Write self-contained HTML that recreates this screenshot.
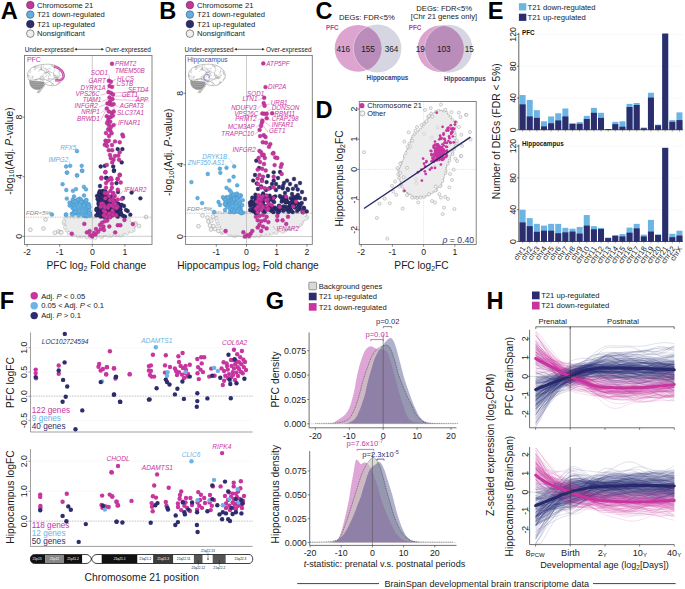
<!DOCTYPE html>
<html><head><meta charset="utf-8"><style>
html,body{margin:0;padding:0;background:#fff;}
g.h polyline{vector-effect:non-scaling-stroke;}
svg{display:block;font-family:"Liberation Sans", sans-serif;}
</style></head><body>
<svg width="685" height="589" viewBox="0 0 685 589" fill="#1a1a1a">
<rect width="685" height="589" fill="#fff"/>
<!--A-->
<text x="0.7" y="18.5" font-size="23.6" font-weight="bold" fill="#000">A</text>
<circle cx="30.3" cy="5.1" r="3.8" fill="#c8359f" stroke="#4a2a44" stroke-width="0.55"/>
<text x="36.9" y="7.85" font-size="7.65">Chromosome 21</text>
<circle cx="30.3" cy="14.6" r="3.8" fill="#62b0e2" stroke="#3a4a5a" stroke-width="0.55"/>
<text x="36.9" y="17.35" font-size="7.65">T21 down-regulated</text>
<circle cx="30.3" cy="24.1" r="3.8" fill="#2c2d6c" stroke="#1a1a3a" stroke-width="0.55"/>
<text x="36.9" y="26.85" font-size="7.65">T21 up-regulated</text>
<circle cx="30.3" cy="33.6" r="3.8" fill="#efefef" stroke="#333" stroke-width="0.55"/>
<text x="36.9" y="36.35" font-size="7.65">Nonsignificant</text>
<text x="24.7" y="51.6" font-size="6.4">Under-expressed</text>
<line x1="75.5" y1="49.3" x2="102.8" y2="49.3" stroke="#222" stroke-width="0.6"/>
<polygon points="74.3,49.3 76.9,48 76.9,50.6" fill="#222"/>
<polygon points="104,49.3 101.4,48 101.4,50.6" fill="#222"/>
<text x="150.8" y="51.6" font-size="6.4" text-anchor="end">Over-expressed</text>
<g transform="translate(27 64.2)">
<path d="M15.6 19.2 L18.4 20.4 L12.2 28.8 L9.9 28.4 Z" fill="#c4c4c4" stroke="#8a8a8a" stroke-width="0.3"/>
<path d="M2.7 16.4 C2 21 5 25.5 10 25.2 C14 25 17 22 17.3 18 C12 17.2 6.5 17 2.7 16.4 Z" fill="#a4a4a4" stroke="#747474" stroke-width="0.4"/>
<path d="M3.6 18.6 C8 19.6 12 19.6 16.6 19 M4 20.6 C8 21.6 12 21.6 16 21 M5 22.6 C8.5 23.5 11.5 23.4 14.8 22.8 M6.8 24.3 C9 24.8 11 24.7 13 24.2" fill="none" stroke="#707070" stroke-width="0.35"/>
<clipPath id="bc27"><path d="M2.7 16.4 C0.4 14 -0.3 10 1.5 7 C4 2.5 11 0 21 0 C29 0 36 4 37.2 10 C37.8 13.5 36.5 15.5 35 16.2 C33 19 30 21.5 27.6 21.4 C24 21.6 21.5 21 20 20.6 C18.5 19.5 17.5 18.5 17 18 C12 17 6 17 2.7 16.4 Z"/></clipPath>
<path d="M2.7 16.4 C0.4 14 -0.3 10 1.5 7 C4 2.5 11 0 21 0 C29 0 36 4 37.2 10 C37.8 13.5 36.5 15.5 35 16.2 C33 19 30 21.5 27.6 21.4 C24 21.6 21.5 21 20 20.6 C18.5 19.5 17.5 18.5 17 18 C12 17 6 17 2.7 16.4 Z" fill="#fff"/>
<g clip-path="url(#bc27)" fill="none" stroke="#8c8c8c" stroke-width="0.33">
<path d="M24.0 1.0 Q25.3 1.4 25.8 1.3 Q25.5 2.0 26.5 3.0 Q27.0 3.0 28.3 3.0"/>
<path d="M2.0 4.4 Q1.0 5.3 1.0 5.9 Q-0.7 6.6 -0.8 6.3 Q-1.9 5.6 -2.5 5.9"/>
<path d="M35.5 7.1 Q36.7 6.7 36.9 5.9 Q38.1 6.0 38.7 6.0 Q38.8 7.0 39.3 7.7"/>
<path d="M30.9 12.6 Q30.3 12.1 29.1 13.0 Q28.2 13.0 28.0 14.4 Q27.3 15.0 28.0 16.2"/>
<path d="M23.9 7.6 Q24.3 8.7 25.5 8.4 Q26.3 8.6 26.7 9.7 Q26.4 10.4 27.1 11.5"/>
<path d="M36.6 13.0 Q36.6 14.2 35.6 14.4 Q34.9 15.0 35.6 16.2 Q35.7 17.7 36.6 17.7"/>
<path d="M32.5 6.6 Q33.0 7.4 32.1 8.4 Q32.0 9.3 32.7 10.1 Q33.5 11.3 34.1 11.2"/>
<path d="M15.4 4.8 Q13.8 4.0 13.6 4.8 Q13.2 5.9 12.5 6.2 Q11.4 6.8 11.7 7.8"/>
<path d="M36.9 10.8 Q35.4 10.5 35.6 9.6 Q35.3 8.3 34.9 7.9 Q34.3 6.9 34.9 6.1"/>
<path d="M17.3 19.1 Q16.8 19.3 16.3 20.6 Q16.0 20.2 14.5 20.5 Q13.8 19.6 12.8 19.9"/>
<path d="M28.5 11.0 Q26.9 11.3 27.0 12.1 Q27.9 13.6 27.4 13.8 Q26.5 13.9 26.4 15.3"/>
<path d="M32.6 19.0 Q32.8 19.6 34.4 19.4 Q34.3 20.0 35.5 20.8 Q35.6 22.1 36.5 22.3"/>
<path d="M16.2 4.6 Q15.2 5.0 15.1 6.0 Q14.5 5.7 13.4 5.5 Q11.9 4.8 11.7 4.9"/>
<path d="M13.2 12.0 Q13.4 12.2 15.0 12.1 Q16.4 12.1 16.5 11.0 Q16.0 10.4 16.3 9.3"/>
<path d="M8.7 3.1 Q7.8 3.6 6.9 3.1 Q5.7 1.9 5.5 2.0 Q4.6 1.5 4.0 1.1"/>
<path d="M27.2 13.6 Q26.6 14.1 26.3 15.2 Q25.0 14.8 24.5 15.4 Q23.5 15.3 22.8 15.9"/>
<path d="M10.0 18.5 Q9.5 18.5 8.9 19.9 Q8.5 20.4 7.1 19.3 Q7.5 17.9 6.7 17.6"/>
<path d="M18.5 4.7 Q19.2 5.6 20.2 5.0 Q21.5 4.6 21.9 4.4 Q23.4 4.7 23.5 3.4"/>
<path d="M21.0 14.5 Q22.7 14.6 22.8 14.5 Q24.1 13.9 24.6 14.7 Q25.5 15.5 26.3 15.2"/>
<path d="M6.7 19.2 Q7.6 19.1 8.2 18.4 Q8.0 18.2 9.0 16.7 Q9.0 16.0 8.7 15.0"/>
<path d="M16.1 11.9 Q14.8 12.6 14.5 12.7 Q13.9 13.7 13.6 14.3 Q13.3 15.6 13.6 16.1"/>
<path d="M3.6 9.4 Q2.6 8.1 2.9 7.8 Q2.9 7.9 1.5 6.7 Q1.2 5.3 1.4 4.9"/>
<path d="M31.0 14.2 Q30.4 13.5 29.2 14.3 Q28.2 14.0 27.9 13.1 Q27.4 11.6 28.2 11.4"/>
<path d="M4.9 11.3 Q5.6 11.6 5.7 12.9 Q5.4 13.8 5.9 14.7 Q5.8 14.6 4.6 15.9"/>
<path d="M16.2 5.9 Q17.2 6.1 17.7 7.0 Q18.0 7.7 18.3 8.7 Q18.5 9.4 20.0 8.8"/>
<path d="M33.5 11.1 Q32.1 10.8 31.8 11.7 Q31.8 12.8 30.6 13.0 Q30.3 12.4 28.8 12.8"/>
<path d="M10.0 2.5 Q9.0 2.5 8.2 2.1 Q8.2 3.2 6.7 3.1 Q6.5 3.3 5.2 2.2"/>
<path d="M1.9 14.9 Q1.9 16.2 1.0 16.4 Q-0.2 17.2 -0.7 17.0 Q-0.4 18.4 -1.2 18.7"/>
<path d="M9.0 16.4 Q10.0 16.7 10.0 17.9 Q10.4 17.5 11.8 17.6 Q13.2 17.9 13.2 18.8"/>
<path d="M24.1 8.3 Q23.9 7.7 22.3 8.2 Q21.4 8.2 21.6 6.6 Q20.2 6.0 20.1 5.6"/>
<path d="M27.2 6.6 Q26.7 7.6 26.6 8.3 Q27.1 8.4 27.0 10.1 Q26.4 11.0 25.7 11.3"/>
<path d="M27.7 13.6 Q28.9 13.4 29.5 13.8 Q30.9 13.8 31.2 13.2 Q31.5 12.4 32.4 11.9"/>
<path d="M15.5 6.3 Q17.1 6.7 17.2 6.6 Q17.8 7.2 17.9 8.3 Q17.4 8.8 18.4 10.0"/>
<path d="M16.5 11.8 Q16.0 12.2 15.8 13.5 Q16.1 14.8 15.2 15.2 Q14.9 16.0 16.0 16.8"/>
<path d="M23.8 7.0 Q23.2 6.6 22.0 7.0 Q20.5 7.1 20.6 8.1 Q20.5 8.1 19.3 9.4"/>
<path d="M15.9 12.8 Q16.3 13.2 16.8 14.4 Q16.1 15.7 17.0 16.2 Q15.9 16.8 16.1 17.7"/>
<path d="M7.3 19.2 Q7.7 20.2 8.9 20.1 Q10.2 20.8 10.5 20.9 Q10.6 22.5 10.4 22.7"/>
<path d="M33.1 12.4 Q33.0 13.2 31.9 13.8 Q31.4 13.7 30.1 13.7 Q28.9 14.3 28.6 14.5"/>
<path d="M28.6 10.7 Q28.0 11.2 28.8 12.4 Q29.1 13.2 30.0 13.8 Q30.4 14.2 31.8 13.9"/>
<path d="M26.4 1.8 Q26.5 2.2 26.8 3.5 Q27.8 4.5 27.4 5.2 Q27.9 6.5 27.3 7.0"/>
<path d="M14.7 0.6 Q15.1 2.2 14.4 2.4 Q14.9 3.4 14.5 4.2 Q13.9 4.6 14.2 6.0"/>
<path d="M16.7 1.1 Q16.6 1.4 16.8 2.9 Q16.4 3.9 17.1 4.6 Q17.8 5.0 18.9 5.1"/>
<path d="M2.0 13.0 Q2.1 13.1 3.7 13.6 Q4.2 13.7 5.4 13.0 Q6.5 13.0 6.8 11.9"/>
<path d="M10.1 2.1 Q11.8 2.0 11.9 2.4 Q13.1 3.1 13.4 3.3 Q14.5 3.6 14.2 4.9"/>
<path d="M1.7 3.5 Q2.5 3.7 3.0 4.8 Q3.7 5.1 3.5 6.5 Q3.9 6.8 3.6 8.3"/>
<path d="M30.5 19.3 Q30.8 19.0 31.8 18.0 Q32.4 18.6 33.5 18.6 Q34.5 18.2 34.8 17.4"/>
<path d="M4.7 15.6 Q3.2 16.5 2.9 16.0 Q1.9 15.5 1.3 15.2 Q0.4 14.8 -0.5 14.9"/>
<path d="M31.6 16.5 Q31.9 18.0 31.8 18.3 Q31.4 19.5 31.2 20.0 Q29.9 20.6 29.4 20.2"/>
<path d="M20.4 9.9 Q19.7 11.3 19.8 11.6 Q18.3 12.6 18.1 12.4 Q17.6 13.3 17.2 13.9"/>
<path d="M14.6 1.1 Q13.9 2.4 14.0 2.8 Q14.7 4.0 14.1 4.6 Q13.8 6.0 15.1 6.1"/>
<path d="M4.1 14.5 Q3.9 15.5 3.1 16.0 Q3.1 16.2 2.1 17.6 Q2.5 18.2 2.3 19.4"/>
<path d="M21.9 9.7 Q22.4 10.4 22.1 11.5 Q21.4 12.0 21.4 13.2 Q21.3 13.4 22.2 14.8"/>
<path d="M20.3 15.4 Q21.2 15.6 22.1 15.2 Q22.6 15.6 23.0 16.7 Q23.4 16.4 24.8 16.9"/>
<path d="M7.5 0.8 Q8.6 1.7 8.2 2.4 Q7.6 3.9 8.1 4.2 Q8.7 5.2 8.1 6.0"/>
<path d="M17.9 9.1 Q19.4 8.6 19.5 8.2 Q20.2 7.8 21.2 8.7 Q21.2 8.7 22.7 9.7"/>
<path d="M21.3 6.4 Q21.2 7.3 20.2 7.9 Q18.9 8.1 18.4 8.3 Q17.5 9.2 16.8 8.9"/>
<path d="M36.6 6.5 Q36.5 7.9 35.6 7.9 Q35.2 9.1 35.7 9.7 Q35.8 9.6 37.1 10.8"/>
<path d="M1.1 9.3 Q0.9 10.5 1.5 11.0 Q1.1 12.2 1.0 12.8 Q0.6 13.2 -0.8 13.3"/>
<path d="M24.8 18.7 Q25.2 20.3 25.0 20.5 Q23.8 20.7 23.9 21.9 Q24.2 22.9 23.6 23.7"/>
<path d="M11.4 2.9 Q11.3 3.4 9.8 3.8 Q8.4 3.5 8.2 4.7 Q7.3 4.8 6.8 5.8"/>
<path d="M4.3 19.3 Q4.2 20.4 2.6 19.9 Q1.3 19.0 0.8 19.7 Q0.1 19.4 -0.6 18.6"/>
<path d="M34.0 4.0 Q33.5 4.1 33.0 5.5 Q32.5 6.7 32.6 7.3 Q31.5 8.0 31.0 8.1"/>
<path d="M11.4 18.9 Q10.5 19.0 9.8 19.7 Q10.0 20.3 8.6 21.1 Q8.8 22.1 7.5 22.5"/>
<path d="M20.5 8.6 Q21.8 9.0 22.3 9.0 Q22.4 9.8 23.4 10.4 Q23.0 11.6 22.8 12.1"/>
<path d="M5.4 19.5 Q5.1 20.4 5.9 21.2 Q5.4 22.9 6.2 23.0 Q5.4 23.0 4.8 24.2"/>
<path d="M31.0 10.2 Q30.0 11.4 29.8 11.6 Q28.5 11.4 28.1 11.1 Q27.8 11.1 26.3 11.1"/>
<path d="M32.7 17.3 Q32.5 18.9 32.7 19.1 Q33.2 19.7 32.6 20.9 Q33.2 22.5 33.5 22.6"/>
<path d="M18.6 3.4 Q18.9 4.3 19.1 5.1 Q19.1 5.5 19.7 6.8 Q19.7 7.3 19.5 8.6"/>
<path d="M28.9 1.4 Q28.6 1.4 27.2 1.9 Q26.8 2.6 25.4 1.8 Q23.8 1.7 23.6 1.6"/>
<path d="M22.2 17.5 Q21.5 17.9 20.7 18.4 Q19.7 18.6 18.9 18.4 Q18.3 19.8 17.7 19.7"/>
<path d="M13.2 14.0 Q12.9 14.8 11.4 14.5 Q10.4 15.3 9.9 15.4 Q9.6 14.6 8.1 15.3"/>
<path d="M3.5 12.8 Q3.3 12.0 2.4 11.3 Q1.7 12.0 0.6 11.4 Q0.0 12.2 -1.2 11.7"/>
<path d="M2.7 16.0 Q2.8 16.6 4.1 17.1 Q5.2 17.2 5.4 18.3 Q6.9 18.3 7.2 17.9"/>
<path d="M9.7 18.3 Q10.1 18.2 11.4 18.9 Q12.5 18.9 12.6 17.6 Q12.9 17.2 14.2 16.9"/>
<path d="M13.4 12.0 Q12.8 13.4 13.0 13.7 Q13.2 14.5 13.8 15.3 Q14.7 15.8 15.4 16.1"/>
<path d="M6 16 C12 14 19 13.5 27 20.5" stroke="#777" stroke-width="0.45"/>
</g>
<path d="M2.7 16.4 C0.4 14 -0.3 10 1.5 7 C4 2.5 11 0 21 0 C29 0 36 4 37.2 10 C37.8 13.5 36.5 15.5 35 16.2 C33 19 30 21.5 27.6 21.4 C24 21.6 21.5 21 20 20.6 C18.5 19.5 17.5 18.5 17 18 C12 17 6 17 2.7 16.4 Z" fill="none" stroke="#7a7a7a" stroke-width="0.45"/>
<path d="M27 2.2 C33 3.6 37.2 8.2 36.4 12.6 C35.7 15.6 32 16.4 28.2 16" fill="none" stroke="#c8359f" stroke-width="2.4"/>
<path d="M27.2 2.3 C33 3.7 37.1 8.3 36.3 12.6 C35.6 15.5 32 16.3 28.2 16" fill="none" stroke="#eaa6d8" stroke-width="0.8"/>
</g>
<text x="26.9" y="61.92" font-size="7" fill="#c8359f">PFC</text>
<g>
<polygon points="65.3,218.4 119.1,217.6 128.3,219.9 136.2,225.2 133.6,230.4 121.8,234.4 99.4,236.4 92.2,237.9 83.7,236.4 71.8,234.4 65.9,229.1 64.6,222.6" fill="#ebebeb" stroke="#9a9a9a" stroke-width="0.5"/>
<circle cx="30.4" cy="229.7" r="1.9" fill="#f2f2f2" stroke="#8a8a8a" stroke-width="0.45"/>
<circle cx="43.5" cy="228.5" r="1.9" fill="#f2f2f2" stroke="#8a8a8a" stroke-width="0.45"/>
<circle cx="45.6" cy="219.6" r="1.9" fill="#f2f2f2" stroke="#8a8a8a" stroke-width="0.45"/>
<circle cx="54.9" cy="232.7" r="1.9" fill="#f2f2f2" stroke="#8a8a8a" stroke-width="0.45"/>
<circle cx="58.4" cy="231.5" r="1.9" fill="#f2f2f2" stroke="#8a8a8a" stroke-width="0.45"/>
<circle cx="60.7" cy="232.2" r="1.9" fill="#f2f2f2" stroke="#8a8a8a" stroke-width="0.45"/>
<circle cx="146.1" cy="217" r="1.9" fill="#f2f2f2" stroke="#8a8a8a" stroke-width="0.45"/>
<circle cx="61.3" cy="232.4" r="1.9" fill="#f2f2f2" stroke="#8a8a8a" stroke-width="0.45"/>
<circle cx="133.2" cy="225.7" r="1.9" fill="#f2f2f2" stroke="#8a8a8a" stroke-width="0.45"/>
<circle cx="135.5" cy="223.4" r="1.9" fill="#f2f2f2" stroke="#8a8a8a" stroke-width="0.45"/>
<circle cx="139" cy="226" r="1.9" fill="#f2f2f2" stroke="#8a8a8a" stroke-width="0.45"/>
<circle cx="68" cy="226" r="1.9" fill="#f2f2f2" stroke="#8a8a8a" stroke-width="0.45"/>
<circle cx="70" cy="230" r="1.9" fill="#f2f2f2" stroke="#8a8a8a" stroke-width="0.45"/>
<circle cx="65.63" cy="218.56" r="1.9" fill="#ececec" stroke="#a0a0a0" stroke-width="0.35"/>
<circle cx="68.76" cy="218.19" r="1.9" fill="#ececec" stroke="#a0a0a0" stroke-width="0.35"/>
<circle cx="72.03" cy="217.74" r="1.9" fill="#ececec" stroke="#a0a0a0" stroke-width="0.35"/>
<circle cx="75.96" cy="217.74" r="1.9" fill="#ececec" stroke="#a0a0a0" stroke-width="0.35"/>
<circle cx="80.5" cy="217.73" r="1.9" fill="#ececec" stroke="#a0a0a0" stroke-width="0.35"/>
<circle cx="82.87" cy="218.68" r="1.9" fill="#ececec" stroke="#a0a0a0" stroke-width="0.35"/>
<circle cx="87.05" cy="218.64" r="1.9" fill="#ececec" stroke="#a0a0a0" stroke-width="0.35"/>
<circle cx="89.37" cy="217.8" r="1.9" fill="#ececec" stroke="#a0a0a0" stroke-width="0.35"/>
<circle cx="91.87" cy="217.76" r="1.9" fill="#ececec" stroke="#a0a0a0" stroke-width="0.35"/>
<circle cx="97.6" cy="218.01" r="1.9" fill="#ececec" stroke="#a0a0a0" stroke-width="0.35"/>
<circle cx="100.67" cy="217.93" r="1.9" fill="#ececec" stroke="#a0a0a0" stroke-width="0.35"/>
<circle cx="101.59" cy="217.49" r="1.9" fill="#ececec" stroke="#a0a0a0" stroke-width="0.35"/>
<circle cx="107.62" cy="217.54" r="1.9" fill="#ececec" stroke="#a0a0a0" stroke-width="0.35"/>
<circle cx="110.71" cy="217.48" r="1.9" fill="#ececec" stroke="#a0a0a0" stroke-width="0.35"/>
<circle cx="115.16" cy="217.35" r="1.9" fill="#ececec" stroke="#a0a0a0" stroke-width="0.35"/>
<circle cx="117.51" cy="218.07" r="1.9" fill="#ececec" stroke="#a0a0a0" stroke-width="0.35"/>
<circle cx="121.92" cy="219.02" r="1.9" fill="#ececec" stroke="#a0a0a0" stroke-width="0.35"/>
<circle cx="123.91" cy="219.19" r="1.9" fill="#ececec" stroke="#a0a0a0" stroke-width="0.35"/>
<circle cx="128.68" cy="219.75" r="1.9" fill="#ececec" stroke="#a0a0a0" stroke-width="0.35"/>
<circle cx="135.11" cy="224.41" r="1.9" fill="#ececec" stroke="#a0a0a0" stroke-width="0.35"/>
<circle cx="133.43" cy="229.99" r="1.9" fill="#ececec" stroke="#a0a0a0" stroke-width="0.35"/>
<circle cx="131.19" cy="231.14" r="1.9" fill="#ececec" stroke="#a0a0a0" stroke-width="0.35"/>
<circle cx="126.87" cy="232.82" r="1.9" fill="#ececec" stroke="#a0a0a0" stroke-width="0.35"/>
<circle cx="122.22" cy="234.19" r="1.9" fill="#ececec" stroke="#a0a0a0" stroke-width="0.35"/>
<circle cx="120.32" cy="234.97" r="1.9" fill="#ececec" stroke="#a0a0a0" stroke-width="0.35"/>
<circle cx="117.31" cy="234.97" r="1.9" fill="#ececec" stroke="#a0a0a0" stroke-width="0.35"/>
<circle cx="115.07" cy="234.58" r="1.9" fill="#ececec" stroke="#a0a0a0" stroke-width="0.35"/>
<circle cx="110.92" cy="235.61" r="1.9" fill="#ececec" stroke="#a0a0a0" stroke-width="0.35"/>
<circle cx="107.98" cy="235.45" r="1.9" fill="#ececec" stroke="#a0a0a0" stroke-width="0.35"/>
<circle cx="102.14" cy="236.02" r="1.9" fill="#ececec" stroke="#a0a0a0" stroke-width="0.35"/>
<circle cx="101.26" cy="236.65" r="1.9" fill="#ececec" stroke="#a0a0a0" stroke-width="0.35"/>
<circle cx="95.74" cy="236.95" r="1.9" fill="#ececec" stroke="#a0a0a0" stroke-width="0.35"/>
<circle cx="94.92" cy="237.97" r="1.9" fill="#ececec" stroke="#a0a0a0" stroke-width="0.35"/>
<circle cx="90.84" cy="237.47" r="1.9" fill="#ececec" stroke="#a0a0a0" stroke-width="0.35"/>
<circle cx="86.73" cy="237.08" r="1.9" fill="#ececec" stroke="#a0a0a0" stroke-width="0.35"/>
<circle cx="81.66" cy="236.13" r="1.9" fill="#ececec" stroke="#a0a0a0" stroke-width="0.35"/>
<circle cx="78.17" cy="236.03" r="1.9" fill="#ececec" stroke="#a0a0a0" stroke-width="0.35"/>
<circle cx="72.85" cy="234.75" r="1.9" fill="#ececec" stroke="#a0a0a0" stroke-width="0.35"/>
<circle cx="68.89" cy="233.09" r="1.9" fill="#ececec" stroke="#a0a0a0" stroke-width="0.35"/>
<circle cx="66.95" cy="230.04" r="1.9" fill="#ececec" stroke="#a0a0a0" stroke-width="0.35"/>
<circle cx="65.28" cy="227.35" r="1.9" fill="#ececec" stroke="#a0a0a0" stroke-width="0.35"/>
<circle cx="63.94" cy="223.27" r="1.9" fill="#ececec" stroke="#a0a0a0" stroke-width="0.35"/>
<circle cx="64.01" cy="221.53" r="1.9" fill="#ececec" stroke="#a0a0a0" stroke-width="0.35"/>
<polygon points="66.45,218.75 118.04,218.16 127.15,220.23 135,225.31 132.4,230.34 120.64,234.11 99.26,235.21 92.87,236.9 84.76,235.84 72.97,234.14 67.1,229.08 65.78,222.81" fill="#ebebeb"/>
</g>
<line x1="92.3" y1="55.5" x2="92.3" y2="244.5" stroke="#a8a8a8" stroke-width="0.6"/>
<line x1="24.5" y1="236.3" x2="152" y2="236.3" stroke="#a8a8a8" stroke-width="0.6"/>
<line x1="24.5" y1="217.2" x2="152" y2="217.2" stroke="#777" stroke-width="0.5" stroke-dasharray="0.8 0.9"/>
<text x="26" y="215.13" font-size="6.2" font-style="italic" fill="#8a8a8a">FDR&lt;5%</text>
<polygon points="70.69,202.08 75.39,199.63 80.67,198.47 85.06,200.61 86.83,202.13 88.7,208.85 89.36,215.47 73.32,215.23 71.95,208.73 70.79,204.39" fill="#62b0e2"/>
<circle cx="87.82" cy="209" r="1.9" fill="#62b0e2" stroke="#3f8cc0" stroke-width="0.35"/>
<circle cx="72.36" cy="201.87" r="1.9" fill="#62b0e2" stroke="#3f8cc0" stroke-width="0.35"/>
<circle cx="76.6" cy="204.07" r="1.9" fill="#62b0e2" stroke="#3f8cc0" stroke-width="0.35"/>
<circle cx="71.82" cy="213.62" r="1.9" fill="#62b0e2" stroke="#3f8cc0" stroke-width="0.35"/>
<circle cx="79.51" cy="198.59" r="1.9" fill="#62b0e2" stroke="#3f8cc0" stroke-width="0.35"/>
<circle cx="71.38" cy="203.65" r="1.9" fill="#62b0e2" stroke="#3f8cc0" stroke-width="0.35"/>
<circle cx="74.84" cy="213.23" r="1.9" fill="#62b0e2" stroke="#3f8cc0" stroke-width="0.35"/>
<circle cx="89.46" cy="207.31" r="1.9" fill="#62b0e2" stroke="#3f8cc0" stroke-width="0.35"/>
<circle cx="72.32" cy="207.6" r="1.9" fill="#62b0e2" stroke="#3f8cc0" stroke-width="0.35"/>
<circle cx="90.04" cy="213.91" r="1.9" fill="#62b0e2" stroke="#3f8cc0" stroke-width="0.35"/>
<circle cx="84.03" cy="202.04" r="1.9" fill="#62b0e2" stroke="#3f8cc0" stroke-width="0.35"/>
<circle cx="77.01" cy="200.19" r="1.9" fill="#62b0e2" stroke="#3f8cc0" stroke-width="0.35"/>
<circle cx="85.64" cy="207.39" r="1.9" fill="#62b0e2" stroke="#3f8cc0" stroke-width="0.35"/>
<circle cx="85.79" cy="203.39" r="1.9" fill="#62b0e2" stroke="#3f8cc0" stroke-width="0.35"/>
<circle cx="73.95" cy="212.89" r="1.9" fill="#62b0e2" stroke="#3f8cc0" stroke-width="0.35"/>
<circle cx="90.18" cy="213.7" r="1.9" fill="#62b0e2" stroke="#3f8cc0" stroke-width="0.35"/>
<circle cx="86.37" cy="213.02" r="1.9" fill="#62b0e2" stroke="#3f8cc0" stroke-width="0.35"/>
<circle cx="84.96" cy="201.37" r="1.9" fill="#62b0e2" stroke="#3f8cc0" stroke-width="0.35"/>
<circle cx="75.15" cy="202.01" r="1.9" fill="#62b0e2" stroke="#3f8cc0" stroke-width="0.35"/>
<circle cx="83.95" cy="215.74" r="1.9" fill="#62b0e2" stroke="#3f8cc0" stroke-width="0.35"/>
<circle cx="78.73" cy="215.36" r="1.9" fill="#62b0e2" stroke="#3f8cc0" stroke-width="0.35"/>
<circle cx="90.25" cy="215.71" r="1.9" fill="#62b0e2" stroke="#3f8cc0" stroke-width="0.35"/>
<circle cx="76.97" cy="201.24" r="1.9" fill="#62b0e2" stroke="#3f8cc0" stroke-width="0.35"/>
<circle cx="74.03" cy="200.78" r="1.9" fill="#62b0e2" stroke="#3f8cc0" stroke-width="0.35"/>
<circle cx="73.55" cy="209.19" r="1.9" fill="#62b0e2" stroke="#3f8cc0" stroke-width="0.35"/>
<circle cx="88.38" cy="213.46" r="1.9" fill="#62b0e2" stroke="#3f8cc0" stroke-width="0.35"/>
<circle cx="79.41" cy="209.76" r="1.9" fill="#62b0e2" stroke="#3f8cc0" stroke-width="0.35"/>
<circle cx="83.27" cy="214.82" r="1.9" fill="#62b0e2" stroke="#3f8cc0" stroke-width="0.35"/>
<circle cx="85.86" cy="211.68" r="1.9" fill="#62b0e2" stroke="#3f8cc0" stroke-width="0.35"/>
<circle cx="79.38" cy="200.42" r="1.9" fill="#62b0e2" stroke="#3f8cc0" stroke-width="0.35"/>
<circle cx="86.01" cy="203.45" r="1.9" fill="#62b0e2" stroke="#3f8cc0" stroke-width="0.35"/>
<circle cx="86.26" cy="216.04" r="1.9" fill="#62b0e2" stroke="#3f8cc0" stroke-width="0.35"/>
<circle cx="89.37" cy="211.18" r="1.9" fill="#62b0e2" stroke="#3f8cc0" stroke-width="0.35"/>
<circle cx="72.82" cy="199.4" r="1.9" fill="#62b0e2" stroke="#3f8cc0" stroke-width="0.35"/>
<circle cx="72.42" cy="214.73" r="1.9" fill="#62b0e2" stroke="#3f8cc0" stroke-width="0.35"/>
<circle cx="86.38" cy="199.78" r="1.9" fill="#62b0e2" stroke="#3f8cc0" stroke-width="0.35"/>
<circle cx="86.8" cy="216.21" r="1.9" fill="#62b0e2" stroke="#3f8cc0" stroke-width="0.35"/>
<circle cx="83.2" cy="203.8" r="1.9" fill="#62b0e2" stroke="#3f8cc0" stroke-width="0.35"/>
<circle cx="80.89" cy="199.48" r="1.9" fill="#62b0e2" stroke="#3f8cc0" stroke-width="0.35"/>
<circle cx="83.04" cy="207.27" r="1.9" fill="#62b0e2" stroke="#3f8cc0" stroke-width="0.35"/>
<circle cx="89.09" cy="205.45" r="1.9" fill="#62b0e2" stroke="#3f8cc0" stroke-width="0.35"/>
<circle cx="87.77" cy="213.18" r="1.9" fill="#62b0e2" stroke="#3f8cc0" stroke-width="0.35"/>
<circle cx="73.7" cy="201.86" r="1.9" fill="#62b0e2" stroke="#3f8cc0" stroke-width="0.35"/>
<circle cx="75.44" cy="201.64" r="1.9" fill="#62b0e2" stroke="#3f8cc0" stroke-width="0.35"/>
<circle cx="81.69" cy="202.01" r="1.9" fill="#62b0e2" stroke="#3f8cc0" stroke-width="0.35"/>
<circle cx="78.12" cy="199.48" r="1.9" fill="#62b0e2" stroke="#3f8cc0" stroke-width="0.35"/>
<circle cx="88.58" cy="203.87" r="1.9" fill="#62b0e2" stroke="#3f8cc0" stroke-width="0.35"/>
<circle cx="88.46" cy="205.19" r="1.9" fill="#62b0e2" stroke="#3f8cc0" stroke-width="0.35"/>
<circle cx="88.75" cy="206.78" r="1.9" fill="#62b0e2" stroke="#3f8cc0" stroke-width="0.35"/>
<circle cx="69.6" cy="205.57" r="1.9" fill="#62b0e2" stroke="#3f8cc0" stroke-width="0.35"/>
<circle cx="86.22" cy="200.3" r="1.9" fill="#62b0e2" stroke="#3f8cc0" stroke-width="0.35"/>
<circle cx="79.29" cy="211.19" r="1.9" fill="#62b0e2" stroke="#3f8cc0" stroke-width="0.35"/>
<circle cx="81.13" cy="201.8" r="1.9" fill="#62b0e2" stroke="#3f8cc0" stroke-width="0.35"/>
<circle cx="75.1" cy="212.11" r="1.9" fill="#62b0e2" stroke="#3f8cc0" stroke-width="0.35"/>
<circle cx="85.39" cy="214.88" r="1.9" fill="#62b0e2" stroke="#3f8cc0" stroke-width="0.35"/>
<circle cx="83.96" cy="205.81" r="1.9" fill="#62b0e2" stroke="#3f8cc0" stroke-width="0.35"/>
<circle cx="89.25" cy="210.67" r="1.9" fill="#62b0e2" stroke="#3f8cc0" stroke-width="0.35"/>
<circle cx="87.87" cy="215.46" r="1.9" fill="#62b0e2" stroke="#3f8cc0" stroke-width="0.35"/>
<circle cx="74.73" cy="207.92" r="1.9" fill="#62b0e2" stroke="#3f8cc0" stroke-width="0.35"/>
<circle cx="89.29" cy="213.45" r="1.9" fill="#62b0e2" stroke="#3f8cc0" stroke-width="0.35"/>
<circle cx="77" cy="151.2" r="1.9" fill="#62b0e2" stroke="#3f8cc0" stroke-width="0.4"/>
<circle cx="66.1" cy="166.5" r="1.9" fill="#62b0e2" stroke="#3f8cc0" stroke-width="0.4"/>
<circle cx="70.2" cy="165.8" r="1.9" fill="#62b0e2" stroke="#3f8cc0" stroke-width="0.4"/>
<circle cx="81.7" cy="165.8" r="1.9" fill="#62b0e2" stroke="#3f8cc0" stroke-width="0.4"/>
<circle cx="82" cy="170.6" r="1.9" fill="#62b0e2" stroke="#3f8cc0" stroke-width="0.4"/>
<circle cx="66.8" cy="172.6" r="1.9" fill="#62b0e2" stroke="#3f8cc0" stroke-width="0.4"/>
<circle cx="77" cy="175.3" r="1.9" fill="#62b0e2" stroke="#3f8cc0" stroke-width="0.4"/>
<circle cx="67.2" cy="172.6" r="1.9" fill="#62b0e2" stroke="#3f8cc0" stroke-width="0.4"/>
<circle cx="82.3" cy="171" r="1.9" fill="#62b0e2" stroke="#3f8cc0" stroke-width="0.4"/>
<circle cx="77.1" cy="175.5" r="1.9" fill="#62b0e2" stroke="#3f8cc0" stroke-width="0.4"/>
<circle cx="62.6" cy="184.2" r="1.9" fill="#62b0e2" stroke="#3f8cc0" stroke-width="0.4"/>
<circle cx="66.3" cy="190" r="1.9" fill="#62b0e2" stroke="#3f8cc0" stroke-width="0.4"/>
<circle cx="72.9" cy="190.8" r="1.9" fill="#62b0e2" stroke="#3f8cc0" stroke-width="0.4"/>
<circle cx="76" cy="189.1" r="1.9" fill="#62b0e2" stroke="#3f8cc0" stroke-width="0.4"/>
<circle cx="83.9" cy="186.8" r="1.9" fill="#62b0e2" stroke="#3f8cc0" stroke-width="0.4"/>
<circle cx="86" cy="189.4" r="1.9" fill="#62b0e2" stroke="#3f8cc0" stroke-width="0.4"/>
<circle cx="66.8" cy="198.6" r="1.9" fill="#62b0e2" stroke="#3f8cc0" stroke-width="0.4"/>
<circle cx="69.5" cy="202.6" r="1.9" fill="#62b0e2" stroke="#3f8cc0" stroke-width="0.4"/>
<circle cx="65.9" cy="214.7" r="1.9" fill="#62b0e2" stroke="#3f8cc0" stroke-width="0.4"/>
<circle cx="51.9" cy="214.5" r="1.9" fill="#62b0e2" stroke="#3f8cc0" stroke-width="0.4"/>
<circle cx="66.1" cy="214.5" r="1.9" fill="#62b0e2" stroke="#3f8cc0" stroke-width="0.4"/>
<circle cx="74" cy="196.5" r="1.9" fill="#62b0e2" stroke="#3f8cc0" stroke-width="0.4"/>
<circle cx="84" cy="195.5" r="1.9" fill="#62b0e2" stroke="#3f8cc0" stroke-width="0.4"/>
<polygon points="97.7,202.87 100.48,192.18 105.31,191.18 107.85,196.5 112,197.78 115,200.76 120.2,202.86 120.62,212.32 124.53,216.2 95.95,216.19" fill="#2c2d6c"/>
<circle cx="99.04" cy="193.06" r="1.9" fill="#2c2d6c" stroke="#1c1d4c" stroke-width="0.35"/>
<circle cx="102.24" cy="191.72" r="1.9" fill="#2c2d6c" stroke="#1c1d4c" stroke-width="0.35"/>
<circle cx="115.49" cy="211.34" r="1.9" fill="#2c2d6c" stroke="#1c1d4c" stroke-width="0.35"/>
<circle cx="116.93" cy="207.92" r="1.9" fill="#2c2d6c" stroke="#1c1d4c" stroke-width="0.35"/>
<circle cx="99.22" cy="214.07" r="1.9" fill="#2c2d6c" stroke="#1c1d4c" stroke-width="0.35"/>
<circle cx="109.86" cy="217.02" r="1.9" fill="#2c2d6c" stroke="#1c1d4c" stroke-width="0.35"/>
<circle cx="108.13" cy="203.93" r="1.9" fill="#2c2d6c" stroke="#1c1d4c" stroke-width="0.35"/>
<circle cx="105.28" cy="195.1" r="1.9" fill="#2c2d6c" stroke="#1c1d4c" stroke-width="0.35"/>
<circle cx="104.64" cy="209.63" r="1.9" fill="#2c2d6c" stroke="#1c1d4c" stroke-width="0.35"/>
<circle cx="105.04" cy="206.92" r="1.9" fill="#2c2d6c" stroke="#1c1d4c" stroke-width="0.35"/>
<circle cx="103.01" cy="190.79" r="1.9" fill="#2c2d6c" stroke="#1c1d4c" stroke-width="0.35"/>
<circle cx="98.8" cy="201.35" r="1.9" fill="#2c2d6c" stroke="#1c1d4c" stroke-width="0.35"/>
<circle cx="102.79" cy="193.82" r="1.9" fill="#2c2d6c" stroke="#1c1d4c" stroke-width="0.35"/>
<circle cx="96.58" cy="208.69" r="1.9" fill="#2c2d6c" stroke="#1c1d4c" stroke-width="0.35"/>
<circle cx="105.28" cy="204.96" r="1.9" fill="#2c2d6c" stroke="#1c1d4c" stroke-width="0.35"/>
<circle cx="98.79" cy="204.24" r="1.9" fill="#2c2d6c" stroke="#1c1d4c" stroke-width="0.35"/>
<circle cx="102.17" cy="192.72" r="1.9" fill="#2c2d6c" stroke="#1c1d4c" stroke-width="0.35"/>
<circle cx="99.79" cy="191.09" r="1.9" fill="#2c2d6c" stroke="#1c1d4c" stroke-width="0.35"/>
<circle cx="101.03" cy="198.31" r="1.9" fill="#2c2d6c" stroke="#1c1d4c" stroke-width="0.35"/>
<circle cx="104.22" cy="210.66" r="1.9" fill="#2c2d6c" stroke="#1c1d4c" stroke-width="0.35"/>
<circle cx="103.76" cy="203.5" r="1.9" fill="#2c2d6c" stroke="#1c1d4c" stroke-width="0.35"/>
<circle cx="100.3" cy="199.28" r="1.9" fill="#2c2d6c" stroke="#1c1d4c" stroke-width="0.35"/>
<circle cx="109.47" cy="215.5" r="1.9" fill="#2c2d6c" stroke="#1c1d4c" stroke-width="0.35"/>
<circle cx="98.08" cy="212.3" r="1.9" fill="#2c2d6c" stroke="#1c1d4c" stroke-width="0.35"/>
<circle cx="108.15" cy="203.36" r="1.9" fill="#2c2d6c" stroke="#1c1d4c" stroke-width="0.35"/>
<circle cx="110.46" cy="208.68" r="1.9" fill="#2c2d6c" stroke="#1c1d4c" stroke-width="0.35"/>
<circle cx="120.52" cy="209.21" r="1.9" fill="#2c2d6c" stroke="#1c1d4c" stroke-width="0.35"/>
<circle cx="114.45" cy="200.87" r="1.9" fill="#2c2d6c" stroke="#1c1d4c" stroke-width="0.35"/>
<circle cx="99.84" cy="192.03" r="1.9" fill="#2c2d6c" stroke="#1c1d4c" stroke-width="0.35"/>
<circle cx="120.8" cy="213.73" r="1.9" fill="#2c2d6c" stroke="#1c1d4c" stroke-width="0.35"/>
<circle cx="102.28" cy="197.79" r="1.9" fill="#2c2d6c" stroke="#1c1d4c" stroke-width="0.35"/>
<circle cx="108.58" cy="196.97" r="1.9" fill="#2c2d6c" stroke="#1c1d4c" stroke-width="0.35"/>
<circle cx="124.52" cy="216.54" r="1.9" fill="#2c2d6c" stroke="#1c1d4c" stroke-width="0.35"/>
<circle cx="111.7" cy="196.45" r="1.9" fill="#2c2d6c" stroke="#1c1d4c" stroke-width="0.35"/>
<circle cx="106.59" cy="202.8" r="1.9" fill="#2c2d6c" stroke="#1c1d4c" stroke-width="0.35"/>
<circle cx="102.96" cy="192.18" r="1.9" fill="#2c2d6c" stroke="#1c1d4c" stroke-width="0.35"/>
<circle cx="101.99" cy="205.86" r="1.9" fill="#2c2d6c" stroke="#1c1d4c" stroke-width="0.35"/>
<circle cx="111.15" cy="210.41" r="1.9" fill="#2c2d6c" stroke="#1c1d4c" stroke-width="0.35"/>
<circle cx="115.12" cy="209.46" r="1.9" fill="#2c2d6c" stroke="#1c1d4c" stroke-width="0.35"/>
<circle cx="104.88" cy="216.88" r="1.9" fill="#2c2d6c" stroke="#1c1d4c" stroke-width="0.35"/>
<circle cx="99.42" cy="209.69" r="1.9" fill="#2c2d6c" stroke="#1c1d4c" stroke-width="0.35"/>
<circle cx="120.61" cy="214.32" r="1.9" fill="#2c2d6c" stroke="#1c1d4c" stroke-width="0.35"/>
<circle cx="114.18" cy="209.95" r="1.9" fill="#2c2d6c" stroke="#1c1d4c" stroke-width="0.35"/>
<circle cx="110.98" cy="203.62" r="1.9" fill="#2c2d6c" stroke="#1c1d4c" stroke-width="0.35"/>
<circle cx="120.6" cy="211.91" r="1.9" fill="#2c2d6c" stroke="#1c1d4c" stroke-width="0.35"/>
<circle cx="120.34" cy="205.82" r="1.9" fill="#2c2d6c" stroke="#1c1d4c" stroke-width="0.35"/>
<circle cx="105.95" cy="192.6" r="1.9" fill="#2c2d6c" stroke="#1c1d4c" stroke-width="0.35"/>
<circle cx="120.63" cy="205.12" r="1.9" fill="#2c2d6c" stroke="#1c1d4c" stroke-width="0.35"/>
<circle cx="114.2" cy="206.98" r="1.9" fill="#2c2d6c" stroke="#1c1d4c" stroke-width="0.35"/>
<circle cx="115.83" cy="203.2" r="1.9" fill="#2c2d6c" stroke="#1c1d4c" stroke-width="0.35"/>
<circle cx="117.92" cy="203.58" r="1.9" fill="#2c2d6c" stroke="#1c1d4c" stroke-width="0.35"/>
<circle cx="111.34" cy="207.9" r="1.9" fill="#2c2d6c" stroke="#1c1d4c" stroke-width="0.35"/>
<circle cx="96.84" cy="210.04" r="1.9" fill="#2c2d6c" stroke="#1c1d4c" stroke-width="0.35"/>
<circle cx="102.59" cy="191.75" r="1.9" fill="#2c2d6c" stroke="#1c1d4c" stroke-width="0.35"/>
<circle cx="103.01" cy="209.83" r="1.9" fill="#2c2d6c" stroke="#1c1d4c" stroke-width="0.35"/>
<circle cx="101.14" cy="210.12" r="1.9" fill="#2c2d6c" stroke="#1c1d4c" stroke-width="0.35"/>
<circle cx="106.62" cy="202.92" r="1.9" fill="#2c2d6c" stroke="#1c1d4c" stroke-width="0.35"/>
<circle cx="115.93" cy="210.87" r="1.9" fill="#2c2d6c" stroke="#1c1d4c" stroke-width="0.35"/>
<circle cx="113.86" cy="207.44" r="1.9" fill="#2c2d6c" stroke="#1c1d4c" stroke-width="0.35"/>
<circle cx="102.65" cy="210.21" r="1.9" fill="#2c2d6c" stroke="#1c1d4c" stroke-width="0.35"/>
<circle cx="104.21" cy="205.37" r="1.9" fill="#2c2d6c" stroke="#1c1d4c" stroke-width="0.35"/>
<circle cx="103.11" cy="208.25" r="1.9" fill="#2c2d6c" stroke="#1c1d4c" stroke-width="0.35"/>
<circle cx="116.19" cy="208.35" r="1.9" fill="#2c2d6c" stroke="#1c1d4c" stroke-width="0.35"/>
<circle cx="103.79" cy="203.96" r="1.9" fill="#2c2d6c" stroke="#1c1d4c" stroke-width="0.35"/>
<circle cx="109.16" cy="202.57" r="1.9" fill="#2c2d6c" stroke="#1c1d4c" stroke-width="0.35"/>
<circle cx="98.46" cy="214.37" r="1.9" fill="#2c2d6c" stroke="#1c1d4c" stroke-width="0.35"/>
<circle cx="100.96" cy="216.7" r="1.9" fill="#2c2d6c" stroke="#1c1d4c" stroke-width="0.35"/>
<circle cx="108.98" cy="212.33" r="1.9" fill="#2c2d6c" stroke="#1c1d4c" stroke-width="0.35"/>
<circle cx="103.1" cy="195.49" r="1.9" fill="#2c2d6c" stroke="#1c1d4c" stroke-width="0.35"/>
<circle cx="110.99" cy="216" r="1.9" fill="#2c2d6c" stroke="#1c1d4c" stroke-width="0.35"/>
<circle cx="98.9" cy="212.34" r="1.9" fill="#2c2d6c" stroke="#1c1d4c" stroke-width="0.35"/>
<circle cx="110.52" cy="214.18" r="1.9" fill="#2c2d6c" stroke="#1c1d4c" stroke-width="0.35"/>
<circle cx="109.99" cy="202.14" r="1.9" fill="#2c2d6c" stroke="#1c1d4c" stroke-width="0.35"/>
<circle cx="104.13" cy="193.58" r="1.9" fill="#2c2d6c" stroke="#1c1d4c" stroke-width="0.35"/>
<circle cx="105.43" cy="198.42" r="1.9" fill="#2c2d6c" stroke="#1c1d4c" stroke-width="0.35"/>
<circle cx="118" cy="212.86" r="1.9" fill="#2c2d6c" stroke="#1c1d4c" stroke-width="0.35"/>
<circle cx="98.51" cy="215.27" r="1.9" fill="#2c2d6c" stroke="#1c1d4c" stroke-width="0.35"/>
<circle cx="116.83" cy="214.58" r="1.9" fill="#2c2d6c" stroke="#1c1d4c" stroke-width="0.35"/>
<circle cx="103.76" cy="199.97" r="1.9" fill="#2c2d6c" stroke="#1c1d4c" stroke-width="0.35"/>
<circle cx="106.94" cy="217.27" r="1.9" fill="#2c2d6c" stroke="#1c1d4c" stroke-width="0.35"/>
<circle cx="113.01" cy="199.66" r="1.9" fill="#2c2d6c" stroke="#1c1d4c" stroke-width="0.35"/>
<circle cx="108.03" cy="197.29" r="1.9" fill="#2c2d6c" stroke="#1c1d4c" stroke-width="0.35"/>
<circle cx="103.01" cy="203.8" r="1.9" fill="#2c2d6c" stroke="#1c1d4c" stroke-width="0.35"/>
<circle cx="100.67" cy="200" r="1.9" fill="#2c2d6c" stroke="#1c1d4c" stroke-width="0.35"/>
<circle cx="119.89" cy="207.11" r="1.9" fill="#2c2d6c" stroke="#1c1d4c" stroke-width="0.35"/>
<circle cx="123.02" cy="215.66" r="1.9" fill="#2c2d6c" stroke="#1c1d4c" stroke-width="0.35"/>
<circle cx="111.77" cy="209.56" r="1.9" fill="#2c2d6c" stroke="#1c1d4c" stroke-width="0.35"/>
<circle cx="96.33" cy="209.91" r="1.9" fill="#2c2d6c" stroke="#1c1d4c" stroke-width="0.35"/>
<circle cx="108.73" cy="210.47" r="1.9" fill="#2c2d6c" stroke="#1c1d4c" stroke-width="0.35"/>
<circle cx="96.31" cy="215.28" r="1.9" fill="#2c2d6c" stroke="#1c1d4c" stroke-width="0.35"/>
<circle cx="98.73" cy="202.73" r="1.9" fill="#2c2d6c" stroke="#1c1d4c" stroke-width="0.35"/>
<circle cx="105.42" cy="197.92" r="1.9" fill="#2c2d6c" stroke="#1c1d4c" stroke-width="0.35"/>
<circle cx="117.64" cy="216.65" r="1.9" fill="#2c2d6c" stroke="#1c1d4c" stroke-width="0.35"/>
<circle cx="102.84" cy="207.81" r="1.9" fill="#2c2d6c" stroke="#1c1d4c" stroke-width="0.35"/>
<circle cx="104.1" cy="205.08" r="1.9" fill="#2c2d6c" stroke="#1c1d4c" stroke-width="0.35"/>
<circle cx="99.8" cy="195.44" r="1.9" fill="#2c2d6c" stroke="#1c1d4c" stroke-width="0.35"/>
<circle cx="101.6" cy="214.71" r="1.9" fill="#2c2d6c" stroke="#1c1d4c" stroke-width="0.35"/>
<circle cx="99.11" cy="195.01" r="1.9" fill="#2c2d6c" stroke="#1c1d4c" stroke-width="0.35"/>
<circle cx="97.6" cy="199.14" r="1.9" fill="#2c2d6c" stroke="#1c1d4c" stroke-width="0.35"/>
<circle cx="102.78" cy="205.42" r="1.9" fill="#2c2d6c" stroke="#1c1d4c" stroke-width="0.35"/>
<circle cx="107.55" cy="201.12" r="1.9" fill="#2c2d6c" stroke="#1c1d4c" stroke-width="0.35"/>
<circle cx="111" cy="200.1" r="1.9" fill="#2c2d6c" stroke="#1c1d4c" stroke-width="0.35"/>
<circle cx="105.25" cy="191.41" r="1.9" fill="#2c2d6c" stroke="#1c1d4c" stroke-width="0.35"/>
<circle cx="103.38" cy="216.41" r="1.9" fill="#2c2d6c" stroke="#1c1d4c" stroke-width="0.35"/>
<circle cx="98.69" cy="203.59" r="1.9" fill="#2c2d6c" stroke="#1c1d4c" stroke-width="0.35"/>
<circle cx="114.26" cy="213.51" r="1.9" fill="#2c2d6c" stroke="#1c1d4c" stroke-width="0.35"/>
<circle cx="101.47" cy="197.18" r="1.9" fill="#2c2d6c" stroke="#1c1d4c" stroke-width="0.35"/>
<circle cx="102.48" cy="200.73" r="1.9" fill="#2c2d6c" stroke="#1c1d4c" stroke-width="0.35"/>
<circle cx="108.58" cy="216.03" r="1.9" fill="#2c2d6c" stroke="#1c1d4c" stroke-width="0.35"/>
<circle cx="121.02" cy="213.79" r="1.9" fill="#2c2d6c" stroke="#1c1d4c" stroke-width="0.35"/>
<circle cx="113.48" cy="213.29" r="1.95" fill="#c8359f" stroke="#a02a80" stroke-width="0.4"/>
<circle cx="108.99" cy="205.27" r="1.95" fill="#c8359f" stroke="#a02a80" stroke-width="0.4"/>
<circle cx="116.25" cy="215.28" r="1.95" fill="#c8359f" stroke="#a02a80" stroke-width="0.4"/>
<circle cx="104.72" cy="192.84" r="1.95" fill="#c8359f" stroke="#a02a80" stroke-width="0.4"/>
<circle cx="102.93" cy="203.58" r="1.95" fill="#c8359f" stroke="#a02a80" stroke-width="0.4"/>
<circle cx="112.96" cy="214.48" r="1.95" fill="#c8359f" stroke="#a02a80" stroke-width="0.4"/>
<circle cx="113.71" cy="206.83" r="1.95" fill="#c8359f" stroke="#a02a80" stroke-width="0.4"/>
<circle cx="114.53" cy="201.89" r="1.95" fill="#c8359f" stroke="#a02a80" stroke-width="0.4"/>
<circle cx="110.48" cy="191.03" r="1.95" fill="#c8359f" stroke="#a02a80" stroke-width="0.4"/>
<circle cx="114.86" cy="196.05" r="1.95" fill="#c8359f" stroke="#a02a80" stroke-width="0.4"/>
<circle cx="117.48" cy="206.78" r="1.95" fill="#c8359f" stroke="#a02a80" stroke-width="0.4"/>
<circle cx="105.77" cy="193.33" r="1.95" fill="#c8359f" stroke="#a02a80" stroke-width="0.4"/>
<circle cx="104.78" cy="206.54" r="1.95" fill="#c8359f" stroke="#a02a80" stroke-width="0.4"/>
<circle cx="113.27" cy="192.92" r="1.95" fill="#c8359f" stroke="#a02a80" stroke-width="0.4"/>
<circle cx="101.34" cy="203.64" r="1.95" fill="#c8359f" stroke="#a02a80" stroke-width="0.4"/>
<circle cx="111.07" cy="200.09" r="1.95" fill="#c8359f" stroke="#a02a80" stroke-width="0.4"/>
<circle cx="104.25" cy="205.63" r="1.95" fill="#c8359f" stroke="#a02a80" stroke-width="0.4"/>
<circle cx="108.75" cy="214.93" r="1.95" fill="#c8359f" stroke="#a02a80" stroke-width="0.4"/>
<circle cx="112.25" cy="212.98" r="1.95" fill="#c8359f" stroke="#a02a80" stroke-width="0.4"/>
<circle cx="109.03" cy="196.1" r="1.95" fill="#c8359f" stroke="#a02a80" stroke-width="0.4"/>
<circle cx="104.69" cy="214.98" r="1.95" fill="#c8359f" stroke="#a02a80" stroke-width="0.4"/>
<circle cx="113.39" cy="197.99" r="1.95" fill="#c8359f" stroke="#a02a80" stroke-width="0.4"/>
<circle cx="112.81" cy="200.92" r="1.95" fill="#c8359f" stroke="#a02a80" stroke-width="0.4"/>
<circle cx="104.89" cy="207.35" r="1.95" fill="#c8359f" stroke="#a02a80" stroke-width="0.4"/>
<circle cx="107.99" cy="207.75" r="1.95" fill="#c8359f" stroke="#a02a80" stroke-width="0.4"/>
<circle cx="103.76" cy="210.72" r="1.95" fill="#c8359f" stroke="#a02a80" stroke-width="0.4"/>
<circle cx="114.04" cy="203.13" r="1.95" fill="#c8359f" stroke="#a02a80" stroke-width="0.4"/>
<circle cx="103.9" cy="215.22" r="1.95" fill="#c8359f" stroke="#a02a80" stroke-width="0.4"/>
<circle cx="117.7" cy="149.1" r="1.9" fill="#2c2d6c" stroke="#1c1d4c" stroke-width="0.4"/>
<circle cx="122.4" cy="149.1" r="1.9" fill="#2c2d6c" stroke="#1c1d4c" stroke-width="0.4"/>
<circle cx="121.7" cy="162.4" r="1.9" fill="#2c2d6c" stroke="#1c1d4c" stroke-width="0.4"/>
<circle cx="100.7" cy="166.5" r="1.9" fill="#2c2d6c" stroke="#1c1d4c" stroke-width="0.4"/>
<circle cx="104.8" cy="165.8" r="1.9" fill="#2c2d6c" stroke="#1c1d4c" stroke-width="0.4"/>
<circle cx="113.2" cy="166.5" r="1.9" fill="#2c2d6c" stroke="#1c1d4c" stroke-width="0.4"/>
<circle cx="114" cy="170.3" r="1.9" fill="#2c2d6c" stroke="#1c1d4c" stroke-width="0.4"/>
<circle cx="106.8" cy="178" r="1.9" fill="#2c2d6c" stroke="#1c1d4c" stroke-width="0.4"/>
<circle cx="131.6" cy="192.6" r="1.9" fill="#2c2d6c" stroke="#1c1d4c" stroke-width="0.4"/>
<circle cx="140.4" cy="198.3" r="1.9" fill="#2c2d6c" stroke="#1c1d4c" stroke-width="0.4"/>
<circle cx="127.7" cy="211" r="1.9" fill="#2c2d6c" stroke="#1c1d4c" stroke-width="0.4"/>
<circle cx="130.3" cy="214.7" r="1.9" fill="#2c2d6c" stroke="#1c1d4c" stroke-width="0.4"/>
<circle cx="125" cy="216.6" r="1.9" fill="#2c2d6c" stroke="#1c1d4c" stroke-width="0.4"/>
<circle cx="113.9" cy="171" r="1.9" fill="#2c2d6c" stroke="#1c1d4c" stroke-width="0.4"/>
<circle cx="106" cy="177.9" r="1.9" fill="#2c2d6c" stroke="#1c1d4c" stroke-width="0.4"/>
<circle cx="116.5" cy="183.1" r="1.9" fill="#2c2d6c" stroke="#1c1d4c" stroke-width="0.4"/>
<circle cx="121.8" cy="204.8" r="1.9" fill="#2c2d6c" stroke="#1c1d4c" stroke-width="0.4"/>
<circle cx="119.8" cy="212" r="1.9" fill="#2c2d6c" stroke="#1c1d4c" stroke-width="0.4"/>
<circle cx="124" cy="206" r="1.9" fill="#2c2d6c" stroke="#1c1d4c" stroke-width="0.4"/>
<circle cx="126" cy="210" r="1.9" fill="#2c2d6c" stroke="#1c1d4c" stroke-width="0.4"/>
<circle cx="100" cy="186" r="1.9" fill="#2c2d6c" stroke="#1c1d4c" stroke-width="0.4"/>
<circle cx="97" cy="196" r="1.9" fill="#2c2d6c" stroke="#1c1d4c" stroke-width="0.4"/>
<circle cx="118" cy="192" r="1.9" fill="#2c2d6c" stroke="#1c1d4c" stroke-width="0.4"/>
<circle cx="123" cy="198" r="1.9" fill="#2c2d6c" stroke="#1c1d4c" stroke-width="0.4"/>
<circle cx="112" cy="63.8" r="1.95" fill="#c8359f" stroke="#a02a80" stroke-width="0.4"/>
<circle cx="108.9" cy="80.8" r="1.95" fill="#c8359f" stroke="#a02a80" stroke-width="0.4"/>
<circle cx="110.9" cy="81.8" r="1.95" fill="#c8359f" stroke="#a02a80" stroke-width="0.4"/>
<circle cx="112" cy="86.9" r="1.95" fill="#c8359f" stroke="#a02a80" stroke-width="0.4"/>
<circle cx="109.5" cy="86" r="1.95" fill="#c8359f" stroke="#a02a80" stroke-width="0.4"/>
<circle cx="108.5" cy="92" r="1.95" fill="#c8359f" stroke="#a02a80" stroke-width="0.4"/>
<circle cx="111" cy="93" r="1.95" fill="#c8359f" stroke="#a02a80" stroke-width="0.4"/>
<circle cx="113" cy="94.5" r="1.95" fill="#c8359f" stroke="#a02a80" stroke-width="0.4"/>
<circle cx="109.5" cy="97.5" r="1.95" fill="#c8359f" stroke="#a02a80" stroke-width="0.4"/>
<circle cx="112.5" cy="99" r="1.95" fill="#c8359f" stroke="#a02a80" stroke-width="0.4"/>
<circle cx="110" cy="101.5" r="1.95" fill="#c8359f" stroke="#a02a80" stroke-width="0.4"/>
<circle cx="107.5" cy="103.4" r="1.95" fill="#c8359f" stroke="#a02a80" stroke-width="0.4"/>
<circle cx="109.5" cy="104.1" r="1.95" fill="#c8359f" stroke="#a02a80" stroke-width="0.4"/>
<circle cx="111.6" cy="104.7" r="1.95" fill="#c8359f" stroke="#a02a80" stroke-width="0.4"/>
<circle cx="113.6" cy="104.1" r="1.95" fill="#c8359f" stroke="#a02a80" stroke-width="0.4"/>
<circle cx="106.8" cy="108.4" r="1.95" fill="#c8359f" stroke="#a02a80" stroke-width="0.4"/>
<circle cx="108.8" cy="111.5" r="1.95" fill="#c8359f" stroke="#a02a80" stroke-width="0.4"/>
<circle cx="111.6" cy="112.9" r="1.95" fill="#c8359f" stroke="#a02a80" stroke-width="0.4"/>
<circle cx="113.6" cy="111.5" r="1.95" fill="#c8359f" stroke="#a02a80" stroke-width="0.4"/>
<circle cx="106.8" cy="116.3" r="1.95" fill="#c8359f" stroke="#a02a80" stroke-width="0.4"/>
<circle cx="108.8" cy="117.6" r="1.95" fill="#c8359f" stroke="#a02a80" stroke-width="0.4"/>
<circle cx="110.9" cy="117" r="1.95" fill="#c8359f" stroke="#a02a80" stroke-width="0.4"/>
<circle cx="112.9" cy="115.6" r="1.95" fill="#c8359f" stroke="#a02a80" stroke-width="0.4"/>
<circle cx="108.2" cy="120.4" r="1.95" fill="#c8359f" stroke="#a02a80" stroke-width="0.4"/>
<circle cx="110.2" cy="121.7" r="1.95" fill="#c8359f" stroke="#a02a80" stroke-width="0.4"/>
<circle cx="108.8" cy="125.1" r="1.95" fill="#c8359f" stroke="#a02a80" stroke-width="0.4"/>
<circle cx="113.6" cy="125.1" r="1.95" fill="#c8359f" stroke="#a02a80" stroke-width="0.4"/>
<circle cx="108.2" cy="129.2" r="1.95" fill="#c8359f" stroke="#a02a80" stroke-width="0.4"/>
<circle cx="110.2" cy="130.5" r="1.95" fill="#c8359f" stroke="#a02a80" stroke-width="0.4"/>
<circle cx="111.6" cy="133.2" r="1.95" fill="#c8359f" stroke="#a02a80" stroke-width="0.4"/>
<circle cx="122.4" cy="134.6" r="1.95" fill="#c8359f" stroke="#a02a80" stroke-width="0.4"/>
<circle cx="123.1" cy="136.4" r="1.95" fill="#c8359f" stroke="#a02a80" stroke-width="0.4"/>
<circle cx="105.5" cy="140.7" r="1.95" fill="#c8359f" stroke="#a02a80" stroke-width="0.4"/>
<circle cx="106.8" cy="142.1" r="1.95" fill="#c8359f" stroke="#a02a80" stroke-width="0.4"/>
<circle cx="108.8" cy="140.7" r="1.95" fill="#c8359f" stroke="#a02a80" stroke-width="0.4"/>
<circle cx="104.8" cy="144.8" r="1.95" fill="#c8359f" stroke="#a02a80" stroke-width="0.4"/>
<circle cx="115" cy="141.4" r="1.95" fill="#c8359f" stroke="#a02a80" stroke-width="0.4"/>
<circle cx="119.7" cy="142.3" r="1.95" fill="#c8359f" stroke="#a02a80" stroke-width="0.4"/>
<circle cx="108.8" cy="150.2" r="1.95" fill="#c8359f" stroke="#a02a80" stroke-width="0.4"/>
<circle cx="112.2" cy="150.2" r="1.95" fill="#c8359f" stroke="#a02a80" stroke-width="0.4"/>
<circle cx="119.7" cy="152.2" r="1.95" fill="#c8359f" stroke="#a02a80" stroke-width="0.4"/>
<circle cx="118.3" cy="155.6" r="1.95" fill="#c8359f" stroke="#a02a80" stroke-width="0.4"/>
<circle cx="110.9" cy="158.3" r="1.95" fill="#c8359f" stroke="#a02a80" stroke-width="0.4"/>
<circle cx="113.6" cy="159.7" r="1.95" fill="#c8359f" stroke="#a02a80" stroke-width="0.4"/>
<circle cx="112.2" cy="162.4" r="1.95" fill="#c8359f" stroke="#a02a80" stroke-width="0.4"/>
<circle cx="119" cy="159.7" r="1.95" fill="#c8359f" stroke="#a02a80" stroke-width="0.4"/>
<circle cx="106.8" cy="164.9" r="1.95" fill="#c8359f" stroke="#a02a80" stroke-width="0.4"/>
<circle cx="105.5" cy="171.9" r="1.95" fill="#c8359f" stroke="#a02a80" stroke-width="0.4"/>
<circle cx="119.7" cy="174.6" r="1.95" fill="#c8359f" stroke="#a02a80" stroke-width="0.4"/>
<circle cx="101.4" cy="177.6" r="1.95" fill="#c8359f" stroke="#a02a80" stroke-width="0.4"/>
<circle cx="110.9" cy="178" r="1.95" fill="#c8359f" stroke="#a02a80" stroke-width="0.4"/>
<circle cx="117.7" cy="178.7" r="1.95" fill="#c8359f" stroke="#a02a80" stroke-width="0.4"/>
<circle cx="107" cy="123" r="1.95" fill="#c8359f" stroke="#a02a80" stroke-width="0.4"/>
<circle cx="111" cy="127" r="1.95" fill="#c8359f" stroke="#a02a80" stroke-width="0.4"/>
<circle cx="109" cy="136" r="1.95" fill="#c8359f" stroke="#a02a80" stroke-width="0.4"/>
<circle cx="107" cy="146" r="1.95" fill="#c8359f" stroke="#a02a80" stroke-width="0.4"/>
<circle cx="110" cy="155" r="1.95" fill="#c8359f" stroke="#a02a80" stroke-width="0.4"/>
<circle cx="115" cy="156" r="1.95" fill="#c8359f" stroke="#a02a80" stroke-width="0.4"/>
<circle cx="112" cy="145" r="1.95" fill="#c8359f" stroke="#a02a80" stroke-width="0.4"/>
<circle cx="106" cy="133" r="1.95" fill="#c8359f" stroke="#a02a80" stroke-width="0.4"/>
<circle cx="105.3" cy="172.4" r="1.95" fill="#c8359f" stroke="#a02a80" stroke-width="0.4"/>
<circle cx="101.4" cy="178.5" r="1.95" fill="#c8359f" stroke="#a02a80" stroke-width="0.4"/>
<circle cx="108" cy="180.5" r="1.95" fill="#c8359f" stroke="#a02a80" stroke-width="0.4"/>
<circle cx="111.5" cy="179.5" r="1.95" fill="#c8359f" stroke="#a02a80" stroke-width="0.4"/>
<circle cx="117.6" cy="179.2" r="1.95" fill="#c8359f" stroke="#a02a80" stroke-width="0.4"/>
<circle cx="119.8" cy="175.3" r="1.95" fill="#c8359f" stroke="#a02a80" stroke-width="0.4"/>
<circle cx="120.7" cy="182.5" r="1.95" fill="#c8359f" stroke="#a02a80" stroke-width="0.4"/>
<circle cx="106" cy="183.1" r="1.95" fill="#c8359f" stroke="#a02a80" stroke-width="0.4"/>
<circle cx="111.9" cy="183.8" r="1.95" fill="#c8359f" stroke="#a02a80" stroke-width="0.4"/>
<circle cx="106" cy="187.7" r="1.95" fill="#c8359f" stroke="#a02a80" stroke-width="0.4"/>
<circle cx="111.9" cy="187.7" r="1.95" fill="#c8359f" stroke="#a02a80" stroke-width="0.4"/>
<circle cx="117.8" cy="189.7" r="1.95" fill="#c8359f" stroke="#a02a80" stroke-width="0.4"/>
<circle cx="113.2" cy="194.3" r="1.95" fill="#c8359f" stroke="#a02a80" stroke-width="0.4"/>
<circle cx="107.3" cy="193" r="1.95" fill="#c8359f" stroke="#a02a80" stroke-width="0.4"/>
<circle cx="121.8" cy="198.9" r="1.95" fill="#c8359f" stroke="#a02a80" stroke-width="0.4"/>
<circle cx="117.8" cy="199.6" r="1.95" fill="#c8359f" stroke="#a02a80" stroke-width="0.4"/>
<circle cx="110" cy="200.2" r="1.95" fill="#c8359f" stroke="#a02a80" stroke-width="0.4"/>
<circle cx="105.3" cy="198.3" r="1.95" fill="#c8359f" stroke="#a02a80" stroke-width="0.4"/>
<circle cx="115.2" cy="204.2" r="1.95" fill="#c8359f" stroke="#a02a80" stroke-width="0.4"/>
<circle cx="100.7" cy="206.8" r="1.95" fill="#c8359f" stroke="#a02a80" stroke-width="0.4"/>
<circle cx="111.2" cy="205.5" r="1.95" fill="#c8359f" stroke="#a02a80" stroke-width="0.4"/>
<circle cx="105.3" cy="212" r="1.95" fill="#c8359f" stroke="#a02a80" stroke-width="0.4"/>
<circle cx="109.3" cy="213.4" r="1.95" fill="#c8359f" stroke="#a02a80" stroke-width="0.4"/>
<circle cx="112.6" cy="210.7" r="1.95" fill="#c8359f" stroke="#a02a80" stroke-width="0.4"/>
<circle cx="116.5" cy="208.1" r="1.95" fill="#c8359f" stroke="#a02a80" stroke-width="0.4"/>
<circle cx="124.4" cy="220" r="1.95" fill="#c8359f" stroke="#a02a80" stroke-width="0.4"/>
<circle cx="132.9" cy="224.1" r="1.95" fill="#c8359f" stroke="#a02a80" stroke-width="0.4"/>
<circle cx="109.9" cy="217.3" r="1.95" fill="#c8359f" stroke="#a02a80" stroke-width="0.4"/>
<circle cx="107.3" cy="220.6" r="1.95" fill="#c8359f" stroke="#a02a80" stroke-width="0.4"/>
<circle cx="104.7" cy="221.2" r="1.95" fill="#c8359f" stroke="#a02a80" stroke-width="0.4"/>
<circle cx="102" cy="222.6" r="1.95" fill="#c8359f" stroke="#a02a80" stroke-width="0.4"/>
<circle cx="109.3" cy="226.5" r="1.95" fill="#c8359f" stroke="#a02a80" stroke-width="0.4"/>
<circle cx="103.4" cy="226.5" r="1.95" fill="#c8359f" stroke="#a02a80" stroke-width="0.4"/>
<circle cx="100.7" cy="229.1" r="1.95" fill="#c8359f" stroke="#a02a80" stroke-width="0.4"/>
<circle cx="98.1" cy="231.8" r="1.95" fill="#c8359f" stroke="#a02a80" stroke-width="0.4"/>
<circle cx="95.5" cy="234.4" r="1.95" fill="#c8359f" stroke="#a02a80" stroke-width="0.4"/>
<circle cx="92.2" cy="236.4" r="1.95" fill="#c8359f" stroke="#a02a80" stroke-width="0.4"/>
<circle cx="90.2" cy="235" r="1.95" fill="#c8359f" stroke="#a02a80" stroke-width="0.4"/>
<circle cx="86.9" cy="232.4" r="1.95" fill="#c8359f" stroke="#a02a80" stroke-width="0.4"/>
<circle cx="89.6" cy="231.1" r="1.95" fill="#c8359f" stroke="#a02a80" stroke-width="0.4"/>
<circle cx="84.3" cy="223.9" r="1.95" fill="#c8359f" stroke="#a02a80" stroke-width="0.4"/>
<circle cx="71.8" cy="233.7" r="1.95" fill="#c8359f" stroke="#a02a80" stroke-width="0.4"/>
<circle cx="115.2" cy="232.4" r="1.95" fill="#c8359f" stroke="#a02a80" stroke-width="0.4"/>
<circle cx="117.8" cy="225.2" r="1.95" fill="#c8359f" stroke="#a02a80" stroke-width="0.4"/>
<circle cx="120.4" cy="225.2" r="1.95" fill="#c8359f" stroke="#a02a80" stroke-width="0.4"/>
<circle cx="113" cy="215" r="1.95" fill="#c8359f" stroke="#a02a80" stroke-width="0.4"/>
<circle cx="106" cy="217" r="1.95" fill="#c8359f" stroke="#a02a80" stroke-width="0.4"/>
<circle cx="100" cy="225" r="1.95" fill="#c8359f" stroke="#a02a80" stroke-width="0.4"/>
<circle cx="96" cy="229" r="1.95" fill="#c8359f" stroke="#a02a80" stroke-width="0.4"/>
<circle cx="104" cy="230" r="1.95" fill="#c8359f" stroke="#a02a80" stroke-width="0.4"/>
<circle cx="94" cy="233" r="1.95" fill="#c8359f" stroke="#a02a80" stroke-width="0.4"/>
<text x="115" y="66.07" font-size="6.3" font-style="italic" fill="#c8359f">PRMT2</text>
<text x="115" y="72.77" font-size="6.3" font-style="italic" fill="#c8359f">TMEM50B</text>
<text x="107.9" y="75.47" font-size="6.3" text-anchor="end" font-style="italic" fill="#c8359f">SOD1</text>
<line x1="108.9" y1="74.4" x2="109.5" y2="80" stroke="#c8359f" stroke-width="0.35"/>
<text x="117.1" y="80.57" font-size="6.3" font-style="italic" fill="#c8359f">HLCS</text>
<line x1="116.1" y1="79.5" x2="111.5" y2="81" stroke="#c8359f" stroke-width="0.35"/>
<text x="105.8" y="83.07" font-size="6.3" text-anchor="end" font-style="italic" fill="#c8359f">GART</text>
<line x1="106.8" y1="82" x2="108.5" y2="81.5" stroke="#c8359f" stroke-width="0.35"/>
<text x="116.5" y="86.07" font-size="6.3" font-style="italic" fill="#c8359f">CSTB</text>
<line x1="115.5" y1="85" x2="112" y2="86" stroke="#c8359f" stroke-width="0.35"/>
<text x="105.8" y="90.17" font-size="6.3" text-anchor="end" font-style="italic" fill="#c8359f">DYRK1A</text>
<line x1="106.8" y1="89.1" x2="110" y2="87" stroke="#c8359f" stroke-width="0.35"/>
<text x="148.3" y="91.87" font-size="6.3" text-anchor="end" font-style="italic" fill="#c8359f">SETD4</text>
<line x1="149.3" y1="90.8" x2="113" y2="93" stroke="#c8359f" stroke-width="0.35"/>
<text x="99.7" y="96.27" font-size="6.3" text-anchor="end" font-style="italic" fill="#c8359f">VPS26C</text>
<line x1="100.7" y1="95.2" x2="108.5" y2="93" stroke="#c8359f" stroke-width="0.35"/>
<text x="138.1" y="97.37" font-size="6.3" text-anchor="end" font-style="italic" fill="#c8359f">GET1</text>
<line x1="139.1" y1="96.3" x2="113" y2="96" stroke="#c8359f" stroke-width="0.35"/>
<text x="101.3" y="102.47" font-size="6.3" text-anchor="end" font-style="italic" fill="#c8359f">TIAM1</text>
<line x1="102.3" y1="101.4" x2="109.5" y2="98.5" stroke="#c8359f" stroke-width="0.35"/>
<text x="148.3" y="102.07" font-size="6.3" text-anchor="end" font-style="italic" fill="#c8359f">APP</text>
<line x1="149.3" y1="101" x2="112.5" y2="99.5" stroke="#c8359f" stroke-width="0.35"/>
<text x="97.7" y="108.17" font-size="6.3" text-anchor="end" font-style="italic" fill="#c8359f">INFGR2</text>
<line x1="98.7" y1="107.1" x2="109" y2="103" stroke="#c8359f" stroke-width="0.35"/>
<text x="119.7" y="108.17" font-size="6.3" font-style="italic" fill="#c8359f">AGPAT3</text>
<line x1="118.7" y1="107.1" x2="113.6" y2="104" stroke="#c8359f" stroke-width="0.35"/>
<text x="99.7" y="114.27" font-size="6.3" text-anchor="end" font-style="italic" fill="#c8359f">NRIP1</text>
<line x1="100.7" y1="113.2" x2="107" y2="108" stroke="#c8359f" stroke-width="0.35"/>
<text x="117.1" y="115.37" font-size="6.3" font-style="italic" fill="#c8359f">SLC37A1</text>
<line x1="116.1" y1="114.3" x2="113" y2="105" stroke="#c8359f" stroke-width="0.35"/>
<text x="99.7" y="121.47" font-size="6.3" text-anchor="end" font-style="italic" fill="#c8359f">BRWD1</text>
<line x1="100.7" y1="120.4" x2="106.5" y2="109" stroke="#c8359f" stroke-width="0.35"/>
<text x="118.1" y="124.97" font-size="6.3" font-style="italic" fill="#c8359f">IFNAR1</text>
<line x1="117.1" y1="123.9" x2="113.6" y2="124.5" stroke="#c8359f" stroke-width="0.35"/>
<text x="76.3" y="149.57" font-size="6.3" text-anchor="end" font-style="italic" fill="#62b0e2">RFX5</text>
<line x1="77.3" y1="148.5" x2="77" y2="151" stroke="#62b0e2" stroke-width="0.35"/>
<text x="68.2" y="161.57" font-size="6.3" text-anchor="end" font-style="italic" fill="#62b0e2">IMPG2</text>
<line x1="69.2" y1="160.5" x2="70" y2="165.5" stroke="#62b0e2" stroke-width="0.35"/>
<text x="124.2" y="192.07" font-size="6.3" font-style="italic" fill="#c8359f">IFNAR2</text>
<line x1="123.2" y1="191" x2="116" y2="199" stroke="#c8359f" stroke-width="0.35"/>
<rect x="24.5" y="55.5" width="127.5" height="189" fill="none" stroke="#7a7a7a" stroke-width="0.9"/>
<line x1="27.1" y1="244.5" x2="27.1" y2="246.7" stroke="#333" stroke-width="0.6"/>
<text x="27.1" y="254.93" font-size="8.7" text-anchor="middle">-2</text>
<line x1="59.7" y1="244.5" x2="59.7" y2="246.7" stroke="#333" stroke-width="0.6"/>
<text x="59.7" y="254.93" font-size="8.7" text-anchor="middle">-1</text>
<line x1="92.3" y1="244.5" x2="92.3" y2="246.7" stroke="#333" stroke-width="0.6"/>
<text x="92.3" y="254.93" font-size="8.7" text-anchor="middle">0</text>
<line x1="124.9" y1="244.5" x2="124.9" y2="246.7" stroke="#333" stroke-width="0.6"/>
<text x="124.9" y="254.93" font-size="8.7" text-anchor="middle">1</text>
<line x1="22.5" y1="236.3" x2="24.5" y2="236.3" stroke="#333" stroke-width="0.6"/>
<text transform="translate(18.9 236.3) rotate(-90)" x="0" y="3.13" font-size="8.7" text-anchor="middle">0</text>
<line x1="22.5" y1="176.7" x2="24.5" y2="176.7" stroke="#333" stroke-width="0.6"/>
<text transform="translate(18.9 176.7) rotate(-90)" x="0" y="3.13" font-size="8.7" text-anchor="middle">4</text>
<line x1="22.5" y1="117.1" x2="24.5" y2="117.1" stroke="#333" stroke-width="0.6"/>
<text transform="translate(18.9 117.1) rotate(-90)" x="0" y="3.13" font-size="8.7" text-anchor="middle">8</text>
<text x="96.4" y="269.17" font-size="10.2" text-anchor="middle">PFC log<tspan font-size="7" dy="2">2</tspan><tspan dy="-2"> Fold change</tspan></text>
<text transform="translate(9 151) rotate(-90)" x="0" y="3.71" font-size="10.3" text-anchor="middle">-log<tspan font-size="7" dy="1.3">10</tspan><tspan dy="-1.3">(Adj.  </tspan><tspan font-style="italic">P</tspan>-value)</text>
<!--B-->
<text x="159.2" y="18.5" font-size="23.6" font-weight="bold" fill="#000">B</text>
<circle cx="189.9" cy="5.1" r="3.8" fill="#c8359f" stroke="#4a2a44" stroke-width="0.55"/>
<text x="197" y="7.85" font-size="7.65">Chromosome 21</text>
<circle cx="189.9" cy="14.6" r="3.8" fill="#62b0e2" stroke="#3a4a5a" stroke-width="0.55"/>
<text x="197" y="17.35" font-size="7.65">T21 down-regulated</text>
<circle cx="189.9" cy="24.1" r="3.8" fill="#2c2d6c" stroke="#1a1a3a" stroke-width="0.55"/>
<text x="197" y="26.85" font-size="7.65">T21 up-regulated</text>
<circle cx="189.9" cy="33.6" r="3.8" fill="#efefef" stroke="#333" stroke-width="0.55"/>
<text x="197" y="36.35" font-size="7.65">Nonsignificant</text>
<text x="184.6" y="51.6" font-size="6.4">Under-expressed</text>
<line x1="235.4" y1="49.3" x2="263.5" y2="49.3" stroke="#222" stroke-width="0.6"/>
<polygon points="234.2,49.3 236.8,48 236.8,50.6" fill="#222"/>
<polygon points="264.7,49.3 262.1,48 262.1,50.6" fill="#222"/>
<text x="311.5" y="51.6" font-size="6.4" text-anchor="end">Over-expressed</text>
<g transform="translate(188 64.2)">
<path d="M15.6 19.2 L18.4 20.4 L12.2 28.8 L9.9 28.4 Z" fill="#c4c4c4" stroke="#8a8a8a" stroke-width="0.3"/>
<path d="M2.7 16.4 C2 21 5 25.5 10 25.2 C14 25 17 22 17.3 18 C12 17.2 6.5 17 2.7 16.4 Z" fill="#a4a4a4" stroke="#747474" stroke-width="0.4"/>
<path d="M3.6 18.6 C8 19.6 12 19.6 16.6 19 M4 20.6 C8 21.6 12 21.6 16 21 M5 22.6 C8.5 23.5 11.5 23.4 14.8 22.8 M6.8 24.3 C9 24.8 11 24.7 13 24.2" fill="none" stroke="#707070" stroke-width="0.35"/>
<clipPath id="bc188"><path d="M2.7 16.4 C0.4 14 -0.3 10 1.5 7 C4 2.5 11 0 21 0 C29 0 36 4 37.2 10 C37.8 13.5 36.5 15.5 35 16.2 C33 19 30 21.5 27.6 21.4 C24 21.6 21.5 21 20 20.6 C18.5 19.5 17.5 18.5 17 18 C12 17 6 17 2.7 16.4 Z"/></clipPath>
<path d="M2.7 16.4 C0.4 14 -0.3 10 1.5 7 C4 2.5 11 0 21 0 C29 0 36 4 37.2 10 C37.8 13.5 36.5 15.5 35 16.2 C33 19 30 21.5 27.6 21.4 C24 21.6 21.5 21 20 20.6 C18.5 19.5 17.5 18.5 17 18 C12 17 6 17 2.7 16.4 Z" fill="#fff"/>
<g clip-path="url(#bc188)" fill="none" stroke="#8c8c8c" stroke-width="0.33">
<path d="M24.0 1.0 Q25.3 1.4 25.8 1.3 Q25.5 2.0 26.5 3.0 Q27.0 3.0 28.3 3.0"/>
<path d="M2.0 4.4 Q1.0 5.3 1.0 5.9 Q-0.7 6.6 -0.8 6.3 Q-1.9 5.6 -2.5 5.9"/>
<path d="M35.5 7.1 Q36.7 6.7 36.9 5.9 Q38.1 6.0 38.7 6.0 Q38.8 7.0 39.3 7.7"/>
<path d="M30.9 12.6 Q30.3 12.1 29.1 13.0 Q28.2 13.0 28.0 14.4 Q27.3 15.0 28.0 16.2"/>
<path d="M23.9 7.6 Q24.3 8.7 25.5 8.4 Q26.3 8.6 26.7 9.7 Q26.4 10.4 27.1 11.5"/>
<path d="M36.6 13.0 Q36.6 14.2 35.6 14.4 Q34.9 15.0 35.6 16.2 Q35.7 17.7 36.6 17.7"/>
<path d="M32.5 6.6 Q33.0 7.4 32.1 8.4 Q32.0 9.3 32.7 10.1 Q33.5 11.3 34.1 11.2"/>
<path d="M15.4 4.8 Q13.8 4.0 13.6 4.8 Q13.2 5.9 12.5 6.2 Q11.4 6.8 11.7 7.8"/>
<path d="M36.9 10.8 Q35.4 10.5 35.6 9.6 Q35.3 8.3 34.9 7.9 Q34.3 6.9 34.9 6.1"/>
<path d="M17.3 19.1 Q16.8 19.3 16.3 20.6 Q16.0 20.2 14.5 20.5 Q13.8 19.6 12.8 19.9"/>
<path d="M28.5 11.0 Q26.9 11.3 27.0 12.1 Q27.9 13.6 27.4 13.8 Q26.5 13.9 26.4 15.3"/>
<path d="M32.6 19.0 Q32.8 19.6 34.4 19.4 Q34.3 20.0 35.5 20.8 Q35.6 22.1 36.5 22.3"/>
<path d="M16.2 4.6 Q15.2 5.0 15.1 6.0 Q14.5 5.7 13.4 5.5 Q11.9 4.8 11.7 4.9"/>
<path d="M13.2 12.0 Q13.4 12.2 15.0 12.1 Q16.4 12.1 16.5 11.0 Q16.0 10.4 16.3 9.3"/>
<path d="M8.7 3.1 Q7.8 3.6 6.9 3.1 Q5.7 1.9 5.5 2.0 Q4.6 1.5 4.0 1.1"/>
<path d="M27.2 13.6 Q26.6 14.1 26.3 15.2 Q25.0 14.8 24.5 15.4 Q23.5 15.3 22.8 15.9"/>
<path d="M10.0 18.5 Q9.5 18.5 8.9 19.9 Q8.5 20.4 7.1 19.3 Q7.5 17.9 6.7 17.6"/>
<path d="M18.5 4.7 Q19.2 5.6 20.2 5.0 Q21.5 4.6 21.9 4.4 Q23.4 4.7 23.5 3.4"/>
<path d="M21.0 14.5 Q22.7 14.6 22.8 14.5 Q24.1 13.9 24.6 14.7 Q25.5 15.5 26.3 15.2"/>
<path d="M6.7 19.2 Q7.6 19.1 8.2 18.4 Q8.0 18.2 9.0 16.7 Q9.0 16.0 8.7 15.0"/>
<path d="M16.1 11.9 Q14.8 12.6 14.5 12.7 Q13.9 13.7 13.6 14.3 Q13.3 15.6 13.6 16.1"/>
<path d="M3.6 9.4 Q2.6 8.1 2.9 7.8 Q2.9 7.9 1.5 6.7 Q1.2 5.3 1.4 4.9"/>
<path d="M31.0 14.2 Q30.4 13.5 29.2 14.3 Q28.2 14.0 27.9 13.1 Q27.4 11.6 28.2 11.4"/>
<path d="M4.9 11.3 Q5.6 11.6 5.7 12.9 Q5.4 13.8 5.9 14.7 Q5.8 14.6 4.6 15.9"/>
<path d="M16.2 5.9 Q17.2 6.1 17.7 7.0 Q18.0 7.7 18.3 8.7 Q18.5 9.4 20.0 8.8"/>
<path d="M33.5 11.1 Q32.1 10.8 31.8 11.7 Q31.8 12.8 30.6 13.0 Q30.3 12.4 28.8 12.8"/>
<path d="M10.0 2.5 Q9.0 2.5 8.2 2.1 Q8.2 3.2 6.7 3.1 Q6.5 3.3 5.2 2.2"/>
<path d="M1.9 14.9 Q1.9 16.2 1.0 16.4 Q-0.2 17.2 -0.7 17.0 Q-0.4 18.4 -1.2 18.7"/>
<path d="M9.0 16.4 Q10.0 16.7 10.0 17.9 Q10.4 17.5 11.8 17.6 Q13.2 17.9 13.2 18.8"/>
<path d="M24.1 8.3 Q23.9 7.7 22.3 8.2 Q21.4 8.2 21.6 6.6 Q20.2 6.0 20.1 5.6"/>
<path d="M27.2 6.6 Q26.7 7.6 26.6 8.3 Q27.1 8.4 27.0 10.1 Q26.4 11.0 25.7 11.3"/>
<path d="M27.7 13.6 Q28.9 13.4 29.5 13.8 Q30.9 13.8 31.2 13.2 Q31.5 12.4 32.4 11.9"/>
<path d="M15.5 6.3 Q17.1 6.7 17.2 6.6 Q17.8 7.2 17.9 8.3 Q17.4 8.8 18.4 10.0"/>
<path d="M16.5 11.8 Q16.0 12.2 15.8 13.5 Q16.1 14.8 15.2 15.2 Q14.9 16.0 16.0 16.8"/>
<path d="M23.8 7.0 Q23.2 6.6 22.0 7.0 Q20.5 7.1 20.6 8.1 Q20.5 8.1 19.3 9.4"/>
<path d="M15.9 12.8 Q16.3 13.2 16.8 14.4 Q16.1 15.7 17.0 16.2 Q15.9 16.8 16.1 17.7"/>
<path d="M7.3 19.2 Q7.7 20.2 8.9 20.1 Q10.2 20.8 10.5 20.9 Q10.6 22.5 10.4 22.7"/>
<path d="M33.1 12.4 Q33.0 13.2 31.9 13.8 Q31.4 13.7 30.1 13.7 Q28.9 14.3 28.6 14.5"/>
<path d="M28.6 10.7 Q28.0 11.2 28.8 12.4 Q29.1 13.2 30.0 13.8 Q30.4 14.2 31.8 13.9"/>
<path d="M26.4 1.8 Q26.5 2.2 26.8 3.5 Q27.8 4.5 27.4 5.2 Q27.9 6.5 27.3 7.0"/>
<path d="M14.7 0.6 Q15.1 2.2 14.4 2.4 Q14.9 3.4 14.5 4.2 Q13.9 4.6 14.2 6.0"/>
<path d="M16.7 1.1 Q16.6 1.4 16.8 2.9 Q16.4 3.9 17.1 4.6 Q17.8 5.0 18.9 5.1"/>
<path d="M2.0 13.0 Q2.1 13.1 3.7 13.6 Q4.2 13.7 5.4 13.0 Q6.5 13.0 6.8 11.9"/>
<path d="M10.1 2.1 Q11.8 2.0 11.9 2.4 Q13.1 3.1 13.4 3.3 Q14.5 3.6 14.2 4.9"/>
<path d="M1.7 3.5 Q2.5 3.7 3.0 4.8 Q3.7 5.1 3.5 6.5 Q3.9 6.8 3.6 8.3"/>
<path d="M30.5 19.3 Q30.8 19.0 31.8 18.0 Q32.4 18.6 33.5 18.6 Q34.5 18.2 34.8 17.4"/>
<path d="M4.7 15.6 Q3.2 16.5 2.9 16.0 Q1.9 15.5 1.3 15.2 Q0.4 14.8 -0.5 14.9"/>
<path d="M31.6 16.5 Q31.9 18.0 31.8 18.3 Q31.4 19.5 31.2 20.0 Q29.9 20.6 29.4 20.2"/>
<path d="M20.4 9.9 Q19.7 11.3 19.8 11.6 Q18.3 12.6 18.1 12.4 Q17.6 13.3 17.2 13.9"/>
<path d="M14.6 1.1 Q13.9 2.4 14.0 2.8 Q14.7 4.0 14.1 4.6 Q13.8 6.0 15.1 6.1"/>
<path d="M4.1 14.5 Q3.9 15.5 3.1 16.0 Q3.1 16.2 2.1 17.6 Q2.5 18.2 2.3 19.4"/>
<path d="M21.9 9.7 Q22.4 10.4 22.1 11.5 Q21.4 12.0 21.4 13.2 Q21.3 13.4 22.2 14.8"/>
<path d="M20.3 15.4 Q21.2 15.6 22.1 15.2 Q22.6 15.6 23.0 16.7 Q23.4 16.4 24.8 16.9"/>
<path d="M7.5 0.8 Q8.6 1.7 8.2 2.4 Q7.6 3.9 8.1 4.2 Q8.7 5.2 8.1 6.0"/>
<path d="M17.9 9.1 Q19.4 8.6 19.5 8.2 Q20.2 7.8 21.2 8.7 Q21.2 8.7 22.7 9.7"/>
<path d="M21.3 6.4 Q21.2 7.3 20.2 7.9 Q18.9 8.1 18.4 8.3 Q17.5 9.2 16.8 8.9"/>
<path d="M36.6 6.5 Q36.5 7.9 35.6 7.9 Q35.2 9.1 35.7 9.7 Q35.8 9.6 37.1 10.8"/>
<path d="M1.1 9.3 Q0.9 10.5 1.5 11.0 Q1.1 12.2 1.0 12.8 Q0.6 13.2 -0.8 13.3"/>
<path d="M24.8 18.7 Q25.2 20.3 25.0 20.5 Q23.8 20.7 23.9 21.9 Q24.2 22.9 23.6 23.7"/>
<path d="M11.4 2.9 Q11.3 3.4 9.8 3.8 Q8.4 3.5 8.2 4.7 Q7.3 4.8 6.8 5.8"/>
<path d="M4.3 19.3 Q4.2 20.4 2.6 19.9 Q1.3 19.0 0.8 19.7 Q0.1 19.4 -0.6 18.6"/>
<path d="M34.0 4.0 Q33.5 4.1 33.0 5.5 Q32.5 6.7 32.6 7.3 Q31.5 8.0 31.0 8.1"/>
<path d="M11.4 18.9 Q10.5 19.0 9.8 19.7 Q10.0 20.3 8.6 21.1 Q8.8 22.1 7.5 22.5"/>
<path d="M20.5 8.6 Q21.8 9.0 22.3 9.0 Q22.4 9.8 23.4 10.4 Q23.0 11.6 22.8 12.1"/>
<path d="M5.4 19.5 Q5.1 20.4 5.9 21.2 Q5.4 22.9 6.2 23.0 Q5.4 23.0 4.8 24.2"/>
<path d="M31.0 10.2 Q30.0 11.4 29.8 11.6 Q28.5 11.4 28.1 11.1 Q27.8 11.1 26.3 11.1"/>
<path d="M32.7 17.3 Q32.5 18.9 32.7 19.1 Q33.2 19.7 32.6 20.9 Q33.2 22.5 33.5 22.6"/>
<path d="M18.6 3.4 Q18.9 4.3 19.1 5.1 Q19.1 5.5 19.7 6.8 Q19.7 7.3 19.5 8.6"/>
<path d="M28.9 1.4 Q28.6 1.4 27.2 1.9 Q26.8 2.6 25.4 1.8 Q23.8 1.7 23.6 1.6"/>
<path d="M22.2 17.5 Q21.5 17.9 20.7 18.4 Q19.7 18.6 18.9 18.4 Q18.3 19.8 17.7 19.7"/>
<path d="M13.2 14.0 Q12.9 14.8 11.4 14.5 Q10.4 15.3 9.9 15.4 Q9.6 14.6 8.1 15.3"/>
<path d="M3.5 12.8 Q3.3 12.0 2.4 11.3 Q1.7 12.0 0.6 11.4 Q0.0 12.2 -1.2 11.7"/>
<path d="M2.7 16.0 Q2.8 16.6 4.1 17.1 Q5.2 17.2 5.4 18.3 Q6.9 18.3 7.2 17.9"/>
<path d="M9.7 18.3 Q10.1 18.2 11.4 18.9 Q12.5 18.9 12.6 17.6 Q12.9 17.2 14.2 16.9"/>
<path d="M13.4 12.0 Q12.8 13.4 13.0 13.7 Q13.2 14.5 13.8 15.3 Q14.7 15.8 15.4 16.1"/>
<path d="M6 16 C12 14 19 13.5 27 20.5" stroke="#777" stroke-width="0.45"/>
</g>
<path d="M2.7 16.4 C0.4 14 -0.3 10 1.5 7 C4 2.5 11 0 21 0 C29 0 36 4 37.2 10 C37.8 13.5 36.5 15.5 35 16.2 C33 19 30 21.5 27.6 21.4 C24 21.6 21.5 21 20 20.6 C18.5 19.5 17.5 18.5 17 18 C12 17 6 17 2.7 16.4 Z" fill="none" stroke="#7a7a7a" stroke-width="0.45"/>
<path d="M20.8 17.2 C18 17.4 15.6 15.4 15.8 13 C16 10.6 18.6 9.6 20.4 10.6 C21.8 11.4 21.6 13.4 20.4 13.8" fill="none" stroke="#9496c8" stroke-width="1.15"/>
</g>
<text x="187.3" y="61.98" font-size="6.6" fill="#4d4f93">Hippocampus</text>
<g>
<polygon points="215.5,213.4 304,213.4 306.7,217.7 300.4,224.8 286.2,230.1 270.1,233.7 248.8,237.3 236.3,235.5 226,233.5 221,229 218,222" fill="#ebebeb" stroke="#9a9a9a" stroke-width="0.5"/>
<circle cx="198.5" cy="226.2" r="1.9" fill="#f2f2f2" stroke="#8a8a8a" stroke-width="0.45"/>
<circle cx="202.5" cy="215.5" r="1.9" fill="#f2f2f2" stroke="#8a8a8a" stroke-width="0.45"/>
<circle cx="207.5" cy="217.5" r="1.9" fill="#f2f2f2" stroke="#8a8a8a" stroke-width="0.45"/>
<circle cx="208.5" cy="221.5" r="1.9" fill="#f2f2f2" stroke="#8a8a8a" stroke-width="0.45"/>
<circle cx="211.5" cy="220.5" r="1.9" fill="#f2f2f2" stroke="#8a8a8a" stroke-width="0.45"/>
<circle cx="210" cy="225.5" r="1.9" fill="#f2f2f2" stroke="#8a8a8a" stroke-width="0.45"/>
<circle cx="213.5" cy="226" r="1.9" fill="#f2f2f2" stroke="#8a8a8a" stroke-width="0.45"/>
<circle cx="211" cy="229.5" r="1.9" fill="#f2f2f2" stroke="#8a8a8a" stroke-width="0.45"/>
<circle cx="215" cy="229" r="1.9" fill="#f2f2f2" stroke="#8a8a8a" stroke-width="0.45"/>
<circle cx="218.5" cy="231" r="1.9" fill="#f2f2f2" stroke="#8a8a8a" stroke-width="0.45"/>
<circle cx="222" cy="232.5" r="1.9" fill="#f2f2f2" stroke="#8a8a8a" stroke-width="0.45"/>
<circle cx="216.5" cy="218.5" r="1.9" fill="#f2f2f2" stroke="#8a8a8a" stroke-width="0.45"/>
<circle cx="219" cy="216" r="1.9" fill="#f2f2f2" stroke="#8a8a8a" stroke-width="0.45"/>
<circle cx="213" cy="216.5" r="1.9" fill="#f2f2f2" stroke="#8a8a8a" stroke-width="0.45"/>
<circle cx="299" cy="217.7" r="1.9" fill="#f2f2f2" stroke="#8a8a8a" stroke-width="0.45"/>
<circle cx="301.3" cy="223" r="1.9" fill="#f2f2f2" stroke="#8a8a8a" stroke-width="0.45"/>
<circle cx="305" cy="215" r="1.9" fill="#f2f2f2" stroke="#8a8a8a" stroke-width="0.45"/>
<circle cx="216.83" cy="213.08" r="1.9" fill="#ececec" stroke="#a0a0a0" stroke-width="0.35"/>
<circle cx="219.72" cy="213.15" r="1.9" fill="#ececec" stroke="#a0a0a0" stroke-width="0.35"/>
<circle cx="224.97" cy="213.02" r="1.9" fill="#ececec" stroke="#a0a0a0" stroke-width="0.35"/>
<circle cx="225.73" cy="213.6" r="1.9" fill="#ececec" stroke="#a0a0a0" stroke-width="0.35"/>
<circle cx="230.96" cy="213.27" r="1.9" fill="#ececec" stroke="#a0a0a0" stroke-width="0.35"/>
<circle cx="233.15" cy="212.97" r="1.9" fill="#ececec" stroke="#a0a0a0" stroke-width="0.35"/>
<circle cx="234.43" cy="213.27" r="1.9" fill="#ececec" stroke="#a0a0a0" stroke-width="0.35"/>
<circle cx="241.8" cy="213.68" r="1.9" fill="#ececec" stroke="#a0a0a0" stroke-width="0.35"/>
<circle cx="245.48" cy="213.2" r="1.9" fill="#ececec" stroke="#a0a0a0" stroke-width="0.35"/>
<circle cx="246.11" cy="213.7" r="1.9" fill="#ececec" stroke="#a0a0a0" stroke-width="0.35"/>
<circle cx="248.45" cy="213.25" r="1.9" fill="#ececec" stroke="#a0a0a0" stroke-width="0.35"/>
<circle cx="252.31" cy="213" r="1.9" fill="#ececec" stroke="#a0a0a0" stroke-width="0.35"/>
<circle cx="254.29" cy="213.22" r="1.9" fill="#ececec" stroke="#a0a0a0" stroke-width="0.35"/>
<circle cx="260.44" cy="213.96" r="1.9" fill="#ececec" stroke="#a0a0a0" stroke-width="0.35"/>
<circle cx="261.64" cy="213.79" r="1.9" fill="#ececec" stroke="#a0a0a0" stroke-width="0.35"/>
<circle cx="267.05" cy="212.86" r="1.9" fill="#ececec" stroke="#a0a0a0" stroke-width="0.35"/>
<circle cx="269.09" cy="213.9" r="1.9" fill="#ececec" stroke="#a0a0a0" stroke-width="0.35"/>
<circle cx="271.44" cy="213.88" r="1.9" fill="#ececec" stroke="#a0a0a0" stroke-width="0.35"/>
<circle cx="274.26" cy="213.77" r="1.9" fill="#ececec" stroke="#a0a0a0" stroke-width="0.35"/>
<circle cx="279.36" cy="212.84" r="1.9" fill="#ececec" stroke="#a0a0a0" stroke-width="0.35"/>
<circle cx="281.73" cy="213.11" r="1.9" fill="#ececec" stroke="#a0a0a0" stroke-width="0.35"/>
<circle cx="287.22" cy="213.21" r="1.9" fill="#ececec" stroke="#a0a0a0" stroke-width="0.35"/>
<circle cx="289.04" cy="213.54" r="1.9" fill="#ececec" stroke="#a0a0a0" stroke-width="0.35"/>
<circle cx="291.89" cy="213.18" r="1.9" fill="#ececec" stroke="#a0a0a0" stroke-width="0.35"/>
<circle cx="294.08" cy="213.71" r="1.9" fill="#ececec" stroke="#a0a0a0" stroke-width="0.35"/>
<circle cx="300.46" cy="213.93" r="1.9" fill="#ececec" stroke="#a0a0a0" stroke-width="0.35"/>
<circle cx="300.18" cy="213.37" r="1.9" fill="#ececec" stroke="#a0a0a0" stroke-width="0.35"/>
<circle cx="307.11" cy="217.38" r="1.9" fill="#ececec" stroke="#a0a0a0" stroke-width="0.35"/>
<circle cx="305.6" cy="218.58" r="1.9" fill="#ececec" stroke="#a0a0a0" stroke-width="0.35"/>
<circle cx="299.92" cy="224.91" r="1.9" fill="#ececec" stroke="#a0a0a0" stroke-width="0.35"/>
<circle cx="298.09" cy="226.11" r="1.9" fill="#ececec" stroke="#a0a0a0" stroke-width="0.35"/>
<circle cx="294.22" cy="226.71" r="1.9" fill="#ececec" stroke="#a0a0a0" stroke-width="0.35"/>
<circle cx="292.27" cy="227.42" r="1.9" fill="#ececec" stroke="#a0a0a0" stroke-width="0.35"/>
<circle cx="289.25" cy="228.73" r="1.9" fill="#ececec" stroke="#a0a0a0" stroke-width="0.35"/>
<circle cx="285.05" cy="230.21" r="1.9" fill="#ececec" stroke="#a0a0a0" stroke-width="0.35"/>
<circle cx="282.5" cy="231.51" r="1.9" fill="#ececec" stroke="#a0a0a0" stroke-width="0.35"/>
<circle cx="276" cy="231.75" r="1.9" fill="#ececec" stroke="#a0a0a0" stroke-width="0.35"/>
<circle cx="276.03" cy="232.58" r="1.9" fill="#ececec" stroke="#a0a0a0" stroke-width="0.35"/>
<circle cx="271.26" cy="233.2" r="1.9" fill="#ececec" stroke="#a0a0a0" stroke-width="0.35"/>
<circle cx="267.98" cy="234.37" r="1.9" fill="#ececec" stroke="#a0a0a0" stroke-width="0.35"/>
<circle cx="263.61" cy="234.35" r="1.9" fill="#ececec" stroke="#a0a0a0" stroke-width="0.35"/>
<circle cx="259.48" cy="235.48" r="1.9" fill="#ececec" stroke="#a0a0a0" stroke-width="0.35"/>
<circle cx="258.31" cy="235.36" r="1.9" fill="#ececec" stroke="#a0a0a0" stroke-width="0.35"/>
<circle cx="254.41" cy="235.83" r="1.9" fill="#ececec" stroke="#a0a0a0" stroke-width="0.35"/>
<circle cx="249.14" cy="237.02" r="1.9" fill="#ececec" stroke="#a0a0a0" stroke-width="0.35"/>
<circle cx="247.74" cy="237.07" r="1.9" fill="#ececec" stroke="#a0a0a0" stroke-width="0.35"/>
<circle cx="243.96" cy="236.75" r="1.9" fill="#ececec" stroke="#a0a0a0" stroke-width="0.35"/>
<circle cx="235.5" cy="235.48" r="1.9" fill="#ececec" stroke="#a0a0a0" stroke-width="0.35"/>
<circle cx="233.83" cy="235.45" r="1.9" fill="#ececec" stroke="#a0a0a0" stroke-width="0.35"/>
<circle cx="232.2" cy="234.35" r="1.9" fill="#ececec" stroke="#a0a0a0" stroke-width="0.35"/>
<circle cx="229.34" cy="234.14" r="1.9" fill="#ececec" stroke="#a0a0a0" stroke-width="0.35"/>
<circle cx="223.27" cy="231.85" r="1.9" fill="#ececec" stroke="#a0a0a0" stroke-width="0.35"/>
<circle cx="221.79" cy="230.57" r="1.9" fill="#ececec" stroke="#a0a0a0" stroke-width="0.35"/>
<circle cx="218.75" cy="225.81" r="1.9" fill="#ececec" stroke="#a0a0a0" stroke-width="0.35"/>
<circle cx="217.92" cy="223.17" r="1.9" fill="#ececec" stroke="#a0a0a0" stroke-width="0.35"/>
<circle cx="217.15" cy="221.1" r="1.9" fill="#ececec" stroke="#a0a0a0" stroke-width="0.35"/>
<circle cx="216.04" cy="214.77" r="1.9" fill="#ececec" stroke="#a0a0a0" stroke-width="0.35"/>
<polygon points="216.65,213.75 302.84,213.72 305.52,217.91 299.2,224.84 285.01,229.95 269.06,233.1 249.55,236.36 237.4,235.03 227.17,233.24 222.2,228.91 219.19,222.13" fill="#ebebeb"/>
</g>
<line x1="246.5" y1="55.5" x2="246.5" y2="244.5" stroke="#a8a8a8" stroke-width="0.6"/>
<line x1="185.6" y1="236.5" x2="312.3" y2="236.5" stroke="#a8a8a8" stroke-width="0.6"/>
<line x1="185.6" y1="213.2" x2="312.3" y2="213.2" stroke="#777" stroke-width="0.5" stroke-dasharray="0.8 0.9"/>
<text x="187.1" y="211.13" font-size="6.2" font-style="italic" fill="#8a8a8a">FDR&lt;5%</text>
<polygon points="225.31,198.64 233.06,196.06 236.77,193.44 239.67,196.54 241.8,201.65 243.25,211.99 229.06,211.79 226.11,206.25" fill="#62b0e2"/>
<circle cx="224.03" cy="198.87" r="1.9" fill="#62b0e2" stroke="#3f8cc0" stroke-width="0.35"/>
<circle cx="237.71" cy="195.84" r="1.9" fill="#62b0e2" stroke="#3f8cc0" stroke-width="0.35"/>
<circle cx="230.2" cy="196.23" r="1.9" fill="#62b0e2" stroke="#3f8cc0" stroke-width="0.35"/>
<circle cx="240.1" cy="203.57" r="1.9" fill="#62b0e2" stroke="#3f8cc0" stroke-width="0.35"/>
<circle cx="231.9" cy="203.62" r="1.9" fill="#62b0e2" stroke="#3f8cc0" stroke-width="0.35"/>
<circle cx="236.9" cy="193.84" r="1.9" fill="#62b0e2" stroke="#3f8cc0" stroke-width="0.35"/>
<circle cx="227.16" cy="206.71" r="1.9" fill="#62b0e2" stroke="#3f8cc0" stroke-width="0.35"/>
<circle cx="232.2" cy="197.93" r="1.9" fill="#62b0e2" stroke="#3f8cc0" stroke-width="0.35"/>
<circle cx="230.11" cy="212.2" r="1.9" fill="#62b0e2" stroke="#3f8cc0" stroke-width="0.35"/>
<circle cx="230.2" cy="203.97" r="1.9" fill="#62b0e2" stroke="#3f8cc0" stroke-width="0.35"/>
<circle cx="231.12" cy="200.77" r="1.9" fill="#62b0e2" stroke="#3f8cc0" stroke-width="0.35"/>
<circle cx="241.52" cy="213.13" r="1.9" fill="#62b0e2" stroke="#3f8cc0" stroke-width="0.35"/>
<circle cx="231.26" cy="196.1" r="1.9" fill="#62b0e2" stroke="#3f8cc0" stroke-width="0.35"/>
<circle cx="238.72" cy="196.24" r="1.9" fill="#62b0e2" stroke="#3f8cc0" stroke-width="0.35"/>
<circle cx="232.49" cy="209.37" r="1.9" fill="#62b0e2" stroke="#3f8cc0" stroke-width="0.35"/>
<circle cx="232.13" cy="210.7" r="1.9" fill="#62b0e2" stroke="#3f8cc0" stroke-width="0.35"/>
<circle cx="233.25" cy="195.36" r="1.9" fill="#62b0e2" stroke="#3f8cc0" stroke-width="0.35"/>
<circle cx="236.93" cy="211.28" r="1.9" fill="#62b0e2" stroke="#3f8cc0" stroke-width="0.35"/>
<circle cx="225.63" cy="205.15" r="1.9" fill="#62b0e2" stroke="#3f8cc0" stroke-width="0.35"/>
<circle cx="231.4" cy="202.65" r="1.9" fill="#62b0e2" stroke="#3f8cc0" stroke-width="0.35"/>
<circle cx="226.79" cy="197.93" r="1.9" fill="#62b0e2" stroke="#3f8cc0" stroke-width="0.35"/>
<circle cx="234.48" cy="211.61" r="1.9" fill="#62b0e2" stroke="#3f8cc0" stroke-width="0.35"/>
<circle cx="226.03" cy="202.35" r="1.9" fill="#62b0e2" stroke="#3f8cc0" stroke-width="0.35"/>
<circle cx="240.3" cy="212.49" r="1.9" fill="#62b0e2" stroke="#3f8cc0" stroke-width="0.35"/>
<circle cx="243.13" cy="212.68" r="1.9" fill="#62b0e2" stroke="#3f8cc0" stroke-width="0.35"/>
<circle cx="242.79" cy="200.16" r="1.9" fill="#62b0e2" stroke="#3f8cc0" stroke-width="0.35"/>
<circle cx="242.34" cy="205.11" r="1.9" fill="#62b0e2" stroke="#3f8cc0" stroke-width="0.35"/>
<circle cx="240.7" cy="195.31" r="1.9" fill="#62b0e2" stroke="#3f8cc0" stroke-width="0.35"/>
<circle cx="239.91" cy="196.63" r="1.9" fill="#62b0e2" stroke="#3f8cc0" stroke-width="0.35"/>
<circle cx="232.09" cy="209.93" r="1.9" fill="#62b0e2" stroke="#3f8cc0" stroke-width="0.35"/>
<circle cx="240.8" cy="195.8" r="1.9" fill="#62b0e2" stroke="#3f8cc0" stroke-width="0.35"/>
<circle cx="228.27" cy="200.41" r="1.9" fill="#62b0e2" stroke="#3f8cc0" stroke-width="0.35"/>
<circle cx="234.42" cy="200.07" r="1.9" fill="#62b0e2" stroke="#3f8cc0" stroke-width="0.35"/>
<circle cx="226.32" cy="197.16" r="1.9" fill="#62b0e2" stroke="#3f8cc0" stroke-width="0.35"/>
<circle cx="238.66" cy="211.01" r="1.9" fill="#62b0e2" stroke="#3f8cc0" stroke-width="0.35"/>
<circle cx="224.64" cy="203.88" r="1.9" fill="#62b0e2" stroke="#3f8cc0" stroke-width="0.35"/>
<circle cx="236.09" cy="203.62" r="1.9" fill="#62b0e2" stroke="#3f8cc0" stroke-width="0.35"/>
<circle cx="236.65" cy="198.42" r="1.9" fill="#62b0e2" stroke="#3f8cc0" stroke-width="0.35"/>
<circle cx="232.41" cy="204.31" r="1.9" fill="#62b0e2" stroke="#3f8cc0" stroke-width="0.35"/>
<circle cx="232.53" cy="205.93" r="1.9" fill="#62b0e2" stroke="#3f8cc0" stroke-width="0.35"/>
<circle cx="232.96" cy="201.24" r="1.9" fill="#62b0e2" stroke="#3f8cc0" stroke-width="0.35"/>
<circle cx="233.83" cy="196.91" r="1.9" fill="#62b0e2" stroke="#3f8cc0" stroke-width="0.35"/>
<circle cx="239.45" cy="208.51" r="1.9" fill="#62b0e2" stroke="#3f8cc0" stroke-width="0.35"/>
<circle cx="233.19" cy="195.72" r="1.9" fill="#62b0e2" stroke="#3f8cc0" stroke-width="0.35"/>
<circle cx="233.5" cy="194.18" r="1.9" fill="#62b0e2" stroke="#3f8cc0" stroke-width="0.35"/>
<circle cx="226.43" cy="201.07" r="1.9" fill="#62b0e2" stroke="#3f8cc0" stroke-width="0.35"/>
<circle cx="225.68" cy="201.31" r="1.9" fill="#62b0e2" stroke="#3f8cc0" stroke-width="0.35"/>
<circle cx="236.85" cy="193.65" r="1.9" fill="#62b0e2" stroke="#3f8cc0" stroke-width="0.35"/>
<circle cx="238.84" cy="208.46" r="1.9" fill="#62b0e2" stroke="#3f8cc0" stroke-width="0.35"/>
<circle cx="234.13" cy="199.95" r="1.9" fill="#62b0e2" stroke="#3f8cc0" stroke-width="0.35"/>
<circle cx="241.37" cy="213.12" r="1.9" fill="#62b0e2" stroke="#3f8cc0" stroke-width="0.35"/>
<circle cx="238.81" cy="209.26" r="1.9" fill="#62b0e2" stroke="#3f8cc0" stroke-width="0.35"/>
<circle cx="233.88" cy="212.28" r="1.9" fill="#62b0e2" stroke="#3f8cc0" stroke-width="0.35"/>
<circle cx="239.96" cy="211.72" r="1.9" fill="#62b0e2" stroke="#3f8cc0" stroke-width="0.35"/>
<circle cx="225.14" cy="199.37" r="1.9" fill="#62b0e2" stroke="#3f8cc0" stroke-width="0.35"/>
<circle cx="239.3" cy="195.28" r="1.9" fill="#62b0e2" stroke="#3f8cc0" stroke-width="0.35"/>
<circle cx="234.1" cy="211.49" r="1.9" fill="#62b0e2" stroke="#3f8cc0" stroke-width="0.35"/>
<circle cx="228.07" cy="197.5" r="1.9" fill="#62b0e2" stroke="#3f8cc0" stroke-width="0.35"/>
<circle cx="234.17" cy="198.7" r="1.9" fill="#62b0e2" stroke="#3f8cc0" stroke-width="0.35"/>
<circle cx="237.73" cy="210.97" r="1.9" fill="#62b0e2" stroke="#3f8cc0" stroke-width="0.35"/>
<circle cx="234.2" cy="166.4" r="1.9" fill="#62b0e2" stroke="#3f8cc0" stroke-width="0.4"/>
<circle cx="226.5" cy="167.8" r="1.9" fill="#62b0e2" stroke="#3f8cc0" stroke-width="0.4"/>
<circle cx="219.9" cy="168.7" r="1.9" fill="#62b0e2" stroke="#3f8cc0" stroke-width="0.4"/>
<circle cx="220.3" cy="172.8" r="1.9" fill="#62b0e2" stroke="#3f8cc0" stroke-width="0.4"/>
<circle cx="207.8" cy="174" r="1.9" fill="#62b0e2" stroke="#3f8cc0" stroke-width="0.4"/>
<circle cx="233.6" cy="176.7" r="1.9" fill="#62b0e2" stroke="#3f8cc0" stroke-width="0.4"/>
<circle cx="229.2" cy="180.6" r="1.9" fill="#62b0e2" stroke="#3f8cc0" stroke-width="0.4"/>
<circle cx="191.4" cy="182.1" r="1.9" fill="#62b0e2" stroke="#3f8cc0" stroke-width="0.4"/>
<circle cx="237.2" cy="185.3" r="1.9" fill="#62b0e2" stroke="#3f8cc0" stroke-width="0.4"/>
<circle cx="226.5" cy="187.8" r="1.9" fill="#62b0e2" stroke="#3f8cc0" stroke-width="0.4"/>
<circle cx="229.5" cy="190.1" r="1.9" fill="#62b0e2" stroke="#3f8cc0" stroke-width="0.4"/>
<circle cx="197.5" cy="198.1" r="1.9" fill="#62b0e2" stroke="#3f8cc0" stroke-width="0.4"/>
<circle cx="202.1" cy="203.1" r="1.9" fill="#62b0e2" stroke="#3f8cc0" stroke-width="0.4"/>
<circle cx="218.5" cy="202" r="1.9" fill="#62b0e2" stroke="#3f8cc0" stroke-width="0.4"/>
<circle cx="214" cy="212" r="1.9" fill="#62b0e2" stroke="#3f8cc0" stroke-width="0.4"/>
<circle cx="222.9" cy="197.2" r="1.9" fill="#62b0e2" stroke="#3f8cc0" stroke-width="0.4"/>
<circle cx="220" cy="205" r="1.9" fill="#62b0e2" stroke="#3f8cc0" stroke-width="0.4"/>
<circle cx="225" cy="210" r="1.9" fill="#62b0e2" stroke="#3f8cc0" stroke-width="0.4"/>
<circle cx="231" cy="192" r="1.9" fill="#62b0e2" stroke="#3f8cc0" stroke-width="0.4"/>
<circle cx="259.45" cy="208.79" r="1.9" fill="#2c2d6c" stroke="#1c1d4c" stroke-width="0.35"/>
<circle cx="256.35" cy="203.58" r="1.9" fill="#2c2d6c" stroke="#1c1d4c" stroke-width="0.35"/>
<circle cx="286.48" cy="200.08" r="1.9" fill="#2c2d6c" stroke="#1c1d4c" stroke-width="0.35"/>
<circle cx="300.16" cy="204.08" r="1.9" fill="#2c2d6c" stroke="#1c1d4c" stroke-width="0.35"/>
<circle cx="283.23" cy="210.79" r="1.9" fill="#2c2d6c" stroke="#1c1d4c" stroke-width="0.35"/>
<circle cx="255.75" cy="213.06" r="1.9" fill="#2c2d6c" stroke="#1c1d4c" stroke-width="0.35"/>
<circle cx="286.1" cy="200.78" r="1.9" fill="#2c2d6c" stroke="#1c1d4c" stroke-width="0.35"/>
<circle cx="295.81" cy="198.13" r="1.9" fill="#2c2d6c" stroke="#1c1d4c" stroke-width="0.35"/>
<circle cx="270.52" cy="208.38" r="1.9" fill="#2c2d6c" stroke="#1c1d4c" stroke-width="0.35"/>
<circle cx="275.26" cy="196.32" r="1.9" fill="#2c2d6c" stroke="#1c1d4c" stroke-width="0.35"/>
<circle cx="297.09" cy="197.9" r="1.9" fill="#2c2d6c" stroke="#1c1d4c" stroke-width="0.35"/>
<circle cx="283.56" cy="206.31" r="1.9" fill="#2c2d6c" stroke="#1c1d4c" stroke-width="0.35"/>
<circle cx="285.31" cy="201.56" r="1.9" fill="#2c2d6c" stroke="#1c1d4c" stroke-width="0.35"/>
<circle cx="279.33" cy="211.06" r="1.9" fill="#2c2d6c" stroke="#1c1d4c" stroke-width="0.35"/>
<circle cx="257.33" cy="197.36" r="1.9" fill="#2c2d6c" stroke="#1c1d4c" stroke-width="0.35"/>
<circle cx="255.85" cy="200.02" r="1.9" fill="#2c2d6c" stroke="#1c1d4c" stroke-width="0.35"/>
<circle cx="262.66" cy="204.66" r="1.9" fill="#2c2d6c" stroke="#1c1d4c" stroke-width="0.35"/>
<circle cx="283.75" cy="196.89" r="1.9" fill="#2c2d6c" stroke="#1c1d4c" stroke-width="0.35"/>
<circle cx="285.76" cy="202.44" r="1.9" fill="#2c2d6c" stroke="#1c1d4c" stroke-width="0.35"/>
<circle cx="257.49" cy="211.9" r="1.9" fill="#2c2d6c" stroke="#1c1d4c" stroke-width="0.35"/>
<circle cx="263.78" cy="195.76" r="1.9" fill="#2c2d6c" stroke="#1c1d4c" stroke-width="0.35"/>
<circle cx="255.24" cy="205.78" r="1.9" fill="#2c2d6c" stroke="#1c1d4c" stroke-width="0.35"/>
<circle cx="300.06" cy="208.73" r="1.9" fill="#2c2d6c" stroke="#1c1d4c" stroke-width="0.35"/>
<circle cx="272.93" cy="198.12" r="1.9" fill="#2c2d6c" stroke="#1c1d4c" stroke-width="0.35"/>
<circle cx="250.36" cy="205.92" r="1.9" fill="#2c2d6c" stroke="#1c1d4c" stroke-width="0.35"/>
<circle cx="282.2" cy="199.88" r="1.9" fill="#2c2d6c" stroke="#1c1d4c" stroke-width="0.35"/>
<circle cx="287.02" cy="201.8" r="1.9" fill="#2c2d6c" stroke="#1c1d4c" stroke-width="0.35"/>
<circle cx="303.87" cy="207.74" r="1.9" fill="#2c2d6c" stroke="#1c1d4c" stroke-width="0.35"/>
<circle cx="264.06" cy="211.22" r="1.9" fill="#2c2d6c" stroke="#1c1d4c" stroke-width="0.35"/>
<circle cx="252.24" cy="203.6" r="1.9" fill="#2c2d6c" stroke="#1c1d4c" stroke-width="0.35"/>
<circle cx="273.17" cy="197.57" r="1.9" fill="#2c2d6c" stroke="#1c1d4c" stroke-width="0.35"/>
<circle cx="253.07" cy="208.67" r="1.9" fill="#2c2d6c" stroke="#1c1d4c" stroke-width="0.35"/>
<circle cx="250.41" cy="203.99" r="1.9" fill="#2c2d6c" stroke="#1c1d4c" stroke-width="0.35"/>
<circle cx="261.23" cy="205.17" r="1.9" fill="#2c2d6c" stroke="#1c1d4c" stroke-width="0.35"/>
<circle cx="279" cy="205.85" r="1.9" fill="#2c2d6c" stroke="#1c1d4c" stroke-width="0.35"/>
<circle cx="296.71" cy="196.28" r="1.9" fill="#2c2d6c" stroke="#1c1d4c" stroke-width="0.35"/>
<circle cx="267.58" cy="198.86" r="1.9" fill="#2c2d6c" stroke="#1c1d4c" stroke-width="0.35"/>
<circle cx="252.5" cy="210.93" r="1.9" fill="#2c2d6c" stroke="#1c1d4c" stroke-width="0.35"/>
<circle cx="294.96" cy="207.37" r="1.9" fill="#2c2d6c" stroke="#1c1d4c" stroke-width="0.35"/>
<circle cx="250.07" cy="210.01" r="1.9" fill="#2c2d6c" stroke="#1c1d4c" stroke-width="0.35"/>
<circle cx="292.77" cy="202.24" r="1.9" fill="#2c2d6c" stroke="#1c1d4c" stroke-width="0.35"/>
<circle cx="292.57" cy="201.98" r="1.9" fill="#2c2d6c" stroke="#1c1d4c" stroke-width="0.35"/>
<circle cx="262.76" cy="194.86" r="1.9" fill="#2c2d6c" stroke="#1c1d4c" stroke-width="0.35"/>
<circle cx="263.13" cy="193.5" r="1.9" fill="#2c2d6c" stroke="#1c1d4c" stroke-width="0.35"/>
<circle cx="269.09" cy="208.07" r="1.9" fill="#2c2d6c" stroke="#1c1d4c" stroke-width="0.35"/>
<circle cx="289.88" cy="210.03" r="1.9" fill="#2c2d6c" stroke="#1c1d4c" stroke-width="0.35"/>
<circle cx="290.84" cy="198.15" r="1.9" fill="#2c2d6c" stroke="#1c1d4c" stroke-width="0.35"/>
<circle cx="281.71" cy="201.64" r="1.9" fill="#2c2d6c" stroke="#1c1d4c" stroke-width="0.35"/>
<circle cx="295.27" cy="203.43" r="1.9" fill="#2c2d6c" stroke="#1c1d4c" stroke-width="0.35"/>
<circle cx="265.03" cy="205.86" r="1.9" fill="#2c2d6c" stroke="#1c1d4c" stroke-width="0.35"/>
<circle cx="264.75" cy="197.54" r="1.9" fill="#2c2d6c" stroke="#1c1d4c" stroke-width="0.35"/>
<circle cx="292.7" cy="212.07" r="1.9" fill="#2c2d6c" stroke="#1c1d4c" stroke-width="0.35"/>
<circle cx="292.83" cy="199.4" r="1.9" fill="#2c2d6c" stroke="#1c1d4c" stroke-width="0.35"/>
<circle cx="263.52" cy="211.31" r="1.9" fill="#2c2d6c" stroke="#1c1d4c" stroke-width="0.35"/>
<circle cx="286.15" cy="206.9" r="1.9" fill="#2c2d6c" stroke="#1c1d4c" stroke-width="0.35"/>
<circle cx="276.84" cy="209.91" r="1.9" fill="#2c2d6c" stroke="#1c1d4c" stroke-width="0.35"/>
<circle cx="290.02" cy="210.28" r="1.9" fill="#2c2d6c" stroke="#1c1d4c" stroke-width="0.35"/>
<circle cx="274.97" cy="207.55" r="1.9" fill="#2c2d6c" stroke="#1c1d4c" stroke-width="0.35"/>
<circle cx="282.67" cy="199.01" r="1.9" fill="#2c2d6c" stroke="#1c1d4c" stroke-width="0.35"/>
<circle cx="261.95" cy="205.46" r="1.9" fill="#2c2d6c" stroke="#1c1d4c" stroke-width="0.35"/>
<circle cx="254.2" cy="211.37" r="1.9" fill="#2c2d6c" stroke="#1c1d4c" stroke-width="0.35"/>
<circle cx="255.87" cy="211.74" r="1.9" fill="#2c2d6c" stroke="#1c1d4c" stroke-width="0.35"/>
<circle cx="269.63" cy="195.61" r="1.9" fill="#2c2d6c" stroke="#1c1d4c" stroke-width="0.35"/>
<circle cx="289.73" cy="205.69" r="1.9" fill="#2c2d6c" stroke="#1c1d4c" stroke-width="0.35"/>
<circle cx="289.99" cy="207.8" r="1.9" fill="#2c2d6c" stroke="#1c1d4c" stroke-width="0.35"/>
<circle cx="253.5" cy="204.8" r="1.9" fill="#2c2d6c" stroke="#1c1d4c" stroke-width="0.35"/>
<circle cx="270.7" cy="209.46" r="1.9" fill="#2c2d6c" stroke="#1c1d4c" stroke-width="0.35"/>
<circle cx="297.07" cy="210.97" r="1.9" fill="#2c2d6c" stroke="#1c1d4c" stroke-width="0.35"/>
<circle cx="253.51" cy="210.49" r="1.9" fill="#2c2d6c" stroke="#1c1d4c" stroke-width="0.35"/>
<circle cx="302.55" cy="212.06" r="1.9" fill="#2c2d6c" stroke="#1c1d4c" stroke-width="0.35"/>
<circle cx="255.89" cy="196.92" r="1.9" fill="#2c2d6c" stroke="#1c1d4c" stroke-width="0.35"/>
<circle cx="298.7" cy="209.35" r="1.9" fill="#2c2d6c" stroke="#1c1d4c" stroke-width="0.35"/>
<circle cx="286.36" cy="209.61" r="1.9" fill="#2c2d6c" stroke="#1c1d4c" stroke-width="0.35"/>
<circle cx="286.2" cy="198.59" r="1.9" fill="#2c2d6c" stroke="#1c1d4c" stroke-width="0.35"/>
<circle cx="255.47" cy="194.71" r="1.9" fill="#2c2d6c" stroke="#1c1d4c" stroke-width="0.35"/>
<circle cx="293.48" cy="196.9" r="1.9" fill="#2c2d6c" stroke="#1c1d4c" stroke-width="0.35"/>
<circle cx="268.15" cy="201.39" r="1.9" fill="#2c2d6c" stroke="#1c1d4c" stroke-width="0.35"/>
<circle cx="266.03" cy="207.37" r="1.9" fill="#2c2d6c" stroke="#1c1d4c" stroke-width="0.35"/>
<circle cx="270.97" cy="199.28" r="1.9" fill="#2c2d6c" stroke="#1c1d4c" stroke-width="0.35"/>
<circle cx="298.91" cy="205.37" r="1.9" fill="#2c2d6c" stroke="#1c1d4c" stroke-width="0.35"/>
<circle cx="251.49" cy="201.16" r="1.9" fill="#2c2d6c" stroke="#1c1d4c" stroke-width="0.35"/>
<circle cx="274.93" cy="208.55" r="1.9" fill="#2c2d6c" stroke="#1c1d4c" stroke-width="0.35"/>
<circle cx="269.74" cy="207.15" r="1.9" fill="#2c2d6c" stroke="#1c1d4c" stroke-width="0.35"/>
<circle cx="280.79" cy="197.14" r="1.9" fill="#2c2d6c" stroke="#1c1d4c" stroke-width="0.35"/>
<circle cx="249.95" cy="202.76" r="1.9" fill="#2c2d6c" stroke="#1c1d4c" stroke-width="0.35"/>
<circle cx="278.11" cy="209.03" r="1.9" fill="#2c2d6c" stroke="#1c1d4c" stroke-width="0.35"/>
<circle cx="260.37" cy="202.84" r="1.9" fill="#2c2d6c" stroke="#1c1d4c" stroke-width="0.35"/>
<circle cx="269.77" cy="209.75" r="1.9" fill="#2c2d6c" stroke="#1c1d4c" stroke-width="0.35"/>
<circle cx="264.76" cy="212.05" r="1.9" fill="#2c2d6c" stroke="#1c1d4c" stroke-width="0.35"/>
<circle cx="266.1" cy="197.1" r="1.9" fill="#2c2d6c" stroke="#1c1d4c" stroke-width="0.35"/>
<circle cx="290.13" cy="202.92" r="1.9" fill="#2c2d6c" stroke="#1c1d4c" stroke-width="0.35"/>
<circle cx="256.05" cy="205.75" r="1.9" fill="#2c2d6c" stroke="#1c1d4c" stroke-width="0.35"/>
<circle cx="254.38" cy="208.85" r="1.9" fill="#2c2d6c" stroke="#1c1d4c" stroke-width="0.35"/>
<circle cx="290" cy="208.83" r="1.9" fill="#2c2d6c" stroke="#1c1d4c" stroke-width="0.35"/>
<circle cx="285.99" cy="199.99" r="1.9" fill="#2c2d6c" stroke="#1c1d4c" stroke-width="0.35"/>
<circle cx="272.89" cy="200.79" r="1.9" fill="#2c2d6c" stroke="#1c1d4c" stroke-width="0.35"/>
<circle cx="261.61" cy="198.1" r="1.9" fill="#2c2d6c" stroke="#1c1d4c" stroke-width="0.35"/>
<circle cx="301.79" cy="202.97" r="1.9" fill="#2c2d6c" stroke="#1c1d4c" stroke-width="0.35"/>
<circle cx="271.62" cy="210.82" r="1.9" fill="#2c2d6c" stroke="#1c1d4c" stroke-width="0.35"/>
<circle cx="263.2" cy="202.15" r="1.9" fill="#2c2d6c" stroke="#1c1d4c" stroke-width="0.35"/>
<circle cx="280.42" cy="208.17" r="1.9" fill="#2c2d6c" stroke="#1c1d4c" stroke-width="0.35"/>
<circle cx="293.22" cy="205.95" r="1.9" fill="#2c2d6c" stroke="#1c1d4c" stroke-width="0.35"/>
<circle cx="269.84" cy="199.4" r="1.9" fill="#2c2d6c" stroke="#1c1d4c" stroke-width="0.35"/>
<circle cx="258.68" cy="209.98" r="1.9" fill="#2c2d6c" stroke="#1c1d4c" stroke-width="0.35"/>
<circle cx="287.97" cy="207.91" r="1.9" fill="#2c2d6c" stroke="#1c1d4c" stroke-width="0.35"/>
<circle cx="259.5" cy="201.7" r="1.9" fill="#2c2d6c" stroke="#1c1d4c" stroke-width="0.35"/>
<circle cx="294.4" cy="204.57" r="1.9" fill="#2c2d6c" stroke="#1c1d4c" stroke-width="0.35"/>
<circle cx="256.99" cy="202.17" r="1.9" fill="#2c2d6c" stroke="#1c1d4c" stroke-width="0.35"/>
<circle cx="260.77" cy="198.88" r="1.9" fill="#2c2d6c" stroke="#1c1d4c" stroke-width="0.35"/>
<circle cx="290.34" cy="210" r="1.9" fill="#2c2d6c" stroke="#1c1d4c" stroke-width="0.35"/>
<circle cx="258.64" cy="195.9" r="1.9" fill="#2c2d6c" stroke="#1c1d4c" stroke-width="0.35"/>
<circle cx="264.01" cy="199.39" r="1.9" fill="#2c2d6c" stroke="#1c1d4c" stroke-width="0.35"/>
<circle cx="279.88" cy="196" r="1.9" fill="#2c2d6c" stroke="#1c1d4c" stroke-width="0.35"/>
<circle cx="268.66" cy="196.58" r="1.9" fill="#2c2d6c" stroke="#1c1d4c" stroke-width="0.35"/>
<circle cx="255.58" cy="212.43" r="1.9" fill="#2c2d6c" stroke="#1c1d4c" stroke-width="0.35"/>
<circle cx="255.57" cy="200.58" r="1.9" fill="#2c2d6c" stroke="#1c1d4c" stroke-width="0.35"/>
<circle cx="292.08" cy="201.62" r="1.9" fill="#2c2d6c" stroke="#1c1d4c" stroke-width="0.35"/>
<circle cx="261.04" cy="205.78" r="1.9" fill="#2c2d6c" stroke="#1c1d4c" stroke-width="0.35"/>
<circle cx="255.88" cy="196.93" r="1.9" fill="#2c2d6c" stroke="#1c1d4c" stroke-width="0.35"/>
<circle cx="272.76" cy="208.92" r="1.9" fill="#2c2d6c" stroke="#1c1d4c" stroke-width="0.35"/>
<circle cx="289.78" cy="202.96" r="1.9" fill="#2c2d6c" stroke="#1c1d4c" stroke-width="0.35"/>
<circle cx="286.25" cy="202.2" r="1.9" fill="#2c2d6c" stroke="#1c1d4c" stroke-width="0.35"/>
<circle cx="257.9" cy="205.08" r="1.9" fill="#2c2d6c" stroke="#1c1d4c" stroke-width="0.35"/>
<circle cx="273.09" cy="207.89" r="1.9" fill="#2c2d6c" stroke="#1c1d4c" stroke-width="0.35"/>
<circle cx="282.88" cy="208.06" r="1.9" fill="#2c2d6c" stroke="#1c1d4c" stroke-width="0.35"/>
<circle cx="274.04" cy="197.39" r="1.9" fill="#2c2d6c" stroke="#1c1d4c" stroke-width="0.35"/>
<circle cx="291.44" cy="210.74" r="1.9" fill="#2c2d6c" stroke="#1c1d4c" stroke-width="0.35"/>
<circle cx="294.44" cy="207.05" r="1.9" fill="#2c2d6c" stroke="#1c1d4c" stroke-width="0.35"/>
<circle cx="298.97" cy="206.63" r="1.9" fill="#2c2d6c" stroke="#1c1d4c" stroke-width="0.35"/>
<circle cx="286.78" cy="202.01" r="1.9" fill="#2c2d6c" stroke="#1c1d4c" stroke-width="0.35"/>
<circle cx="267.79" cy="205.58" r="1.9" fill="#2c2d6c" stroke="#1c1d4c" stroke-width="0.35"/>
<circle cx="255.36" cy="201.3" r="1.9" fill="#2c2d6c" stroke="#1c1d4c" stroke-width="0.35"/>
<circle cx="294.92" cy="207.32" r="1.9" fill="#2c2d6c" stroke="#1c1d4c" stroke-width="0.35"/>
<circle cx="286.09" cy="197.83" r="1.9" fill="#2c2d6c" stroke="#1c1d4c" stroke-width="0.35"/>
<circle cx="274.18" cy="202.03" r="1.9" fill="#2c2d6c" stroke="#1c1d4c" stroke-width="0.35"/>
<circle cx="285.63" cy="201.09" r="1.9" fill="#2c2d6c" stroke="#1c1d4c" stroke-width="0.35"/>
<circle cx="288.73" cy="211.77" r="1.9" fill="#2c2d6c" stroke="#1c1d4c" stroke-width="0.35"/>
<circle cx="260.28" cy="206.12" r="1.9" fill="#2c2d6c" stroke="#1c1d4c" stroke-width="0.35"/>
<circle cx="294.68" cy="200.67" r="1.9" fill="#2c2d6c" stroke="#1c1d4c" stroke-width="0.35"/>
<circle cx="278.01" cy="212.68" r="1.9" fill="#2c2d6c" stroke="#1c1d4c" stroke-width="0.35"/>
<circle cx="251.9" cy="203.84" r="1.9" fill="#2c2d6c" stroke="#1c1d4c" stroke-width="0.35"/>
<circle cx="259" cy="208.73" r="1.9" fill="#2c2d6c" stroke="#1c1d4c" stroke-width="0.35"/>
<circle cx="255.54" cy="204.48" r="1.9" fill="#2c2d6c" stroke="#1c1d4c" stroke-width="0.35"/>
<circle cx="280.97" cy="207.4" r="1.9" fill="#2c2d6c" stroke="#1c1d4c" stroke-width="0.35"/>
<circle cx="279.3" cy="205.8" r="1.9" fill="#2c2d6c" stroke="#1c1d4c" stroke-width="0.35"/>
<circle cx="297.62" cy="203.39" r="1.9" fill="#2c2d6c" stroke="#1c1d4c" stroke-width="0.35"/>
<circle cx="273.42" cy="212.13" r="1.9" fill="#2c2d6c" stroke="#1c1d4c" stroke-width="0.35"/>
<circle cx="261.84" cy="206.73" r="1.9" fill="#2c2d6c" stroke="#1c1d4c" stroke-width="0.35"/>
<circle cx="272.39" cy="208.34" r="1.9" fill="#2c2d6c" stroke="#1c1d4c" stroke-width="0.35"/>
<circle cx="256.77" cy="212.88" r="1.9" fill="#2c2d6c" stroke="#1c1d4c" stroke-width="0.35"/>
<circle cx="258.39" cy="201.59" r="1.95" fill="#c8359f" stroke="#a02a80" stroke-width="0.4"/>
<circle cx="260.73" cy="207.27" r="1.95" fill="#c8359f" stroke="#a02a80" stroke-width="0.4"/>
<circle cx="259.63" cy="199.04" r="1.95" fill="#c8359f" stroke="#a02a80" stroke-width="0.4"/>
<circle cx="257.59" cy="208.09" r="1.95" fill="#c8359f" stroke="#a02a80" stroke-width="0.4"/>
<circle cx="269.04" cy="204.01" r="1.95" fill="#c8359f" stroke="#a02a80" stroke-width="0.4"/>
<circle cx="257.5" cy="209.23" r="1.95" fill="#c8359f" stroke="#a02a80" stroke-width="0.4"/>
<circle cx="260.27" cy="198.03" r="1.95" fill="#c8359f" stroke="#a02a80" stroke-width="0.4"/>
<circle cx="256.07" cy="208.76" r="1.95" fill="#c8359f" stroke="#a02a80" stroke-width="0.4"/>
<circle cx="266.95" cy="206.05" r="1.95" fill="#c8359f" stroke="#a02a80" stroke-width="0.4"/>
<circle cx="261.51" cy="204.68" r="1.95" fill="#c8359f" stroke="#a02a80" stroke-width="0.4"/>
<circle cx="257.62" cy="212.31" r="1.95" fill="#c8359f" stroke="#a02a80" stroke-width="0.4"/>
<circle cx="259.65" cy="206.14" r="1.95" fill="#c8359f" stroke="#a02a80" stroke-width="0.4"/>
<circle cx="267.1" cy="209.51" r="1.95" fill="#c8359f" stroke="#a02a80" stroke-width="0.4"/>
<circle cx="261.49" cy="199.59" r="1.95" fill="#c8359f" stroke="#a02a80" stroke-width="0.4"/>
<circle cx="262.77" cy="196.38" r="1.95" fill="#c8359f" stroke="#a02a80" stroke-width="0.4"/>
<circle cx="267.34" cy="200.74" r="1.95" fill="#c8359f" stroke="#a02a80" stroke-width="0.4"/>
<circle cx="267.61" cy="199.08" r="1.95" fill="#c8359f" stroke="#a02a80" stroke-width="0.4"/>
<circle cx="260.02" cy="198.82" r="1.95" fill="#c8359f" stroke="#a02a80" stroke-width="0.4"/>
<circle cx="260.82" cy="197.53" r="1.95" fill="#c8359f" stroke="#a02a80" stroke-width="0.4"/>
<circle cx="258.5" cy="198.65" r="1.95" fill="#c8359f" stroke="#a02a80" stroke-width="0.4"/>
<circle cx="258.83" cy="203.11" r="1.95" fill="#c8359f" stroke="#a02a80" stroke-width="0.4"/>
<circle cx="260.86" cy="206.11" r="1.95" fill="#c8359f" stroke="#a02a80" stroke-width="0.4"/>
<circle cx="256.3" cy="160.7" r="1.9" fill="#2c2d6c" stroke="#1c1d4c" stroke-width="0.4"/>
<circle cx="253.2" cy="180.6" r="1.9" fill="#2c2d6c" stroke="#1c1d4c" stroke-width="0.4"/>
<circle cx="256.8" cy="183.5" r="1.9" fill="#2c2d6c" stroke="#1c1d4c" stroke-width="0.4"/>
<circle cx="273.7" cy="172.3" r="1.9" fill="#2c2d6c" stroke="#1c1d4c" stroke-width="0.4"/>
<circle cx="273.7" cy="180.6" r="1.9" fill="#2c2d6c" stroke="#1c1d4c" stroke-width="0.4"/>
<circle cx="266.6" cy="182.1" r="1.9" fill="#2c2d6c" stroke="#1c1d4c" stroke-width="0.4"/>
<circle cx="287.1" cy="180.6" r="1.9" fill="#2c2d6c" stroke="#1c1d4c" stroke-width="0.4"/>
<circle cx="279" cy="187" r="1.9" fill="#2c2d6c" stroke="#1c1d4c" stroke-width="0.4"/>
<circle cx="282.6" cy="188.3" r="1.9" fill="#2c2d6c" stroke="#1c1d4c" stroke-width="0.4"/>
<circle cx="287.6" cy="188.8" r="1.9" fill="#2c2d6c" stroke="#1c1d4c" stroke-width="0.4"/>
<circle cx="292.9" cy="188.8" r="1.9" fill="#2c2d6c" stroke="#1c1d4c" stroke-width="0.4"/>
<circle cx="297.7" cy="189.5" r="1.9" fill="#2c2d6c" stroke="#1c1d4c" stroke-width="0.4"/>
<circle cx="261.2" cy="186.5" r="1.9" fill="#2c2d6c" stroke="#1c1d4c" stroke-width="0.4"/>
<circle cx="252.3" cy="197.7" r="1.9" fill="#2c2d6c" stroke="#1c1d4c" stroke-width="0.4"/>
<circle cx="300.4" cy="205.2" r="1.9" fill="#2c2d6c" stroke="#1c1d4c" stroke-width="0.4"/>
<circle cx="304" cy="208.8" r="1.9" fill="#2c2d6c" stroke="#1c1d4c" stroke-width="0.4"/>
<circle cx="306.7" cy="211.4" r="1.9" fill="#2c2d6c" stroke="#1c1d4c" stroke-width="0.4"/>
<circle cx="270" cy="188" r="1.9" fill="#2c2d6c" stroke="#1c1d4c" stroke-width="0.4"/>
<circle cx="276" cy="190" r="1.9" fill="#2c2d6c" stroke="#1c1d4c" stroke-width="0.4"/>
<circle cx="258" cy="189" r="1.9" fill="#2c2d6c" stroke="#1c1d4c" stroke-width="0.4"/>
<circle cx="292" cy="194" r="1.9" fill="#2c2d6c" stroke="#1c1d4c" stroke-width="0.4"/>
<circle cx="300" cy="198" r="1.9" fill="#2c2d6c" stroke="#1c1d4c" stroke-width="0.4"/>
<circle cx="285" cy="193" r="1.9" fill="#2c2d6c" stroke="#1c1d4c" stroke-width="0.4"/>
<circle cx="268" cy="176" r="1.9" fill="#2c2d6c" stroke="#1c1d4c" stroke-width="0.4"/>
<circle cx="278" cy="178" r="1.9" fill="#2c2d6c" stroke="#1c1d4c" stroke-width="0.4"/>
<circle cx="284" cy="183" r="1.9" fill="#2c2d6c" stroke="#1c1d4c" stroke-width="0.4"/>
<circle cx="290" cy="184" r="1.9" fill="#2c2d6c" stroke="#1c1d4c" stroke-width="0.4"/>
<circle cx="296" cy="186" r="1.9" fill="#2c2d6c" stroke="#1c1d4c" stroke-width="0.4"/>
<circle cx="302" cy="192" r="1.9" fill="#2c2d6c" stroke="#1c1d4c" stroke-width="0.4"/>
<circle cx="305" cy="199" r="1.9" fill="#2c2d6c" stroke="#1c1d4c" stroke-width="0.4"/>
<circle cx="272" cy="184" r="1.9" fill="#2c2d6c" stroke="#1c1d4c" stroke-width="0.4"/>
<circle cx="262" cy="180" r="1.9" fill="#2c2d6c" stroke="#1c1d4c" stroke-width="0.4"/>
<circle cx="294" cy="179" r="1.9" fill="#2c2d6c" stroke="#1c1d4c" stroke-width="0.4"/>
<circle cx="280" cy="172" r="1.9" fill="#2c2d6c" stroke="#1c1d4c" stroke-width="0.4"/>
<circle cx="300" cy="183" r="1.9" fill="#2c2d6c" stroke="#1c1d4c" stroke-width="0.4"/>
<circle cx="288" cy="190" r="1.9" fill="#2c2d6c" stroke="#1c1d4c" stroke-width="0.4"/>
<circle cx="276" cy="184" r="1.9" fill="#2c2d6c" stroke="#1c1d4c" stroke-width="0.4"/>
<circle cx="266" cy="190" r="1.9" fill="#2c2d6c" stroke="#1c1d4c" stroke-width="0.4"/>
<circle cx="255" cy="175" r="1.9" fill="#2c2d6c" stroke="#1c1d4c" stroke-width="0.4"/>
<circle cx="259" cy="168" r="1.9" fill="#2c2d6c" stroke="#1c1d4c" stroke-width="0.4"/>
<circle cx="283" cy="186" r="1.9" fill="#2c2d6c" stroke="#1c1d4c" stroke-width="0.4"/>
<circle cx="298" cy="195" r="1.9" fill="#2c2d6c" stroke="#1c1d4c" stroke-width="0.4"/>
<circle cx="263.3" cy="63.4" r="1.95" fill="#c8359f" stroke="#a02a80" stroke-width="0.4"/>
<circle cx="265.5" cy="87.1" r="1.95" fill="#c8359f" stroke="#a02a80" stroke-width="0.4"/>
<circle cx="264.2" cy="97.8" r="1.95" fill="#c8359f" stroke="#a02a80" stroke-width="0.4"/>
<circle cx="263.7" cy="103.1" r="1.95" fill="#c8359f" stroke="#a02a80" stroke-width="0.4"/>
<circle cx="264.6" cy="105.8" r="1.95" fill="#c8359f" stroke="#a02a80" stroke-width="0.4"/>
<circle cx="262.4" cy="113.5" r="1.95" fill="#c8359f" stroke="#a02a80" stroke-width="0.4"/>
<circle cx="264.6" cy="113.8" r="1.95" fill="#c8359f" stroke="#a02a80" stroke-width="0.4"/>
<circle cx="266.7" cy="113.8" r="1.95" fill="#c8359f" stroke="#a02a80" stroke-width="0.4"/>
<circle cx="272.2" cy="113.3" r="1.95" fill="#c8359f" stroke="#a02a80" stroke-width="0.4"/>
<circle cx="266.7" cy="118.3" r="1.95" fill="#c8359f" stroke="#a02a80" stroke-width="0.4"/>
<circle cx="262.4" cy="120.6" r="1.95" fill="#c8359f" stroke="#a02a80" stroke-width="0.4"/>
<circle cx="261.9" cy="122.7" r="1.95" fill="#c8359f" stroke="#a02a80" stroke-width="0.4"/>
<circle cx="261" cy="126" r="1.95" fill="#c8359f" stroke="#a02a80" stroke-width="0.4"/>
<circle cx="259.6" cy="129.9" r="1.95" fill="#c8359f" stroke="#a02a80" stroke-width="0.4"/>
<circle cx="260.1" cy="136.1" r="1.95" fill="#c8359f" stroke="#a02a80" stroke-width="0.4"/>
<circle cx="263.7" cy="135.2" r="1.95" fill="#c8359f" stroke="#a02a80" stroke-width="0.4"/>
<circle cx="265.5" cy="137" r="1.95" fill="#c8359f" stroke="#a02a80" stroke-width="0.4"/>
<circle cx="262.8" cy="142.3" r="1.95" fill="#c8359f" stroke="#a02a80" stroke-width="0.4"/>
<circle cx="266" cy="142.7" r="1.95" fill="#c8359f" stroke="#a02a80" stroke-width="0.4"/>
<circle cx="270.3" cy="144.1" r="1.95" fill="#c8359f" stroke="#a02a80" stroke-width="0.4"/>
<circle cx="269" cy="146.8" r="1.95" fill="#c8359f" stroke="#a02a80" stroke-width="0.4"/>
<circle cx="261" cy="152.1" r="1.95" fill="#c8359f" stroke="#a02a80" stroke-width="0.4"/>
<circle cx="263.7" cy="154.8" r="1.95" fill="#c8359f" stroke="#a02a80" stroke-width="0.4"/>
<circle cx="273.5" cy="153" r="1.95" fill="#c8359f" stroke="#a02a80" stroke-width="0.4"/>
<circle cx="275.3" cy="157.5" r="1.95" fill="#c8359f" stroke="#a02a80" stroke-width="0.4"/>
<circle cx="259.5" cy="150.9" r="1.95" fill="#c8359f" stroke="#a02a80" stroke-width="0.4"/>
<circle cx="262.1" cy="155.3" r="1.95" fill="#c8359f" stroke="#a02a80" stroke-width="0.4"/>
<circle cx="264.8" cy="158" r="1.95" fill="#c8359f" stroke="#a02a80" stroke-width="0.4"/>
<circle cx="258.6" cy="158" r="1.95" fill="#c8359f" stroke="#a02a80" stroke-width="0.4"/>
<circle cx="272.8" cy="153.6" r="1.95" fill="#c8359f" stroke="#a02a80" stroke-width="0.4"/>
<circle cx="277.3" cy="158" r="1.95" fill="#c8359f" stroke="#a02a80" stroke-width="0.4"/>
<circle cx="274.6" cy="165.1" r="1.95" fill="#c8359f" stroke="#a02a80" stroke-width="0.4"/>
<circle cx="281.7" cy="164.2" r="1.95" fill="#c8359f" stroke="#a02a80" stroke-width="0.4"/>
<circle cx="280.8" cy="166.9" r="1.95" fill="#c8359f" stroke="#a02a80" stroke-width="0.4"/>
<circle cx="257.7" cy="169.6" r="1.95" fill="#c8359f" stroke="#a02a80" stroke-width="0.4"/>
<circle cx="262.1" cy="168.7" r="1.95" fill="#c8359f" stroke="#a02a80" stroke-width="0.4"/>
<circle cx="265.7" cy="170.5" r="1.95" fill="#c8359f" stroke="#a02a80" stroke-width="0.4"/>
<circle cx="259.5" cy="174.9" r="1.95" fill="#c8359f" stroke="#a02a80" stroke-width="0.4"/>
<circle cx="263" cy="176.7" r="1.95" fill="#c8359f" stroke="#a02a80" stroke-width="0.4"/>
<circle cx="257.7" cy="178.5" r="1.95" fill="#c8359f" stroke="#a02a80" stroke-width="0.4"/>
<circle cx="273.7" cy="176.7" r="1.95" fill="#c8359f" stroke="#a02a80" stroke-width="0.4"/>
<circle cx="281.7" cy="174" r="1.95" fill="#c8359f" stroke="#a02a80" stroke-width="0.4"/>
<circle cx="261.2" cy="187.4" r="1.95" fill="#c8359f" stroke="#a02a80" stroke-width="0.4"/>
<circle cx="264.8" cy="188.3" r="1.95" fill="#c8359f" stroke="#a02a80" stroke-width="0.4"/>
<circle cx="268.4" cy="188.8" r="1.95" fill="#c8359f" stroke="#a02a80" stroke-width="0.4"/>
<circle cx="273.7" cy="187.4" r="1.95" fill="#c8359f" stroke="#a02a80" stroke-width="0.4"/>
<circle cx="258.6" cy="195.4" r="1.95" fill="#c8359f" stroke="#a02a80" stroke-width="0.4"/>
<circle cx="266.6" cy="195.4" r="1.95" fill="#c8359f" stroke="#a02a80" stroke-width="0.4"/>
<circle cx="273.7" cy="198.1" r="1.95" fill="#c8359f" stroke="#a02a80" stroke-width="0.4"/>
<circle cx="286.2" cy="196.7" r="1.95" fill="#c8359f" stroke="#a02a80" stroke-width="0.4"/>
<circle cx="256.8" cy="201.6" r="1.95" fill="#c8359f" stroke="#a02a80" stroke-width="0.4"/>
<circle cx="260.3" cy="203.4" r="1.95" fill="#c8359f" stroke="#a02a80" stroke-width="0.4"/>
<circle cx="263" cy="207" r="1.95" fill="#c8359f" stroke="#a02a80" stroke-width="0.4"/>
<circle cx="257.7" cy="207" r="1.95" fill="#c8359f" stroke="#a02a80" stroke-width="0.4"/>
<circle cx="261.2" cy="209.7" r="1.95" fill="#c8359f" stroke="#a02a80" stroke-width="0.4"/>
<circle cx="268.4" cy="208.8" r="1.95" fill="#c8359f" stroke="#a02a80" stroke-width="0.4"/>
<circle cx="279.9" cy="207" r="1.95" fill="#c8359f" stroke="#a02a80" stroke-width="0.4"/>
<circle cx="296" cy="201.6" r="1.95" fill="#c8359f" stroke="#a02a80" stroke-width="0.4"/>
<circle cx="293.3" cy="206.6" r="1.95" fill="#c8359f" stroke="#a02a80" stroke-width="0.4"/>
<circle cx="303.1" cy="212.3" r="1.95" fill="#c8359f" stroke="#a02a80" stroke-width="0.4"/>
<circle cx="271.9" cy="205.2" r="1.95" fill="#c8359f" stroke="#a02a80" stroke-width="0.4"/>
<circle cx="260" cy="162" r="1.95" fill="#c8359f" stroke="#a02a80" stroke-width="0.4"/>
<circle cx="264" cy="164" r="1.95" fill="#c8359f" stroke="#a02a80" stroke-width="0.4"/>
<circle cx="258" cy="184" r="1.95" fill="#c8359f" stroke="#a02a80" stroke-width="0.4"/>
<circle cx="262" cy="181" r="1.95" fill="#c8359f" stroke="#a02a80" stroke-width="0.4"/>
<circle cx="266" cy="200" r="1.95" fill="#c8359f" stroke="#a02a80" stroke-width="0.4"/>
<circle cx="255.9" cy="216.8" r="1.95" fill="#c8359f" stroke="#a02a80" stroke-width="0.4"/>
<circle cx="259.5" cy="215.9" r="1.95" fill="#c8359f" stroke="#a02a80" stroke-width="0.4"/>
<circle cx="263" cy="215" r="1.95" fill="#c8359f" stroke="#a02a80" stroke-width="0.4"/>
<circle cx="266.6" cy="216.8" r="1.95" fill="#c8359f" stroke="#a02a80" stroke-width="0.4"/>
<circle cx="257.7" cy="220.3" r="1.95" fill="#c8359f" stroke="#a02a80" stroke-width="0.4"/>
<circle cx="261.2" cy="221.2" r="1.95" fill="#c8359f" stroke="#a02a80" stroke-width="0.4"/>
<circle cx="264.8" cy="220.3" r="1.95" fill="#c8359f" stroke="#a02a80" stroke-width="0.4"/>
<circle cx="268.4" cy="222.1" r="1.95" fill="#c8359f" stroke="#a02a80" stroke-width="0.4"/>
<circle cx="259.5" cy="224.8" r="1.95" fill="#c8359f" stroke="#a02a80" stroke-width="0.4"/>
<circle cx="263" cy="226.6" r="1.95" fill="#c8359f" stroke="#a02a80" stroke-width="0.4"/>
<circle cx="257.7" cy="227.5" r="1.95" fill="#c8359f" stroke="#a02a80" stroke-width="0.4"/>
<circle cx="266.6" cy="228.4" r="1.95" fill="#c8359f" stroke="#a02a80" stroke-width="0.4"/>
<circle cx="261.2" cy="231" r="1.95" fill="#c8359f" stroke="#a02a80" stroke-width="0.4"/>
<circle cx="252.3" cy="231" r="1.95" fill="#c8359f" stroke="#a02a80" stroke-width="0.4"/>
<circle cx="250.6" cy="233.7" r="1.95" fill="#c8359f" stroke="#a02a80" stroke-width="0.4"/>
<circle cx="247" cy="235.1" r="1.95" fill="#c8359f" stroke="#a02a80" stroke-width="0.4"/>
<circle cx="243.4" cy="232.3" r="1.95" fill="#c8359f" stroke="#a02a80" stroke-width="0.4"/>
<circle cx="225.6" cy="231" r="1.95" fill="#c8359f" stroke="#a02a80" stroke-width="0.4"/>
<circle cx="277.3" cy="215.9" r="1.95" fill="#c8359f" stroke="#a02a80" stroke-width="0.4"/>
<circle cx="282.6" cy="220.3" r="1.95" fill="#c8359f" stroke="#a02a80" stroke-width="0.4"/>
<circle cx="277.3" cy="220.3" r="1.95" fill="#c8359f" stroke="#a02a80" stroke-width="0.4"/>
<circle cx="288" cy="216.8" r="1.95" fill="#c8359f" stroke="#a02a80" stroke-width="0.4"/>
<circle cx="286.2" cy="223.9" r="1.95" fill="#c8359f" stroke="#a02a80" stroke-width="0.4"/>
<circle cx="249" cy="236" r="1.95" fill="#c8359f" stroke="#a02a80" stroke-width="0.4"/>
<circle cx="245" cy="236.5" r="1.95" fill="#c8359f" stroke="#a02a80" stroke-width="0.4"/>
<text x="266.3" y="65.67" font-size="6.3" font-style="italic" fill="#c8359f">ATP5PF</text>
<text x="268.1" y="89.37" font-size="6.3" font-style="italic" fill="#c8359f">DIP2A</text>
<text x="264.2" y="95.57" font-size="6.3" text-anchor="end" font-style="italic" fill="#c8359f">SOD1</text>
<text x="257.4" y="101.47" font-size="6.3" text-anchor="end" font-style="italic" fill="#c8359f">LTN1</text>
<line x1="258.4" y1="100.4" x2="263" y2="98" stroke="#c8359f" stroke-width="0.35"/>
<text x="270.8" y="105.07" font-size="6.3" font-style="italic" fill="#c8359f">URB1</text>
<line x1="269.8" y1="104" x2="266" y2="104.5" stroke="#c8359f" stroke-width="0.35"/>
<text x="256.5" y="109.87" font-size="6.3" text-anchor="end" font-style="italic" fill="#c8359f">NDUFV3</text>
<line x1="257.5" y1="108.8" x2="263" y2="104" stroke="#c8359f" stroke-width="0.35"/>
<text x="271.7" y="110.37" font-size="6.3" font-style="italic" fill="#c8359f">DONSON</text>
<line x1="270.7" y1="109.3" x2="266" y2="112.5" stroke="#c8359f" stroke-width="0.35"/>
<text x="258.3" y="115.77" font-size="6.3" text-anchor="end" font-style="italic" fill="#c8359f">VPS26C</text>
<line x1="259.3" y1="114.7" x2="262" y2="113.5" stroke="#c8359f" stroke-width="0.35"/>
<text x="274.4" y="115.77" font-size="6.3" font-style="italic" fill="#c8359f">RBM11</text>
<text x="256.5" y="121.47" font-size="6.3" text-anchor="end" font-style="italic" fill="#c8359f">PRMT2</text>
<line x1="257.5" y1="120.4" x2="262" y2="118" stroke="#c8359f" stroke-width="0.35"/>
<text x="271.7" y="121.47" font-size="6.3" font-style="italic" fill="#c8359f">CFAP298</text>
<line x1="270.7" y1="120.4" x2="267.5" y2="118.5" stroke="#c8359f" stroke-width="0.35"/>
<text x="254.8" y="128.57" font-size="6.3" text-anchor="end" font-style="italic" fill="#c8359f">MCM3AP</text>
<line x1="255.8" y1="127.5" x2="261" y2="123" stroke="#c8359f" stroke-width="0.35"/>
<text x="271.7" y="127.37" font-size="6.3" font-style="italic" fill="#c8359f">INFAR1</text>
<line x1="270.7" y1="126.3" x2="263" y2="121" stroke="#c8359f" stroke-width="0.35"/>
<text x="253.9" y="135.67" font-size="6.3" text-anchor="end" font-style="italic" fill="#c8359f">TRAPPC10</text>
<line x1="254.9" y1="134.6" x2="259.6" y2="130" stroke="#c8359f" stroke-width="0.35"/>
<text x="269" y="133.07" font-size="6.3" font-style="italic" fill="#c8359f">GET1</text>
<line x1="268" y1="132" x2="262" y2="124" stroke="#c8359f" stroke-width="0.35"/>
<text x="255.7" y="151.77" font-size="6.3" text-anchor="end" font-style="italic" fill="#c8359f">INFGR2</text>
<line x1="256.7" y1="150.7" x2="260" y2="153" stroke="#c8359f" stroke-width="0.35"/>
<text x="276.5" y="230.77" font-size="6.3" font-style="italic" fill="#c8359f">IFNAR2</text>
<line x1="275.5" y1="229.7" x2="273" y2="226" stroke="#c8359f" stroke-width="0.35"/>
<text x="227.3" y="158.77" font-size="6.3" text-anchor="end" font-style="italic" fill="#62b0e2">DRYK1B</text>
<line x1="228.3" y1="157.7" x2="234" y2="165.5" stroke="#62b0e2" stroke-width="0.35"/>
<text x="224.5" y="164.77" font-size="6.3" text-anchor="end" font-style="italic" fill="#62b0e2">ZNF350-AS1</text>
<line x1="225.5" y1="163.7" x2="226.5" y2="167" stroke="#62b0e2" stroke-width="0.35"/>
<rect x="185.6" y="55.5" width="126.7" height="189" fill="none" stroke="#7a7a7a" stroke-width="0.9"/>
<line x1="216.3" y1="244.5" x2="216.3" y2="246.7" stroke="#333" stroke-width="0.6"/>
<text x="216.3" y="254.93" font-size="8.7" text-anchor="middle">-1</text>
<line x1="246.5" y1="244.5" x2="246.5" y2="246.7" stroke="#333" stroke-width="0.6"/>
<text x="246.5" y="254.93" font-size="8.7" text-anchor="middle">0</text>
<line x1="276.7" y1="244.5" x2="276.7" y2="246.7" stroke="#333" stroke-width="0.6"/>
<text x="276.7" y="254.93" font-size="8.7" text-anchor="middle">1</text>
<line x1="306.9" y1="244.5" x2="306.9" y2="246.7" stroke="#333" stroke-width="0.6"/>
<text x="306.9" y="254.93" font-size="8.7" text-anchor="middle">2</text>
<line x1="183.6" y1="236.5" x2="185.6" y2="236.5" stroke="#333" stroke-width="0.6"/>
<text transform="translate(180 236.5) rotate(-90)" x="0" y="3.13" font-size="8.7" text-anchor="middle">0</text>
<line x1="183.6" y1="164.9" x2="185.6" y2="164.9" stroke="#333" stroke-width="0.6"/>
<text transform="translate(180 164.9) rotate(-90)" x="0" y="3.13" font-size="8.7" text-anchor="middle">4</text>
<line x1="183.6" y1="93.3" x2="185.6" y2="93.3" stroke="#333" stroke-width="0.6"/>
<text transform="translate(180 93.3) rotate(-90)" x="0" y="3.13" font-size="8.7" text-anchor="middle">8</text>
<text x="248" y="269.17" font-size="10.2" text-anchor="middle">Hippocampus log<tspan font-size="7" dy="2">2</tspan><tspan dy="-2"> Fold change</tspan></text>
<text transform="translate(168.6 152.2) rotate(-90)" x="0" y="3.71" font-size="10.3" text-anchor="middle">-log<tspan font-size="7" dy="1.3">10</tspan><tspan dy="-1.3">(Adj.  </tspan><tspan font-style="italic">P</tspan>-value)</text>
<!--C-->
<text x="315.4" y="19.05" font-size="23.6" font-weight="bold" fill="#000">C</text>
<text x="366.8" y="19.95" font-size="7.65" text-anchor="middle">DEGs: FDR&lt;5%</text>
<circle cx="377.4" cy="48.5" r="24" fill="#d6d6e2"/>
<circle cx="358.1" cy="48.4" r="23.4" fill="#dca4cf"/>
<clipPath id="cp358"><circle cx="358.1" cy="48.4" r="23.4"/></clipPath>
<circle cx="377.4" cy="48.5" r="24" fill="#b98cba" clip-path="url(#cp358)"/>
<circle cx="377.4" cy="48.5" r="24" fill="none" stroke="#f4eef4" stroke-width="0.5" clip-path="url(#cp358)"/>
<text x="343.3" y="52.25" font-size="8.2" text-anchor="middle">416</text>
<text x="368" y="52.25" font-size="8.2" text-anchor="middle">155</text>
<text x="391.5" y="52.25" font-size="8.2" text-anchor="middle">364</text>
<text x="326" y="29.97" font-size="6.3" font-weight="bold" fill="#c3399f">PFC</text>
<text x="366.6" y="80.37" font-size="6.3" font-weight="bold" fill="#3a3b85">Hippocampus</text>
<text x="444.2" y="11.25" font-size="7.65" text-anchor="middle">DEGs: FDR&lt;5%</text>
<text x="444" y="19.05" font-size="7.65" text-anchor="middle">[Chr 21 genes only]</text>
<circle cx="448.5" cy="48.7" r="24" fill="#d6d6e2"/>
<circle cx="440.6" cy="48.8" r="23.2" fill="#dca4cf"/>
<clipPath id="cp440"><circle cx="440.6" cy="48.8" r="23.2"/></clipPath>
<circle cx="448.5" cy="48.7" r="24" fill="#b98cba" clip-path="url(#cp440)"/>
<circle cx="448.5" cy="48.7" r="24" fill="none" stroke="#f4eef4" stroke-width="0.5" clip-path="url(#cp440)"/>
<text x="420.3" y="51.85" font-size="8.2" text-anchor="middle">19</text>
<text x="443.8" y="51.85" font-size="8.2" text-anchor="middle">103</text>
<text x="469.3" y="51.85" font-size="8.2" text-anchor="middle">15</text>
<text x="408.8" y="30.47" font-size="6.3" font-weight="bold" fill="#c3399f">PFC</text>
<text x="444" y="80.67" font-size="6.3" font-weight="bold" fill="#3a3b85">Hippocampus</text>
<!--D-->
<text x="315.5" y="118.3" font-size="23.6" font-weight="bold" fill="#000">D</text>
<line x1="423.6" y1="101.5" x2="423.6" y2="244.5" stroke="#c8c8c8" stroke-width="0.5" stroke-dasharray="1.2 1"/>
<line x1="359.3" y1="169.4" x2="476.2" y2="169.4" stroke="#c8c8c8" stroke-width="0.5" stroke-dasharray="1.2 1"/>
<polygon points="439.2,110.2 446,111.9 451.1,118.7 456.2,123.8 454.5,134 455.4,142.4 452.8,150.9 449.4,159.4 446,167.9 444.3,176.4 440.9,184.9 434.1,191.7 424,196.8 413.8,196.8 405.3,191.7 400.2,181.5 398.5,171.3 401.9,162.8 405.3,154.3 408.7,145.8 412.1,137.4 418.9,130.6 424,125.5 427.4,120.4 432.4,113.6" fill="#ececec" stroke="#9a9a9a" stroke-width="0.5"/>
<circle cx="440.89" cy="111.69" r="1.5" fill="#eeeeee" stroke="#8f8f8f" stroke-width="0.4"/>
<circle cx="444.2" cy="111.67" r="1.5" fill="#eeeeee" stroke="#8f8f8f" stroke-width="0.4"/>
<circle cx="446.34" cy="112.66" r="1.5" fill="#eeeeee" stroke="#8f8f8f" stroke-width="0.4"/>
<circle cx="447.99" cy="115.45" r="1.5" fill="#eeeeee" stroke="#8f8f8f" stroke-width="0.4"/>
<circle cx="450.36" cy="117.14" r="1.5" fill="#eeeeee" stroke="#8f8f8f" stroke-width="0.4"/>
<circle cx="452.46" cy="120.02" r="1.5" fill="#eeeeee" stroke="#8f8f8f" stroke-width="0.4"/>
<circle cx="455.62" cy="122.03" r="1.5" fill="#eeeeee" stroke="#8f8f8f" stroke-width="0.4"/>
<circle cx="456.27" cy="122.71" r="1.5" fill="#eeeeee" stroke="#8f8f8f" stroke-width="0.4"/>
<circle cx="454.85" cy="126.62" r="1.5" fill="#eeeeee" stroke="#8f8f8f" stroke-width="0.4"/>
<circle cx="454.65" cy="133.07" r="1.5" fill="#eeeeee" stroke="#8f8f8f" stroke-width="0.4"/>
<circle cx="455.02" cy="135.45" r="1.5" fill="#eeeeee" stroke="#8f8f8f" stroke-width="0.4"/>
<circle cx="454.89" cy="138.08" r="1.5" fill="#eeeeee" stroke="#8f8f8f" stroke-width="0.4"/>
<circle cx="456.69" cy="143.28" r="1.5" fill="#eeeeee" stroke="#8f8f8f" stroke-width="0.4"/>
<circle cx="454.31" cy="143.7" r="1.5" fill="#eeeeee" stroke="#8f8f8f" stroke-width="0.4"/>
<circle cx="453.17" cy="146.74" r="1.5" fill="#eeeeee" stroke="#8f8f8f" stroke-width="0.4"/>
<circle cx="454.22" cy="148.91" r="1.5" fill="#eeeeee" stroke="#8f8f8f" stroke-width="0.4"/>
<circle cx="452.62" cy="152.32" r="1.5" fill="#eeeeee" stroke="#8f8f8f" stroke-width="0.4"/>
<circle cx="452.5" cy="154.25" r="1.5" fill="#eeeeee" stroke="#8f8f8f" stroke-width="0.4"/>
<circle cx="449.16" cy="158.23" r="1.5" fill="#eeeeee" stroke="#8f8f8f" stroke-width="0.4"/>
<circle cx="449.41" cy="160.58" r="1.5" fill="#eeeeee" stroke="#8f8f8f" stroke-width="0.4"/>
<circle cx="447.73" cy="163.69" r="1.5" fill="#eeeeee" stroke="#8f8f8f" stroke-width="0.4"/>
<circle cx="445.28" cy="166.56" r="1.5" fill="#eeeeee" stroke="#8f8f8f" stroke-width="0.4"/>
<circle cx="444.8" cy="168.96" r="1.5" fill="#eeeeee" stroke="#8f8f8f" stroke-width="0.4"/>
<circle cx="445.49" cy="171.1" r="1.5" fill="#eeeeee" stroke="#8f8f8f" stroke-width="0.4"/>
<circle cx="445.36" cy="173.15" r="1.5" fill="#eeeeee" stroke="#8f8f8f" stroke-width="0.4"/>
<circle cx="442.57" cy="178.02" r="1.5" fill="#eeeeee" stroke="#8f8f8f" stroke-width="0.4"/>
<circle cx="442.33" cy="181.06" r="1.5" fill="#eeeeee" stroke="#8f8f8f" stroke-width="0.4"/>
<circle cx="440.61" cy="185.34" r="1.5" fill="#eeeeee" stroke="#8f8f8f" stroke-width="0.4"/>
<circle cx="440.15" cy="186.3" r="1.5" fill="#eeeeee" stroke="#8f8f8f" stroke-width="0.4"/>
<circle cx="436.14" cy="189.89" r="1.5" fill="#eeeeee" stroke="#8f8f8f" stroke-width="0.4"/>
<circle cx="435.25" cy="190.63" r="1.5" fill="#eeeeee" stroke="#8f8f8f" stroke-width="0.4"/>
<circle cx="432.74" cy="191.01" r="1.5" fill="#eeeeee" stroke="#8f8f8f" stroke-width="0.4"/>
<circle cx="431.56" cy="192.42" r="1.5" fill="#eeeeee" stroke="#8f8f8f" stroke-width="0.4"/>
<circle cx="427.2" cy="194.89" r="1.5" fill="#eeeeee" stroke="#8f8f8f" stroke-width="0.4"/>
<circle cx="424.06" cy="196.94" r="1.5" fill="#eeeeee" stroke="#8f8f8f" stroke-width="0.4"/>
<circle cx="420.23" cy="195.9" r="1.5" fill="#eeeeee" stroke="#8f8f8f" stroke-width="0.4"/>
<circle cx="418.34" cy="196.15" r="1.5" fill="#eeeeee" stroke="#8f8f8f" stroke-width="0.4"/>
<circle cx="417.18" cy="197.95" r="1.5" fill="#eeeeee" stroke="#8f8f8f" stroke-width="0.4"/>
<circle cx="414.41" cy="197.46" r="1.5" fill="#eeeeee" stroke="#8f8f8f" stroke-width="0.4"/>
<circle cx="409.05" cy="193.04" r="1.5" fill="#eeeeee" stroke="#8f8f8f" stroke-width="0.4"/>
<circle cx="409.23" cy="192.65" r="1.5" fill="#eeeeee" stroke="#8f8f8f" stroke-width="0.4"/>
<circle cx="403.77" cy="190.74" r="1.5" fill="#eeeeee" stroke="#8f8f8f" stroke-width="0.4"/>
<circle cx="402.73" cy="186.79" r="1.5" fill="#eeeeee" stroke="#8f8f8f" stroke-width="0.4"/>
<circle cx="400.71" cy="184.06" r="1.5" fill="#eeeeee" stroke="#8f8f8f" stroke-width="0.4"/>
<circle cx="401.68" cy="182.92" r="1.5" fill="#eeeeee" stroke="#8f8f8f" stroke-width="0.4"/>
<circle cx="401.13" cy="179.78" r="1.5" fill="#eeeeee" stroke="#8f8f8f" stroke-width="0.4"/>
<circle cx="399.02" cy="177.9" r="1.5" fill="#eeeeee" stroke="#8f8f8f" stroke-width="0.4"/>
<circle cx="398.19" cy="174.15" r="1.5" fill="#eeeeee" stroke="#8f8f8f" stroke-width="0.4"/>
<circle cx="398.19" cy="169.32" r="1.5" fill="#eeeeee" stroke="#8f8f8f" stroke-width="0.4"/>
<circle cx="401.89" cy="166.35" r="1.5" fill="#eeeeee" stroke="#8f8f8f" stroke-width="0.4"/>
<circle cx="401.77" cy="162.74" r="1.5" fill="#eeeeee" stroke="#8f8f8f" stroke-width="0.4"/>
<circle cx="400.69" cy="163.77" r="1.5" fill="#eeeeee" stroke="#8f8f8f" stroke-width="0.4"/>
<circle cx="405.03" cy="156.74" r="1.5" fill="#eeeeee" stroke="#8f8f8f" stroke-width="0.4"/>
<circle cx="404.84" cy="155.93" r="1.5" fill="#eeeeee" stroke="#8f8f8f" stroke-width="0.4"/>
<circle cx="406.96" cy="152.29" r="1.5" fill="#eeeeee" stroke="#8f8f8f" stroke-width="0.4"/>
<circle cx="407.67" cy="150.96" r="1.5" fill="#eeeeee" stroke="#8f8f8f" stroke-width="0.4"/>
<circle cx="408.93" cy="147.31" r="1.5" fill="#eeeeee" stroke="#8f8f8f" stroke-width="0.4"/>
<circle cx="409.35" cy="143.72" r="1.5" fill="#eeeeee" stroke="#8f8f8f" stroke-width="0.4"/>
<circle cx="411.82" cy="140.26" r="1.5" fill="#eeeeee" stroke="#8f8f8f" stroke-width="0.4"/>
<circle cx="412.81" cy="138.18" r="1.5" fill="#eeeeee" stroke="#8f8f8f" stroke-width="0.4"/>
<circle cx="413.21" cy="136.2" r="1.5" fill="#eeeeee" stroke="#8f8f8f" stroke-width="0.4"/>
<circle cx="414.66" cy="134.12" r="1.5" fill="#eeeeee" stroke="#8f8f8f" stroke-width="0.4"/>
<circle cx="419.87" cy="131.21" r="1.5" fill="#eeeeee" stroke="#8f8f8f" stroke-width="0.4"/>
<circle cx="420.5" cy="129.82" r="1.5" fill="#eeeeee" stroke="#8f8f8f" stroke-width="0.4"/>
<circle cx="423.45" cy="125.84" r="1.5" fill="#eeeeee" stroke="#8f8f8f" stroke-width="0.4"/>
<circle cx="424.05" cy="123.85" r="1.5" fill="#eeeeee" stroke="#8f8f8f" stroke-width="0.4"/>
<circle cx="425.82" cy="122.24" r="1.5" fill="#eeeeee" stroke="#8f8f8f" stroke-width="0.4"/>
<circle cx="428.53" cy="120.37" r="1.5" fill="#eeeeee" stroke="#8f8f8f" stroke-width="0.4"/>
<circle cx="428.22" cy="117.04" r="1.5" fill="#eeeeee" stroke="#8f8f8f" stroke-width="0.4"/>
<circle cx="431.09" cy="113.47" r="1.5" fill="#eeeeee" stroke="#8f8f8f" stroke-width="0.4"/>
<circle cx="435.9" cy="111.91" r="1.5" fill="#eeeeee" stroke="#8f8f8f" stroke-width="0.4"/>
<circle cx="438.38" cy="110.82" r="1.5" fill="#eeeeee" stroke="#8f8f8f" stroke-width="0.4"/>
<polygon points="438.98,111.18 445.62,112.83 450.56,119.54 455.52,124.53 453.69,134.59 454.46,142.75 451.8,150.95 448.46,159.05 445.28,167.2 443.79,175.54 440.58,183.95 433.99,190.71 424.13,195.81 414.13,195.86 405.82,190.85 400.91,180.79 399.35,170.77 402.83,162.44 406.3,154.21 409.66,146.08 412.87,138.04 419.35,131.49 424.21,126.48 427.47,121.4 432.33,114.6" fill="#ececec"/>
<circle cx="409.51" cy="147.49" r="1.5" fill="#ececec" stroke="#b4b4b4" stroke-width="0.35"/>
<circle cx="449.06" cy="143.44" r="1.5" fill="#ececec" stroke="#b4b4b4" stroke-width="0.35"/>
<circle cx="431.82" cy="137.53" r="1.5" fill="#ececec" stroke="#b4b4b4" stroke-width="0.35"/>
<circle cx="405.9" cy="153.19" r="1.5" fill="#ececec" stroke="#b4b4b4" stroke-width="0.35"/>
<circle cx="424.14" cy="133.94" r="1.5" fill="#ececec" stroke="#b4b4b4" stroke-width="0.35"/>
<circle cx="410.42" cy="146.02" r="1.5" fill="#ececec" stroke="#b4b4b4" stroke-width="0.35"/>
<circle cx="434.29" cy="152.97" r="1.5" fill="#ececec" stroke="#b4b4b4" stroke-width="0.35"/>
<circle cx="416.29" cy="183" r="1.5" fill="#ececec" stroke="#b4b4b4" stroke-width="0.35"/>
<circle cx="439.1" cy="159.64" r="1.5" fill="#ececec" stroke="#b4b4b4" stroke-width="0.35"/>
<circle cx="415.92" cy="178.86" r="1.5" fill="#ececec" stroke="#b4b4b4" stroke-width="0.35"/>
<circle cx="446.12" cy="130.65" r="1.5" fill="#ececec" stroke="#b4b4b4" stroke-width="0.35"/>
<circle cx="434.49" cy="148.84" r="1.5" fill="#ececec" stroke="#b4b4b4" stroke-width="0.35"/>
<circle cx="434.54" cy="166.99" r="1.5" fill="#ececec" stroke="#b4b4b4" stroke-width="0.35"/>
<circle cx="437.7" cy="127.34" r="1.5" fill="#ececec" stroke="#b4b4b4" stroke-width="0.35"/>
<circle cx="364" cy="152.2" r="1.55" fill="#f4f4f4" stroke="#8a8a8a" stroke-width="0.4"/>
<circle cx="387.3" cy="238.6" r="1.55" fill="#f4f4f4" stroke="#8a8a8a" stroke-width="0.4"/>
<circle cx="376.9" cy="218" r="1.55" fill="#f4f4f4" stroke="#8a8a8a" stroke-width="0.4"/>
<circle cx="379.5" cy="203.8" r="1.55" fill="#f4f4f4" stroke="#8a8a8a" stroke-width="0.4"/>
<circle cx="384.7" cy="198.6" r="1.55" fill="#f4f4f4" stroke="#8a8a8a" stroke-width="0.4"/>
<circle cx="389.8" cy="203.3" r="1.55" fill="#f4f4f4" stroke="#8a8a8a" stroke-width="0.4"/>
<circle cx="396.3" cy="194.8" r="1.55" fill="#f4f4f4" stroke="#8a8a8a" stroke-width="0.4"/>
<circle cx="402.7" cy="208.5" r="1.55" fill="#f4f4f4" stroke="#8a8a8a" stroke-width="0.4"/>
<circle cx="418.2" cy="202.5" r="1.55" fill="#f4f4f4" stroke="#8a8a8a" stroke-width="0.4"/>
<circle cx="435" cy="202.5" r="1.55" fill="#f4f4f4" stroke="#8a8a8a" stroke-width="0.4"/>
<circle cx="444" cy="207.7" r="1.55" fill="#f4f4f4" stroke="#8a8a8a" stroke-width="0.4"/>
<circle cx="442.7" cy="214.1" r="1.55" fill="#f4f4f4" stroke="#8a8a8a" stroke-width="0.4"/>
<circle cx="454.4" cy="209" r="1.55" fill="#f4f4f4" stroke="#8a8a8a" stroke-width="0.4"/>
<circle cx="460.8" cy="156.1" r="1.55" fill="#f4f4f4" stroke="#8a8a8a" stroke-width="0.4"/>
<circle cx="466" cy="114.8" r="1.55" fill="#f4f4f4" stroke="#8a8a8a" stroke-width="0.4"/>
<circle cx="430.7" cy="108.1" r="1.55" fill="#f4f4f4" stroke="#8a8a8a" stroke-width="0.4"/>
<circle cx="445.2" cy="109.8" r="1.55" fill="#f4f4f4" stroke="#8a8a8a" stroke-width="0.4"/>
<circle cx="451.5" cy="112.2" r="1.55" fill="#f4f4f4" stroke="#8a8a8a" stroke-width="0.4"/>
<circle cx="458.8" cy="112.7" r="1.55" fill="#f4f4f4" stroke="#8a8a8a" stroke-width="0.4"/>
<circle cx="466.4" cy="114.9" r="1.55" fill="#f4f4f4" stroke="#8a8a8a" stroke-width="0.4"/>
<circle cx="460.5" cy="117" r="1.55" fill="#f4f4f4" stroke="#8a8a8a" stroke-width="0.4"/>
<circle cx="429" cy="116.1" r="1.55" fill="#f4f4f4" stroke="#8a8a8a" stroke-width="0.4"/>
<circle cx="432.4" cy="116.6" r="1.55" fill="#f4f4f4" stroke="#8a8a8a" stroke-width="0.4"/>
<circle cx="426.5" cy="121.2" r="1.55" fill="#f4f4f4" stroke="#8a8a8a" stroke-width="0.4"/>
<circle cx="421.4" cy="125.1" r="1.55" fill="#f4f4f4" stroke="#8a8a8a" stroke-width="0.4"/>
<circle cx="415.5" cy="130.6" r="1.55" fill="#f4f4f4" stroke="#8a8a8a" stroke-width="0.4"/>
<circle cx="408.7" cy="132.3" r="1.55" fill="#f4f4f4" stroke="#8a8a8a" stroke-width="0.4"/>
<circle cx="404.4" cy="141.6" r="1.55" fill="#f4f4f4" stroke="#8a8a8a" stroke-width="0.4"/>
<circle cx="407.8" cy="146.7" r="1.55" fill="#f4f4f4" stroke="#8a8a8a" stroke-width="0.4"/>
<circle cx="412.1" cy="140.7" r="1.55" fill="#f4f4f4" stroke="#8a8a8a" stroke-width="0.4"/>
<circle cx="461.3" cy="134.8" r="1.55" fill="#f4f4f4" stroke="#8a8a8a" stroke-width="0.4"/>
<circle cx="470.6" cy="139.4" r="1.55" fill="#f4f4f4" stroke="#8a8a8a" stroke-width="0.4"/>
<circle cx="457.1" cy="140.7" r="1.55" fill="#f4f4f4" stroke="#8a8a8a" stroke-width="0.4"/>
<circle cx="461.3" cy="156" r="1.55" fill="#f4f4f4" stroke="#8a8a8a" stroke-width="0.4"/>
<circle cx="455.4" cy="158.6" r="1.55" fill="#f4f4f4" stroke="#8a8a8a" stroke-width="0.4"/>
<circle cx="457.1" cy="161.1" r="1.55" fill="#f4f4f4" stroke="#8a8a8a" stroke-width="0.4"/>
<circle cx="453.7" cy="169.6" r="1.55" fill="#f4f4f4" stroke="#8a8a8a" stroke-width="0.4"/>
<circle cx="400.2" cy="163.7" r="1.55" fill="#f4f4f4" stroke="#8a8a8a" stroke-width="0.4"/>
<circle cx="397.6" cy="167.9" r="1.55" fill="#f4f4f4" stroke="#8a8a8a" stroke-width="0.4"/>
<circle cx="400.2" cy="173" r="1.55" fill="#f4f4f4" stroke="#8a8a8a" stroke-width="0.4"/>
<circle cx="403.6" cy="177.2" r="1.55" fill="#f4f4f4" stroke="#8a8a8a" stroke-width="0.4"/>
<circle cx="395.1" cy="181.5" r="1.55" fill="#f4f4f4" stroke="#8a8a8a" stroke-width="0.4"/>
<circle cx="399.3" cy="186.6" r="1.55" fill="#f4f4f4" stroke="#8a8a8a" stroke-width="0.4"/>
<circle cx="393.4" cy="191.7" r="1.55" fill="#f4f4f4" stroke="#8a8a8a" stroke-width="0.4"/>
<circle cx="407" cy="195.1" r="1.55" fill="#f4f4f4" stroke="#8a8a8a" stroke-width="0.4"/>
<circle cx="412.1" cy="197.6" r="1.55" fill="#f4f4f4" stroke="#8a8a8a" stroke-width="0.4"/>
<circle cx="420.6" cy="197.6" r="1.55" fill="#f4f4f4" stroke="#8a8a8a" stroke-width="0.4"/>
<circle cx="429" cy="194.2" r="1.55" fill="#f4f4f4" stroke="#8a8a8a" stroke-width="0.4"/>
<circle cx="439.2" cy="194.2" r="1.55" fill="#f4f4f4" stroke="#8a8a8a" stroke-width="0.4"/>
<circle cx="449.4" cy="187.4" r="1.55" fill="#f4f4f4" stroke="#8a8a8a" stroke-width="0.4"/>
<circle cx="445.2" cy="196.8" r="1.55" fill="#f4f4f4" stroke="#8a8a8a" stroke-width="0.4"/>
<circle cx="440.9" cy="197.6" r="1.55" fill="#f4f4f4" stroke="#8a8a8a" stroke-width="0.4"/>
<circle cx="435.8" cy="186.6" r="1.55" fill="#f4f4f4" stroke="#8a8a8a" stroke-width="0.4"/>
<circle cx="407" cy="167.9" r="1.55" fill="#f4f4f4" stroke="#8a8a8a" stroke-width="0.4"/>
<circle cx="392" cy="186" r="1.55" fill="#f4f4f4" stroke="#8a8a8a" stroke-width="0.4"/>
<circle cx="452" cy="180" r="1.55" fill="#f4f4f4" stroke="#8a8a8a" stroke-width="0.4"/>
<circle cx="459" cy="127" r="1.55" fill="#f4f4f4" stroke="#8a8a8a" stroke-width="0.4"/>
<circle cx="441" cy="104.5" r="1.55" fill="#f4f4f4" stroke="#8a8a8a" stroke-width="0.4"/>
<circle cx="425" cy="110" r="1.55" fill="#f4f4f4" stroke="#8a8a8a" stroke-width="0.4"/>
<circle cx="417" cy="127" r="1.55" fill="#f4f4f4" stroke="#8a8a8a" stroke-width="0.4"/>
<circle cx="448" cy="199" r="1.55" fill="#f4f4f4" stroke="#8a8a8a" stroke-width="0.4"/>
<circle cx="432" cy="201" r="1.55" fill="#f4f4f4" stroke="#8a8a8a" stroke-width="0.4"/>
<circle cx="470" cy="132" r="1.55" fill="#f4f4f4" stroke="#8a8a8a" stroke-width="0.4"/>
<circle cx="462" cy="146" r="1.55" fill="#f4f4f4" stroke="#8a8a8a" stroke-width="0.4"/>
<circle cx="450" cy="174" r="1.55" fill="#f4f4f4" stroke="#8a8a8a" stroke-width="0.4"/>
<circle cx="436.7" cy="112.7" r="1.35" fill="#c8359f"/>
<circle cx="455.4" cy="122.1" r="1.35" fill="#c8359f"/>
<circle cx="442.6" cy="126.8" r="1.35" fill="#c8359f"/>
<circle cx="446.5" cy="130.6" r="1.35" fill="#c8359f"/>
<circle cx="452.8" cy="128.9" r="1.35" fill="#c8359f"/>
<circle cx="440.1" cy="135.7" r="1.35" fill="#c8359f"/>
<circle cx="443.5" cy="134.8" r="1.35" fill="#c8359f"/>
<circle cx="451.1" cy="134" r="1.35" fill="#c8359f"/>
<circle cx="449.4" cy="138.2" r="1.35" fill="#c8359f"/>
<circle cx="452.8" cy="136.5" r="1.35" fill="#c8359f"/>
<circle cx="450.3" cy="142.4" r="1.35" fill="#c8359f"/>
<circle cx="453.7" cy="142.4" r="1.35" fill="#c8359f"/>
<circle cx="435" cy="141.6" r="1.35" fill="#c8359f"/>
<circle cx="430.7" cy="150.9" r="1.35" fill="#c8359f"/>
<circle cx="423.1" cy="158.6" r="1.35" fill="#c8359f"/>
<circle cx="426.5" cy="161.1" r="1.35" fill="#c8359f"/>
<circle cx="424" cy="163.7" r="1.35" fill="#c8359f"/>
<circle cx="431.6" cy="167.9" r="1.35" fill="#c8359f"/>
<circle cx="435" cy="167.9" r="1.35" fill="#c8359f"/>
<circle cx="440.9" cy="164.5" r="1.35" fill="#c8359f"/>
<circle cx="421.4" cy="169.6" r="1.35" fill="#c8359f"/>
<circle cx="418" cy="172.2" r="1.35" fill="#c8359f"/>
<circle cx="424.8" cy="171.3" r="1.35" fill="#c8359f"/>
<circle cx="429.9" cy="169.6" r="1.35" fill="#c8359f"/>
<circle cx="425.7" cy="173.9" r="1.35" fill="#c8359f"/>
<circle cx="421.9" cy="180.6" r="1.35" fill="#c8359f"/>
<circle cx="404.4" cy="190.8" r="1.35" fill="#c8359f"/>
<circle cx="435.8" cy="159.4" r="1.35" fill="#c8359f"/>
<circle cx="442.6" cy="158.6" r="1.35" fill="#c8359f"/>
<circle cx="447" cy="147" r="1.35" fill="#c8359f"/>
<circle cx="445" cy="140" r="1.35" fill="#c8359f"/>
<circle cx="438" cy="145" r="1.35" fill="#c8359f"/>
<polygon points="434,151 435,147.5 439.5,146 444,148 446,151.5 443.5,155.5 439,158.5 435,156.5" fill="#c8359f"/>
<circle cx="442.7" cy="158.06" r="1.35" fill="#c8359f"/>
<circle cx="439.32" cy="146.67" r="1.35" fill="#c8359f"/>
<circle cx="440.96" cy="154.2" r="1.35" fill="#c8359f"/>
<circle cx="433.61" cy="145.96" r="1.35" fill="#c8359f"/>
<circle cx="440.86" cy="156.59" r="1.35" fill="#c8359f"/>
<circle cx="436.95" cy="144.82" r="1.35" fill="#c8359f"/>
<circle cx="435.63" cy="154.87" r="1.35" fill="#c8359f"/>
<circle cx="436.43" cy="148.13" r="1.35" fill="#c8359f"/>
<circle cx="447.01" cy="152.06" r="1.35" fill="#c8359f"/>
<circle cx="435.95" cy="152.07" r="1.35" fill="#c8359f"/>
<circle cx="437.06" cy="154.31" r="1.35" fill="#c8359f"/>
<circle cx="433.32" cy="158.38" r="1.35" fill="#c8359f"/>
<circle cx="436.58" cy="149.16" r="1.35" fill="#c8359f"/>
<circle cx="440.54" cy="158.84" r="1.35" fill="#c8359f"/>
<circle cx="440.99" cy="148.19" r="1.35" fill="#c8359f"/>
<circle cx="435.97" cy="145.08" r="1.35" fill="#c8359f"/>
<circle cx="437.93" cy="146.46" r="1.35" fill="#c8359f"/>
<circle cx="442.07" cy="160" r="1.35" fill="#c8359f"/>
<circle cx="439.02" cy="150.7" r="1.35" fill="#c8359f"/>
<circle cx="442.87" cy="159.12" r="1.35" fill="#c8359f"/>
<circle cx="431.35" cy="150.99" r="1.35" fill="#c8359f"/>
<circle cx="435.49" cy="151.42" r="1.35" fill="#c8359f"/>
<circle cx="439.74" cy="157.78" r="1.35" fill="#c8359f"/>
<circle cx="439.54" cy="147.69" r="1.35" fill="#c8359f"/>
<circle cx="437.88" cy="144.37" r="1.35" fill="#c8359f"/>
<circle cx="439.99" cy="148.79" r="1.35" fill="#c8359f"/>
<circle cx="436.95" cy="159.08" r="1.35" fill="#c8359f"/>
<circle cx="446.05" cy="156.98" r="1.35" fill="#c8359f"/>
<circle cx="443.61" cy="158.47" r="1.35" fill="#c8359f"/>
<circle cx="437" cy="157.2" r="1.35" fill="#c8359f"/>
<circle cx="435.18" cy="152.17" r="1.35" fill="#c8359f"/>
<circle cx="445.93" cy="156.89" r="1.35" fill="#c8359f"/>
<circle cx="443.29" cy="154.36" r="1.35" fill="#c8359f"/>
<circle cx="434.52" cy="156.45" r="1.35" fill="#c8359f"/>
<circle cx="439.18" cy="159.78" r="1.35" fill="#c8359f"/>
<circle cx="443.24" cy="159.35" r="1.35" fill="#c8359f"/>
<circle cx="436.65" cy="155.81" r="1.35" fill="#c8359f"/>
<circle cx="436.7" cy="160.39" r="1.35" fill="#c8359f"/>
<circle cx="440.4" cy="153.17" r="1.35" fill="#c8359f"/>
<circle cx="432.66" cy="160.24" r="1.35" fill="#c8359f"/>
<circle cx="444.21" cy="157.55" r="1.35" fill="#c8359f"/>
<circle cx="446.17" cy="154.36" r="1.35" fill="#c8359f"/>
<circle cx="443.64" cy="150.68" r="1.35" fill="#c8359f"/>
<circle cx="442.72" cy="158.82" r="1.35" fill="#c8359f"/>
<circle cx="443.01" cy="157.57" r="1.35" fill="#c8359f"/>
<circle cx="438.7" cy="155.95" r="1.35" fill="#c8359f"/>
<circle cx="433.82" cy="156.78" r="1.35" fill="#c8359f"/>
<circle cx="439.37" cy="146.2" r="1.35" fill="#c8359f"/>
<circle cx="435.98" cy="145.18" r="1.35" fill="#c8359f"/>
<circle cx="439.24" cy="149.75" r="1.35" fill="#c8359f"/>
<circle cx="442.46" cy="154.57" r="1.35" fill="#c8359f"/>
<circle cx="435.13" cy="150.43" r="1.35" fill="#c8359f"/>
<circle cx="440.99" cy="148.81" r="1.35" fill="#c8359f"/>
<circle cx="447.01" cy="150.64" r="1.35" fill="#c8359f"/>
<circle cx="446.89" cy="155.77" r="1.35" fill="#c8359f"/>
<circle cx="437.13" cy="144.27" r="1.35" fill="#c8359f"/>
<circle cx="442.11" cy="153.97" r="1.35" fill="#c8359f"/>
<circle cx="442.39" cy="149.08" r="1.35" fill="#c8359f"/>
<circle cx="431.37" cy="154.01" r="1.35" fill="#c8359f"/>
<circle cx="442.53" cy="144.24" r="1.35" fill="#c8359f"/>
<circle cx="437.27" cy="150.93" r="1.35" fill="#c8359f"/>
<circle cx="433.98" cy="147.7" r="1.35" fill="#c8359f"/>
<circle cx="442.11" cy="146.98" r="1.35" fill="#c8359f"/>
<circle cx="438.14" cy="148.34" r="1.35" fill="#c8359f"/>
<circle cx="435.3" cy="151.97" r="1.35" fill="#c8359f"/>
<circle cx="431.68" cy="155.3" r="1.35" fill="#c8359f"/>
<circle cx="438.76" cy="147.74" r="1.35" fill="#c8359f"/>
<circle cx="446.2" cy="146.65" r="1.35" fill="#c8359f"/>
<circle cx="434.89" cy="144.56" r="1.35" fill="#c8359f"/>
<circle cx="442.38" cy="151.92" r="1.35" fill="#c8359f"/>
<circle cx="445.28" cy="150.98" r="1.35" fill="#c8359f"/>
<circle cx="448.53" cy="127.67" r="1.35" fill="#c8359f"/>
<circle cx="449.09" cy="136.43" r="1.35" fill="#c8359f"/>
<circle cx="441.61" cy="138.13" r="1.35" fill="#c8359f"/>
<circle cx="433.8" cy="147.43" r="1.35" fill="#c8359f"/>
<circle cx="439.32" cy="139.33" r="1.35" fill="#c8359f"/>
<circle cx="438.12" cy="149.63" r="1.35" fill="#c8359f"/>
<circle cx="452.11" cy="131.43" r="1.35" fill="#c8359f"/>
<circle cx="433.78" cy="161.84" r="1.35" fill="#c8359f"/>
<circle cx="426.18" cy="162.14" r="1.35" fill="#c8359f"/>
<circle cx="446.92" cy="142.78" r="1.35" fill="#c8359f"/>
<circle cx="433.45" cy="159.47" r="1.35" fill="#c8359f"/>
<circle cx="454.05" cy="128.85" r="1.35" fill="#c8359f"/>
<circle cx="439.79" cy="148.36" r="1.35" fill="#c8359f"/>
<circle cx="440.42" cy="137.88" r="1.35" fill="#c8359f"/>
<circle cx="450.79" cy="125.28" r="1.35" fill="#c8359f"/>
<circle cx="431.59" cy="161.34" r="1.35" fill="#c8359f"/>
<circle cx="451.79" cy="132.52" r="1.35" fill="#c8359f"/>
<circle cx="447.51" cy="128.46" r="1.35" fill="#c8359f"/>
<circle cx="452.99" cy="128.45" r="1.35" fill="#c8359f"/>
<circle cx="443.81" cy="145.5" r="1.35" fill="#c8359f"/>
<circle cx="442.31" cy="151.8" r="1.35" fill="#c8359f"/>
<circle cx="432.39" cy="158.03" r="1.35" fill="#c8359f"/>
<circle cx="448.31" cy="130.61" r="1.35" fill="#c8359f"/>
<circle cx="443.6" cy="133.45" r="1.35" fill="#c8359f"/>
<circle cx="434.67" cy="160.23" r="1.35" fill="#c8359f"/>
<circle cx="451.08" cy="128.71" r="1.35" fill="#c8359f"/>
<circle cx="444.62" cy="139.01" r="1.35" fill="#c8359f"/>
<circle cx="444.25" cy="138.74" r="1.35" fill="#c8359f"/>
<circle cx="450.55" cy="142.8" r="1.35" fill="#c8359f"/>
<circle cx="443.56" cy="149.52" r="1.35" fill="#c8359f"/>
<circle cx="448.43" cy="140.98" r="1.35" fill="#c8359f"/>
<circle cx="444.44" cy="142.57" r="1.35" fill="#c8359f"/>
<circle cx="453.05" cy="129.3" r="1.35" fill="#c8359f"/>
<circle cx="425.06" cy="166.38" r="1.35" fill="#c8359f"/>
<circle cx="433.61" cy="154.37" r="1.35" fill="#c8359f"/>
<circle cx="448.07" cy="129.83" r="1.35" fill="#c8359f"/>
<circle cx="445.31" cy="142.67" r="1.35" fill="#c8359f"/>
<circle cx="441.13" cy="138.8" r="1.35" fill="#c8359f"/>
<circle cx="454.88" cy="124.58" r="1.35" fill="#c8359f"/>
<circle cx="437.28" cy="147.5" r="1.35" fill="#c8359f"/>
<circle cx="452.27" cy="132.29" r="1.35" fill="#c8359f"/>
<circle cx="440.06" cy="149.43" r="1.35" fill="#c8359f"/>
<circle cx="436.43" cy="152" r="1.35" fill="#c8359f"/>
<circle cx="451.27" cy="132.75" r="1.35" fill="#c8359f"/>
<line x1="364" y1="208.5" x2="470.4" y2="137.2" stroke="#272a66" stroke-width="1.5"/>
<rect x="359.3" y="101.5" width="116.9" height="143" fill="none" stroke="#777" stroke-width="0.9"/>
<circle cx="361.9" cy="105.7" r="2.6" fill="#c8359f"/>
<text x="367.2" y="108.16" font-size="7.4">Chromosome 21</text>
<circle cx="362.3" cy="113.4" r="2.6" fill="#f2f2f2" stroke="#777" stroke-width="0.5"/>
<text x="367.2" y="115.96" font-size="7.4">Other</text>
<text x="474" y="242.7" font-size="8.6" text-anchor="end" fill="#2c2e6e"><tspan font-style="italic">ρ</tspan> = 0.40</text>
<line x1="361.2" y1="244.5" x2="361.2" y2="246.7" stroke="#333" stroke-width="0.6"/>
<text x="361.2" y="254.93" font-size="8.7" text-anchor="middle">-2</text>
<line x1="392.4" y1="244.5" x2="392.4" y2="246.7" stroke="#333" stroke-width="0.6"/>
<text x="392.4" y="254.93" font-size="8.7" text-anchor="middle">-1</text>
<line x1="423.6" y1="244.5" x2="423.6" y2="246.7" stroke="#333" stroke-width="0.6"/>
<text x="423.6" y="254.93" font-size="8.7" text-anchor="middle">0</text>
<line x1="454.8" y1="244.5" x2="454.8" y2="246.7" stroke="#333" stroke-width="0.6"/>
<text x="454.8" y="254.93" font-size="8.7" text-anchor="middle">1</text>
<line x1="357.3" y1="109" x2="359.3" y2="109" stroke="#333" stroke-width="0.6"/>
<text transform="translate(353.4 109) rotate(-90)" x="0" y="3.13" font-size="8.7" text-anchor="middle">2</text>
<line x1="357.3" y1="139.2" x2="359.3" y2="139.2" stroke="#333" stroke-width="0.6"/>
<text transform="translate(353.4 139.2) rotate(-90)" x="0" y="3.13" font-size="8.7" text-anchor="middle">1</text>
<line x1="357.3" y1="169.4" x2="359.3" y2="169.4" stroke="#333" stroke-width="0.6"/>
<text transform="translate(353.4 169.4) rotate(-90)" x="0" y="3.13" font-size="8.7" text-anchor="middle">0</text>
<line x1="357.3" y1="199.6" x2="359.3" y2="199.6" stroke="#333" stroke-width="0.6"/>
<text transform="translate(353.4 199.6) rotate(-90)" x="0" y="3.13" font-size="8.7" text-anchor="middle">-1</text>
<line x1="357.3" y1="229.8" x2="359.3" y2="229.8" stroke="#333" stroke-width="0.6"/>
<text transform="translate(353.4 229.8) rotate(-90)" x="0" y="3.13" font-size="8.7" text-anchor="middle">-2</text>
<text x="421.5" y="269.17" font-size="10.2" text-anchor="middle">PFC log<tspan font-size="7" dy="2">2</tspan><tspan dy="-2">FC</tspan></text>
<text transform="translate(339 178.5) rotate(-90)" x="0" y="3.67" font-size="10.2" text-anchor="middle">Hippocampus log<tspan font-size="7" dy="2">2</tspan><tspan dy="-2">FC</tspan></text>
<!--E-->
<text x="487.7" y="19.3" font-size="23.6" font-weight="bold" fill="#000">E</text>
<rect x="518.9" y="3.2" width="7.4" height="7.2" fill="#6cb4e4"/>
<text x="527.6" y="9.65" font-size="7.65">T21 down-regulated</text>
<rect x="518.9" y="13.7" width="7.4" height="7.2" fill="#2c2d6c"/>
<text x="527.6" y="20.05" font-size="7.65">T21 up-regulated</text>
<line x1="519" y1="98" x2="683" y2="98" stroke="#f0f0f0" stroke-width="0.5"/>
<line x1="519" y1="66.2" x2="683" y2="66.2" stroke="#f0f0f0" stroke-width="0.5"/>
<line x1="519" y1="34.4" x2="683" y2="34.4" stroke="#f0f0f0" stroke-width="0.5"/>
<rect x="519.6" y="95.06" width="6" height="34.74" fill="#6cb4e4"/>
<rect x="519.6" y="104.36" width="6" height="25.44" fill="#2c2d6c"/>
<line x1="522.6" y1="129.8" x2="522.6" y2="131.6" stroke="#444" stroke-width="0.45"/>
<rect x="526.73" y="99.91" width="6" height="29.89" fill="#6cb4e4"/>
<rect x="526.73" y="116.44" width="6" height="13.36" fill="#2c2d6c"/>
<line x1="529.73" y1="129.8" x2="529.73" y2="131.6" stroke="#444" stroke-width="0.45"/>
<rect x="533.86" y="110.16" width="6" height="19.64" fill="#6cb4e4"/>
<rect x="533.86" y="117.88" width="6" height="11.93" fill="#2c2d6c"/>
<line x1="536.86" y1="129.8" x2="536.86" y2="131.6" stroke="#444" stroke-width="0.45"/>
<rect x="540.99" y="121.29" width="6" height="8.51" fill="#6cb4e4"/>
<rect x="540.99" y="126.38" width="6" height="3.42" fill="#2c2d6c"/>
<line x1="543.99" y1="129.8" x2="543.99" y2="131.6" stroke="#444" stroke-width="0.45"/>
<rect x="548.12" y="116.44" width="6" height="13.36" fill="#6cb4e4"/>
<rect x="548.12" y="123.28" width="6" height="6.52" fill="#2c2d6c"/>
<line x1="551.12" y1="129.8" x2="551.12" y2="131.6" stroke="#444" stroke-width="0.45"/>
<rect x="555.25" y="113.26" width="6" height="16.54" fill="#6cb4e4"/>
<rect x="555.25" y="120.42" width="6" height="9.38" fill="#2c2d6c"/>
<line x1="558.25" y1="129.8" x2="558.25" y2="131.6" stroke="#444" stroke-width="0.45"/>
<rect x="562.38" y="108.49" width="6" height="21.31" fill="#6cb4e4"/>
<rect x="562.38" y="116.44" width="6" height="13.36" fill="#2c2d6c"/>
<line x1="565.38" y1="129.8" x2="565.38" y2="131.6" stroke="#444" stroke-width="0.45"/>
<rect x="569.51" y="123.28" width="6" height="6.52" fill="#6cb4e4"/>
<rect x="569.51" y="123.84" width="6" height="5.96" fill="#2c2d6c"/>
<line x1="572.51" y1="129.8" x2="572.51" y2="131.6" stroke="#444" stroke-width="0.45"/>
<rect x="576.64" y="122.09" width="6" height="7.71" fill="#6cb4e4"/>
<rect x="576.64" y="123.84" width="6" height="5.96" fill="#2c2d6c"/>
<line x1="579.64" y1="129.8" x2="579.64" y2="131.6" stroke="#444" stroke-width="0.45"/>
<rect x="583.77" y="115.89" width="6" height="13.91" fill="#6cb4e4"/>
<rect x="583.77" y="118.99" width="6" height="10.81" fill="#2c2d6c"/>
<line x1="586.77" y1="129.8" x2="586.77" y2="131.6" stroke="#444" stroke-width="0.45"/>
<rect x="590.9" y="107.86" width="6" height="21.94" fill="#6cb4e4"/>
<rect x="590.9" y="112.79" width="6" height="17.01" fill="#2c2d6c"/>
<line x1="593.9" y1="129.8" x2="593.9" y2="131.6" stroke="#444" stroke-width="0.45"/>
<rect x="598.03" y="112.79" width="6" height="17.01" fill="#6cb4e4"/>
<rect x="598.03" y="117.88" width="6" height="11.93" fill="#2c2d6c"/>
<line x1="601.03" y1="129.8" x2="601.03" y2="131.6" stroke="#444" stroke-width="0.45"/>
<rect x="605.16" y="129.01" width="6" height="0.8" fill="#6cb4e4"/>
<rect x="605.16" y="129.01" width="6" height="0.8" fill="#2c2d6c"/>
<line x1="608.16" y1="129.8" x2="608.16" y2="131.6" stroke="#444" stroke-width="0.45"/>
<rect x="612.29" y="121.85" width="6" height="7.95" fill="#6cb4e4"/>
<rect x="612.29" y="124.16" width="6" height="5.64" fill="#2c2d6c"/>
<line x1="615.29" y1="129.8" x2="615.29" y2="131.6" stroke="#444" stroke-width="0.45"/>
<rect x="619.42" y="121.29" width="6" height="8.51" fill="#6cb4e4"/>
<rect x="619.42" y="126.7" width="6" height="3.1" fill="#2c2d6c"/>
<line x1="622.42" y1="129.8" x2="622.42" y2="131.6" stroke="#444" stroke-width="0.45"/>
<rect x="626.55" y="103.88" width="6" height="25.92" fill="#6cb4e4"/>
<rect x="626.55" y="106.98" width="6" height="22.82" fill="#2c2d6c"/>
<line x1="629.55" y1="129.8" x2="629.55" y2="131.6" stroke="#444" stroke-width="0.45"/>
<rect x="633.68" y="103.01" width="6" height="26.79" fill="#6cb4e4"/>
<rect x="633.68" y="105" width="6" height="24.8" fill="#2c2d6c"/>
<line x1="636.68" y1="129.8" x2="636.68" y2="131.6" stroke="#444" stroke-width="0.45"/>
<rect x="640.81" y="127.49" width="6" height="2.31" fill="#6cb4e4"/>
<rect x="640.81" y="128.21" width="6" height="1.59" fill="#2c2d6c"/>
<line x1="643.81" y1="129.8" x2="643.81" y2="131.6" stroke="#444" stroke-width="0.45"/>
<rect x="647.94" y="92.75" width="6" height="37.05" fill="#6cb4e4"/>
<rect x="647.94" y="97.6" width="6" height="32.2" fill="#2c2d6c"/>
<line x1="650.94" y1="129.8" x2="650.94" y2="131.6" stroke="#444" stroke-width="0.45"/>
<rect x="655.07" y="124.63" width="6" height="5.17" fill="#6cb4e4"/>
<rect x="655.07" y="125.27" width="6" height="4.53" fill="#2c2d6c"/>
<line x1="658.07" y1="129.8" x2="658.07" y2="131.6" stroke="#444" stroke-width="0.45"/>
<rect x="662.2" y="33.61" width="6" height="96.2" fill="#6cb4e4"/>
<rect x="662.2" y="33.61" width="6" height="96.2" fill="#2c2d6c"/>
<line x1="665.2" y1="129.8" x2="665.2" y2="131.6" stroke="#444" stroke-width="0.45"/>
<rect x="669.33" y="120.1" width="6" height="9.7" fill="#6cb4e4"/>
<rect x="669.33" y="121.85" width="6" height="7.95" fill="#2c2d6c"/>
<line x1="672.33" y1="129.8" x2="672.33" y2="131.6" stroke="#444" stroke-width="0.45"/>
<rect x="676.46" y="112.39" width="6" height="17.41" fill="#6cb4e4"/>
<rect x="676.46" y="120.1" width="6" height="9.7" fill="#2c2d6c"/>
<line x1="679.46" y1="129.8" x2="679.46" y2="131.6" stroke="#444" stroke-width="0.45"/>
<line x1="518.8" y1="32.81" x2="518.8" y2="129.8" stroke="#222" stroke-width="0.7"/>
<line x1="518.8" y1="129.8" x2="683" y2="129.8" stroke="#222" stroke-width="0.7"/>
<line x1="516.8" y1="129.8" x2="518.8" y2="129.8" stroke="#222" stroke-width="0.6"/>
<text transform="translate(512.6 129.8) rotate(-90)" x="0" y="3.13" font-size="8.7" text-anchor="middle">0</text>
<line x1="516.8" y1="98" x2="518.8" y2="98" stroke="#222" stroke-width="0.6"/>
<text transform="translate(512.6 98) rotate(-90)" x="0" y="3.13" font-size="8.7" text-anchor="middle">40</text>
<line x1="516.8" y1="66.2" x2="518.8" y2="66.2" stroke="#222" stroke-width="0.6"/>
<text transform="translate(512.6 66.2) rotate(-90)" x="0" y="3.13" font-size="8.7" text-anchor="middle">80</text>
<line x1="516.8" y1="34.4" x2="518.8" y2="34.4" stroke="#222" stroke-width="0.6"/>
<text transform="translate(512.6 34.4) rotate(-90)" x="0" y="3.13" font-size="8.7" text-anchor="middle">120</text>
<text x="522" y="34.67" font-size="6.3" font-weight="bold" fill="#111">PFC</text>
<line x1="519" y1="209.7" x2="683" y2="209.7" stroke="#f0f0f0" stroke-width="0.5"/>
<line x1="519" y1="177.9" x2="683" y2="177.9" stroke="#f0f0f0" stroke-width="0.5"/>
<line x1="519" y1="146.1" x2="683" y2="146.1" stroke="#f0f0f0" stroke-width="0.5"/>
<rect x="519.6" y="209.7" width="6" height="31.8" fill="#6cb4e4"/>
<rect x="519.6" y="222.42" width="6" height="19.08" fill="#2c2d6c"/>
<line x1="522.6" y1="241.5" x2="522.6" y2="243.3" stroke="#444" stroke-width="0.45"/>
<rect x="526.73" y="218.13" width="6" height="23.37" fill="#6cb4e4"/>
<rect x="526.73" y="226.16" width="6" height="15.34" fill="#2c2d6c"/>
<line x1="529.73" y1="241.5" x2="529.73" y2="243.3" stroke="#444" stroke-width="0.45"/>
<rect x="533.86" y="223.85" width="6" height="17.65" fill="#6cb4e4"/>
<rect x="533.86" y="231.8" width="6" height="9.7" fill="#2c2d6c"/>
<line x1="536.86" y1="241.5" x2="536.86" y2="243.3" stroke="#444" stroke-width="0.45"/>
<rect x="540.99" y="225.6" width="6" height="15.9" fill="#6cb4e4"/>
<rect x="540.99" y="230.69" width="6" height="10.81" fill="#2c2d6c"/>
<line x1="543.99" y1="241.5" x2="543.99" y2="243.3" stroke="#444" stroke-width="0.45"/>
<rect x="548.12" y="223.85" width="6" height="17.65" fill="#6cb4e4"/>
<rect x="548.12" y="230.69" width="6" height="10.81" fill="#2c2d6c"/>
<line x1="551.12" y1="241.5" x2="551.12" y2="243.3" stroke="#444" stroke-width="0.45"/>
<rect x="555.25" y="223.85" width="6" height="17.65" fill="#6cb4e4"/>
<rect x="555.25" y="233.23" width="6" height="8.27" fill="#2c2d6c"/>
<line x1="558.25" y1="241.5" x2="558.25" y2="243.3" stroke="#444" stroke-width="0.45"/>
<rect x="562.38" y="227.83" width="6" height="13.67" fill="#6cb4e4"/>
<rect x="562.38" y="232.36" width="6" height="9.14" fill="#2c2d6c"/>
<line x1="565.38" y1="241.5" x2="565.38" y2="243.3" stroke="#444" stroke-width="0.45"/>
<rect x="569.51" y="228.7" width="6" height="12.8" fill="#6cb4e4"/>
<rect x="569.51" y="231.56" width="6" height="9.94" fill="#2c2d6c"/>
<line x1="572.51" y1="241.5" x2="572.51" y2="243.3" stroke="#444" stroke-width="0.45"/>
<rect x="576.64" y="226.95" width="6" height="14.55" fill="#6cb4e4"/>
<rect x="576.64" y="233.55" width="6" height="7.95" fill="#2c2d6c"/>
<line x1="579.64" y1="241.5" x2="579.64" y2="243.3" stroke="#444" stroke-width="0.45"/>
<rect x="583.77" y="215.03" width="6" height="26.47" fill="#6cb4e4"/>
<rect x="583.77" y="225.6" width="6" height="15.9" fill="#2c2d6c"/>
<line x1="586.77" y1="241.5" x2="586.77" y2="243.3" stroke="#444" stroke-width="0.45"/>
<rect x="590.9" y="226.16" width="6" height="15.34" fill="#6cb4e4"/>
<rect x="590.9" y="229.26" width="6" height="12.24" fill="#2c2d6c"/>
<line x1="593.9" y1="241.5" x2="593.9" y2="243.3" stroke="#444" stroke-width="0.45"/>
<rect x="598.03" y="227.83" width="6" height="13.67" fill="#6cb4e4"/>
<rect x="598.03" y="229.02" width="6" height="12.48" fill="#2c2d6c"/>
<line x1="601.03" y1="241.5" x2="601.03" y2="243.3" stroke="#444" stroke-width="0.45"/>
<rect x="605.16" y="237.53" width="6" height="3.98" fill="#6cb4e4"/>
<rect x="605.16" y="238.08" width="6" height="3.42" fill="#2c2d6c"/>
<line x1="608.16" y1="241.5" x2="608.16" y2="243.3" stroke="#444" stroke-width="0.45"/>
<rect x="612.29" y="235.22" width="6" height="6.28" fill="#6cb4e4"/>
<rect x="612.29" y="235.78" width="6" height="5.72" fill="#2c2d6c"/>
<line x1="615.29" y1="241.5" x2="615.29" y2="243.3" stroke="#444" stroke-width="0.45"/>
<rect x="619.42" y="234.11" width="6" height="7.39" fill="#6cb4e4"/>
<rect x="619.42" y="236.41" width="6" height="5.09" fill="#2c2d6c"/>
<line x1="622.42" y1="241.5" x2="622.42" y2="243.3" stroke="#444" stroke-width="0.45"/>
<rect x="626.55" y="227.59" width="6" height="13.91" fill="#6cb4e4"/>
<rect x="626.55" y="232.68" width="6" height="8.82" fill="#2c2d6c"/>
<line x1="629.55" y1="241.5" x2="629.55" y2="243.3" stroke="#444" stroke-width="0.45"/>
<rect x="633.68" y="223.85" width="6" height="17.65" fill="#6cb4e4"/>
<rect x="633.68" y="228.38" width="6" height="13.12" fill="#2c2d6c"/>
<line x1="636.68" y1="241.5" x2="636.68" y2="243.3" stroke="#444" stroke-width="0.45"/>
<rect x="640.81" y="234.66" width="6" height="6.84" fill="#6cb4e4"/>
<rect x="640.81" y="236.41" width="6" height="5.09" fill="#2c2d6c"/>
<line x1="643.81" y1="241.5" x2="643.81" y2="243.3" stroke="#444" stroke-width="0.45"/>
<rect x="647.94" y="219.88" width="6" height="21.62" fill="#6cb4e4"/>
<rect x="647.94" y="231.56" width="6" height="9.94" fill="#2c2d6c"/>
<line x1="650.94" y1="241.5" x2="650.94" y2="243.3" stroke="#444" stroke-width="0.45"/>
<rect x="655.07" y="234.34" width="6" height="7.16" fill="#6cb4e4"/>
<rect x="655.07" y="234.98" width="6" height="6.52" fill="#2c2d6c"/>
<line x1="658.07" y1="241.5" x2="658.07" y2="243.3" stroke="#444" stroke-width="0.45"/>
<rect x="662.2" y="147.85" width="6" height="93.65" fill="#6cb4e4"/>
<rect x="662.2" y="147.85" width="6" height="93.65" fill="#2c2d6c"/>
<line x1="665.2" y1="241.5" x2="665.2" y2="243.3" stroke="#444" stroke-width="0.45"/>
<rect x="669.33" y="233.79" width="6" height="7.71" fill="#6cb4e4"/>
<rect x="669.33" y="237.21" width="6" height="4.29" fill="#2c2d6c"/>
<line x1="672.33" y1="241.5" x2="672.33" y2="243.3" stroke="#444" stroke-width="0.45"/>
<rect x="676.46" y="230.69" width="6" height="10.81" fill="#6cb4e4"/>
<rect x="676.46" y="235.54" width="6" height="5.96" fill="#2c2d6c"/>
<line x1="679.46" y1="241.5" x2="679.46" y2="243.3" stroke="#444" stroke-width="0.45"/>
<line x1="518.8" y1="144.51" x2="518.8" y2="241.5" stroke="#222" stroke-width="0.7"/>
<line x1="518.8" y1="241.5" x2="683" y2="241.5" stroke="#222" stroke-width="0.7"/>
<line x1="516.8" y1="241.5" x2="518.8" y2="241.5" stroke="#222" stroke-width="0.6"/>
<text transform="translate(512.6 241.5) rotate(-90)" x="0" y="3.13" font-size="8.7" text-anchor="middle">0</text>
<line x1="516.8" y1="209.7" x2="518.8" y2="209.7" stroke="#222" stroke-width="0.6"/>
<text transform="translate(512.6 209.7) rotate(-90)" x="0" y="3.13" font-size="8.7" text-anchor="middle">40</text>
<line x1="516.8" y1="177.9" x2="518.8" y2="177.9" stroke="#222" stroke-width="0.6"/>
<text transform="translate(512.6 177.9) rotate(-90)" x="0" y="3.13" font-size="8.7" text-anchor="middle">80</text>
<line x1="516.8" y1="146.1" x2="518.8" y2="146.1" stroke="#222" stroke-width="0.6"/>
<text transform="translate(512.6 146.1) rotate(-90)" x="0" y="3.13" font-size="8.7" text-anchor="middle">120</text>
<text x="522" y="145.97" font-size="6.3" font-weight="bold" fill="#111">Hippocampus</text>
<text transform="translate(525.8 248.6) rotate(-56)" x="0" y="0" font-size="7.6" text-anchor="end">chr1</text>
<text transform="translate(532.93 248.6) rotate(-56)" x="0" y="0" font-size="7.6" text-anchor="end">chr2</text>
<text transform="translate(540.06 248.6) rotate(-56)" x="0" y="0" font-size="7.6" text-anchor="end">chr3</text>
<text transform="translate(547.19 248.6) rotate(-56)" x="0" y="0" font-size="7.6" text-anchor="end">chr4</text>
<text transform="translate(554.32 248.6) rotate(-56)" x="0" y="0" font-size="7.6" text-anchor="end">chr5</text>
<text transform="translate(561.45 248.6) rotate(-56)" x="0" y="0" font-size="7.6" text-anchor="end">chr6</text>
<text transform="translate(568.58 248.6) rotate(-56)" x="0" y="0" font-size="7.6" text-anchor="end">chr7</text>
<text transform="translate(575.71 248.6) rotate(-56)" x="0" y="0" font-size="7.6" text-anchor="end">chr8</text>
<text transform="translate(582.84 248.6) rotate(-56)" x="0" y="0" font-size="7.6" text-anchor="end">chr9</text>
<text transform="translate(589.97 248.6) rotate(-56)" x="0" y="0" font-size="7.6" text-anchor="end">chr10</text>
<text transform="translate(597.1 248.6) rotate(-56)" x="0" y="0" font-size="7.6" text-anchor="end">chr11</text>
<text transform="translate(604.23 248.6) rotate(-56)" x="0" y="0" font-size="7.6" text-anchor="end">chr12</text>
<text transform="translate(611.36 248.6) rotate(-56)" x="0" y="0" font-size="7.6" text-anchor="end">chr13</text>
<text transform="translate(618.49 248.6) rotate(-56)" x="0" y="0" font-size="7.6" text-anchor="end">chr14</text>
<text transform="translate(625.62 248.6) rotate(-56)" x="0" y="0" font-size="7.6" text-anchor="end">chr15</text>
<text transform="translate(632.75 248.6) rotate(-56)" x="0" y="0" font-size="7.6" text-anchor="end">chr16</text>
<text transform="translate(639.88 248.6) rotate(-56)" x="0" y="0" font-size="7.6" text-anchor="end">chr17</text>
<text transform="translate(647.01 248.6) rotate(-56)" x="0" y="0" font-size="7.6" text-anchor="end">chr18</text>
<text transform="translate(654.14 248.6) rotate(-56)" x="0" y="0" font-size="7.6" text-anchor="end">chr19</text>
<text transform="translate(661.27 248.6) rotate(-56)" x="0" y="0" font-size="7.6" text-anchor="end">chr20</text>
<text transform="translate(668.4 248.6) rotate(-56)" x="0" y="0" font-size="7.6" text-anchor="end">chr21</text>
<text transform="translate(675.53 248.6) rotate(-56)" x="0" y="0" font-size="7.6" text-anchor="end">chr22</text>
<text transform="translate(682.66 248.6) rotate(-56)" x="0" y="0" font-size="7.6" text-anchor="end">chrX</text>
<text transform="translate(496.6 131.2) rotate(-90)" x="0" y="3.71" font-size="10.3" text-anchor="middle">Number of DEGs (FDR &lt; 5%)</text>
<!--F-->
<text x="-0.3" y="309.3" font-size="23.6" font-weight="bold" fill="#000">F</text>
<circle cx="34.2" cy="295.8" r="3.7" fill="#c8359f"/>
<text x="41.2" y="298.55" font-size="7.65">Adj. <tspan font-style="italic">P</tspan> &lt; 0.05</text>
<circle cx="34.2" cy="305.7" r="3.7" fill="#6cb4e4"/>
<text x="41.2" y="308.45" font-size="7.65">0.05 &lt; Adj. <tspan font-style="italic">P</tspan> &lt; 0.1</text>
<circle cx="34.2" cy="315.6" r="3.7" fill="#2c2d6c"/>
<text x="41.2" y="318.35" font-size="7.65">Adj. <tspan font-style="italic">P</tspan> &gt; 0.1</text>
<line x1="30.5" y1="396.2" x2="252.6" y2="396.2" stroke="#777" stroke-width="0.5" stroke-dasharray="1.6 1"/>
<line x1="30.5" y1="347.8" x2="252.6" y2="347.8" stroke="#f2f2f2" stroke-width="0.5"/>
<line x1="28.5" y1="347.8" x2="30.5" y2="347.8" stroke="#555" stroke-width="0.6"/>
<text transform="translate(24.2 347.8) rotate(-90)" x="0" y="3.13" font-size="8.7" text-anchor="middle">1.0</text>
<line x1="30.5" y1="372" x2="252.6" y2="372" stroke="#f2f2f2" stroke-width="0.5"/>
<line x1="28.5" y1="372" x2="30.5" y2="372" stroke="#555" stroke-width="0.6"/>
<text transform="translate(24.2 372) rotate(-90)" x="0" y="3.13" font-size="8.7" text-anchor="middle">0.5</text>
<line x1="30.5" y1="396.2" x2="252.6" y2="396.2" stroke="#f2f2f2" stroke-width="0.5"/>
<line x1="28.5" y1="396.2" x2="30.5" y2="396.2" stroke="#555" stroke-width="0.6"/>
<text transform="translate(24.2 396.2) rotate(-90)" x="0" y="3.13" font-size="8.7" text-anchor="middle">0.0</text>
<line x1="30.5" y1="420.4" x2="252.6" y2="420.4" stroke="#f2f2f2" stroke-width="0.5"/>
<line x1="28.5" y1="420.4" x2="30.5" y2="420.4" stroke="#555" stroke-width="0.6"/>
<text transform="translate(24.2 420.4) rotate(-90)" x="0" y="3.13" font-size="8.7" text-anchor="middle">-0.5</text>
<line x1="30.5" y1="332.5" x2="30.5" y2="432" stroke="#888" stroke-width="0.8"/>
<line x1="30.5" y1="432" x2="252.6" y2="432" stroke="#888" stroke-width="0.8"/>
<circle cx="35.7" cy="369.6" r="2.2" fill="#c8359f"/>
<circle cx="35.7" cy="373.1" r="2.2" fill="#c8359f"/>
<circle cx="36.1" cy="378.2" r="2.2" fill="#c8359f"/>
<circle cx="58.7" cy="365.5" r="2.2" fill="#c8359f"/>
<circle cx="58.7" cy="373.8" r="2.2" fill="#c8359f"/>
<circle cx="109.9" cy="351.2" r="2.2" fill="#c8359f"/>
<circle cx="99.2" cy="363.9" r="2.2" fill="#c8359f"/>
<circle cx="98.5" cy="366.8" r="2.2" fill="#c8359f"/>
<circle cx="100.7" cy="370.5" r="2.2" fill="#c8359f"/>
<circle cx="102.9" cy="369" r="2.2" fill="#c8359f"/>
<circle cx="106.9" cy="367.2" r="2.2" fill="#c8359f"/>
<circle cx="106.2" cy="374.5" r="2.2" fill="#c8359f"/>
<circle cx="113.9" cy="368.3" r="2.2" fill="#c8359f"/>
<circle cx="115.4" cy="378.6" r="2.2" fill="#c8359f"/>
<circle cx="129.6" cy="374.4" r="2.2" fill="#c8359f"/>
<circle cx="148.9" cy="366.1" r="2.2" fill="#c8359f"/>
<circle cx="148.9" cy="370.5" r="2.2" fill="#c8359f"/>
<circle cx="150" cy="375" r="2.2" fill="#c8359f"/>
<circle cx="106.9" cy="367.1" r="2.2" fill="#c8359f"/>
<circle cx="106.2" cy="374.1" r="2.2" fill="#c8359f"/>
<circle cx="114.1" cy="368.4" r="2.2" fill="#c8359f"/>
<circle cx="129.8" cy="374.1" r="2.2" fill="#c8359f"/>
<circle cx="152.9" cy="354.7" r="2.2" fill="#c8359f"/>
<circle cx="150.9" cy="365.4" r="2.2" fill="#c8359f"/>
<circle cx="150.9" cy="370.9" r="2.2" fill="#c8359f"/>
<circle cx="151.6" cy="376.6" r="2.2" fill="#c8359f"/>
<circle cx="154.1" cy="376.6" r="2.2" fill="#c8359f"/>
<circle cx="165.8" cy="355.2" r="2.2" fill="#c8359f"/>
<circle cx="165" cy="365.4" r="2.2" fill="#c8359f"/>
<circle cx="165" cy="372.6" r="2.2" fill="#c8359f"/>
<circle cx="178.4" cy="356.2" r="2.2" fill="#c8359f"/>
<circle cx="182.6" cy="353" r="2.2" fill="#c8359f"/>
<circle cx="174.9" cy="368.4" r="2.2" fill="#c8359f"/>
<circle cx="180.6" cy="365.9" r="2.2" fill="#c8359f"/>
<circle cx="185.6" cy="365.9" r="2.2" fill="#c8359f"/>
<circle cx="189.8" cy="364.7" r="2.2" fill="#c8359f"/>
<circle cx="178.9" cy="372.1" r="2.2" fill="#c8359f"/>
<circle cx="181.9" cy="374.6" r="2.2" fill="#c8359f"/>
<circle cx="185.6" cy="373.3" r="2.2" fill="#c8359f"/>
<circle cx="187.3" cy="376.6" r="2.2" fill="#c8359f"/>
<circle cx="197.3" cy="359" r="2.2" fill="#c8359f"/>
<circle cx="201.2" cy="357.2" r="2.2" fill="#c8359f"/>
<circle cx="204.2" cy="357.2" r="2.2" fill="#c8359f"/>
<circle cx="201.7" cy="363.4" r="2.2" fill="#c8359f"/>
<circle cx="198" cy="367.1" r="2.2" fill="#c8359f"/>
<circle cx="200.5" cy="369.6" r="2.2" fill="#c8359f"/>
<circle cx="203" cy="372.1" r="2.2" fill="#c8359f"/>
<circle cx="197.5" cy="373.3" r="2.2" fill="#c8359f"/>
<circle cx="198.8" cy="379.1" r="2.2" fill="#c8359f"/>
<circle cx="209.2" cy="376.6" r="2.2" fill="#c8359f"/>
<circle cx="211.2" cy="368.6" r="2.2" fill="#c8359f"/>
<circle cx="214.6" cy="375.8" r="2.2" fill="#c8359f"/>
<circle cx="221.6" cy="368.4" r="2.2" fill="#c8359f"/>
<circle cx="223.6" cy="362.2" r="2.2" fill="#c8359f"/>
<circle cx="226.6" cy="363.4" r="2.2" fill="#c8359f"/>
<circle cx="227.8" cy="369.6" r="2.2" fill="#c8359f"/>
<circle cx="225.3" cy="375.8" r="2.2" fill="#c8359f"/>
<circle cx="224.1" cy="380.8" r="2.2" fill="#c8359f"/>
<circle cx="222.8" cy="385" r="2.2" fill="#c8359f"/>
<circle cx="234" cy="349.8" r="2.2" fill="#c8359f"/>
<circle cx="237.2" cy="354.2" r="2.2" fill="#c8359f"/>
<circle cx="241.9" cy="351" r="2.2" fill="#c8359f"/>
<circle cx="240.2" cy="357.2" r="2.2" fill="#c8359f"/>
<circle cx="243.4" cy="359.7" r="2.2" fill="#c8359f"/>
<circle cx="239" cy="362.2" r="2.2" fill="#c8359f"/>
<circle cx="235.2" cy="364.2" r="2.2" fill="#c8359f"/>
<circle cx="231.5" cy="365.9" r="2.2" fill="#c8359f"/>
<circle cx="234" cy="368.4" r="2.2" fill="#c8359f"/>
<circle cx="237.7" cy="367.1" r="2.2" fill="#c8359f"/>
<circle cx="241.4" cy="364.2" r="2.2" fill="#c8359f"/>
<circle cx="243.9" cy="367.1" r="2.2" fill="#c8359f"/>
<circle cx="232.8" cy="372.1" r="2.2" fill="#c8359f"/>
<circle cx="236.5" cy="372.6" r="2.2" fill="#c8359f"/>
<circle cx="242.7" cy="373.3" r="2.2" fill="#c8359f"/>
<circle cx="229" cy="374.1" r="2.2" fill="#c8359f"/>
<circle cx="231.5" cy="377.1" r="2.2" fill="#c8359f"/>
<circle cx="245" cy="362" r="2.2" fill="#c8359f"/>
<circle cx="246" cy="370" r="2.2" fill="#c8359f"/>
<circle cx="238" cy="376" r="2.2" fill="#c8359f"/>
<circle cx="233" cy="360" r="2.2" fill="#c8359f"/>
<circle cx="179" cy="362" r="2.2" fill="#c8359f"/>
<circle cx="183" cy="368" r="2.2" fill="#c8359f"/>
<circle cx="186" cy="370" r="2.2" fill="#c8359f"/>
<circle cx="188" cy="374" r="2.2" fill="#c8359f"/>
<circle cx="177" cy="375" r="2.2" fill="#c8359f"/>
<circle cx="184" cy="378" r="2.2" fill="#c8359f"/>
<circle cx="231" cy="360" r="2.2" fill="#c8359f"/>
<circle cx="236" cy="361" r="2.2" fill="#c8359f"/>
<circle cx="239" cy="369" r="2.2" fill="#c8359f"/>
<circle cx="233" cy="375" r="2.2" fill="#c8359f"/>
<circle cx="228" cy="378" r="2.2" fill="#c8359f"/>
<circle cx="241" cy="372" r="2.2" fill="#c8359f"/>
<circle cx="235" cy="380" r="2.2" fill="#c8359f"/>
<circle cx="227" cy="366" r="2.2" fill="#c8359f"/>
<circle cx="224" cy="371" r="2.2" fill="#c8359f"/>
<circle cx="170" cy="367" r="2.2" fill="#c8359f"/>
<circle cx="176" cy="371" r="2.2" fill="#c8359f"/>
<circle cx="155.8" cy="347.3" r="2.2" fill="#6cb4e4"/>
<circle cx="167.7" cy="372.1" r="2.2" fill="#6cb4e4"/>
<circle cx="167" cy="375.8" r="2.2" fill="#6cb4e4"/>
<circle cx="185.6" cy="372.1" r="2.2" fill="#6cb4e4"/>
<circle cx="214.1" cy="367.9" r="2.2" fill="#6cb4e4"/>
<circle cx="217.9" cy="370.9" r="2.2" fill="#6cb4e4"/>
<circle cx="230.3" cy="380.8" r="2.2" fill="#6cb4e4"/>
<circle cx="102" cy="381.5" r="2.2" fill="#6cb4e4"/>
<circle cx="115.9" cy="377.1" r="2.2" fill="#2c2d6c"/>
<circle cx="114.1" cy="394.4" r="2.2" fill="#2c2d6c"/>
<circle cx="120.3" cy="401.9" r="2.2" fill="#2c2d6c"/>
<circle cx="149.6" cy="399.4" r="2.2" fill="#2c2d6c"/>
<circle cx="156.6" cy="388.2" r="2.2" fill="#2c2d6c"/>
<circle cx="165.8" cy="379.6" r="2.2" fill="#2c2d6c"/>
<circle cx="167" cy="382" r="2.2" fill="#2c2d6c"/>
<circle cx="169.5" cy="384.5" r="2.2" fill="#2c2d6c"/>
<circle cx="174.9" cy="394.4" r="2.2" fill="#2c2d6c"/>
<circle cx="177.4" cy="388.7" r="2.2" fill="#2c2d6c"/>
<circle cx="182.4" cy="381.5" r="2.2" fill="#2c2d6c"/>
<circle cx="183.9" cy="398.9" r="2.2" fill="#2c2d6c"/>
<circle cx="189.8" cy="376.6" r="2.2" fill="#2c2d6c"/>
<circle cx="197.3" cy="393.2" r="2.2" fill="#2c2d6c"/>
<circle cx="197.3" cy="401.1" r="2.2" fill="#2c2d6c"/>
<circle cx="196.8" cy="406.8" r="2.2" fill="#2c2d6c"/>
<circle cx="207.4" cy="398.4" r="2.2" fill="#2c2d6c"/>
<circle cx="212.2" cy="375.8" r="2.2" fill="#2c2d6c"/>
<circle cx="220.3" cy="377.8" r="2.2" fill="#2c2d6c"/>
<circle cx="228.5" cy="354.7" r="2.2" fill="#2c2d6c"/>
<circle cx="234.7" cy="359.2" r="2.2" fill="#2c2d6c"/>
<circle cx="229.5" cy="379.6" r="2.2" fill="#2c2d6c"/>
<circle cx="230.3" cy="384" r="2.2" fill="#2c2d6c"/>
<circle cx="236.5" cy="383.3" r="2.2" fill="#2c2d6c"/>
<circle cx="244.4" cy="378.8" r="2.2" fill="#2c2d6c"/>
<circle cx="230.8" cy="398.2" r="2.2" fill="#2c2d6c"/>
<circle cx="64.8" cy="333.9" r="2.2" fill="#2c2d6c"/>
<circle cx="35.7" cy="377.1" r="2.2" fill="#2c2d6c"/>
<circle cx="58.7" cy="370.5" r="2.2" fill="#2c2d6c"/>
<circle cx="64.6" cy="362.4" r="2.2" fill="#2c2d6c"/>
<circle cx="63.1" cy="379.9" r="2.2" fill="#2c2d6c"/>
<circle cx="67.2" cy="386.5" r="2.2" fill="#2c2d6c"/>
<circle cx="65.7" cy="396.8" r="2.2" fill="#2c2d6c"/>
<circle cx="62.6" cy="401.8" r="2.2" fill="#2c2d6c"/>
<circle cx="82.3" cy="410.4" r="2.2" fill="#2c2d6c"/>
<circle cx="75.5" cy="429.2" r="2.2" fill="#2c2d6c"/>
<circle cx="100.7" cy="382.1" r="2.2" fill="#2c2d6c"/>
<circle cx="116" cy="376.6" r="2.2" fill="#2c2d6c"/>
<circle cx="113.9" cy="394.8" r="2.2" fill="#2c2d6c"/>
<circle cx="120" cy="401.8" r="2.2" fill="#2c2d6c"/>
<circle cx="148.9" cy="399.6" r="2.2" fill="#2c2d6c"/>
<text x="65.1" y="343.98" font-size="6.6" text-anchor="middle" font-style="italic" fill="#2c2d6c">LOC102724594</text>
<text x="156.8" y="342.68" font-size="6.6" text-anchor="middle" font-style="italic" fill="#6cb4e4">ADAMTS1</text>
<text x="234.6" y="344.68" font-size="6.6" text-anchor="middle" font-style="italic" fill="#c8359f">COL6A2</text>
<text transform="translate(10.2 382.5) rotate(-90)" x="0" y="3.71" font-size="10.3" text-anchor="middle">PFC logFC</text>
<text x="31.8" y="412.85" font-size="8.2" fill="#c8359f">122 genes</text>
<text x="31.8" y="420.55" font-size="8.2" fill="#6cb4e4">9 genes</text>
<text x="31.8" y="428.65" font-size="8.2" fill="#2c2d6c">40 genes</text>
<line x1="30.5" y1="521.2" x2="252.6" y2="521.2" stroke="#777" stroke-width="0.5" stroke-dasharray="1.6 1"/>
<line x1="30.5" y1="461.2" x2="252.6" y2="461.2" stroke="#f2f2f2" stroke-width="0.5"/>
<line x1="28.5" y1="461.2" x2="30.5" y2="461.2" stroke="#555" stroke-width="0.6"/>
<text transform="translate(24.2 461.2) rotate(-90)" x="0" y="3.13" font-size="8.7" text-anchor="middle">2.0</text>
<line x1="30.5" y1="491.2" x2="252.6" y2="491.2" stroke="#f2f2f2" stroke-width="0.5"/>
<line x1="28.5" y1="491.2" x2="30.5" y2="491.2" stroke="#555" stroke-width="0.6"/>
<text transform="translate(24.2 491.2) rotate(-90)" x="0" y="3.13" font-size="8.7" text-anchor="middle">1.0</text>
<line x1="30.5" y1="521.2" x2="252.6" y2="521.2" stroke="#f2f2f2" stroke-width="0.5"/>
<line x1="28.5" y1="521.2" x2="30.5" y2="521.2" stroke="#555" stroke-width="0.6"/>
<text transform="translate(24.2 521.2) rotate(-90)" x="0" y="3.13" font-size="8.7" text-anchor="middle">0.0</text>
<line x1="30.5" y1="449.1" x2="30.5" y2="546.4" stroke="#888" stroke-width="0.8"/>
<line x1="30.5" y1="546.4" x2="252.6" y2="546.4" stroke="#888" stroke-width="0.8"/>
<circle cx="40.2" cy="494.6" r="2.2" fill="#c8359f"/>
<circle cx="40.2" cy="496.9" r="2.2" fill="#c8359f"/>
<circle cx="40.4" cy="506" r="2.2" fill="#c8359f"/>
<circle cx="40.4" cy="507.9" r="2.2" fill="#c8359f"/>
<circle cx="62.6" cy="501.7" r="2.2" fill="#c8359f"/>
<circle cx="66.8" cy="493.7" r="2.2" fill="#c8359f"/>
<circle cx="102.1" cy="495.6" r="2.2" fill="#c8359f"/>
<circle cx="101.5" cy="504.9" r="2.2" fill="#c8359f"/>
<circle cx="102.5" cy="507.9" r="2.2" fill="#c8359f"/>
<circle cx="105.7" cy="506.4" r="2.2" fill="#c8359f"/>
<circle cx="108.7" cy="507" r="2.2" fill="#c8359f"/>
<circle cx="109.7" cy="494.6" r="2.2" fill="#c8359f"/>
<circle cx="112.3" cy="496.5" r="2.2" fill="#c8359f"/>
<circle cx="111.4" cy="472.3" r="2.2" fill="#c8359f"/>
<circle cx="118" cy="466" r="2.2" fill="#c8359f"/>
<circle cx="116.5" cy="501.7" r="2.2" fill="#c8359f"/>
<circle cx="117.6" cy="505.5" r="2.2" fill="#c8359f"/>
<circle cx="111.8" cy="472.4" r="2.2" fill="#c8359f"/>
<circle cx="112.2" cy="496.5" r="2.2" fill="#c8359f"/>
<circle cx="116.6" cy="501.7" r="2.2" fill="#c8359f"/>
<circle cx="118.1" cy="505.3" r="2.2" fill="#c8359f"/>
<circle cx="131.5" cy="500.9" r="2.2" fill="#c8359f"/>
<circle cx="157.1" cy="474.4" r="2.2" fill="#c8359f"/>
<circle cx="154.2" cy="485.5" r="2.2" fill="#c8359f"/>
<circle cx="152.9" cy="496.3" r="2.2" fill="#c8359f"/>
<circle cx="156" cy="497.6" r="2.2" fill="#c8359f"/>
<circle cx="151.6" cy="503.1" r="2.2" fill="#c8359f"/>
<circle cx="152" cy="506.8" r="2.2" fill="#c8359f"/>
<circle cx="152.7" cy="511.2" r="2.2" fill="#c8359f"/>
<circle cx="168.7" cy="487.7" r="2.2" fill="#c8359f"/>
<circle cx="165.8" cy="502" r="2.2" fill="#c8359f"/>
<circle cx="166.5" cy="505.7" r="2.2" fill="#c8359f"/>
<circle cx="181.2" cy="491.5" r="2.2" fill="#c8359f"/>
<circle cx="179.6" cy="498.7" r="2.2" fill="#c8359f"/>
<circle cx="177.9" cy="503.5" r="2.2" fill="#c8359f"/>
<circle cx="182.7" cy="501.7" r="2.2" fill="#c8359f"/>
<circle cx="185.5" cy="502.4" r="2.2" fill="#c8359f"/>
<circle cx="184.4" cy="505.7" r="2.2" fill="#c8359f"/>
<circle cx="187.1" cy="507.9" r="2.2" fill="#c8359f"/>
<circle cx="181.2" cy="510.1" r="2.2" fill="#c8359f"/>
<circle cx="190.4" cy="498" r="2.2" fill="#c8359f"/>
<circle cx="198.2" cy="492.1" r="2.2" fill="#c8359f"/>
<circle cx="200.9" cy="494.7" r="2.2" fill="#c8359f"/>
<circle cx="204.2" cy="498" r="2.2" fill="#c8359f"/>
<circle cx="197.6" cy="502.4" r="2.2" fill="#c8359f"/>
<circle cx="199.3" cy="505.7" r="2.2" fill="#c8359f"/>
<circle cx="202" cy="507.9" r="2.2" fill="#c8359f"/>
<circle cx="197.1" cy="509.6" r="2.2" fill="#c8359f"/>
<circle cx="212.9" cy="486.4" r="2.2" fill="#c8359f"/>
<circle cx="209.6" cy="502.4" r="2.2" fill="#c8359f"/>
<circle cx="211.8" cy="505.7" r="2.2" fill="#c8359f"/>
<circle cx="210.7" cy="510.1" r="2.2" fill="#c8359f"/>
<circle cx="220.6" cy="486.4" r="2.2" fill="#c8359f"/>
<circle cx="222.1" cy="453.1" r="2.2" fill="#c8359f"/>
<circle cx="233.7" cy="482.7" r="2.2" fill="#c8359f"/>
<circle cx="233.7" cy="486.4" r="2.2" fill="#c8359f"/>
<circle cx="240.9" cy="481.2" r="2.2" fill="#c8359f"/>
<circle cx="240.3" cy="488.2" r="2.2" fill="#c8359f"/>
<circle cx="238.1" cy="491.5" r="2.2" fill="#c8359f"/>
<circle cx="229.3" cy="492.6" r="2.2" fill="#c8359f"/>
<circle cx="232.6" cy="493.6" r="2.2" fill="#c8359f"/>
<circle cx="235.9" cy="493.6" r="2.2" fill="#c8359f"/>
<circle cx="226" cy="503.5" r="2.2" fill="#c8359f"/>
<circle cx="229.3" cy="505.7" r="2.2" fill="#c8359f"/>
<circle cx="232.6" cy="502.4" r="2.2" fill="#c8359f"/>
<circle cx="234.8" cy="504.6" r="2.2" fill="#c8359f"/>
<circle cx="237" cy="503.5" r="2.2" fill="#c8359f"/>
<circle cx="240.3" cy="504.6" r="2.2" fill="#c8359f"/>
<circle cx="242.5" cy="503.5" r="2.2" fill="#c8359f"/>
<circle cx="233.7" cy="507.9" r="2.2" fill="#c8359f"/>
<circle cx="238.1" cy="505.7" r="2.2" fill="#c8359f"/>
<circle cx="228" cy="500" r="2.2" fill="#c8359f"/>
<circle cx="231" cy="497" r="2.2" fill="#c8359f"/>
<circle cx="234" cy="499" r="2.2" fill="#c8359f"/>
<circle cx="237" cy="497" r="2.2" fill="#c8359f"/>
<circle cx="240" cy="499" r="2.2" fill="#c8359f"/>
<circle cx="243" cy="501" r="2.2" fill="#c8359f"/>
<circle cx="226" cy="508" r="2.2" fill="#c8359f"/>
<circle cx="230" cy="510" r="2.2" fill="#c8359f"/>
<circle cx="236" cy="509" r="2.2" fill="#c8359f"/>
<circle cx="242" cy="508" r="2.2" fill="#c8359f"/>
<circle cx="233" cy="503" r="2.2" fill="#c8359f"/>
<circle cx="239" cy="505" r="2.2" fill="#c8359f"/>
<circle cx="244" cy="496" r="2.2" fill="#c8359f"/>
<circle cx="225" cy="496" r="2.2" fill="#c8359f"/>
<circle cx="180" cy="495" r="2.2" fill="#c8359f"/>
<circle cx="186" cy="498" r="2.2" fill="#c8359f"/>
<circle cx="192" cy="505" r="2.2" fill="#c8359f"/>
<circle cx="200" cy="500" r="2.2" fill="#c8359f"/>
<circle cx="205" cy="503" r="2.2" fill="#c8359f"/>
<circle cx="178" cy="507" r="2.2" fill="#c8359f"/>
<circle cx="190" cy="511" r="2.2" fill="#c8359f"/>
<circle cx="210" cy="495" r="2.2" fill="#c8359f"/>
<circle cx="214" cy="500" r="2.2" fill="#c8359f"/>
<circle cx="104.9" cy="509.6" r="2.2" fill="#6cb4e4"/>
<circle cx="191.5" cy="461.2" r="2.2" fill="#6cb4e4"/>
<circle cx="214" cy="479.9" r="2.2" fill="#6cb4e4"/>
<circle cx="197.6" cy="500.2" r="2.2" fill="#6cb4e4"/>
<circle cx="209.6" cy="500.2" r="2.2" fill="#6cb4e4"/>
<circle cx="222.8" cy="505.3" r="2.2" fill="#6cb4e4"/>
<circle cx="229.3" cy="499.1" r="2.2" fill="#6cb4e4"/>
<circle cx="237.7" cy="489.3" r="2.2" fill="#6cb4e4"/>
<circle cx="238.7" cy="502.4" r="2.2" fill="#6cb4e4"/>
<circle cx="40.2" cy="510.2" r="2.2" fill="#2c2d6c"/>
<circle cx="68.3" cy="506.4" r="2.2" fill="#2c2d6c"/>
<circle cx="70.8" cy="509.8" r="2.2" fill="#2c2d6c"/>
<circle cx="62.6" cy="515.9" r="2.2" fill="#2c2d6c"/>
<circle cx="66.4" cy="521.2" r="2.2" fill="#2c2d6c"/>
<circle cx="85.8" cy="524.1" r="2.2" fill="#2c2d6c"/>
<circle cx="78.7" cy="541.9" r="2.2" fill="#2c2d6c"/>
<circle cx="103" cy="505.8" r="2.2" fill="#2c2d6c"/>
<circle cx="116.5" cy="521.6" r="2.2" fill="#2c2d6c"/>
<circle cx="122.4" cy="522.5" r="2.2" fill="#2c2d6c"/>
<circle cx="116.6" cy="521.7" r="2.2" fill="#2c2d6c"/>
<circle cx="150.7" cy="522.8" r="2.2" fill="#2c2d6c"/>
<circle cx="155.3" cy="505.3" r="2.2" fill="#2c2d6c"/>
<circle cx="157.5" cy="503.1" r="2.2" fill="#2c2d6c"/>
<circle cx="167.4" cy="507.9" r="2.2" fill="#2c2d6c"/>
<circle cx="168" cy="509.6" r="2.2" fill="#2c2d6c"/>
<circle cx="175.7" cy="515.5" r="2.2" fill="#2c2d6c"/>
<circle cx="177.9" cy="522.1" r="2.2" fill="#2c2d6c"/>
<circle cx="175.3" cy="525" r="2.2" fill="#2c2d6c"/>
<circle cx="182.9" cy="502.4" r="2.2" fill="#2c2d6c"/>
<circle cx="184.4" cy="512.3" r="2.2" fill="#2c2d6c"/>
<circle cx="184.9" cy="514.4" r="2.2" fill="#2c2d6c"/>
<circle cx="188.4" cy="509.6" r="2.2" fill="#2c2d6c"/>
<circle cx="192.1" cy="502.4" r="2.2" fill="#2c2d6c"/>
<circle cx="197.1" cy="512.3" r="2.2" fill="#2c2d6c"/>
<circle cx="196.9" cy="525" r="2.2" fill="#2c2d6c"/>
<circle cx="197.6" cy="532" r="2.2" fill="#2c2d6c"/>
<circle cx="207.4" cy="511.2" r="2.2" fill="#2c2d6c"/>
<circle cx="212.3" cy="485.5" r="2.2" fill="#2c2d6c"/>
<circle cx="212.3" cy="499.1" r="2.2" fill="#2c2d6c"/>
<circle cx="217.3" cy="505.3" r="2.2" fill="#2c2d6c"/>
<circle cx="225" cy="481.6" r="2.2" fill="#2c2d6c"/>
<circle cx="228.2" cy="491.5" r="2.2" fill="#2c2d6c"/>
<circle cx="219.5" cy="514.4" r="2.2" fill="#2c2d6c"/>
<circle cx="222.8" cy="512.3" r="2.2" fill="#2c2d6c"/>
<circle cx="226" cy="513.4" r="2.2" fill="#2c2d6c"/>
<circle cx="222.1" cy="519.3" r="2.2" fill="#2c2d6c"/>
<circle cx="228.2" cy="519.3" r="2.2" fill="#2c2d6c"/>
<circle cx="230" cy="521" r="2.2" fill="#2c2d6c"/>
<circle cx="231.5" cy="507.9" r="2.2" fill="#2c2d6c"/>
<circle cx="235.9" cy="499.1" r="2.2" fill="#2c2d6c"/>
<circle cx="235.9" cy="512.3" r="2.2" fill="#2c2d6c"/>
<circle cx="232.6" cy="514" r="2.2" fill="#2c2d6c"/>
<circle cx="241.4" cy="500.2" r="2.2" fill="#2c2d6c"/>
<circle cx="241.4" cy="513.4" r="2.2" fill="#2c2d6c"/>
<circle cx="242.5" cy="503.5" r="2.2" fill="#2c2d6c"/>
<text x="118.1" y="461.38" font-size="6.6" text-anchor="middle" font-style="italic" fill="#c8359f">CHODL</text>
<text x="157.4" y="470.18" font-size="6.6" text-anchor="middle" font-style="italic" fill="#c8359f">ADAMTS1</text>
<text x="191" y="456.58" font-size="6.6" text-anchor="middle" font-style="italic" fill="#6cb4e4">CLIC6</text>
<text x="221.9" y="448.98" font-size="6.6" text-anchor="middle" font-style="italic" fill="#c8359f">RIPK4</text>
<text transform="translate(10.2 497) rotate(-90)" x="0" y="3.71" font-size="10.3" text-anchor="middle">Hippocampus logFC</text>
<text x="31.8" y="528.35" font-size="8.2" fill="#c8359f">118 genes</text>
<text x="31.8" y="536.35" font-size="8.2" fill="#6cb4e4">12 genes</text>
<text x="31.8" y="544.05" font-size="8.2" fill="#2c2d6c">50 genes</text>
<clipPath id="idc"><path d="M34.5 554.5 L86 554.5 C89 554.5 90.5 556.5 91.5 559.0 C92.5 556.5 94 554.5 97 554.5 L249 554.5 C254 554.5 254 563.5 249 563.5 L97 563.5 C94 563.5 92.5 561.5 91.5 559.0 C90.5 561.5 89 563.5 86 563.5 L34.5 563.5 C29 563.5 29 554.5 34.5 554.5 Z"/></clipPath>
<g clip-path="url(#idc)">
<rect x="29" y="554.5" width="16.1" height="9" fill="#111"/>
<text x="37.05" y="560.19" font-size="3.3" text-anchor="middle" fill="#fff">21p13</text>
<rect x="45.1" y="554.5" width="18.8" height="9" fill="#888"/>
<text x="54.5" y="560.19" font-size="3.3" text-anchor="middle" fill="#fff">21p12</text>
<rect x="63.9" y="554.5" width="18.4" height="9" fill="#111"/>
<text x="73.1" y="560.19" font-size="3.3" text-anchor="middle" fill="#fff">21p11.2</text>
<rect x="82.3" y="554.5" width="19.4" height="9" fill="#fff"/>
<rect x="101.7" y="554.5" width="35.8" height="9" fill="#111"/>
<text x="119.6" y="560.19" font-size="3.3" text-anchor="middle" fill="#fff">21q21.1</text>
<rect x="137.5" y="554.5" width="15.6" height="9" fill="#fff"/>
<text x="145.3" y="560.19" font-size="3.3" text-anchor="middle" fill="#111">21q21.2</text>
<rect x="153.1" y="554.5" width="20.2" height="9" fill="#3c3c3c"/>
<text x="163.2" y="560.19" font-size="3.3" text-anchor="middle" fill="#fff">21q21.3</text>
<rect x="173.3" y="554.5" width="20.6" height="9" fill="#fff"/>
<text x="183.6" y="560.19" font-size="3.3" text-anchor="middle" fill="#111">21q22.11</text>
<rect x="193.9" y="554.5" width="8.8" height="9" fill="#555"/>
<rect x="202.7" y="554.5" width="10" height="9" fill="#fff"/>
<rect x="212.7" y="554.5" width="13.1" height="9" fill="#555"/>
<rect x="225.8" y="554.5" width="29.2" height="9" fill="#fff"/>
<text x="240.4" y="560.19" font-size="3.3" text-anchor="middle" fill="#111">21q22.3</text>
</g>
<path d="M34.5 554.5 L86 554.5 C89 554.5 90.5 556.5 91.5 559.0 C92.5 556.5 94 554.5 97 554.5 L249 554.5 C254 554.5 254 563.5 249 563.5 L97 563.5 C94 563.5 92.5 561.5 91.5 559.0 C90.5 561.5 89 563.5 86 563.5 L34.5 563.5 C29 563.5 29 554.5 34.5 554.5 Z" fill="none" stroke="#111" stroke-width="0.8"/>
<circle cx="208" cy="559" r="0.8" fill="#111"/>
<line x1="208" y1="552.5" x2="208" y2="558" stroke="#111" stroke-width="0.4"/>
<text x="208" y="551.79" font-size="3.3" text-anchor="middle">21q22.13</text>
<line x1="198.3" y1="560" x2="198.3" y2="565.5" stroke="#111" stroke-width="0.4"/>
<text x="198.3" y="568.99" font-size="3.3" text-anchor="middle">21q22.12</text>
<line x1="219.3" y1="560" x2="219.3" y2="565.5" stroke="#111" stroke-width="0.4"/>
<text x="219.3" y="568.99" font-size="3.3" text-anchor="middle">21q22.2</text>
<text x="141.8" y="581.21" font-size="10.3" text-anchor="middle">Chromosome 21 position</text>
<!--G-->
<text x="265.7" y="308.95" font-size="23.6" font-weight="bold" fill="#000">G</text>
<rect x="308.8" y="282.2" width="7.8" height="7.6" fill="#d9d9d9" stroke="#444" stroke-width="0.5" rx="1"/>
<text x="318.7" y="288.75" font-size="7.65">Background genes</text>
<rect x="308.8" y="292.7" width="7.8" height="7.6" fill="#2c2d6c"/>
<text x="318.7" y="299.15" font-size="7.65">T21 up-regulated</text>
<rect x="308.8" y="303.1" width="7.8" height="7.6" fill="#c8359f"/>
<text x="318.7" y="309.75" font-size="7.65">T21 down-regulated</text>
<path d="M315.4 423.8 L315.4 423.8 L316.29 423.79 L317.18 423.77 L318.07 423.75 L318.96 423.73 L319.85 423.71 L320.74 423.68 L321.63 423.66 L322.52 423.63 L323.41 423.6 L324.3 423.57 L325.19 423.54 L326.08 423.51 L326.97 423.48 L327.86 423.45 L328.75 423.42 L329.64 423.36 L330.53 423.33 L331.42 423.26 L332.31 423.01 L333.2 422.63 L334.09 422.22 L334.98 421.72 L335.87 421.17 L336.76 420.58 L337.65 419.98 L338.54 419.38 L339.43 418.82 L340.32 418.27 L341.21 417.73 L342.1 417.16 L342.99 416.54 L343.88 415.84 L344.77 415.05 L345.66 413.98 L346.55 412.83 L347.44 411.56 L348.33 410.08 L349.22 408.3 L350.11 406.04 L351 403.23 L351.88 400.09 L352.77 396.77 L353.66 393.42 L354.55 389.25 L355.44 384.17 L356.33 379.16 L357.22 374.65 L358.11 370.81 L359 367.36 L359.89 363.97 L360.78 361.26 L361.67 358.77 L362.56 356.26 L363.45 353.9 L364.34 351.84 L365.23 350.27 L366.12 349.11 L367.01 348.16 L367.9 347.42 L368.79 346.86 L369.68 346.47 L370.57 346.24 L371.46 346.31 L372.35 346.65 L373.24 347.14 L374.13 347.67 L375.02 348.11 L375.91 348.4 L376.8 348.64 L377.69 348.83 L378.58 349 L379.47 349.16 L380.36 349.31 L381.25 349.43 L382.14 349.53 L383.03 349.67 L383.92 349.79 L384.81 349.88 L385.7 350.43 L386.59 351.52 L387.48 352.93 L388.37 354.97 L389.26 357.52 L390.15 359.96 L391.04 362.8 L391.93 365.87 L392.82 369.03 L393.71 372.12 L394.6 375.46 L395.49 378.9 L396.38 382.38 L397.27 385.82 L398.16 389.14 L399.05 392.15 L399.94 395.12 L400.83 398.04 L401.72 400.86 L402.61 403.56 L403.5 406.29 L404.39 409.04 L405.28 411.65 L406.17 414.03 L407.06 416.06 L407.95 417.6 L408.84 418.78 L409.73 419.7 L410.62 420.44 L411.51 421.04 L412.4 421.56 L413.29 421.9 L414.18 422.09 L415.07 422.18 L415.96 422.24 L416.85 422.31 L417.74 422.39 L418.63 422.45 L419.52 422.5 L420.41 422.53 L421.3 422.56 L422.19 422.58 L423.07 422.6 L423.96 422.63 L424.85 422.66 L425.74 422.69 L426.63 422.71 L427.52 422.73 L428.41 422.75 L429.3 422.78 L430.19 422.81 L431.08 422.84 L431.97 422.89 L432.86 422.94 L433.75 422.99 L434.64 423.04 L435.53 423.1 L436.42 423.15 L437.31 423.21 L438.2 423.26 L439.09 423.31 L439.98 423.37 L440.87 423.42 L441.76 423.48 L442.65 423.53 L443.54 423.57 L444.43 423.61 L445.32 423.63 L446.21 423.65 L447.1 423.66 L447.99 423.68 L448.88 423.69 L449.77 423.71 L450.66 423.72 L451.55 423.73 L452.44 423.75 L453.33 423.76 L454.22 423.77 L455.11 423.78 L456 423.79 L456.89 423.79 L457.78 423.8 L457.78 423.8 Z" fill="#b639a4" fill-opacity="0.45"/>
<path d="M315.4 423.8 L315.4 423.41 L316.29 423.41 L317.18 423.41 L318.07 423.4 L318.96 423.4 L319.85 423.4 L320.74 423.4 L321.63 423.4 L322.52 423.4 L323.41 423.39 L324.3 423.39 L325.19 423.39 L326.08 423.38 L326.97 423.38 L327.86 423.37 L328.75 423.36 L329.64 423.35 L330.53 423.34 L331.42 423.33 L332.31 423.31 L333.2 423.28 L334.09 423.24 L334.98 423.2 L335.87 423.15 L336.76 423.09 L337.65 422.99 L338.54 422.87 L339.43 422.7 L340.32 422.51 L341.21 422.29 L342.1 422.04 L342.99 421.76 L343.88 421.46 L344.77 421.12 L345.66 420.69 L346.55 420.26 L347.44 419.78 L348.33 419.18 L349.22 418.4 L350.11 417.37 L351 416.14 L351.88 414.74 L352.77 413.12 L353.66 411.24 L354.55 409.15 L355.44 406.84 L356.33 404.3 L357.22 401.59 L358.11 398.77 L359 395.85 L359.89 392.55 L360.78 389.05 L361.67 385.53 L362.56 382.11 L363.45 379.01 L364.34 376.24 L365.23 373.57 L366.12 371 L367.01 368.54 L367.9 366.19 L368.79 363.76 L369.68 361.42 L370.57 359.21 L371.46 357.18 L372.35 355.36 L373.24 353.88 L374.13 352.58 L375.02 351.44 L375.91 350.42 L376.8 349.5 L377.69 348.65 L378.58 347.92 L379.47 347.31 L380.36 346.8 L381.25 346.37 L382.14 345.93 L383.03 345.63 L383.92 345.49 L384.81 345.37 L385.7 345.19 L386.59 345.1 L387.48 345.34 L388.37 345.9 L389.26 346.69 L390.15 348.05 L391.04 349.96 L391.93 352.11 L392.82 354.65 L393.71 357.37 L394.6 360.06 L395.49 363.1 L396.38 366.69 L397.27 370.28 L398.16 373.79 L399.05 376.11 L399.94 378.44 L400.83 380.76 L401.72 383.04 L402.61 385.25 L403.5 387.51 L404.39 389.75 L405.28 391.94 L406.17 394.06 L407.06 396.12 L407.95 397.99 L408.84 399.74 L409.73 401.44 L410.62 403.11 L411.51 404.79 L412.4 406.57 L413.29 408.5 L414.18 410.44 L415.07 412.33 L415.96 414.09 L416.85 415.45 L417.74 416.52 L418.63 417.54 L419.52 418.49 L420.41 419.36 L421.3 420.14 L422.19 420.83 L423.07 421.41 L423.96 421.87 L424.85 422.23 L425.74 422.51 L426.63 422.73 L427.52 422.91 L428.41 423.08 L429.3 423.2 L430.19 423.28 L431.08 423.33 L431.97 423.37 L432.86 423.39 L433.75 423.4 L434.64 423.4 L435.53 423.4 L436.42 423.4 L437.31 423.41 L438.2 423.42 L439.09 423.42 L439.98 423.42 L440.87 423.43 L441.76 423.43 L442.65 423.43 L443.54 423.43 L444.43 423.43 L445.32 423.43 L446.21 423.43 L447.1 423.43 L447.99 423.43 L448.88 423.43 L449.77 423.42 L450.66 423.42 L451.55 423.42 L452.44 423.42 L453.33 423.42 L454.22 423.41 L455.11 423.41 L456 423.41 L456.89 423.41 L457.78 423.41 L457.78 423.8 Z" fill="#c5c5bb" fill-opacity="0.6"/>
<path d="M315.4 423.41 L316.29 423.41 L317.18 423.41 L318.07 423.4 L318.96 423.4 L319.85 423.4 L320.74 423.4 L321.63 423.4 L322.52 423.4 L323.41 423.39 L324.3 423.39 L325.19 423.39 L326.08 423.38 L326.97 423.38 L327.86 423.37 L328.75 423.36 L329.64 423.35 L330.53 423.34 L331.42 423.33 L332.31 423.31 L333.2 423.28 L334.09 423.24 L334.98 423.2 L335.87 423.15 L336.76 423.09 L337.65 422.99 L338.54 422.87 L339.43 422.7 L340.32 422.51 L341.21 422.29 L342.1 422.04 L342.99 421.76 L343.88 421.46 L344.77 421.12 L345.66 420.69 L346.55 420.26 L347.44 419.78 L348.33 419.18 L349.22 418.4 L350.11 417.37 L351 416.14 L351.88 414.74 L352.77 413.12 L353.66 411.24 L354.55 409.15 L355.44 406.84 L356.33 404.3 L357.22 401.59 L358.11 398.77 L359 395.85 L359.89 392.55 L360.78 389.05 L361.67 385.53 L362.56 382.11 L363.45 379.01 L364.34 376.24 L365.23 373.57 L366.12 371 L367.01 368.54 L367.9 366.19 L368.79 363.76 L369.68 361.42 L370.57 359.21 L371.46 357.18 L372.35 355.36 L373.24 353.88 L374.13 352.58 L375.02 351.44 L375.91 350.42 L376.8 349.5 L377.69 348.65 L378.58 347.92 L379.47 347.31 L380.36 346.8 L381.25 346.37 L382.14 345.93 L383.03 345.63 L383.92 345.49 L384.81 345.37 L385.7 345.19 L386.59 345.1 L387.48 345.34 L388.37 345.9 L389.26 346.69 L390.15 348.05 L391.04 349.96 L391.93 352.11 L392.82 354.65 L393.71 357.37 L394.6 360.06 L395.49 363.1 L396.38 366.69 L397.27 370.28 L398.16 373.79 L399.05 376.11 L399.94 378.44 L400.83 380.76 L401.72 383.04 L402.61 385.25 L403.5 387.51 L404.39 389.75 L405.28 391.94 L406.17 394.06 L407.06 396.12 L407.95 397.99 L408.84 399.74 L409.73 401.44 L410.62 403.11 L411.51 404.79 L412.4 406.57 L413.29 408.5 L414.18 410.44 L415.07 412.33 L415.96 414.09 L416.85 415.45 L417.74 416.52 L418.63 417.54 L419.52 418.49 L420.41 419.36 L421.3 420.14 L422.19 420.83 L423.07 421.41 L423.96 421.87 L424.85 422.23 L425.74 422.51 L426.63 422.73 L427.52 422.91 L428.41 423.08 L429.3 423.2 L430.19 423.28 L431.08 423.33 L431.97 423.37 L432.86 423.39 L433.75 423.4 L434.64 423.4 L435.53 423.4 L436.42 423.4 L437.31 423.41 L438.2 423.42 L439.09 423.42 L439.98 423.42 L440.87 423.43 L441.76 423.43 L442.65 423.43 L443.54 423.43 L444.43 423.43 L445.32 423.43 L446.21 423.43 L447.1 423.43 L447.99 423.43 L448.88 423.43 L449.77 423.42 L450.66 423.42 L451.55 423.42 L452.44 423.42 L453.33 423.42 L454.22 423.41 L455.11 423.41 L456 423.41 L456.89 423.41 L457.78 423.41" fill="none" stroke="#222" stroke-width="0.5" stroke-dasharray="1 0.8"/>
<path d="M315.4 423.8 L315.4 423.8 L316.29 423.8 L317.18 423.8 L318.07 423.8 L318.96 423.8 L319.85 423.8 L320.74 423.8 L321.63 423.8 L322.52 423.8 L323.41 423.8 L324.3 423.8 L325.19 423.8 L326.08 423.8 L326.97 423.8 L327.86 423.8 L328.75 423.8 L329.64 423.8 L330.53 423.8 L331.42 423.8 L332.31 423.8 L333.2 423.8 L334.09 423.8 L334.98 423.8 L335.87 423.8 L336.76 423.8 L337.65 423.8 L338.54 423.8 L339.43 423.8 L340.32 423.8 L341.21 423.8 L342.1 423.8 L342.99 423.76 L343.88 423.69 L344.77 423.61 L345.66 423.51 L346.55 423.38 L347.44 423.21 L348.33 422.99 L349.22 422.7 L350.11 422.3 L351 421.82 L351.88 421.29 L352.77 420.67 L353.66 419.98 L354.55 419.18 L355.44 418.28 L356.33 416.98 L357.22 415.38 L358.11 413.58 L359 411.6 L359.89 409.44 L360.78 407.17 L361.67 404.71 L362.56 402.07 L363.45 399.36 L364.34 396.66 L365.23 393.49 L366.12 389.35 L367.01 385.26 L367.9 381.46 L368.79 378.11 L369.68 375.08 L370.57 372.12 L371.46 369.01 L372.35 365.82 L373.24 362.66 L374.13 359.75 L375.02 357.83 L375.91 355.94 L376.8 354.13 L377.69 352.42 L378.58 350.84 L379.47 349.43 L380.36 348.15 L381.25 346.99 L382.14 345.89 L383.03 344.83 L383.92 343.68 L384.81 342.53 L385.7 341.47 L386.59 340.54 L387.48 339.78 L388.37 339.05 L389.26 338.4 L390.15 338.02 L391.04 338.06 L391.93 338.65 L392.82 339.67 L393.71 341.18 L394.6 343.28 L395.49 345.74 L396.38 348.52 L397.27 351.72 L398.16 355.14 L399.05 358.59 L399.94 361.89 L400.83 365.35 L401.72 368.86 L402.61 372.33 L403.5 375.69 L404.39 378.81 L405.28 381.57 L406.17 384.21 L407.06 386.75 L407.95 389.22 L408.84 391.67 L409.73 394.23 L410.62 396.73 L411.51 399.18 L412.4 401.62 L413.29 404.06 L414.18 405.96 L415.07 407.88 L415.96 409.82 L416.85 411.72 L417.74 413.52 L418.63 415.15 L419.52 416.55 L420.41 417.72 L421.3 418.71 L422.19 419.55 L423.07 420.27 L423.96 420.89 L424.85 421.44 L425.74 421.97 L426.63 422.46 L427.52 422.78 L428.41 422.98 L429.3 423.13 L430.19 423.29 L431.08 423.41 L431.97 423.5 L432.86 423.58 L433.75 423.64 L434.64 423.69 L435.53 423.73 L436.42 423.76 L437.31 423.8 L438.2 423.8 L439.09 423.8 L439.98 423.8 L440.87 423.8 L441.76 423.8 L442.65 423.8 L443.54 423.8 L444.43 423.8 L445.32 423.8 L446.21 423.8 L447.1 423.8 L447.99 423.8 L448.88 423.8 L449.77 423.8 L450.66 423.8 L451.55 423.8 L452.44 423.8 L453.33 423.8 L454.22 423.8 L455.11 423.8 L456 423.8 L456.89 423.8 L457.78 423.8 L457.78 423.8 Z" fill="#0a0f64" fill-opacity="0.33"/>
<line x1="383.2" y1="334.5" x2="383.2" y2="427.8" stroke="#555" stroke-width="0.6"/>
<line x1="309.1" y1="423.8" x2="456.5" y2="423.8" stroke="#bbb" stroke-width="0.4"/>
<line x1="309.1" y1="332.5" x2="309.1" y2="427.8" stroke="#333" stroke-width="0.7"/>
<line x1="309.1" y1="427.8" x2="456.5" y2="427.8" stroke="#333" stroke-width="0.7"/>
<line x1="307.1" y1="350.68" x2="309.1" y2="350.68" stroke="#333" stroke-width="0.6"/>
<text x="306.1" y="353.84" font-size="8.8" text-anchor="end">0.075</text>
<line x1="307.1" y1="375.05" x2="309.1" y2="375.05" stroke="#333" stroke-width="0.6"/>
<text x="306.1" y="378.22" font-size="8.8" text-anchor="end">0.050</text>
<line x1="307.1" y1="399.43" x2="309.1" y2="399.43" stroke="#333" stroke-width="0.6"/>
<text x="306.1" y="402.59" font-size="8.8" text-anchor="end">0.025</text>
<line x1="307.1" y1="423.8" x2="309.1" y2="423.8" stroke="#333" stroke-width="0.6"/>
<text x="306.1" y="426.97" font-size="8.8" text-anchor="end">0.000</text>
<line x1="315.4" y1="427.8" x2="315.4" y2="429.8" stroke="#333" stroke-width="0.6"/>
<text x="315.4" y="438.57" font-size="8.8" text-anchor="middle">-20</text>
<line x1="349.3" y1="427.8" x2="349.3" y2="429.8" stroke="#333" stroke-width="0.6"/>
<text x="349.3" y="438.57" font-size="8.8" text-anchor="middle">-10</text>
<line x1="383.2" y1="427.8" x2="383.2" y2="429.8" stroke="#333" stroke-width="0.6"/>
<text x="383.2" y="438.57" font-size="8.8" text-anchor="middle">0</text>
<line x1="417.1" y1="427.8" x2="417.1" y2="429.8" stroke="#333" stroke-width="0.6"/>
<text x="417.1" y="438.57" font-size="8.8" text-anchor="middle">10</text>
<line x1="451" y1="427.8" x2="451" y2="429.8" stroke="#333" stroke-width="0.6"/>
<text x="451" y="438.57" font-size="8.8" text-anchor="middle">20</text>
<text transform="translate(275.6 379.5) rotate(-90)" x="0" y="3.71" font-size="10.3" text-anchor="middle">PFC density</text>
<text x="377.2" y="336.75" font-size="7.65" text-anchor="middle" fill="#c3399f">p=0.01</text>
<path d="M370.8 341.2 L370.8 339.6 L383.3 339.6 L383.3 341.2" fill="none" stroke="#c3399f" stroke-width="0.7"/>
<text x="387.7" y="323.85" font-size="7.65" text-anchor="middle" fill="#2c2e6e">p=0.02</text>
<path d="M383.3 328.2 L383.3 326.6 L391.7 326.6 L391.7 328.2" fill="none" stroke="#555" stroke-width="0.7"/>
<path d="M310 542.5 L310 542.5 L310.9 542.5 L311.79 542.5 L312.69 542.5 L313.59 542.5 L314.48 542.5 L315.38 542.5 L316.28 542.5 L317.18 542.5 L318.07 542.5 L318.97 542.5 L319.87 542.5 L320.76 542.5 L321.66 542.5 L322.56 542.5 L323.45 542.5 L324.35 542.5 L325.25 542.5 L326.15 542.5 L327.04 542.5 L327.94 542.5 L328.84 542.49 L329.73 542.44 L330.63 542.38 L331.53 542.3 L332.42 542.19 L333.32 542.04 L334.22 541.82 L335.12 541.58 L336.01 541.12 L336.91 540.28 L337.81 539.14 L338.7 537.69 L339.6 535.91 L340.5 533.66 L341.39 531.02 L342.29 528 L343.19 524.79 L344.09 521.27 L344.98 517.56 L345.88 513.91 L346.78 509.86 L347.67 505.82 L348.57 501.54 L349.47 496.13 L350.36 490.26 L351.26 484.84 L352.16 479.85 L353.06 475.22 L353.95 469.76 L354.85 463.75 L355.75 460.16 L356.64 459.62 L357.54 460.27 L358.44 461.08 L359.33 462.36 L360.23 463.82 L361.13 464.36 L362.03 463.79 L362.92 462.88 L363.82 462.43 L364.72 462.38 L365.61 462.52 L366.51 462.94 L367.41 463.65 L368.3 464.36 L369.2 465.27 L370.1 466.58 L371 468.51 L371.89 470.41 L372.79 472.57 L373.69 475.01 L374.58 477.63 L375.48 480.31 L376.38 482.94 L377.27 485.4 L378.17 488.56 L379.07 491.8 L379.97 494.98 L380.86 498.04 L381.76 500.95 L382.66 503.5 L383.55 505.92 L384.45 508.23 L385.35 510.47 L386.25 512.67 L387.14 514.85 L388.04 516.97 L388.94 519.03 L389.83 521.04 L390.73 522.99 L391.63 524.89 L392.52 526.77 L393.42 528.6 L394.32 530.34 L395.21 531.98 L396.11 533.37 L397.01 534.49 L397.91 535.55 L398.8 536.54 L399.7 537.46 L400.6 538.28 L401.49 539 L402.39 539.58 L403.29 540.04 L404.19 540.41 L405.08 540.71 L405.98 540.94 L406.88 541.14 L407.77 541.32 L408.67 541.49 L409.57 541.56 L410.46 541.56 L411.36 541.54 L412.26 541.53 L413.15 541.56 L414.05 541.6 L414.95 541.65 L415.85 541.7 L416.74 541.76 L417.64 541.82 L418.54 541.88 L419.43 541.95 L420.33 542.03 L421.23 542.12 L422.12 542.22 L423.02 542.31 L423.92 542.4 L424.82 542.47 L425.71 542.5 L426.61 542.5 L427.51 542.5 L428.4 542.5 L429.3 542.5 L430.2 542.5 L431.09 542.5 L431.99 542.5 L432.89 542.5 L433.79 542.5 L434.68 542.5 L435.58 542.5 L436.48 542.5 L437.37 542.5 L438.27 542.5 L439.17 542.5 L440.06 542.5 L440.96 542.5 L441.86 542.5 L442.76 542.5 L443.65 542.5 L444.55 542.5 L445.45 542.5 L446.34 542.5 L447.24 542.5 L448.14 542.5 L449.03 542.5 L449.93 542.5 L450.83 542.5 L451.73 542.5 L452.62 542.5 L453.52 542.5 L453.52 542.5 Z" fill="#b639a4" fill-opacity="0.45"/>
<path d="M310 542.5 L310 542.12 L310.9 542.12 L311.79 542.12 L312.69 542.12 L313.59 542.12 L314.48 542.12 L315.38 542.12 L316.28 542.12 L317.18 542.1 L318.07 542.09 L318.97 542.08 L319.87 542.06 L320.76 542.04 L321.66 542.02 L322.56 542 L323.45 541.97 L324.35 541.94 L325.25 541.91 L326.15 541.87 L327.04 541.83 L327.94 541.78 L328.84 541.72 L329.73 541.61 L330.63 541.5 L331.53 541.37 L332.42 541.22 L333.32 541.04 L334.22 540.81 L335.12 540.53 L336.01 540.28 L336.91 540.08 L337.81 539.74 L338.7 539.04 L339.6 537.8 L340.5 536.35 L341.39 534.56 L342.29 532.51 L343.19 530.25 L344.09 527.87 L344.98 525.42 L345.88 523 L346.78 520.51 L347.67 517.86 L348.57 515.12 L349.47 512.35 L350.36 509.64 L351.26 507.03 L352.16 504.28 L353.06 501.2 L353.95 498.24 L354.85 495.38 L355.75 492.57 L356.64 489.76 L357.54 486.79 L358.44 483.88 L359.33 481.05 L360.23 478.34 L361.13 475.84 L362.03 473.56 L362.92 471.38 L363.82 469.33 L364.72 467.44 L365.61 465.74 L366.51 464.23 L367.41 462.89 L368.3 461.71 L369.2 460.68 L370.1 459.79 L371 458.71 L371.89 457.87 L372.79 457.42 L373.69 457.47 L374.58 457.91 L375.48 458.65 L376.38 459.64 L377.27 460.86 L378.17 462.52 L379.07 464.48 L379.97 466.76 L380.86 469.39 L381.76 472.41 L382.66 475.64 L383.55 478.95 L384.45 482.45 L385.35 486.06 L386.25 489.55 L387.14 492.78 L388.04 495.84 L388.94 498.84 L389.83 501.89 L390.73 505.02 L391.63 508.13 L392.52 511.12 L393.42 513.9 L394.32 516.51 L395.21 519.07 L396.11 521.44 L397.01 523.41 L397.91 525.41 L398.8 527.36 L399.7 529.16 L400.6 530.7 L401.49 532.02 L402.39 533.21 L403.29 534.31 L404.19 535.36 L405.08 536.32 L405.98 537.08 L406.88 537.83 L407.77 538.55 L408.67 539.23 L409.57 539.84 L410.46 540.37 L411.36 540.78 L412.26 541.05 L413.15 541.27 L414.05 541.43 L414.95 541.56 L415.85 541.66 L416.74 541.74 L417.64 541.81 L418.54 541.87 L419.43 541.93 L420.33 541.95 L421.23 541.97 L422.12 541.98 L423.02 542 L423.92 542.01 L424.82 542.02 L425.71 542.03 L426.61 542.04 L427.51 542.05 L428.4 542.06 L429.3 542.07 L430.2 542.07 L431.09 542.08 L431.99 542.08 L432.89 542.09 L433.79 542.09 L434.68 542.1 L435.58 542.1 L436.48 542.1 L437.37 542.1 L438.27 542.1 L439.17 542.11 L440.06 542.11 L440.96 542.11 L441.86 542.11 L442.76 542.11 L443.65 542.11 L444.55 542.11 L445.45 542.11 L446.34 542.11 L447.24 542.11 L448.14 542.11 L449.03 542.11 L449.93 542.11 L450.83 542.11 L451.73 542.11 L452.62 542.12 L453.52 542.12 L453.52 542.5 Z" fill="#c5c5bb" fill-opacity="0.6"/>
<path d="M310 542.12 L310.9 542.12 L311.79 542.12 L312.69 542.12 L313.59 542.12 L314.48 542.12 L315.38 542.12 L316.28 542.12 L317.18 542.1 L318.07 542.09 L318.97 542.08 L319.87 542.06 L320.76 542.04 L321.66 542.02 L322.56 542 L323.45 541.97 L324.35 541.94 L325.25 541.91 L326.15 541.87 L327.04 541.83 L327.94 541.78 L328.84 541.72 L329.73 541.61 L330.63 541.5 L331.53 541.37 L332.42 541.22 L333.32 541.04 L334.22 540.81 L335.12 540.53 L336.01 540.28 L336.91 540.08 L337.81 539.74 L338.7 539.04 L339.6 537.8 L340.5 536.35 L341.39 534.56 L342.29 532.51 L343.19 530.25 L344.09 527.87 L344.98 525.42 L345.88 523 L346.78 520.51 L347.67 517.86 L348.57 515.12 L349.47 512.35 L350.36 509.64 L351.26 507.03 L352.16 504.28 L353.06 501.2 L353.95 498.24 L354.85 495.38 L355.75 492.57 L356.64 489.76 L357.54 486.79 L358.44 483.88 L359.33 481.05 L360.23 478.34 L361.13 475.84 L362.03 473.56 L362.92 471.38 L363.82 469.33 L364.72 467.44 L365.61 465.74 L366.51 464.23 L367.41 462.89 L368.3 461.71 L369.2 460.68 L370.1 459.79 L371 458.71 L371.89 457.87 L372.79 457.42 L373.69 457.47 L374.58 457.91 L375.48 458.65 L376.38 459.64 L377.27 460.86 L378.17 462.52 L379.07 464.48 L379.97 466.76 L380.86 469.39 L381.76 472.41 L382.66 475.64 L383.55 478.95 L384.45 482.45 L385.35 486.06 L386.25 489.55 L387.14 492.78 L388.04 495.84 L388.94 498.84 L389.83 501.89 L390.73 505.02 L391.63 508.13 L392.52 511.12 L393.42 513.9 L394.32 516.51 L395.21 519.07 L396.11 521.44 L397.01 523.41 L397.91 525.41 L398.8 527.36 L399.7 529.16 L400.6 530.7 L401.49 532.02 L402.39 533.21 L403.29 534.31 L404.19 535.36 L405.08 536.32 L405.98 537.08 L406.88 537.83 L407.77 538.55 L408.67 539.23 L409.57 539.84 L410.46 540.37 L411.36 540.78 L412.26 541.05 L413.15 541.27 L414.05 541.43 L414.95 541.56 L415.85 541.66 L416.74 541.74 L417.64 541.81 L418.54 541.87 L419.43 541.93 L420.33 541.95 L421.23 541.97 L422.12 541.98 L423.02 542 L423.92 542.01 L424.82 542.02 L425.71 542.03 L426.61 542.04 L427.51 542.05 L428.4 542.06 L429.3 542.07 L430.2 542.07 L431.09 542.08 L431.99 542.08 L432.89 542.09 L433.79 542.09 L434.68 542.1 L435.58 542.1 L436.48 542.1 L437.37 542.1 L438.27 542.1 L439.17 542.11 L440.06 542.11 L440.96 542.11 L441.86 542.11 L442.76 542.11 L443.65 542.11 L444.55 542.11 L445.45 542.11 L446.34 542.11 L447.24 542.11 L448.14 542.11 L449.03 542.11 L449.93 542.11 L450.83 542.11 L451.73 542.11 L452.62 542.12 L453.52 542.12" fill="none" stroke="#222" stroke-width="0.5" stroke-dasharray="1 0.8"/>
<path d="M310 542.5 L310 542.5 L310.9 542.5 L311.79 542.5 L312.69 542.5 L313.59 542.5 L314.48 542.5 L315.38 542.5 L316.28 542.5 L317.18 542.5 L318.07 542.5 L318.97 542.5 L319.87 542.5 L320.76 542.5 L321.66 542.5 L322.56 542.5 L323.45 542.5 L324.35 542.5 L325.25 542.5 L326.15 542.5 L327.04 542.5 L327.94 542.5 L328.84 542.48 L329.73 542.34 L330.63 542.19 L331.53 542.02 L332.42 541.82 L333.32 541.6 L334.22 541.34 L335.12 541.03 L336.01 540.68 L336.91 540.27 L337.81 539.8 L338.7 539.17 L339.6 538.46 L340.5 537.68 L341.39 536.83 L342.29 535.89 L343.19 534.86 L344.09 533.71 L344.98 532.44 L345.88 531.05 L346.78 529.56 L347.67 527.93 L348.57 526.19 L349.47 524.36 L350.36 522.46 L351.26 520.5 L352.16 518.52 L353.06 516.51 L353.95 514.43 L354.85 512.2 L355.75 509.88 L356.64 507.5 L357.54 505.11 L358.44 502.75 L359.33 500.44 L360.23 498.22 L361.13 495.76 L362.03 492.54 L362.92 489.45 L363.82 486.52 L364.72 483.79 L365.61 481.2 L366.51 477.95 L367.41 475.17 L368.3 472.81 L369.2 470.78 L370.1 469.24 L371 468.01 L371.89 466.95 L372.79 466.2 L373.69 465.55 L374.58 464.97 L375.48 464.38 L376.38 463.68 L377.27 462.87 L378.17 462.2 L379.07 461.89 L379.97 462.17 L380.86 462.94 L381.76 464.16 L382.66 465.84 L383.55 467.9 L384.45 470.11 L385.35 472.69 L386.25 475.5 L387.14 478.4 L388.04 481.25 L388.94 484.05 L389.83 486.92 L390.73 489.84 L391.63 492.81 L392.52 495.84 L393.42 499.17 L394.32 502.68 L395.21 506.24 L396.11 509.72 L397.01 513.01 L397.91 515.93 L398.8 518.75 L399.7 521.46 L400.6 524.02 L401.49 526.38 L402.39 528.55 L403.29 530.53 L404.19 532.35 L405.08 533.99 L405.98 535.47 L406.88 536.64 L407.77 537.54 L408.67 538.33 L409.57 539.02 L410.46 539.63 L411.36 540.16 L412.26 540.65 L413.15 541.05 L414.05 541.36 L414.95 541.61 L415.85 541.8 L416.74 541.95 L417.64 542.08 L418.54 542.21 L419.43 542.31 L420.33 542.38 L421.23 542.43 L422.12 542.46 L423.02 542.47 L423.92 542.48 L424.82 542.49 L425.71 542.5 L426.61 542.5 L427.51 542.5 L428.4 542.5 L429.3 542.5 L430.2 542.5 L431.09 542.5 L431.99 542.5 L432.89 542.5 L433.79 542.5 L434.68 542.5 L435.58 542.5 L436.48 542.5 L437.37 542.5 L438.27 542.5 L439.17 542.5 L440.06 542.5 L440.96 542.5 L441.86 542.5 L442.76 542.5 L443.65 542.5 L444.55 542.5 L445.45 542.5 L446.34 542.5 L447.24 542.5 L448.14 542.5 L449.03 542.5 L449.93 542.5 L450.83 542.5 L451.73 542.5 L452.62 542.5 L453.52 542.5 L453.52 542.5 Z" fill="#0a0f64" fill-opacity="0.33"/>
<line x1="372.4" y1="453.1" x2="372.4" y2="545.4" stroke="#555" stroke-width="0.6"/>
<line x1="309.7" y1="542.5" x2="456.5" y2="542.5" stroke="#bbb" stroke-width="0.4"/>
<line x1="309.7" y1="451.1" x2="309.7" y2="545.4" stroke="#333" stroke-width="0.7"/>
<line x1="309.7" y1="545.4" x2="456.5" y2="545.4" stroke="#333" stroke-width="0.7"/>
<line x1="307.7" y1="471.02" x2="309.7" y2="471.02" stroke="#333" stroke-width="0.6"/>
<text x="306.7" y="474.19" font-size="8.8" text-anchor="end">0.075</text>
<line x1="307.7" y1="494.85" x2="309.7" y2="494.85" stroke="#333" stroke-width="0.6"/>
<text x="306.7" y="498.02" font-size="8.8" text-anchor="end">0.050</text>
<line x1="307.7" y1="518.67" x2="309.7" y2="518.67" stroke="#333" stroke-width="0.6"/>
<text x="306.7" y="521.84" font-size="8.8" text-anchor="end">0.025</text>
<line x1="307.7" y1="542.5" x2="309.7" y2="542.5" stroke="#333" stroke-width="0.6"/>
<text x="306.7" y="545.67" font-size="8.8" text-anchor="end">0.000</text>
<line x1="310" y1="545.4" x2="310" y2="547.4" stroke="#333" stroke-width="0.6"/>
<text x="310" y="556.37" font-size="8.8" text-anchor="middle">-20</text>
<line x1="341.2" y1="545.4" x2="341.2" y2="547.4" stroke="#333" stroke-width="0.6"/>
<text x="341.2" y="556.37" font-size="8.8" text-anchor="middle">-10</text>
<line x1="372.4" y1="545.4" x2="372.4" y2="547.4" stroke="#333" stroke-width="0.6"/>
<text x="372.4" y="556.37" font-size="8.8" text-anchor="middle">0</text>
<line x1="403.6" y1="545.4" x2="403.6" y2="547.4" stroke="#333" stroke-width="0.6"/>
<text x="403.6" y="556.37" font-size="8.8" text-anchor="middle">10</text>
<line x1="434.8" y1="545.4" x2="434.8" y2="547.4" stroke="#333" stroke-width="0.6"/>
<text x="434.8" y="556.37" font-size="8.8" text-anchor="middle">20</text>
<text transform="translate(275.6 494.2) rotate(-90)" x="0" y="3.71" font-size="10.3" text-anchor="middle">Hippocampus density</text>
<text x="364.8" y="446.35" font-size="7.65" text-anchor="middle" fill="#c3399f">p=7.6x10<tspan font-size="5.5" dy="-3">-7</tspan></text>
<path d="M357.1 450.9 L357.1 449.4 L373.8 449.4 L373.8 450.9" fill="none" stroke="#c3399f" stroke-width="0.7"/>
<text x="380.5" y="457.15" font-size="7.65" text-anchor="middle" fill="#2c2e6e">p=2.3x10<tspan font-size="5.5" dy="-3">-5</tspan></text>
<path d="M377.1 460.6 L377.1 459.1 L384 459.1 L384 460.6" fill="none" stroke="#2c2e6e" stroke-width="0.7"/>
<text x="384.5" y="567.28" font-size="9.1" text-anchor="middle"><tspan font-style="italic">t</tspan>-statistic: prenatal v.s. postnatal periods</text>
<line x1="297.2" y1="583.6" x2="379" y2="583.6" stroke="#111" stroke-width="0.8"/>
<text x="486.8" y="586.68" font-size="9.1" text-anchor="middle">BrainSpan developmental brain transcriptome data</text>
<line x1="593" y1="583.6" x2="675.6" y2="583.6" stroke="#111" stroke-width="0.8"/>
<!--H-->
<text x="486.5" y="308.5" font-size="23.6" font-weight="bold" fill="#000">H</text>
<rect x="532" y="291.5" width="7.6" height="7.8" fill="#2c2d6c"/>
<text x="541.2" y="298.15" font-size="7.65">T21 up-regulated</text>
<rect x="532" y="301.7" width="7.6" height="7.8" fill="#c8359f"/>
<text x="541.2" y="308.25" font-size="7.65">T21 down-regulated</text>
<text x="552.7" y="323.75" font-size="7.65" text-anchor="middle">Prenatal</text>
<text x="623" y="323.55" font-size="7.65" text-anchor="middle">Postnatal</text>
<path d="M535.8 329 L535.8 326.8 L674.2 326.8 L674.2 329 M570.2 326.8 L570.2 329" fill="none" stroke="#333" stroke-width="0.7"/>
<g class="h" transform="translate(535.6 0) scale(4.9536 1)" fill="none" stroke-width="0.32" stroke-opacity="0.45">
<polyline points="0,390.9 1,389.2 2,387.4 3,385.6 4,383.9 5,382.2 6,380.6 7,379.1 8,376.4 9,373.2 10,370.0 11,367.1 12,364.2 13,361.2 14,358.8 15,358.0 16,358.6 17,359.6 18,360.4 19,360.6 20,360.4 21,360.4 22,361.1 23,362.1 24,363.2 25,363.9 26,364.6 27,365.6 28,367.0" stroke="#2e2f7a"/>
<polyline points="0,342.0 1,347.6 2,353.0 3,358.2 4,363.2 5,368.2 6,372.7 7,376.2 8,378.4 9,380.5 10,383.2 11,387.2 12,391.0 13,393.3 14,393.5 15,392.4 16,391.3 17,390.9 18,390.9 19,390.5 20,389.5 21,388.3 22,387.3 23,386.9 24,386.8 25,386.3 26,385.5 27,384.8 28,385.0" stroke="#c8359f"/>
<polyline points="0,395.3 1,392.3 2,389.3 3,386.4 4,383.7 5,381.1 6,378.7 7,376.5 8,373.8 9,370.2 10,366.4 11,363.2 12,360.9 13,358.4 14,355.4 15,353.2 16,353.0 17,354.7 18,357.1 19,358.5 20,358.3 21,357.2 22,356.5 23,357.1 24,358.5 25,359.2 26,358.2 27,355.7 28,353.5" stroke="#2e2f7a"/>
<polyline points="0,354.9 1,360.6 2,365.6 3,370.2 4,374.4 5,378.1 6,381.2 7,382.9 8,380.5 9,377.8 10,375.5 11,373.5 12,371.7 13,370.0 14,368.9 15,368.6 16,368.9 17,369.3 18,369.6 19,369.6 20,369.5 21,369.5 22,369.3 23,369.1 24,368.7 25,368.2 26,367.7 27,367.5 28,367.3" stroke="#2e2f7a"/>
<polyline points="0,352.0 1,355.6 2,359.2 3,362.6 4,366.1 5,369.6 6,372.8 7,375.5 8,378.3 9,381.4 10,384.5 11,387.3 12,389.0 13,389.4 14,389.6 15,389.9 16,390.6 17,391.7 18,392.8 19,393.8 20,394.7 21,395.4 22,396.1 23,396.9 24,397.5 25,398.0 26,398.0 27,397.3 28,395.8" stroke="#c8359f"/>
<polyline points="0,359.9 1,363.8 2,367.3 3,370.7 4,374.1 5,377.6 6,380.9 7,383.9 8,385.9 9,387.1 10,388.0 11,388.6 12,388.6 13,388.1 14,388.0 15,388.1 16,388.2 17,388.0 18,388.1 19,388.7 20,389.4 21,389.6 22,388.5 23,386.5 24,384.4 25,382.8 26,382.0 27,381.4 28,380.4" stroke="#c8359f"/>
<polyline points="0,363.2 1,362.8 2,363.0 3,363.4 4,364.0 5,364.8 6,365.7 7,366.4 8,369.0 9,371.7 10,374.5 11,377.4 12,379.9 13,382.0 14,384.1 15,386.0 16,387.1 17,387.7 18,387.5 19,386.9 20,386.0 21,385.2 22,384.9 23,385.1 24,385.6 25,386.4 26,387.1 27,387.6 28,387.5" stroke="#c8359f"/>
<polyline points="0,412.8 1,407.3 2,401.8 3,396.6 4,391.6 5,387.1 6,383.0 7,379.9 8,377.6 9,375.3 10,373.3 11,372.1 12,371.5 13,371.3 14,371.4 15,371.6 16,371.6 17,371.6 18,371.3 19,371.0 20,370.8 21,371.1 22,371.5 23,372.0 24,372.2 25,371.9 26,371.1 27,369.9 28,368.7" stroke="#2e2f7a"/>
<polyline points="0,350.2 1,353.6 2,357.1 3,360.5 4,363.9 5,367.3 6,370.5 7,373.0 8,375.2 9,376.6 10,377.9 11,379.5 12,381.3 13,382.1 14,381.8 15,380.8 16,380.4 17,381.2 18,382.6 19,383.7 20,383.9 21,383.1 22,382.3 23,382.3 24,383.0 25,383.3 26,382.4 27,380.4 28,378.3" stroke="#c8359f"/>
<polyline points="0,399.6 1,395.4 2,391.4 3,387.5 4,383.9 5,380.5 6,377.4 7,374.7 8,373.1 9,372.7 10,373.9 11,376.4 12,379.4 13,382.2 14,384.3 15,385.1 16,384.9 17,384.5 18,383.9 19,383.4 20,383.3 21,383.5 22,383.5 23,383.1 24,382.0 25,380.4 26,378.6 27,377.2 28,376.3" stroke="#2e2f7a"/>
<polyline points="0,378.9 1,378.2 2,377.5 3,376.9 4,376.2 5,375.4 6,374.5 7,373.3 8,370.9 9,368.6 10,366.6 11,364.5 12,361.8 13,359.3 14,358.5 15,360.0 16,362.4 17,363.9 18,363.8 19,362.6 20,361.2 21,360.5 22,360.6 23,360.9 24,361.1 25,361.4 26,362.4 27,364.2 28,366.1" stroke="#2e2f7a"/>
<polyline points="0,405.5 1,401.3 2,397.1 3,393.1 4,389.2 5,385.7 6,382.5 7,379.9 8,377.4 9,374.5 10,371.8 11,369.6 12,368.4 13,367.9 14,367.1 15,365.4 16,363.2 17,361.6 18,361.1 19,361.1 20,360.8 21,359.8 22,358.6 23,358.3 24,359.7 25,362.3 26,364.7 27,366.0 28,366.1" stroke="#2e2f7a"/>
<polyline points="0,340.6 1,344.6 2,349.0 3,353.3 4,357.5 5,361.6 6,365.3 7,368.0 8,370.6 9,373.2 10,375.9 11,378.8 12,381.3 13,382.6 14,382.5 15,381.6 16,380.9 17,381.0 18,381.5 19,381.7 20,381.0 21,379.6 22,378.3 23,378.1 24,379.1 25,380.1 26,380.1 27,378.7 28,376.2" stroke="#c8359f"/>
<polyline points="0,344.9 1,349.6 2,354.3 3,358.9 4,363.4 5,367.8 6,371.8 7,375.0 8,377.2 9,378.7 10,380.2 11,382.3 12,384.7 13,387.1 14,389.4 15,391.1 16,391.9 17,391.7 18,390.3 19,387.9 20,385.2 21,383.1 22,382.0 23,382.1 24,382.6 25,382.6 26,381.7 27,379.9 28,377.8" stroke="#c8359f"/>
<polyline points="0,396.4 1,392.8 2,389.3 3,386.0 4,382.8 5,379.8 6,377.1 7,374.6 8,372.5 9,370.8 10,370.2 11,370.2 12,369.6 13,368.1 14,367.3 15,368.3 16,370.3 17,371.6 18,371.2 19,369.6 20,368.5 21,369.1 22,371.1 23,372.9 24,373.2 25,372.2 26,371.4 27,372.1 28,374.3" stroke="#2e2f7a"/>
<polyline points="0,332.0 1,341.2 2,349.7 3,357.7 4,365.4 5,372.8 6,379.5 7,384.8 8,387.0 9,388.7 10,390.6 11,392.8 12,394.5 13,395.2 14,395.2 15,395.2 16,395.4 17,395.8 18,396.2 19,396.2 20,395.9 21,395.7 22,396.0 23,396.7 24,397.3 25,397.6 26,397.4 27,397.1 28,397.2" stroke="#c8359f"/>
<polyline points="0,373.9 1,372.9 2,372.2 3,371.6 4,370.9 5,370.1 6,369.1 7,367.6 8,366.1 9,366.3 10,368.0 11,370.0 12,371.2 13,372.0 14,373.5 15,375.1 16,375.6 17,374.9 18,373.6 19,373.0 20,373.9 21,375.7 22,376.9 23,376.5 24,374.9 25,373.9 26,374.7 27,377.3 28,380.0" stroke="#2e2f7a"/>
<polyline points="0,354.3 1,359.9 2,364.9 3,369.7 4,374.4 5,379.0 6,383.5 7,387.3 8,389.0 9,389.6 10,389.3 11,388.1 12,386.0 13,383.8 14,382.4 15,381.7 16,381.2 17,380.8 18,381.6 19,383.7 20,386.1 21,387.1 22,386.3 23,384.1 24,382.2 25,381.9 26,382.9 27,384.3 28,384.7" stroke="#c8359f"/>
<polyline points="0,403.9 1,402.3 2,400.1 3,397.8 4,395.6 5,393.6 6,391.9 7,390.6 8,387.6 9,383.1 10,377.5 11,371.6 12,366.4 13,362.7 14,360.6 15,359.5 16,359.0 17,358.8 18,359.8 19,361.5 20,363.1 21,363.4 22,362.2 23,360.7 24,359.9 25,360.1 26,360.5 27,359.9 28,358.0" stroke="#2e2f7a"/>
<polyline points="0,379.9 1,379.7 2,379.4 3,379.0 4,378.6 5,378.1 6,377.5 7,376.5 8,374.3 9,372.2 10,370.0 11,368.1 12,367.1 13,367.5 14,368.5 15,368.8 16,368.0 17,367.2 18,367.3 19,368.5 20,370.1 21,370.7 22,370.2 23,369.2 24,368.8 25,369.4 26,370.3 27,370.2 28,368.9" stroke="#2e2f7a"/>
<polyline points="0,351.9 1,358.3 2,364.0 3,369.5 4,374.7 5,379.9 6,384.8 7,389.0 8,390.7 9,391.4 10,391.6 11,391.3 12,389.7 13,386.9 14,384.1 15,383.1 16,384.0 17,386.0 18,388.5 19,390.6 20,391.6 21,390.9 22,388.9 23,386.1 24,383.6 25,381.9 26,381.3 27,381.5 28,382.2" stroke="#c8359f"/>
<polyline points="0,399.3 1,396.5 2,393.5 3,390.6 4,387.9 5,385.3 6,382.9 7,381.0 8,378.6 9,376.4 10,374.5 11,372.5 12,370.3 13,368.4 14,367.5 15,367.4 16,367.4 17,366.9 18,366.3 19,366.2 20,366.9 21,367.9 22,368.7 23,369.0 24,369.2 25,369.8 26,371.2 27,373.0 28,374.4" stroke="#2e2f7a"/>
<polyline points="0,396.9 1,395.0 2,392.8 3,390.6 4,388.5 5,386.5 6,384.7 7,383.2 8,380.5 9,377.3 10,374.0 11,371.1 12,369.2 13,368.6 14,368.6 15,368.4 16,367.7 17,366.8 18,366.3 19,366.3 20,366.3 21,365.7 22,364.8 23,364.1 24,364.3 25,365.6 26,367.1 27,368.2 28,368.5" stroke="#2e2f7a"/>
<polyline points="0,405.0 1,400.5 2,396.1 3,391.9 4,387.9 5,384.2 6,380.8 7,378.1 8,375.8 9,373.4 10,370.9 11,368.5 12,366.9 13,367.1 14,368.6 15,369.7 16,369.5 17,368.6 18,368.2 19,368.9 20,369.9 21,370.0 22,369.1 23,367.7 24,367.3 25,368.6 26,371.1 27,373.3 28,374.2" stroke="#2e2f7a"/>
<polyline points="0,384.2 1,382.6 2,381.1 3,379.6 4,378.2 5,376.7 6,375.3 7,373.7 8,371.4 9,369.1 10,367.4 11,366.8 12,367.7 13,369.7 14,371.7 15,373.1 16,373.9 17,374.8 18,376.0 19,376.9 20,376.7 21,375.4 22,373.1 23,370.7 24,368.7 25,367.3 26,366.0 27,365.0 28,364.4" stroke="#2e2f7a"/>
<polyline points="0,395.7 1,391.5 2,387.6 3,383.9 4,380.4 5,377.1 6,374.0 7,371.2 8,369.1 9,367.4 10,366.5 11,366.2 12,365.7 13,365.3 14,365.4 15,366.0 16,366.6 17,366.6 18,366.4 19,366.6 20,367.6 21,369.1 22,370.3 23,370.3 24,369.1 25,367.6 26,366.7 27,367.0 28,368.0" stroke="#2e2f7a"/>
<polyline points="0,346.1 1,350.5 2,354.9 3,359.2 4,363.3 5,367.5 6,371.3 7,374.2 8,376.1 9,377.0 10,378.1 11,379.2 12,379.4 13,378.7 14,378.7 15,380.6 16,382.9 17,383.5 18,381.4 19,377.3 20,373.3 21,371.1 22,371.1 23,372.1 24,372.8 25,373.0 26,373.3 27,374.6 28,376.6" stroke="#c8359f"/>
<polyline points="0,334.9 1,341.7 2,348.3 3,354.6 4,360.7 5,366.5 6,371.8 7,375.9 8,378.7 9,382.2 10,386.3 11,390.9 12,395.4 13,399.9 14,404.4 15,407.5 16,408.5 17,407.9 18,406.0 19,403.9 20,402.4 21,401.7 22,401.4 23,401.1 24,400.9 25,400.7 26,400.6 27,400.4 28,399.6" stroke="#c8359f"/>
<polyline points="0,354.6 1,358.1 2,361.4 3,364.8 4,368.0 5,371.4 6,374.6 7,377.2 8,379.2 9,380.3 10,380.9 11,380.8 12,379.6 13,377.3 14,375.3 15,375.0 16,376.3 17,378.0 18,379.3 19,379.8 20,379.6 21,379.7 22,380.7 23,382.4 24,384.3 25,385.6 26,386.3 27,386.6 28,386.8" stroke="#c8359f"/>
<polyline points="0,361.1 1,362.3 2,363.7 3,365.2 4,366.8 5,368.6 6,370.4 7,371.9 8,374.7 9,378.1 10,382.7 11,388.3 12,393.4 13,396.5 14,397.5 15,396.9 16,396.1 17,396.2 18,396.8 19,397.3 20,397.1 21,396.3 22,395.0 23,393.6 24,392.5 25,391.5 26,390.7 27,390.3 28,390.7" stroke="#c8359f"/>
<polyline points="0,396.1 1,394.4 2,392.3 3,390.3 4,388.3 5,386.5 6,384.8 7,383.4 8,381.4 9,380.1 10,379.6 11,379.4 12,379.0 13,378.4 14,377.6 15,376.9 16,376.5 17,376.9 18,378.3 19,380.1 20,381.8 21,382.4 22,381.7 23,380.2 24,378.8 25,378.3 26,378.8 27,379.9 28,380.9" stroke="#2e2f7a"/>
<polyline points="0,398.6 1,395.1 2,391.6 3,388.2 4,385.0 5,382.0 6,379.2 7,376.9 8,374.8 9,373.3 10,372.6 11,372.3 12,371.9 13,371.2 14,370.9 15,371.4 16,372.4 17,373.5 18,374.0 19,373.7 20,372.9 21,372.0 22,371.5 23,371.3 24,371.5 25,372.2 26,373.4 27,375.2 28,377.2" stroke="#2e2f7a"/>
<polyline points="0,357.5 1,363.0 2,367.8 3,372.3 4,376.7 5,381.2 6,385.5 7,389.3 8,390.7 9,390.6 10,389.7 11,388.3 12,385.7 13,382.2 14,379.1 15,377.5 16,377.7 17,378.7 18,380.2 19,381.9 20,383.0 21,383.0 22,381.7 23,379.4 24,377.1 25,375.5 26,374.7 27,374.6 28,374.8" stroke="#c8359f"/>
<polyline points="0,392.8 1,389.9 2,387.0 3,384.3 4,381.7 5,379.2 6,376.9 7,374.7 8,372.3 9,369.7 10,367.3 11,365.0 12,362.1 13,358.7 14,356.0 15,355.9 16,358.4 17,361.7 18,363.8 19,364.1 20,363.0 21,362.1 22,362.3 23,363.4 24,364.4 25,364.6 26,364.2 27,363.9 28,364.4" stroke="#2e2f7a"/>
<polyline points="0,401.6 1,398.3 2,394.9 3,391.6 4,388.5 5,385.6 6,382.9 7,380.8 8,378.3 9,375.5 10,373.2 11,371.4 12,369.7 13,367.6 14,365.7 15,365.0 16,365.5 17,366.4 18,366.7 19,366.4 20,365.9 21,366.0 22,366.8 23,368.0 24,368.6 25,368.4 26,367.7 27,367.3 28,367.6" stroke="#2e2f7a"/>
<polyline points="0,357.0 1,358.6 2,360.5 3,362.5 4,364.5 5,366.7 6,368.8 7,370.5 8,373.4 9,377.1 10,381.8 11,387.2 12,392.3 13,395.9 14,398.0 15,398.9 16,399.2 17,399.8 18,400.2 19,400.2 20,399.5 21,398.5 22,397.7 23,397.4 24,397.3 25,397.3 26,397.2 27,397.3 28,397.7" stroke="#c8359f"/>
<polyline points="0,420.1 1,413.1 2,406.2 3,399.7 4,393.5 5,387.9 6,382.9 7,379.1 8,376.6 9,374.2 10,372.6 11,372.1 12,372.0 13,371.5 14,370.3 15,368.9 16,367.7 17,366.9 18,366.2 19,365.5 20,364.8 21,364.1 22,363.7 23,363.5 24,363.6 25,363.8 26,364.2 27,365.2 28,366.7" stroke="#2e2f7a"/>
<polyline points="0,408.4 1,403.7 2,398.9 3,394.3 4,390.0 5,386.0 6,382.4 7,379.6 8,376.5 9,372.1 10,367.5 11,362.7 12,357.3 13,351.9 14,348.3 15,347.3 16,347.6 17,347.5 18,347.1 19,347.0 20,348.2 21,350.5 22,352.6 23,353.4 24,352.5 25,350.5 26,348.8 27,348.0 28,347.8" stroke="#2e2f7a"/>
<polyline points="0,394.1 1,390.1 2,386.3 3,382.8 4,379.4 5,376.2 6,373.2 7,370.4 8,368.9 9,368.7 10,370.1 11,372.1 12,373.8 13,375.2 14,377.1 15,379.1 16,380.3 17,380.1 18,378.8 19,377.4 20,377.1 21,377.9 22,378.8 23,378.8 24,377.6 25,376.1 26,375.6 27,376.3 28,377.5" stroke="#2e2f7a"/>
<polyline points="0,383.5 1,382.5 2,381.4 3,380.3 4,379.3 5,378.2 6,377.0 7,375.7 8,373.8 9,372.6 10,371.7 11,371.4 12,372.2 13,373.8 14,375.0 15,374.6 16,372.9 17,371.8 18,372.2 19,373.9 20,375.5 21,376.0 22,375.4 23,374.6 24,374.7 25,375.9 26,377.0 27,377.0 28,375.7" stroke="#2e2f7a"/>
<polyline points="0,341.0 1,347.6 2,353.9 3,359.9 4,365.7 5,371.4 6,376.5 7,380.6 8,382.8 9,384.8 10,387.3 11,389.5 12,389.9 13,388.4 14,386.5 15,385.6 16,385.8 17,386.1 18,385.9 19,385.7 20,385.7 21,386.2 22,386.6 23,386.5 24,385.8 25,384.9 26,384.8 27,385.6 28,387.0" stroke="#c8359f"/>
<polyline points="0,343.8 1,349.5 2,354.9 3,360.2 4,365.3 5,370.3 6,374.9 7,378.6 8,380.9 9,382.6 10,384.1 11,385.9 12,388.3 13,390.9 14,392.9 15,393.6 16,393.2 17,392.4 18,391.8 19,391.3 20,390.7 21,390.0 22,390.0 23,391.1 24,393.1 25,395.2 26,396.4 27,396.0 28,394.6" stroke="#c8359f"/>
<polyline points="0,400.4 1,395.9 2,391.7 3,387.7 4,383.9 5,380.3 6,377.0 7,374.2 8,371.7 9,369.0 10,366.3 11,364.3 12,362.8 13,361.3 14,359.7 15,358.3 16,357.7 17,357.6 18,357.9 19,358.2 20,358.2 21,358.2 22,358.3 23,358.9 24,359.7 25,360.0 26,359.2 27,357.5 28,355.5" stroke="#2e2f7a"/>
<polyline points="0,351.5 1,355.4 2,359.3 3,363.0 4,366.7 5,370.4 6,373.9 7,376.8 8,378.8 9,380.2 10,381.5 11,382.8 12,383.3 13,382.9 14,382.7 15,383.6 16,384.9 17,386.1 18,386.6 19,386.7 20,386.7 21,387.1 22,388.1 23,388.9 24,389.1 25,388.8 26,388.4 27,388.5 28,389.3" stroke="#c8359f"/>
<polyline points="0,395.9 1,392.1 2,388.6 3,385.2 4,382.0 5,379.0 6,376.2 7,373.6 8,371.4 9,369.3 10,367.8 11,367.1 12,367.1 13,367.3 14,367.6 15,367.9 16,368.2 17,368.7 18,369.5 19,370.3 20,371.0 21,371.2 22,370.3 23,368.7 24,366.4 25,363.8 26,361.1 27,358.5 28,356.2" stroke="#2e2f7a"/>
<polyline points="0,349.3 1,352.2 2,355.4 3,358.6 4,361.8 5,365.0 6,367.9 7,370.2 8,372.8 9,375.3 10,378.1 11,381.9 12,385.9 13,388.4 14,388.4 15,386.8 16,385.9 17,386.8 18,388.4 19,389.2 20,388.2 21,386.3 22,385.4 23,386.7 24,389.3 25,391.3 26,391.3 27,389.4 28,387.4" stroke="#c8359f"/>
<polyline points="0,383.0 1,381.5 2,380.1 3,378.7 4,377.3 5,375.9 6,374.5 7,372.9 8,371.1 9,370.4 10,370.5 11,370.4 12,369.3 13,368.4 14,369.6 15,373.0 16,376.2 17,377.5 18,376.3 19,373.9 20,372.2 21,371.9 22,372.1 23,371.7 24,370.6 25,369.6 26,370.1 27,372.1 28,374.0" stroke="#2e2f7a"/>
<polyline points="0,354.9 1,359.0 2,362.9 3,366.6 4,370.3 5,374.0 6,377.5 7,380.5 8,383.0 9,385.9 10,389.7 11,393.4 12,395.7 13,396.4 14,397.0 15,398.2 16,399.5 17,400.0 18,399.5 19,398.5 20,397.9 21,397.9 22,397.9 23,397.1 24,395.5 25,393.9 26,393.2 27,393.9 28,395.3" stroke="#c8359f"/>
<polyline points="0,359.9 1,362.7 2,365.4 3,368.1 4,370.7 5,373.6 6,376.3 7,378.7 8,380.8 9,382.2 10,383.7 11,385.5 12,386.9 13,387.7 14,388.2 15,388.4 16,388.4 17,388.3 18,388.0 19,387.7 20,387.3 21,386.9 22,386.5 23,386.0 24,385.5 25,384.8 26,384.1 27,383.3 28,382.5" stroke="#c8359f"/>
<polyline points="0,396.1 1,392.5 2,389.1 3,385.8 4,382.7 5,379.8 6,377.0 7,374.6 8,372.4 9,370.5 10,369.6 11,369.9 12,370.3 13,370.2 14,369.8 15,370.4 16,371.9 17,373.4 18,373.7 19,372.3 20,370.0 21,368.4 22,367.8 23,368.0 24,367.9 25,366.7 26,365.0 27,363.8 28,363.8" stroke="#2e2f7a"/>
<polyline points="0,388.7 1,388.0 2,387.0 3,385.9 4,384.8 5,383.8 6,382.8 7,381.7 8,379.4 9,377.3 10,375.6 11,374.2 12,372.5 13,370.9 14,369.7 15,369.4 16,369.7 17,370.0 18,370.4 19,370.9 20,371.6 21,372.2 22,372.7 23,372.8 24,372.8 25,373.1 26,373.9 27,375.3 28,376.9" stroke="#2e2f7a"/>
<polyline points="0,409.3 1,403.1 2,397.3 3,391.7 4,386.5 5,381.6 6,377.2 7,373.6 8,371.2 9,368.7 10,366.6 11,365.4 12,365.2 13,365.7 14,366.7 15,367.9 16,369.0 17,370.0 18,370.9 19,371.8 20,372.7 21,373.6 22,374.1 23,373.7 24,372.2 25,369.8 26,367.1 27,364.8 28,363.5" stroke="#2e2f7a"/>
<polyline points="0,377.0 1,377.9 2,378.6 3,379.2 4,379.6 5,379.9 6,379.9 7,379.6 8,377.2 9,374.6 10,371.9 11,369.3 12,367.4 13,366.7 14,367.7 15,369.7 16,371.6 17,372.8 18,373.4 19,373.5 20,373.4 21,373.2 22,372.9 23,372.5 24,372.1 25,371.7 26,371.4 27,370.9 28,369.9" stroke="#2e2f7a"/>
<polyline points="0,346.9 1,352.3 2,357.4 3,362.4 4,367.2 5,371.9 6,376.3 7,379.8 8,381.9 9,383.3 10,384.3 11,385.4 12,386.3 13,387.1 14,387.9 15,388.5 16,389.1 17,389.8 18,390.8 19,391.8 20,392.1 21,391.3 22,389.8 23,388.2 24,387.0 25,386.5 26,386.1 27,385.5 28,384.6" stroke="#c8359f"/>
<polyline points="0,404.0 1,398.4 2,393.2 3,388.3 4,383.7 5,379.3 6,375.4 7,372.0 8,369.5 9,366.9 10,364.7 11,364.0 12,364.5 13,364.8 14,363.7 15,361.3 16,359.2 17,358.1 18,357.6 19,356.5 20,354.4 21,352.1 22,350.7 23,351.4 24,353.6 25,355.9 26,356.9 27,356.5 28,355.8" stroke="#2e2f7a"/>
<polyline points="0,390.1 1,388.0 2,385.9 3,383.8 4,381.8 5,379.9 6,378.1 7,376.3 8,373.9 9,371.5 10,369.9 11,369.0 12,368.3 13,367.8 14,368.0 15,368.7 16,368.7 17,367.4 18,365.2 19,363.5 20,363.6 21,365.6 22,368.0 23,369.3 24,368.6 25,366.9 26,365.4 27,365.1 28,365.6" stroke="#2e2f7a"/>
<polyline points="0,392.0 1,390.7 2,389.1 3,387.5 4,385.9 5,384.4 6,383.0 7,381.7 8,378.4 9,373.7 10,368.5 11,363.8 12,360.4 13,358.3 14,357.4 15,357.1 16,356.7 17,355.9 18,354.8 19,353.6 20,352.5 21,351.6 22,351.0 23,351.0 24,351.6 25,352.4 26,353.0 27,353.1 28,353.0" stroke="#2e2f7a"/>
<polyline points="0,372.1 1,374.5 2,376.5 3,378.2 4,379.8 5,381.1 6,382.1 7,382.4 8,380.1 9,377.6 10,375.3 11,373.5 12,372.4 13,371.8 14,371.7 15,371.8 16,372.0 17,372.2 18,372.3 19,372.4 20,372.4 21,372.3 22,372.0 23,371.7 24,371.5 25,371.2 26,370.8 27,370.1 28,369.2" stroke="#2e2f7a"/>
<polyline points="0,347.2 1,350.7 2,354.4 3,358.0 4,361.6 5,365.2 6,368.4 7,371.0 8,373.4 9,375.5 10,378.0 11,380.9 12,383.8 13,386.5 14,389.4 15,392.0 16,393.5 17,394.0 18,393.6 19,392.7 20,391.9 21,391.3 22,391.1 23,390.7 24,390.1 25,389.4 26,388.9 27,388.8 28,389.1" stroke="#c8359f"/>
<polyline points="0,391.5 1,390.0 2,388.4 3,386.7 4,385.1 5,383.5 6,382.1 7,380.7 8,378.2 9,375.6 10,373.2 11,371.2 12,369.7 13,368.4 14,367.0 15,365.6 16,364.9 17,365.2 18,366.5 19,367.8 20,368.3 21,367.8 22,366.7 23,366.1 24,366.3 25,367.2 26,368.3 27,369.1 28,369.6" stroke="#2e2f7a"/>
<polyline points="0,397.0 1,392.4 2,388.2 3,384.2 4,380.4 5,376.8 6,373.5 7,370.5 8,368.6 9,367.5 10,367.2 11,367.7 12,368.7 13,370.1 14,371.5 15,372.2 16,372.0 17,371.3 18,370.6 19,370.1 20,370.2 21,370.9 22,371.9 23,372.9 24,373.8 25,374.4 26,374.8 27,374.9 28,374.8" stroke="#2e2f7a"/>
<polyline points="0,376.8 1,377.3 2,377.6 3,377.9 4,378.1 5,378.1 6,377.9 7,377.3 8,375.1 9,373.1 10,371.5 11,370.1 12,368.7 13,367.5 14,367.3 15,368.1 16,369.2 17,369.8 18,369.9 19,369.9 20,370.4 21,371.5 22,372.5 23,372.8 24,372.3 25,371.4 26,370.8 27,370.9 28,371.3" stroke="#2e2f7a"/>
<polyline points="0,396.6 1,394.1 2,391.4 3,388.8 4,386.3 5,383.9 6,381.8 7,379.9 8,377.3 9,374.2 10,371.3 11,369.0 12,367.3 13,365.9 14,364.8 15,364.3 16,364.3 17,364.5 18,364.8 19,364.8 20,364.4 21,363.9 22,363.8 23,364.3 24,365.1 25,366.0 26,366.9 27,367.8 28,368.9" stroke="#2e2f7a"/>
<polyline points="0,400.9 1,395.1 2,389.8 3,384.8 4,380.1 5,375.7 6,371.6 7,368.0 8,366.0 9,364.4 10,363.0 11,362.1 12,361.9 13,362.5 14,363.7 15,364.6 16,364.7 17,364.4 18,363.8 19,363.4 20,363.4 21,363.7 22,364.3 23,365.2 24,366.3 25,367.4 26,367.9 27,367.5 28,366.2" stroke="#2e2f7a"/>
<polyline points="0,399.9 1,394.9 2,390.2 3,385.8 4,381.6 5,377.6 6,374.0 7,370.8 8,368.8 9,367.5 10,367.0 11,366.8 12,366.5 13,366.1 14,366.5 15,367.7 16,368.5 17,368.2 18,366.8 19,365.2 20,364.9 21,366.1 22,368.4 23,370.5 24,371.6 25,372.0 26,372.6 27,373.9 28,375.4" stroke="#2e2f7a"/>
<polyline points="0,355.6 1,357.4 2,359.5 3,361.7 4,363.9 5,366.2 6,368.4 7,370.2 8,372.9 9,375.8 10,379.4 11,383.4 12,386.8 13,388.9 14,389.9 15,390.6 16,391.5 17,392.6 18,393.1 19,392.9 20,392.2 21,391.6 22,391.6 23,391.8 24,391.9 25,391.1 26,389.7 27,388.3 28,387.2" stroke="#c8359f"/>
<polyline points="0,396.4 1,391.9 2,387.8 3,383.9 4,380.2 5,376.7 6,373.4 7,370.5 8,369.0 9,368.7 10,369.7 11,372.0 12,374.9 13,377.6 14,379.3 15,379.5 16,378.4 17,377.3 18,376.5 19,376.2 20,376.4 21,377.1 22,377.7 23,378.2 24,378.3 25,378.0 26,377.4 27,376.5 28,375.4" stroke="#2e2f7a"/>
<polyline points="0,383.9 1,382.6 2,381.4 3,380.1 4,378.9 5,377.7 6,376.4 7,375.0 8,373.0 9,371.8 10,371.7 11,372.8 12,374.6 13,376.4 14,377.4 15,377.3 16,376.4 17,375.8 18,375.6 19,375.9 20,376.6 21,377.3 22,377.9 23,378.2 24,378.0 25,377.7 26,377.4 27,377.4 28,378.0" stroke="#2e2f7a"/>
<polyline points="0,394.1 1,391.5 2,388.9 3,386.3 4,383.8 5,381.5 6,379.3 7,377.4 8,375.3 9,373.5 10,372.1 11,371.3 12,371.5 13,372.5 14,373.5 15,373.5 16,372.6 17,371.7 18,371.6 19,372.0 20,372.6 21,372.5 22,371.7 23,370.8 24,370.5 25,370.8 26,371.1 27,370.6 28,369.3" stroke="#2e2f7a"/>
<polyline points="0,386.5 1,384.3 2,382.3 3,380.4 4,378.5 5,376.6 6,374.8 7,372.9 8,371.4 9,371.3 10,372.2 11,373.5 12,374.6 13,375.7 14,377.8 15,380.6 16,383.2 17,385.2 18,385.9 19,385.5 20,384.7 21,383.8 22,382.7 23,381.5 24,380.2 25,379.5 26,379.8 27,381.0 28,382.4" stroke="#2e2f7a"/>
<polyline points="0,351.9 1,353.8 2,356.2 3,358.6 4,361.0 5,363.6 6,365.9 7,367.7 8,370.4 9,373.6 10,377.3 11,380.7 12,382.9 13,384.3 14,386.5 15,389.6 16,392.2 17,392.9 18,391.2 19,388.1 20,385.2 21,383.5 22,383.3 23,383.9 24,384.8 25,386.2 26,388.2 27,390.7 28,392.7" stroke="#c8359f"/>
<polyline points="0,365.0 1,367.1 2,369.1 3,371.0 4,373.1 5,375.3 6,377.6 7,379.7 8,381.6 9,382.7 10,384.3 11,386.1 12,386.4 13,385.1 14,384.1 15,384.6 16,385.7 17,385.7 18,384.0 19,381.7 20,380.2 21,380.4 22,381.3 23,381.4 24,379.7 25,376.9 26,374.7 27,374.3 28,375.3" stroke="#c8359f"/>
<polyline points="0,349.4 1,352.9 2,356.5 3,360.0 4,363.5 5,367.0 6,370.3 7,372.8 8,375.6 9,378.9 10,383.0 11,387.9 12,392.7 13,396.4 14,398.0 15,397.4 16,396.1 17,396.0 18,397.3 19,399.1 20,400.4 21,400.3 22,399.3 23,398.0 24,397.3 25,396.9 26,396.3 27,395.3 28,394.4" stroke="#c8359f"/>
<polyline points="0,384.7 1,383.1 2,381.5 3,380.0 4,378.6 5,377.1 6,375.6 7,374.0 8,370.8 9,366.3 10,361.6 11,357.0 12,352.6 13,348.9 14,346.5 15,345.6 16,345.8 17,345.9 18,346.0 19,346.1 20,346.3 21,346.3 22,345.9 23,345.0 24,343.8 25,343.0 26,342.6 27,342.9 28,343.6" stroke="#2e2f7a"/>
<polyline points="0,352.3 1,354.9 2,357.8 3,360.6 4,363.5 5,366.4 6,369.2 7,371.3 8,373.9 9,376.6 10,380.0 11,384.1 12,388.1 13,390.7 14,392.0 15,392.2 16,392.3 17,392.8 18,393.4 19,393.8 20,393.8 21,393.4 22,393.0 23,392.6 24,391.9 25,390.8 26,389.4 27,388.1 28,387.4" stroke="#c8359f"/>
<polyline points="0,362.2 1,363.7 2,365.4 3,367.1 4,368.9 5,370.8 6,372.8 7,374.6 8,376.7 9,377.9 10,378.7 11,379.1 12,379.0 13,378.6 14,378.9 15,380.3 16,382.0 17,383.0 18,382.9 19,381.6 20,379.8 21,378.4 22,377.9 23,378.4 24,379.4 25,380.1 26,380.2 27,379.5 28,377.9" stroke="#c8359f"/>
<polyline points="0,418.3 1,411.4 2,404.8 3,398.4 4,392.4 5,386.9 6,382.0 7,378.2 8,375.7 9,372.8 10,370.2 11,367.3 12,363.7 13,359.7 14,356.9 15,356.6 16,358.4 17,360.6 18,362.7 19,364.3 20,365.7 21,366.8 22,367.6 23,367.7 24,366.9 25,366.1 26,366.1 27,367.4 28,369.7" stroke="#2e2f7a"/>
<polyline points="0,351.7 1,355.3 2,359.0 3,362.6 4,366.1 5,369.7 6,373.0 7,375.7 8,378.4 9,381.5 10,385.3 11,389.6 12,393.4 13,396.2 14,398.2 15,399.2 16,399.5 17,399.5 18,399.4 19,399.2 20,399.1 21,399.0 22,398.6 23,397.9 24,396.9 25,395.7 26,394.6 27,393.7 28,392.9" stroke="#c8359f"/>
<polyline points="0,410.8 1,403.9 2,397.5 3,391.4 4,385.7 5,380.4 6,375.6 7,371.7 8,369.6 9,367.5 10,365.8 11,364.7 12,364.6 13,364.8 14,364.2 15,362.3 16,360.1 17,358.7 18,358.7 19,359.8 20,361.1 21,362.2 22,363.2 23,364.7 24,366.9 25,369.1 26,370.6 27,370.7 28,369.9" stroke="#2e2f7a"/>
<polyline points="0,414.8 1,407.5 2,400.5 3,394.0 4,387.8 5,382.1 6,377.0 7,372.9 8,371.0 9,370.0 10,369.9 11,370.6 12,371.6 13,372.3 14,372.9 15,373.7 16,374.9 17,376.5 18,377.9 19,378.7 20,378.9 21,378.7 22,378.0 23,376.9 24,375.4 25,373.7 26,372.1 27,371.0 28,370.6" stroke="#2e2f7a"/>
<polyline points="0,360.9 1,363.1 2,365.3 3,367.5 4,369.7 5,372.1 6,374.5 7,376.6 8,378.9 9,381.1 10,383.6 11,386.1 12,387.5 13,387.3 14,386.8 15,387.2 16,388.4 17,389.5 18,389.5 19,388.8 20,388.2 21,388.4 22,389.5 23,390.7 24,391.1 25,390.2 26,388.8 27,387.6 28,386.9" stroke="#c8359f"/>
<polyline points="0,414.0 1,408.4 2,402.7 3,397.3 4,392.2 5,387.5 6,383.4 7,380.2 8,377.5 9,373.8 10,369.4 11,365.3 12,362.5 13,361.1 14,360.4 15,360.1 16,360.0 17,360.4 18,361.7 19,363.3 20,364.7 21,365.7 22,366.4 23,367.2 24,368.0 25,368.3 26,367.2 27,364.5 28,361.1" stroke="#2e2f7a"/>
<polyline points="0,393.4 1,393.5 2,393.0 3,392.3 4,391.6 5,391.0 6,390.4 7,389.9 8,387.1 9,383.7 10,380.6 11,378.2 12,376.0 13,373.8 14,371.9 15,371.1 16,371.5 17,372.7 18,374.4 19,375.9 20,376.7 21,376.7 22,375.8 23,374.1 24,372.0 25,369.9 26,368.4 27,367.9 28,368.6" stroke="#2e2f7a"/>
<polyline points="0,352.2 1,355.0 2,358.0 3,361.0 4,364.0 5,367.0 6,369.9 7,372.1 8,374.3 9,376.2 10,378.6 11,381.7 12,384.8 13,387.3 14,388.9 15,389.1 16,388.0 17,386.6 18,385.6 19,385.3 20,385.6 21,386.0 22,386.0 23,385.4 24,384.4 25,383.6 26,383.3 27,383.5 28,384.1" stroke="#c8359f"/>
<polyline points="0,382.3 1,381.0 2,379.7 3,378.5 4,377.3 5,376.1 6,374.8 7,373.3 8,371.0 9,368.7 10,366.8 11,365.5 12,365.0 13,365.5 14,366.3 15,366.6 16,366.2 17,365.4 18,364.5 19,363.8 20,363.3 21,363.1 22,363.3 23,363.9 24,365.0 25,366.2 26,367.2 27,367.6 28,367.4" stroke="#2e2f7a"/>
<polyline points="0,365.2 1,365.2 2,365.7 3,366.3 4,367.1 5,368.1 6,369.2 7,370.2 8,372.8 9,375.6 10,378.8 11,382.3 12,385.2 13,387.4 14,389.0 15,390.3 16,391.0 17,391.4 18,391.5 19,391.4 20,391.4 21,391.4 22,391.1 23,390.6 24,389.7 25,388.6 26,387.5 27,386.6 28,385.7" stroke="#c8359f"/>
<polyline points="0,401.2 1,396.8 2,392.6 3,388.6 4,384.8 5,381.2 6,378.0 7,375.2 8,373.3 9,371.9 10,371.1 11,370.8 12,370.9 13,371.1 14,371.6 15,372.1 16,372.3 17,372.6 18,372.8 19,373.0 20,373.3 21,373.7 22,373.9 23,374.1 24,374.1 25,373.9 26,373.4 27,372.6 28,371.4" stroke="#2e2f7a"/>
<polyline points="0,401.7 1,397.3 2,393.1 3,389.1 4,385.3 5,381.7 6,378.5 7,375.7 8,373.3 9,370.9 10,368.7 11,366.5 12,363.6 13,359.7 14,355.9 15,353.3 16,352.6 17,353.3 18,355.3 19,357.8 20,360.1 21,361.8 22,362.7 23,362.9 24,362.8 25,362.7 26,363.1 27,363.8 28,364.8" stroke="#2e2f7a"/>
<polyline points="0,359.1 1,359.0 2,359.6 3,360.4 4,361.3 5,362.4 6,363.5 7,364.4 8,366.8 9,369.1 10,371.4 11,374.1 12,376.4 13,376.9 14,374.8 15,370.8 16,367.7 17,367.3 18,370.2 19,374.8 20,378.8 21,381.2 22,382.4 23,383.4 24,384.7 25,385.9 26,386.2 27,385.3 28,384.4" stroke="#c8359f"/>
<polyline points="0,400.0 1,396.5 2,392.9 3,389.5 4,386.3 5,383.3 6,380.5 7,378.2 8,376.1 9,374.3 10,373.5 11,373.7 12,374.1 13,373.7 14,372.7 15,371.7 16,371.4 17,372.0 18,373.0 19,373.7 20,374.2 21,374.6 22,374.9 23,375.1 24,375.0 25,374.3 26,373.5 27,373.2 28,373.9" stroke="#2e2f7a"/>
<polyline points="0,389.6 1,386.8 2,384.2 3,381.7 4,379.3 5,376.9 6,374.7 7,372.5 8,370.3 9,368.3 10,366.9 11,366.2 12,365.9 13,365.9 14,366.3 15,366.9 16,367.3 17,367.4 18,366.9 19,366.1 20,365.2 21,364.6 22,364.1 23,363.5 24,362.8 25,362.3 26,361.9 27,361.8 28,361.9" stroke="#2e2f7a"/>
<polyline points="0,361.9 1,362.6 2,363.6 3,364.8 4,366.0 5,367.5 6,369.0 7,370.3 8,372.2 9,372.9 10,373.5 11,375.0 12,377.1 13,378.5 14,378.8 15,378.1 16,377.4 17,377.5 18,378.2 19,378.8 20,378.9 21,378.5 22,378.1 23,378.1 24,378.2 25,377.5 26,375.8 27,373.5 28,371.8" stroke="#c8359f"/>
<polyline points="0,378.5 1,378.8 2,378.9 3,378.9 4,378.8 5,378.6 6,378.3 7,377.6 8,375.4 9,373.5 10,371.8 11,370.3 12,369.0 13,368.8 14,370.4 15,372.6 16,373.9 17,373.8 18,373.1 19,372.7 20,373.4 21,374.7 22,375.7 23,375.7 24,375.0 25,374.5 26,374.7 27,375.4 28,375.7" stroke="#2e2f7a"/>
<polyline points="0,397.9 1,395.4 2,392.8 3,390.2 4,387.7 5,385.3 6,383.2 7,381.4 8,379.2 9,377.4 10,375.9 11,374.3 12,372.4 13,370.8 14,370.0 15,370.2 16,370.8 17,371.7 18,372.8 19,373.8 20,374.5 21,374.2 22,373.0 23,371.3 24,370.2 25,370.4 26,371.9 27,373.9 28,375.5" stroke="#2e2f7a"/>
<polyline points="0,347.6 1,350.1 2,353.0 3,356.0 4,358.9 5,361.8 6,364.5 7,366.5 8,369.2 9,372.3 10,375.9 11,379.5 12,382.5 13,384.8 14,386.9 15,388.9 16,390.2 17,391.2 18,391.5 19,391.3 20,390.6 21,389.4 22,387.8 23,386.3 24,385.2 25,384.8 26,385.1 27,385.6 28,385.7" stroke="#c8359f"/>
<polyline points="0,395.4 1,392.4 2,389.3 3,386.4 4,383.7 5,381.1 6,378.6 7,376.5 8,374.5 9,373.1 10,372.5 11,372.4 12,372.8 13,373.7 14,374.5 15,374.6 16,373.5 17,371.7 18,369.8 19,368.7 20,368.5 21,369.0 22,369.9 23,371.0 24,372.3 25,374.1 26,376.1 27,377.8 28,378.8" stroke="#2e2f7a"/>
<polyline points="0,384.0 1,383.5 2,382.8 3,382.1 4,381.4 5,380.6 6,379.8 7,378.8 8,376.4 9,374.0 10,372.0 11,370.4 12,369.1 13,368.1 14,367.4 15,367.4 16,368.0 17,368.8 18,369.6 19,370.3 20,370.5 21,370.3 22,369.4 23,368.1 24,366.7 25,365.6 26,364.8 27,364.3 28,364.1" stroke="#2e2f7a"/>
<polyline points="0,388.8 1,386.1 2,383.5 3,381.1 4,378.7 5,376.4 6,374.2 7,372.1 8,369.8 9,367.7 10,366.5 11,366.4 12,366.9 13,366.6 14,365.3 15,363.9 16,363.4 17,364.0 18,365.0 19,365.6 20,365.6 21,365.5 22,366.0 23,367.0 24,367.8 25,367.8 26,366.9 27,366.1 28,366.2" stroke="#2e2f7a"/>
<polyline points="0,361.0 1,362.6 2,364.4 3,366.2 4,368.0 5,370.1 6,372.1 7,373.9 8,376.1 9,377.6 10,378.6 11,379.6 12,380.3 13,380.7 14,380.7 15,380.2 16,379.3 17,378.6 18,378.8 19,379.9 20,381.6 21,383.3 22,384.6 23,385.5 24,386.1 25,386.2 26,385.6 27,384.1 28,381.7" stroke="#c8359f"/>
<polyline points="0,361.0 1,361.6 2,362.6 3,363.8 4,365.1 5,366.6 6,368.1 7,369.3 8,371.6 9,373.4 10,375.3 11,377.2 12,378.7 13,379.8 14,380.6 15,381.1 16,381.3 17,381.5 18,381.9 19,382.7 20,383.3 21,383.3 22,382.5 23,381.0 24,379.5 25,378.2 26,377.3 27,376.4 28,375.4" stroke="#c8359f"/>
<polyline points="0,403.5 1,398.2 2,393.3 3,388.6 4,384.2 5,380.0 6,376.3 7,373.1 8,371.2 9,370.1 10,369.9 11,370.6 12,371.6 13,372.2 14,372.0 15,371.6 16,371.9 17,373.2 18,375.0 19,376.2 20,376.4 21,375.8 22,374.8 23,374.2 24,373.7 25,373.2 26,372.2 27,371.1 28,370.4" stroke="#2e2f7a"/>
<polyline points="0,411.4 1,407.9 2,404.0 3,400.1 4,396.5 5,393.2 6,390.3 7,388.2 8,385.5 9,381.9 10,377.8 11,373.3 12,368.8 13,365.2 14,363.8 15,364.8 16,366.5 17,367.2 18,366.5 19,364.8 20,363.2 21,362.5 22,363.1 23,364.5 24,366.4 25,368.4 26,370.4 27,372.0 28,372.8" stroke="#2e2f7a"/>
<polyline points="0,346.5 1,351.3 2,356.1 3,360.6 4,365.1 5,369.5 6,373.6 7,376.8 8,379.2 9,381.5 10,384.2 11,387.2 12,389.3 13,389.7 14,389.0 15,388.2 16,388.1 17,388.9 18,390.5 19,392.3 20,393.8 21,394.5 22,394.6 23,394.1 24,393.0 25,391.9 26,391.1 27,391.1 28,391.8" stroke="#c8359f"/>
<polyline points="0,401.4 1,398.8 2,395.9 3,393.1 4,390.4 5,387.9 6,385.6 7,383.8 8,381.1 9,377.8 10,374.4 11,371.3 12,368.4 13,365.7 14,363.8 15,363.5 16,364.6 17,366.1 18,367.3 19,367.9 20,367.8 21,367.6 22,367.8 23,368.3 24,368.8 25,369.0 26,369.0 27,369.2 28,370.0" stroke="#2e2f7a"/>
<polyline points="0,372.9 1,374.7 2,376.1 3,377.4 4,378.5 5,379.4 6,380.1 7,380.1 8,377.6 9,374.9 10,372.7 11,371.2 12,370.6 13,371.0 14,372.1 15,373.1 16,373.1 17,372.1 18,370.4 19,368.8 20,367.8 21,367.2 22,367.1 23,367.2 24,367.4 25,368.1 26,369.3 27,370.8 28,372.4" stroke="#2e2f7a"/>
<polyline points="0,333.6 1,341.9 2,349.7 3,357.1 4,364.2 5,371.0 6,377.2 7,382.1 8,384.0 9,384.9 10,385.4 11,386.3 12,387.5 13,388.7 14,389.5 15,389.3 16,388.2 17,386.9 18,386.5 19,387.2 20,388.7 21,389.9 22,390.2 23,389.7 24,388.5 25,386.8 26,384.5 27,381.6 28,378.3" stroke="#c8359f"/>
<polyline points="0,413.1 1,407.3 2,401.5 3,396.1 4,390.9 5,386.2 6,381.9 7,378.6 8,376.7 9,375.4 10,375.1 11,375.9 12,377.3 13,379.2 14,381.0 15,382.2 16,382.8 17,383.3 18,383.5 19,383.4 20,383.1 21,382.5 22,382.2 23,382.0 24,382.1 25,382.6 26,383.5 27,384.9 28,386.9" stroke="#2e2f7a"/>
<polyline points="0,402.6 1,400.6 2,398.1 3,395.6 4,393.2 5,391.0 6,389.0 7,387.6 8,384.4 9,380.0 10,375.5 11,371.8 12,368.9 13,366.5 14,364.3 15,362.8 16,362.2 17,361.8 18,361.3 19,360.3 20,358.8 21,357.5 22,356.9 23,357.1 24,357.7 25,358.0 26,357.8 27,357.3 28,357.1" stroke="#2e2f7a"/>
<polyline points="0,414.4 1,409.3 2,404.1 3,399.0 4,394.3 5,389.9 6,386.0 7,383.2 8,380.6 9,377.6 10,375.0 11,373.0 12,371.2 13,369.2 14,368.1 15,369.1 16,371.8 17,374.5 18,375.7 19,374.8 20,372.4 21,370.2 22,369.0 23,368.7 24,368.5 25,367.9 26,367.0 27,366.9 28,367.9" stroke="#2e2f7a"/>
<polyline points="0,382.6 1,382.2 2,381.6 3,381.0 4,380.3 5,379.6 6,378.8 7,377.8 8,375.9 9,374.5 10,373.9 11,373.7 12,373.5 13,372.9 14,371.6 15,369.8 16,368.3 17,367.9 18,369.2 19,371.9 20,374.9 21,377.1 22,378.3 23,378.4 24,378.3 25,378.3 26,378.7 27,379.2 28,379.5" stroke="#2e2f7a"/>
<polyline points="0,388.3 1,384.5 2,381.2 3,378.1 4,375.2 5,372.3 6,369.5 7,366.8 8,364.9 9,363.5 10,362.7 11,362.7 12,363.5 13,364.5 14,364.9 15,364.3 16,363.6 17,363.7 18,364.8 19,366.1 20,366.7 21,366.3 22,365.5 23,365.1 24,365.6 25,366.6 26,367.3 27,367.3 28,367.0" stroke="#2e2f7a"/>
<polyline points="0,396.0 1,391.9 2,388.1 3,384.4 4,381.0 5,377.7 6,374.7 7,371.9 8,369.6 9,367.1 10,364.7 11,363.0 12,361.9 13,361.6 14,362.3 15,363.6 16,365.1 17,366.1 18,366.2 19,365.3 20,363.9 21,362.6 22,361.9 23,362.1 24,362.7 25,363.4 26,363.7 27,363.7 28,363.6" stroke="#2e2f7a"/>
<polyline points="0,399.4 1,395.3 2,391.3 3,387.5 4,383.9 5,380.5 6,377.3 7,374.6 8,372.3 9,370.3 10,369.3 11,369.2 12,369.6 13,369.8 14,369.4 15,368.4 16,367.4 17,367.0 18,367.5 19,368.9 20,370.4 21,371.3 22,371.2 23,370.0 24,368.5 25,367.4 26,367.3 27,368.3 28,370.3" stroke="#2e2f7a"/>
<polyline points="0,352.8 1,356.0 2,359.3 3,362.6 4,365.8 5,369.1 6,372.2 7,374.7 8,376.7 9,377.7 10,378.4 11,379.8 12,382.4 13,385.5 14,387.9 15,388.2 16,386.5 17,384.1 18,382.2 19,381.4 20,381.3 21,381.6 22,382.1 23,383.0 24,384.0 25,384.5 26,383.9 27,381.8 28,379.0" stroke="#c8359f"/>
<polyline points="0,348.1 1,352.7 2,357.1 3,361.5 4,365.7 5,369.9 6,373.8 7,377.0 8,379.5 9,382.1 10,385.1 11,388.7 12,392.3 13,394.9 14,396.4 15,396.5 16,396.1 17,395.9 18,395.9 19,396.0 20,395.7 21,395.3 22,395.1 23,395.2 24,395.8 25,396.3 26,396.4 27,396.1 28,395.7" stroke="#c8359f"/>
<polyline points="0,388.0 1,385.5 2,383.2 3,381.0 4,378.9 5,376.9 6,374.9 7,372.9 8,371.1 9,370.2 10,370.0 11,370.4 12,370.9 13,371.5 14,372.2 15,372.6 16,372.9 17,373.3 18,373.7 19,374.3 20,375.0 21,375.7 22,376.6 23,377.4 24,378.1 25,378.7 26,379.3 27,379.8 28,380.1" stroke="#2e2f7a"/>
<polyline points="0,358.3 1,359.6 2,361.2 3,363.0 4,364.8 5,366.8 6,368.7 7,370.3 8,373.2 9,376.6 10,380.5 11,384.5 12,388.2 13,391.2 14,393.6 15,395.1 16,396.0 17,397.2 18,398.7 19,400.4 20,401.7 21,402.1 22,401.6 23,400.5 24,399.3 25,398.3 26,397.5 27,396.7 28,395.7" stroke="#c8359f"/>
<polyline points="0,350.4 1,353.9 2,357.6 3,361.1 4,364.6 5,368.2 6,371.5 7,374.1 8,375.9 9,376.3 10,376.1 11,376.0 12,375.9 13,375.5 14,374.7 15,374.0 16,373.9 17,374.5 18,375.7 19,376.7 20,376.8 21,376.2 22,375.6 23,375.5 24,376.0 25,376.6 26,376.4 27,375.5 28,374.4" stroke="#c8359f"/>
<polyline points="0,399.4 1,395.0 2,390.8 3,386.7 4,382.9 5,379.4 6,376.1 7,373.2 8,371.2 9,369.7 10,369.1 11,370.0 12,372.2 13,374.4 14,375.3 15,374.7 16,373.4 17,372.4 18,371.8 19,371.4 20,371.4 21,372.0 22,373.3 23,375.1 24,376.4 25,376.3 26,374.4 27,371.6 28,369.1" stroke="#2e2f7a"/>
<polyline points="0,409.2 1,402.7 2,396.6 3,390.9 4,385.5 5,380.4 6,375.9 7,372.1 8,370.4 9,369.6 10,369.7 11,370.2 12,370.7 13,371.6 14,373.1 15,374.6 16,375.3 17,375.7 18,376.0 19,376.6 20,377.5 21,378.2 22,378.2 23,377.2 24,375.9 25,375.1 26,375.4 27,376.3 28,377.0" stroke="#2e2f7a"/>
<polyline points="0,363.2 1,363.8 2,364.7 3,365.8 4,366.9 5,368.3 6,369.8 7,371.1 8,373.3 9,374.8 10,376.0 11,376.8 12,376.9 13,376.6 14,376.9 15,378.0 16,379.6 17,381.1 18,382.1 19,382.6 20,382.6 21,382.3 22,381.8 23,381.1 24,380.4 25,379.8 26,379.3 27,378.6 28,377.5" stroke="#c8359f"/>
<polyline points="0,401.9 1,397.0 2,392.4 3,388.0 4,383.8 5,379.9 6,376.3 7,373.3 8,371.2 9,369.5 10,368.3 11,367.2 12,366.2 13,365.9 14,366.8 15,367.7 16,367.9 17,367.6 18,367.6 19,368.2 20,369.1 21,369.4 22,368.4 23,366.4 24,364.9 25,365.0 26,366.8 27,369.3 28,371.2" stroke="#2e2f7a"/>
<polyline points="0,415.3 1,409.8 2,404.2 3,398.9 4,393.8 5,389.2 6,385.1 7,382.0 8,379.7 9,377.3 10,375.3 11,374.1 12,373.7 13,373.4 14,372.8 15,372.2 16,372.0 17,372.3 18,372.9 19,373.3 20,373.2 21,372.7 22,372.5 23,372.8 24,373.5 25,374.1 26,374.2 27,373.8 28,373.5" stroke="#2e2f7a"/>
<polyline points="0,338.5 1,343.7 2,349.1 3,354.3 4,359.3 5,364.2 6,368.6 7,372.0 8,374.9 9,378.5 10,382.6 11,386.6 12,389.7 13,392.2 14,395.1 15,397.4 16,398.4 17,398.1 18,397.3 19,396.9 20,397.3 21,397.9 22,397.7 23,396.5 24,394.6 25,393.2 26,392.6 27,392.3 28,391.3" stroke="#c8359f"/>
<polyline points="0,394.7 1,389.6 2,385.0 3,380.7 4,376.7 5,372.8 6,369.2 7,365.9 8,364.7 9,365.1 10,366.9 11,369.5 12,372.6 13,376.0 14,379.1 15,380.6 16,380.7 17,380.5 18,380.4 19,380.4 20,380.4 21,380.0 22,379.3 23,378.7 24,378.6 25,379.4 26,380.6 27,381.5 28,381.7" stroke="#2e2f7a"/>
<polyline points="0,426.8 1,419.6 2,407.8 3,396.7 4,386.4 5,376.8 6,368.2 7,361.4 8,359.5 9,358.5 10,358.3 11,358.9 12,359.8 13,360.8 14,361.6 15,362.1 16,362.2 17,362.2 18,362.4 19,362.6 20,363.0 21,363.2 22,363.1 23,362.9 24,362.4 25,362.0 26,361.6 27,361.3 28,360.8" stroke="#2e2f7a"/>
<polyline points="0,335.0 1,342.4 2,349.5 3,356.3 4,362.8 5,369.0 6,374.7 7,379.2 8,380.8 9,381.0 10,380.7 11,380.4 12,379.7 13,378.7 14,377.7 15,377.1 16,376.9 17,376.9 18,377.1 19,377.4 20,377.4 21,377.2 22,377.1 23,377.2 24,377.5 25,377.9 26,378.2 27,378.2 28,378.2" stroke="#c8359f"/>
<polyline points="0,406.0 1,401.9 2,397.7 3,393.7 4,389.8 5,386.3 6,383.1 7,380.6 8,378.4 9,376.4 10,374.9 11,373.6 12,372.1 13,370.2 14,368.5 15,367.8 16,368.2 17,368.9 18,369.3 19,369.1 20,368.7 21,369.0 22,370.5 23,372.6 24,374.8 25,376.5 26,377.4 27,378.1 28,378.8" stroke="#2e2f7a"/>
<polyline points="0,407.8 1,401.9 2,396.3 3,391.0 4,386.0 5,381.4 6,377.2 7,373.8 8,371.4 9,368.8 10,366.4 11,365.4 12,365.2 13,364.5 14,362.9 15,361.6 16,362.3 17,364.7 18,367.5 19,368.8 20,368.0 21,366.3 22,365.6 23,366.5 24,368.1 25,368.7 26,367.4 27,365.1 28,363.8" stroke="#2e2f7a"/>
<polyline points="0,385.8 1,383.3 2,381.0 3,378.8 4,376.7 5,374.7 6,372.7 7,370.6 8,368.5 9,366.7 10,365.1 11,363.9 12,363.5 13,364.0 14,364.9 15,365.2 16,364.9 17,364.8 18,365.1 19,365.5 20,365.3 21,364.1 22,362.4 23,361.3 24,361.4 25,362.8 26,364.3 27,364.9 28,364.2" stroke="#2e2f7a"/>
<polyline points="0,348.9 1,352.1 2,355.5 3,358.9 4,362.3 5,365.6 6,368.7 7,371.2 8,373.4 9,375.3 10,377.2 11,379.8 12,382.5 13,384.4 14,385.6 15,386.2 16,386.8 17,387.9 18,389.1 19,389.6 20,389.1 21,387.8 22,386.1 23,384.7 24,383.6 25,382.3 26,380.6 27,378.6 28,377.0" stroke="#c8359f"/>
<polyline points="0,389.8 1,389.1 2,388.1 3,387.1 4,386.0 5,385.0 6,384.0 7,383.1 8,380.3 9,376.8 10,373.1 11,370.3 12,369.1 13,369.4 14,369.9 15,369.1 16,367.4 17,366.0 18,365.7 19,366.2 20,366.0 21,364.4 22,362.0 23,360.3 24,360.4 25,362.3 26,364.9 27,366.6 28,367.5" stroke="#2e2f7a"/>
<polyline points="0,363.1 1,366.8 2,370.1 3,373.1 4,375.7 5,378.1 6,379.9 7,380.8 8,378.4 9,376.1 10,374.1 11,372.9 12,372.3 13,371.6 14,370.5 15,369.5 16,369.3 17,369.9 18,370.7 19,371.2 20,371.1 21,370.7 22,370.6 23,371.3 24,372.3 25,373.0 26,373.0 27,372.7 28,372.6" stroke="#2e2f7a"/>
<polyline points="0,390.3 1,385.9 2,382.1 3,378.4 4,375.0 5,371.7 6,368.5 7,365.5 8,364.0 9,364.1 10,366.1 11,369.2 12,371.8 13,372.7 14,372.9 15,373.7 16,375.3 17,377.0 18,377.4 19,376.5 20,375.3 21,375.2 22,376.2 23,377.3 24,377.1 25,375.6 26,373.8 27,373.3 28,374.4" stroke="#2e2f7a"/>
<polyline points="0,407.0 1,402.4 2,397.9 3,393.5 4,389.4 5,385.5 6,382.1 7,379.4 8,376.8 9,374.0 10,371.2 11,367.9 12,364.1 13,360.9 14,359.6 15,360.0 16,360.6 17,360.3 18,359.6 19,359.5 20,360.5 21,361.9 22,362.8 23,362.7 24,362.2 25,362.3 26,363.7 27,365.8 28,367.4" stroke="#2e2f7a"/>
<polyline points="0,349.1 1,353.6 2,358.1 3,362.3 4,366.5 5,370.7 6,374.6 7,377.7 8,380.2 9,382.4 10,384.7 11,387.2 12,389.4 13,391.1 14,392.6 15,393.8 16,394.6 17,395.0 18,394.9 19,394.4 20,393.5 21,392.6 22,391.7 23,391.2 24,391.1 25,391.0 26,390.6 27,389.8 28,388.4" stroke="#c8359f"/>
<polyline points="0,356.8 1,359.9 2,362.9 3,365.9 4,368.9 5,372.0 6,374.9 7,377.4 8,379.2 9,380.2 10,381.0 11,381.7 12,381.3 13,379.9 14,378.6 15,378.2 16,378.3 17,378.2 18,377.8 19,377.5 20,377.7 21,378.3 22,378.5 23,378.0 24,376.8 25,375.4 26,374.5 27,374.2 28,374.2" stroke="#c8359f"/>
<polyline points="0,348.5 1,353.1 2,357.6 3,362.0 4,366.3 5,370.5 6,374.4 7,377.6 8,379.6 9,381.1 10,382.9 11,385.0 12,386.5 13,387.4 14,388.2 15,389.1 16,389.4 17,388.9 18,387.8 19,386.8 20,386.7 21,387.1 22,387.4 23,386.8 24,385.3 25,383.3 26,382.0 27,381.6 28,382.0" stroke="#c8359f"/>
<polyline points="0,360.2 1,363.1 2,365.9 3,368.7 4,371.4 5,374.3 6,377.1 7,379.6 8,381.7 9,383.4 10,385.1 11,386.8 12,388.1 13,389.0 14,390.3 15,391.8 16,392.9 17,393.3 18,393.2 19,393.2 20,393.4 21,393.5 22,393.1 23,392.0 24,390.2 25,388.5 26,387.3 27,386.8 28,386.5" stroke="#c8359f"/>
<polyline points="0,357.5 1,359.4 2,361.5 3,363.7 4,365.9 5,368.3 6,370.5 7,372.4 8,374.7 9,376.5 10,378.1 11,379.8 12,381.7 13,383.7 14,385.1 15,384.9 16,383.3 17,382.0 18,382.2 19,383.7 20,385.4 21,385.7 22,384.8 23,383.6 24,383.4 25,384.4 26,386.0 27,386.9 28,386.7" stroke="#c8359f"/>
<polyline points="0,396.9 1,393.9 2,390.9 3,388.0 4,385.2 5,382.6 6,380.1 7,378.1 8,375.8 9,373.5 10,371.3 11,369.8 12,368.6 13,367.1 14,365.1 15,363.5 16,363.2 17,364.2 18,365.8 19,367.2 20,367.8 21,368.3 22,369.5 23,371.8 24,374.2 25,375.9 26,376.2 27,375.5 28,374.9" stroke="#2e2f7a"/>
<polyline points="0,357.8 1,361.3 2,364.5 3,367.5 4,370.2 5,372.5 6,374.3 7,374.9 8,372.8 9,371.1 10,369.9 11,369.3 12,368.9 13,368.7 14,369.0 15,369.9 16,371.0 17,371.9 18,372.3 19,372.0 20,371.6 21,371.5 22,371.6 23,371.7 24,371.7 25,371.2 26,370.5 27,369.6 28,368.9" stroke="#2e2f7a"/>
<polyline points="0,387.8 1,386.0 2,384.3 3,382.5 4,380.8 5,379.2 6,377.6 7,375.9 8,373.8 9,372.0 10,370.0 11,367.0 12,363.6 13,361.9 14,363.4 15,366.9 16,369.9 17,371.2 18,371.2 19,370.9 20,370.6 21,369.8 22,367.9 23,365.5 24,363.8 25,364.4 26,367.1 27,370.3 28,371.9" stroke="#2e2f7a"/>
<polyline points="0,400.2 1,396.2 2,392.4 3,388.7 4,385.2 5,381.9 6,378.9 7,376.3 8,374.4 9,373.2 10,372.4 11,371.8 12,372.2 13,373.7 14,375.5 15,375.9 16,374.7 17,373.7 18,374.1 19,375.9 20,377.8 21,378.3 22,377.1 23,375.4 24,374.8 25,376.2 26,378.9 27,381.1 28,381.9" stroke="#2e2f7a"/>
<polyline points="0,359.1 1,361.6 2,364.1 3,366.5 4,369.0 5,371.7 6,374.2 7,376.4 8,378.8 9,381.5 10,385.5 11,390.5 12,394.7 13,396.2 14,394.6 15,391.6 16,389.0 17,387.5 18,386.7 19,386.2 20,386.2 21,386.8 22,388.2 23,389.9 24,391.1 25,391.4 26,391.2 27,391.5 28,393.0" stroke="#c8359f"/>
<polyline points="0,404.6 1,400.9 2,397.0 3,393.3 4,389.8 5,386.5 6,383.6 7,381.2 8,378.7 9,375.5 10,372.3 11,369.2 12,366.2 13,363.2 14,361.1 15,360.7 16,362.2 17,364.6 18,367.4 19,369.5 20,370.5 21,370.4 22,369.3 23,367.9 24,366.3 25,364.6 26,362.8 27,361.2 28,360.1" stroke="#2e2f7a"/>
<polyline points="0,390.1 1,387.4 2,384.9 3,382.5 4,380.2 5,378.0 6,375.8 7,373.8 8,371.2 9,368.2 10,365.3 11,362.6 12,360.1 13,357.8 14,356.2 15,355.5 16,355.6 17,355.9 18,356.2 19,356.5 20,356.9 21,357.5 22,358.9 23,360.6 24,362.4 25,364.2 26,365.9 27,367.7 28,369.6" stroke="#2e2f7a"/>
<polyline points="0,395.5 1,392.2 2,389.0 3,385.9 4,383.0 5,380.2 6,377.7 7,375.4 8,373.3 9,371.6 10,371.2 11,372.4 12,374.4 13,375.5 14,375.4 15,375.1 16,375.7 17,377.1 18,377.7 19,376.7 20,374.5 21,372.7 22,372.2 23,372.9 24,373.4 25,372.6 26,370.5 27,368.3 28,367.6" stroke="#2e2f7a"/>
<polyline points="0,372.3 1,373.6 2,374.7 3,375.7 4,376.5 5,377.2 6,377.5 7,377.2 8,375.3 9,373.8 10,372.6 11,371.6 12,371.1 13,370.8 14,370.4 15,369.5 16,368.6 17,368.6 18,369.9 19,372.0 20,374.0 21,374.9 22,375.0 23,375.0 24,375.4 25,376.5 26,377.4 27,377.4 28,376.4" stroke="#2e2f7a"/>
<polyline points="0,368.1 1,368.4 2,369.0 3,369.6 4,370.4 5,371.5 6,372.7 7,374.0 8,375.8 9,376.7 10,377.2 11,377.4 12,377.2 13,376.6 14,376.2 15,376.1 16,376.0 17,375.7 18,375.6 19,375.9 20,376.4 21,376.8 22,377.2 23,377.6 24,378.1 25,379.0 26,380.3 27,381.6 28,382.7" stroke="#c8359f"/>
<polyline points="0,348.8 1,351.7 2,354.9 3,358.1 4,361.3 5,364.5 6,367.4 7,369.7 8,372.4 9,375.6 10,379.8 11,384.8 12,389.2 13,391.9 14,392.4 15,391.3 16,390.1 17,389.8 18,390.1 19,390.2 20,389.6 21,388.7 22,388.1 23,388.3 24,389.3 25,390.4 26,391.5 27,392.4 28,393.5" stroke="#c8359f"/>
<polyline points="0,348.3 1,354.1 2,359.5 3,364.6 4,369.6 5,374.6 6,379.2 7,383.0 8,385.4 9,387.8 10,390.8 11,394.0 12,396.1 13,396.1 14,394.6 15,392.9 16,392.2 17,393.1 18,395.3 19,398.1 20,400.7 21,402.3 22,402.6 23,401.7 24,400.0 25,398.0 26,396.4 27,395.6 28,395.7" stroke="#c8359f"/>
<polyline points="0,344.6 1,349.6 2,354.4 3,359.2 4,363.8 5,368.3 6,372.4 7,375.7 8,378.1 9,380.5 10,383.4 11,386.6 12,389.3 13,390.7 14,391.1 15,391.1 16,391.1 17,391.6 18,392.4 19,393.3 20,393.9 21,394.1 22,394.3 23,394.3 24,394.3 25,394.5 26,395.2 27,396.7 28,398.8" stroke="#c8359f"/>
<polyline points="0,390.7 1,390.3 2,389.5 3,388.6 4,387.7 5,386.8 6,385.9 7,385.1 8,382.6 9,379.9 10,377.9 11,376.9 12,376.1 13,374.4 14,371.5 15,368.4 16,366.6 17,366.7 18,368.5 19,371.2 20,373.6 21,374.8 22,374.3 23,372.7 24,370.5 25,368.2 26,366.1 27,364.6 28,364.4" stroke="#2e2f7a"/>
<polyline points="0,360.2 1,362.6 2,365.1 3,367.5 4,369.9 5,372.6 6,375.1 7,377.3 8,379.6 9,381.6 10,383.8 11,385.9 12,387.3 13,388.2 14,389.8 15,391.8 16,393.3 17,393.4 18,392.2 19,390.1 20,388.1 21,386.7 22,386.1 23,385.8 24,385.8 25,386.3 26,387.3 27,388.8 28,389.8" stroke="#c8359f"/>
<polyline points="0,392.2 1,388.9 2,385.9 3,383.0 4,380.2 5,377.5 6,375.0 7,372.6 8,370.4 9,368.4 10,367.0 11,366.3 12,366.3 13,366.7 14,366.4 15,365.2 16,363.4 17,362.4 18,362.7 19,364.2 20,366.0 21,367.0 22,366.8 23,365.8 24,364.7 25,363.9 26,363.1 27,362.1 28,360.8" stroke="#2e2f7a"/>
<polyline points="0,357.1 1,361.4 2,365.4 3,369.2 4,372.9 5,376.7 6,380.3 7,383.5 8,385.5 9,386.6 10,387.5 11,388.6 12,388.8 13,387.5 14,385.3 15,384.0 16,384.3 17,385.9 18,387.9 19,389.1 20,388.9 21,387.8 22,386.5 23,385.7 24,385.5 25,385.3 26,384.9 27,384.6 28,384.7" stroke="#c8359f"/>
<polyline points="0,387.9 1,385.3 2,382.9 3,380.7 4,378.5 5,376.3 6,374.2 7,372.2 8,370.5 9,369.6 10,369.4 11,370.0 12,371.1 13,372.3 14,373.0 15,373.1 16,373.3 17,374.6 18,376.8 19,379.0 20,380.3 21,380.4 22,379.4 23,378.2 24,377.2 25,376.3 26,374.9 27,372.9 28,370.6" stroke="#2e2f7a"/>
<polyline points="0,349.5 1,353.7 2,357.8 3,361.8 4,365.8 5,369.7 6,373.4 7,376.3 8,378.7 9,380.9 10,382.9 11,384.8 12,386.0 13,387.0 14,388.5 15,390.4 16,391.7 17,392.2 18,391.9 19,391.0 20,390.1 21,389.5 22,389.0 23,388.7 24,388.5 25,388.5 26,388.6 27,388.5 28,387.7" stroke="#c8359f"/>
<polyline points="0,365.8 1,367.7 2,369.4 3,371.2 4,373.1 5,375.2 6,377.3 7,379.3 8,381.6 9,383.2 10,384.7 11,386.8 12,388.7 13,389.1 14,388.2 15,387.6 16,388.7 17,391.4 18,394.2 19,395.6 20,395.3 21,394.3 22,394.0 23,394.7 24,395.4 25,394.7 26,392.1 27,388.7 28,386.0" stroke="#c8359f"/>
<polyline points="0,391.8 1,389.6 2,387.4 3,385.3 4,383.2 5,381.3 6,379.4 7,377.7 8,375.2 9,372.9 10,371.3 11,370.9 12,371.1 13,371.3 14,370.9 15,369.4 16,367.5 17,365.8 18,365.2 19,366.0 20,368.1 21,370.6 22,372.4 23,372.6 24,371.4 25,369.2 26,366.8 27,364.8 28,363.6" stroke="#2e2f7a"/>
<polyline points="0,352.4 1,355.9 2,359.4 3,362.9 4,366.3 5,369.8 6,373.0 7,375.7 8,378.1 9,380.4 10,382.9 11,385.7 12,388.1 13,389.6 14,390.6 15,391.1 16,391.2 17,391.4 18,391.6 19,391.6 20,391.5 21,391.4 22,391.1 23,390.8 24,390.5 25,390.0 26,389.4 27,388.6 28,387.6" stroke="#c8359f"/>
<polyline points="0,363.3 1,368.2 2,372.3 3,376.0 4,379.4 5,382.4 6,384.9 7,386.4 8,384.7 9,384.1 10,385.0 11,387.2 12,389.4 13,391.0 14,392.1 15,393.2 16,394.1 17,394.7 18,394.2 19,392.9 20,391.7 21,391.4 22,392.1 23,393.0 24,393.2 25,392.7 26,392.0 27,392.2 28,393.5" stroke="#2e2f7a"/>
<polyline points="0,360.6 1,361.9 2,363.5 3,365.1 4,366.8 5,368.7 6,370.6 7,372.2 8,374.8 9,377.3 10,380.1 11,383.4 12,386.8 13,389.4 14,390.9 15,391.1 16,390.6 17,390.6 18,391.1 19,391.7 20,391.7 21,391.0 22,389.9 23,389.1 24,388.9 25,388.9 26,388.5 27,387.2 28,385.5" stroke="#c8359f"/>
<polyline points="0,353.1 1,357.6 2,361.8 3,365.9 4,369.9 5,373.9 6,377.7 7,380.9 8,382.9 9,384.2 10,385.4 11,386.7 12,387.9 13,388.6 14,388.8 15,388.5 16,388.4 17,389.0 18,390.3 19,391.6 20,391.9 21,390.6 22,388.1 23,385.4 24,383.5 25,382.7 26,382.3 27,381.9 28,381.2" stroke="#c8359f"/>
<polyline points="0,406.1 1,400.8 2,395.8 3,390.9 4,386.4 5,382.1 6,378.3 7,375.1 8,373.1 9,371.6 10,370.8 11,370.7 12,371.0 13,371.4 14,372.0 15,372.1 16,371.5 17,370.4 18,369.1 19,368.2 20,368.0 21,368.5 22,369.4 23,370.2 24,370.8 25,371.2 26,371.4 27,371.4 28,370.9" stroke="#2e2f7a"/>
<polyline points="0,424.3 1,416.4 2,408.7 3,401.4 4,394.5 5,388.2 6,382.7 7,378.5 8,375.8 9,372.5 10,368.8 11,364.7 12,360.7 13,357.3 14,355.6 15,356.0 16,357.9 17,360.0 18,361.9 19,363.1 20,363.7 21,363.8 22,363.5 23,363.1 24,362.8 25,362.6 26,362.4 27,362.2 28,361.8" stroke="#2e2f7a"/>
<polyline points="0,400.3 1,396.8 2,393.2 3,389.7 4,386.5 5,383.4 6,380.6 7,378.3 8,376.5 9,375.6 10,375.9 11,376.5 12,376.6 13,376.5 14,377.4 15,379.4 16,381.4 17,382.3 18,382.1 19,381.7 20,382.1 21,383.5 22,385.4 23,386.2 24,385.6 25,384.5 26,384.3 27,385.5 28,387.6" stroke="#2e2f7a"/>
<polyline points="0,378.3 1,377.5 2,376.7 3,376.0 4,375.3 5,374.4 6,373.5 7,372.1 8,370.0 9,368.0 10,366.4 11,365.2 12,364.5 13,363.8 14,363.0 15,362.1 16,361.2 17,360.5 18,360.3 19,360.7 20,362.1 21,364.2 22,366.7 23,368.9 24,370.4 25,370.7 26,370.1 27,368.8 28,367.2" stroke="#2e2f7a"/>
<polyline points="0,383.4 1,382.7 2,381.9 3,381.1 4,380.3 5,379.4 6,378.5 7,377.3 8,374.6 9,371.1 10,367.7 11,364.4 12,361.4 13,358.7 14,356.7 15,355.5 16,354.9 17,354.5 18,354.3 19,354.3 20,354.6 21,355.0 22,355.6 23,356.4 24,357.3 25,358.3 26,359.3 27,360.3 28,361.2" stroke="#2e2f7a"/>
<polyline points="0,402.8 1,396.4 2,390.6 3,385.1 4,379.9 5,375.1 6,370.6 7,366.8 8,364.4 9,362.4 10,361.0 11,359.9 12,358.3 13,356.7 14,356.7 15,358.2 16,359.3 17,358.8 18,356.9 19,355.3 20,355.6 21,357.8 22,360.5 23,361.8 24,361.1 25,359.7 26,359.2 27,360.5 28,362.6" stroke="#2e2f7a"/>
<polyline points="0,414.0 1,407.5 2,401.2 3,395.1 4,389.5 5,384.3 6,379.6 7,375.9 8,373.9 9,372.1 10,370.9 11,370.4 12,370.5 13,370.3 14,369.2 15,367.7 16,366.9 17,367.3 18,368.4 19,369.3 20,369.3 21,368.8 22,368.3 23,368.5 24,369.3 25,369.7 26,369.0 27,367.0 28,364.7" stroke="#2e2f7a"/>
<polyline points="0,418.3 1,410.8 2,403.7 3,397.0 4,390.6 5,384.8 6,379.5 7,375.5 8,373.0 9,370.1 10,367.2 11,364.7 12,363.1 13,362.5 14,362.0 15,361.2 16,360.3 17,360.1 18,360.7 19,361.8 20,362.3 21,361.7 22,360.3 23,359.3 24,359.3 25,360.1 26,360.7 27,360.3 28,359.1" stroke="#2e2f7a"/>
<polyline points="0,422.0 1,413.0 2,404.5 3,396.6 4,389.1 5,382.2 6,376.0 7,371.2 8,369.3 9,368.2 10,368.1 11,369.1 12,370.5 13,371.7 14,372.2 15,372.3 16,372.2 17,372.5 18,373.0 19,373.1 20,372.9 21,372.6 22,372.5 23,372.7 24,373.2 25,373.7 26,374.1 27,374.6 28,375.5" stroke="#2e2f7a"/>
<polyline points="0,362.4 1,365.2 2,367.9 3,370.4 4,373.0 5,375.8 6,378.5 7,381.0 8,382.9 9,383.8 10,384.2 11,384.2 12,383.8 13,383.3 14,383.0 15,382.8 16,382.7 17,382.8 18,383.7 19,385.1 20,386.1 21,385.6 22,383.2 23,380.2 24,377.7 25,376.2 26,375.3 27,374.0 28,371.9" stroke="#c8359f"/>
<polyline points="0,406.7 1,401.2 2,395.9 3,390.8 4,386.1 5,381.7 6,377.7 7,374.4 8,371.9 9,369.0 10,366.0 11,363.3 12,361.3 13,360.1 14,360.1 15,360.8 16,361.6 17,361.9 18,361.7 19,361.1 20,360.3 21,359.7 22,359.5 23,359.7 24,360.3 25,360.9 26,361.3 27,361.2 28,360.5" stroke="#2e2f7a"/>
<polyline points="0,356.0 1,358.4 2,360.9 3,363.5 4,366.1 5,368.8 6,371.3 7,373.4 8,376.0 9,378.5 10,381.0 11,383.4 12,385.0 13,385.5 14,385.8 15,386.2 16,387.0 17,388.1 18,389.3 19,390.4 20,391.1 21,391.3 22,391.0 23,390.5 24,389.9 25,389.2 26,388.4 27,387.3 28,385.8" stroke="#c8359f"/>
<polyline points="0,381.5 1,380.5 2,379.5 3,378.5 4,377.5 5,376.5 6,375.3 7,374.0 8,371.7 9,369.7 10,368.1 11,366.6 12,365.1 13,364.6 14,365.5 15,366.8 16,367.1 17,366.2 18,365.0 19,364.7 20,365.5 21,366.6 22,366.9 23,365.8 24,364.2 25,363.4 26,364.1 27,365.7 28,367.0" stroke="#2e2f7a"/>
<polyline points="0,400.3 1,395.4 2,390.8 3,386.4 4,382.3 5,378.4 6,374.8 7,371.7 8,370.2 9,369.9 10,370.4 11,372.0 12,374.8 13,378.1 14,380.1 15,379.8 16,378.0 17,377.2 18,378.0 19,379.9 20,381.3 21,381.3 22,379.8 23,378.3 24,377.7 25,378.0 26,378.0 27,376.7 28,374.2" stroke="#2e2f7a"/>
<polyline points="0,424.6 1,414.7 2,405.5 3,396.8 4,388.7 5,381.2 6,374.4 7,369.1 8,367.2 9,365.9 10,365.1 11,365.0 12,365.5 13,366.8 14,368.5 15,369.7 16,369.8 17,369.2 18,368.4 19,368.0 20,368.2 21,369.0 22,369.8 23,370.3 24,370.4 25,370.1 26,369.4 27,368.1 28,366.3" stroke="#2e2f7a"/>
<polyline points="0,358.2 1,360.5 2,362.9 3,365.3 4,367.7 5,370.2 6,372.7 7,374.8 8,377.5 9,380.6 10,384.1 11,387.8 12,391.2 13,394.2 14,396.6 15,397.6 16,397.2 17,396.6 18,396.4 19,396.9 20,397.7 21,398.0 22,397.4 23,396.3 24,395.3 25,394.9 26,395.0 27,394.8 28,393.8" stroke="#c8359f"/>
<polyline points="0,395.3 1,392.0 2,388.9 3,385.8 4,382.9 5,380.2 6,377.7 7,375.4 8,373.5 9,372.6 10,372.8 11,374.2 12,376.1 13,377.8 14,378.7 15,378.3 16,377.1 17,376.2 18,376.1 19,376.8 20,378.1 21,379.3 22,380.4 23,380.9 24,381.1 25,381.2 26,381.4 27,381.9 28,382.8" stroke="#2e2f7a"/>
<polyline points="0,356.7 1,360.2 2,363.6 3,366.8 4,370.1 5,373.4 6,376.6 7,379.3 8,381.4 9,382.8 10,383.9 11,384.9 12,385.4 13,385.3 14,385.3 15,386.1 16,387.4 17,388.6 18,389.4 19,389.8 20,390.1 21,390.3 22,390.9 23,391.3 24,391.4 25,391.0 26,390.4 27,390.0 28,390.0" stroke="#c8359f"/>
<polyline points="0,409.0 1,403.8 2,398.7 3,393.7 4,389.1 5,384.8 6,381.0 7,377.9 8,375.9 9,374.4 10,373.4 11,372.5 12,371.5 13,370.9 14,371.0 15,371.2 16,371.0 17,370.9 18,371.2 19,372.5 20,374.1 21,375.1 22,374.7 23,373.3 24,371.8 25,371.2 26,371.7 27,372.4 28,372.6" stroke="#2e2f7a"/>
<polyline points="0,415.4 1,407.9 2,400.9 3,394.2 4,388.0 5,382.2 6,377.0 7,372.8 8,370.0 9,366.9 10,364.4 11,362.5 12,360.6 13,358.5 14,356.5 15,355.5 16,355.4 17,355.8 18,356.3 19,356.4 20,355.9 21,354.5 22,352.2 23,349.7 24,347.6 25,346.5 26,346.9 27,348.7 28,351.3" stroke="#2e2f7a"/>
<polyline points="0,416.9 1,410.3 2,403.8 3,397.7 4,391.9 5,386.6 6,381.8 7,378.2 8,375.6 9,372.3 10,368.4 11,364.8 12,361.8 13,360.1 14,359.7 15,360.6 16,361.8 17,362.5 18,362.7 19,362.5 20,362.3 21,362.6 22,363.5 23,364.7 24,365.9 25,366.3 26,365.6 27,363.8 28,361.4" stroke="#2e2f7a"/>
<polyline points="0,410.8 1,405.3 2,399.8 3,394.7 4,389.8 5,385.3 6,381.2 7,378.0 8,376.0 9,374.7 10,374.3 11,374.6 12,375.1 13,375.4 14,375.7 15,375.9 16,376.0 17,375.8 18,375.3 19,374.8 20,374.5 21,374.7 22,375.2 23,375.6 24,375.8 25,375.9 26,376.1 27,376.8 28,377.7" stroke="#2e2f7a"/>
<polyline points="0,385.6 1,385.9 2,385.7 3,385.4 4,385.0 5,384.6 6,384.2 7,383.6 8,380.7 9,376.9 10,372.9 11,369.0 12,365.4 13,362.7 14,361.4 15,361.6 16,361.9 17,361.3 18,360.2 19,359.6 20,360.1 21,361.6 22,363.1 23,363.7 24,363.3 25,362.4 26,361.8 27,361.8 28,361.9" stroke="#2e2f7a"/>
<polyline points="0,373.6 1,375.8 2,377.5 3,379.0 4,380.4 5,381.5 6,382.4 7,382.6 8,380.1 9,377.4 10,375.1 11,373.6 12,372.6 13,371.8 14,371.6 15,371.7 16,372.0 17,372.0 18,371.7 19,371.0 20,370.2 21,369.2 22,368.3 23,367.4 24,366.7 25,366.3 26,366.3 27,366.7 28,367.5" stroke="#2e2f7a"/>
<polyline points="0,344.9 1,353.1 2,360.4 3,367.1 4,373.2 5,378.7 6,383.3 7,386.2 8,383.3 9,379.6 10,376.0 11,373.2 12,371.1 13,369.6 14,368.3 15,367.1 16,365.8 17,364.5 18,363.7 19,363.9 20,365.1 21,366.8 22,368.6 23,369.8 24,370.2 25,370.0 26,369.6 27,369.6 28,370.1" stroke="#2e2f7a"/>
<polyline points="0,381.7 1,379.6 2,377.8 3,376.1 4,374.4 5,372.8 6,371.0 7,369.1 8,367.3 9,366.6 10,367.4 11,369.1 12,370.8 13,371.7 14,371.7 15,371.0 16,370.3 17,369.9 18,369.6 19,369.5 20,369.8 21,370.5 22,371.7 23,373.0 24,374.0 25,374.8 26,375.9 27,377.8 28,380.3" stroke="#2e2f7a"/>
<polyline points="0,341.2 1,347.5 2,353.5 3,359.3 4,364.8 5,370.2 6,375.2 7,379.1 8,381.7 9,384.4 10,387.3 11,390.5 12,393.6 13,396.4 14,399.3 15,401.8 16,403.2 17,403.8 18,403.3 19,402.0 20,400.2 21,398.6 22,397.7 23,397.5 24,397.9 25,398.7 26,399.7 27,400.5 28,400.9" stroke="#c8359f"/>
<polyline points="0,350.6 1,356.8 2,362.4 3,367.7 4,372.9 5,378.0 6,382.8 7,386.8 8,387.8 9,386.4 10,384.0 11,381.8 12,379.4 13,376.4 14,373.5 15,372.4 16,373.1 17,373.9 18,373.9 19,372.8 20,371.2 21,370.3 22,370.6 23,371.8 24,372.4 25,371.5 26,369.1 27,366.4 28,364.4" stroke="#c8359f"/>
<polyline points="0,382.0 1,382.0 2,381.8 3,381.5 4,381.2 5,380.8 6,380.3 7,379.6 8,377.2 9,374.5 10,371.6 11,369.1 12,367.8 13,367.6 14,367.6 15,366.8 16,365.5 17,364.4 18,364.1 19,364.3 20,364.5 21,364.7 22,365.4 23,367.3 24,370.2 25,373.3 26,375.2 27,375.3 28,374.0" stroke="#2e2f7a"/>
<polyline points="0,391.9 1,388.6 2,385.6 3,382.7 4,380.0 5,377.3 6,374.8 7,372.5 8,370.2 9,368.0 10,366.3 11,365.2 12,364.0 13,362.5 14,360.9 15,359.8 16,359.1 17,358.6 18,358.3 19,358.3 20,358.8 21,360.0 22,361.7 23,363.4 24,364.7 25,365.6 26,366.1 27,366.7 28,367.5" stroke="#2e2f7a"/>
<polyline points="0,354.6 1,358.2 2,361.7 3,365.1 4,368.5 5,371.9 6,375.2 7,377.9 8,380.2 9,382.3 10,384.8 11,387.6 12,389.9 13,391.3 14,391.9 15,391.8 16,391.4 17,391.2 18,391.5 19,392.4 20,393.4 21,394.2 22,394.2 23,393.6 24,392.6 25,391.7 26,391.3 27,391.5 28,392.0" stroke="#c8359f"/>
<polyline points="0,426.8 1,417.5 2,408.5 3,399.9 4,391.9 5,384.6 6,378.0 7,373.0 8,371.4 9,371.2 10,372.2 11,373.8 12,375.2 13,376.4 14,378.0 15,379.8 16,380.7 17,380.7 18,380.0 19,379.3 20,379.5 21,380.5 22,381.1 23,380.7 24,379.2 25,377.6 26,376.8 27,376.9 28,377.3" stroke="#2e2f7a"/>
<polyline points="0,394.7 1,391.0 2,387.6 3,384.2 4,381.1 5,378.1 6,375.3 7,372.7 8,370.3 9,367.7 10,365.7 11,364.6 12,363.6 13,361.9 14,359.7 15,357.9 16,356.9 17,356.4 18,355.7 19,354.9 20,354.5 21,355.2 22,357.1 23,359.7 24,361.8 25,362.9 26,363.2 27,363.6 28,364.8" stroke="#2e2f7a"/>
<polyline points="0,380.1 1,378.7 2,377.4 3,376.2 4,375.1 5,373.8 6,372.5 7,370.9 8,368.2 9,364.5 10,360.2 11,356.5 12,354.5 13,354.3 14,354.4 15,354.1 16,353.5 17,353.6 18,354.8 19,356.4 20,357.1 21,356.5 22,354.9 23,353.8 24,353.6 25,353.8 26,352.9 27,350.3 28,346.6" stroke="#2e2f7a"/>
<polyline points="0,404.8 1,400.5 2,396.2 3,392.1 4,388.2 5,384.6 6,381.3 7,378.7 8,376.2 9,373.6 10,371.3 11,369.4 12,367.8 13,366.3 14,365.0 15,364.1 16,363.8 17,364.0 18,365.1 19,367.0 20,369.5 21,371.8 22,373.5 23,374.0 24,373.4 25,372.1 26,370.5 27,369.0 28,367.9" stroke="#2e2f7a"/>
<polyline points="0,370.0 1,367.7 2,366.3 3,365.1 4,364.3 5,363.8 6,363.5 7,363.4 8,365.9 9,368.4 10,371.1 11,374.2 12,377.2 13,380.0 14,382.8 15,385.1 16,386.6 17,387.7 18,388.3 19,388.7 20,388.8 21,388.5 22,388.0 23,387.2 24,386.2 25,385.3 26,384.7 27,384.5 28,384.5" stroke="#c8359f"/>
<polyline points="0,352.5 1,356.3 2,360.0 3,363.6 4,367.2 5,370.8 6,374.2 7,377.0 8,379.2 9,381.0 10,383.0 11,385.1 12,386.7 13,387.7 14,388.4 15,388.7 16,388.6 17,388.4 18,388.2 19,388.2 20,388.4 21,388.4 22,388.6 23,388.7 24,389.0 25,389.9 26,391.4 27,393.4 28,395.5" stroke="#c8359f"/>
<polyline points="0,388.9 1,385.8 2,382.9 3,380.2 4,377.7 5,375.2 6,372.8 7,370.4 8,368.3 9,366.4 10,365.0 11,364.6 12,364.7 13,365.0 14,365.0 15,365.2 16,365.9 17,367.2 18,368.7 19,369.5 20,369.5 21,368.9 22,368.3 23,368.1 24,368.0 25,367.5 26,366.5 27,365.2 28,364.2" stroke="#2e2f7a"/>
<polyline points="0,397.7 1,395.2 2,392.6 3,390.0 4,387.5 5,385.1 6,383.0 7,381.2 8,378.9 9,376.4 10,374.3 11,372.9 12,372.4 13,372.8 14,373.5 15,373.7 16,373.2 17,372.2 18,371.1 19,370.0 20,369.0 21,368.2 22,367.6 23,367.6 24,368.2 25,369.2 26,369.8 27,369.7 28,368.8" stroke="#2e2f7a"/>
<polyline points="0,391.3 1,388.7 2,386.1 3,383.7 4,381.3 5,379.1 6,376.9 7,374.9 8,372.8 9,371.1 10,370.3 11,370.6 12,371.4 13,372.3 14,373.1 15,373.5 16,373.6 17,373.3 18,372.6 19,371.6 20,370.5 21,369.7 22,369.1 23,368.7 24,368.4 25,368.1 26,367.9 27,368.1 28,368.6" stroke="#2e2f7a"/>
<polyline points="0,380.6 1,379.7 2,378.9 3,378.1 4,377.2 5,376.3 6,375.3 7,374.0 8,371.8 9,369.5 10,367.8 11,366.4 12,365.2 13,363.9 14,363.3 15,363.9 16,365.2 17,366.6 18,367.2 19,367.1 20,366.5 21,366.0 22,365.8 23,365.8 24,365.8 25,365.7 26,365.7 27,366.1 28,366.9" stroke="#2e2f7a"/>
<polyline points="0,330.7 1,335.7 2,342.3 3,348.8 4,354.9 5,360.8 6,366.0 7,369.8 8,372.6 9,375.8 10,379.7 11,383.7 12,386.7 13,388.4 14,389.7 15,391.0 16,392.1 17,392.9 18,392.9 19,392.2 20,391.0 21,389.7 22,388.7 23,387.9 24,387.7 25,388.1 26,389.4 27,391.2 28,392.8" stroke="#c8359f"/>
<polyline points="0,405.6 1,399.0 2,392.9 3,387.2 4,381.8 5,376.7 6,372.1 7,368.2 8,365.6 9,362.8 10,360.7 11,360.1 12,360.3 13,360.0 14,358.7 15,356.8 16,355.3 17,354.2 18,353.3 19,352.3 20,351.8 21,352.1 22,353.2 23,354.6 24,355.0 25,353.8 26,351.1 27,348.1 28,346.0" stroke="#2e2f7a"/>
<polyline points="0,376.8 1,376.8 2,376.8 3,376.7 4,376.5 5,376.2 6,375.8 7,374.9 8,372.5 9,370.1 10,368.2 11,367.1 12,366.7 13,366.2 14,365.1 15,363.2 16,361.4 17,360.5 18,361.0 19,362.8 20,364.8 21,366.2 22,366.6 23,366.3 24,365.7 25,365.2 26,364.9 27,364.7 28,364.8" stroke="#2e2f7a"/>
<polyline points="0,399.2 1,397.0 2,394.5 3,392.0 4,389.6 5,387.4 6,385.4 7,383.8 8,381.2 9,378.2 10,375.5 11,373.6 12,372.5 13,371.8 14,371.1 15,370.6 16,370.0 17,369.1 18,367.7 19,366.1 20,365.0 21,365.0 22,366.1 23,367.8 24,369.2 25,369.5 26,368.7 27,367.2 28,365.8" stroke="#2e2f7a"/>
<polyline points="0,335.4 1,340.9 2,346.4 3,351.9 4,357.1 5,362.2 6,366.8 7,370.1 8,372.2 9,373.8 10,375.2 11,376.3 12,376.3 13,375.8 14,375.8 15,376.6 16,377.9 17,378.7 18,379.1 19,379.3 20,379.4 21,379.3 22,378.9 23,377.9 24,376.8 25,376.0 26,375.8 27,376.2 28,376.5" stroke="#c8359f"/>
<polyline points="0,371.6 1,374.1 2,376.1 3,378.1 4,380.2 5,382.5 6,384.9 7,387.4 8,389.5 9,391.1 10,392.4 11,393.4 12,393.9 13,394.5 14,396.2 15,398.1 16,398.9 17,398.2 18,396.7 19,395.7 20,395.7 21,396.3 22,396.8 23,396.4 24,395.6 25,395.0 26,395.3 27,396.0 28,396.2" stroke="#c8359f"/>
<polyline points="0,353.5 1,356.4 2,359.4 3,362.4 4,365.3 5,368.4 6,371.2 7,373.6 8,375.5 9,376.8 10,378.2 11,380.1 12,381.5 13,381.7 14,380.5 15,378.5 16,376.4 17,375.1 18,374.9 19,375.8 20,377.4 21,379.1 22,380.7 23,382.0 24,382.7 25,383.0 26,383.0 27,383.1 28,383.6" stroke="#c8359f"/>
<polyline points="0,351.7 1,357.4 2,362.5 3,367.5 4,372.2 5,377.0 6,381.4 7,385.3 8,387.4 9,389.0 10,390.2 11,391.1 12,391.6 13,391.9 14,392.8 15,394.6 16,396.3 17,397.3 18,397.1 19,396.0 20,394.5 21,393.3 22,392.7 23,392.9 24,393.5 25,394.3 26,395.2 27,395.8 28,395.8" stroke="#c8359f"/>
<polyline points="0,331.4 1,338.5 2,345.5 3,352.2 4,358.6 5,364.8 6,370.4 7,374.5 8,376.6 9,378.0 10,379.8 11,382.1 12,384.2 13,385.7 14,386.7 15,387.3 16,387.4 17,387.4 18,387.3 19,387.4 20,387.8 21,388.4 22,388.6 23,388.0 24,386.4 25,384.3 26,382.5 27,381.4 28,381.3" stroke="#c8359f"/>
<polyline points="0,357.7 1,357.8 2,358.6 3,359.6 4,360.7 5,362.0 6,363.2 7,364.1 8,366.8 9,370.0 10,374.2 11,379.4 12,384.7 13,389.3 14,392.8 15,394.0 16,392.7 17,390.5 18,388.2 19,387.1 20,387.5 21,388.6 22,389.1 23,388.3 24,386.6 25,384.5 26,382.8 27,381.7 28,380.7" stroke="#c8359f"/>
<polyline points="0,393.8 1,391.3 2,388.7 3,386.2 4,383.9 5,381.6 6,379.5 7,377.6 8,375.7 9,374.7 10,374.8 11,375.5 12,376.0 13,376.5 14,377.5 15,378.6 16,378.8 17,378.0 18,376.9 19,376.5 20,377.5 21,379.4 22,380.9 23,381.1 24,380.1 25,379.1 26,379.1 27,380.6 28,382.5" stroke="#2e2f7a"/>
<polyline points="0,385.8 1,385.6 2,385.0 3,384.3 4,383.7 5,383.0 6,382.2 7,381.4 8,378.7 9,375.3 10,371.2 11,366.9 12,363.5 13,361.8 14,362.3 15,363.8 16,364.9 17,364.8 18,363.8 19,362.2 20,360.6 21,359.2 22,358.3 23,358.4 24,359.8 25,362.0 26,364.2 27,365.3 28,364.8" stroke="#2e2f7a"/>
<polyline points="0,362.4 1,364.9 2,367.2 3,369.4 4,371.3 5,372.9 6,374.0 7,374.2 8,371.8 9,369.4 10,367.3 11,365.8 12,364.4 13,362.3 14,360.1 15,358.8 16,359.1 17,360.3 18,361.7 19,362.5 20,362.5 21,362.4 22,362.7 23,363.5 24,364.2 25,364.3 26,363.7 27,362.9 28,362.6" stroke="#2e2f7a"/>
<polyline points="0,344.3 1,350.5 2,356.3 3,361.9 4,367.3 5,372.5 6,377.4 7,381.4 8,383.2 9,383.8 10,383.6 11,382.9 12,382.0 13,381.5 14,381.9 15,383.0 16,384.2 17,384.6 18,384.7 19,384.5 20,384.4 21,384.4 22,384.3 23,384.2 24,384.1 25,383.7 26,382.9 27,381.4 28,379.1" stroke="#c8359f"/>
<polyline points="0,390.4 1,387.6 2,384.9 3,382.4 4,380.0 5,377.6 6,375.4 7,373.2 8,371.7 9,371.1 10,371.2 11,371.8 12,372.8 13,374.2 14,375.8 15,376.8 16,377.2 17,377.4 18,377.8 19,378.1 20,378.2 21,378.1 22,377.8 23,377.7 24,378.0 25,378.8 26,379.4 27,379.3 28,378.2" stroke="#2e2f7a"/>
<polyline points="0,365.0 1,366.1 2,367.3 3,368.5 4,369.4 5,370.2 6,370.5 7,370.0 8,367.1 9,363.6 10,360.2 11,357.3 12,354.9 13,353.2 14,352.3 15,352.3 16,352.6 17,352.6 18,352.4 19,352.2 20,352.0 21,351.7 22,351.1 23,350.1 24,348.9 25,347.9 26,347.5 27,347.7 28,348.3" stroke="#2e2f7a"/>
<polyline points="0,397.4 1,393.7 2,390.2 3,386.8 4,383.6 5,380.5 6,377.7 7,375.2 8,373.6 9,372.7 10,372.0 11,371.8 12,372.7 13,374.4 14,375.8 15,376.0 16,375.6 17,376.2 18,378.3 19,381.0 20,382.8 21,383.0 22,382.2 23,381.5 24,382.0 25,383.4 26,384.3 27,383.8 28,382.0" stroke="#2e2f7a"/>
<polyline points="0,382.4 1,381.0 2,379.7 3,378.4 4,377.2 5,375.9 6,374.6 7,373.0 8,371.2 9,370.4 10,370.5 11,371.3 12,372.0 13,372.2 14,371.7 15,370.7 16,369.7 17,368.9 18,368.4 19,368.1 20,368.2 21,368.7 22,369.5 23,370.5 24,371.7 25,372.7 26,373.7 27,374.3 28,374.6" stroke="#2e2f7a"/>
<polyline points="0,349.9 1,355.3 2,360.2 3,365.0 4,369.6 5,374.2 6,378.5 7,382.0 8,384.0 9,385.1 10,385.6 11,385.9 12,386.0 13,386.5 14,387.4 15,388.0 16,388.1 17,388.1 18,388.7 19,390.0 20,391.1 21,391.3 22,390.5 23,389.2 24,388.3 25,388.2 26,388.4 27,388.2 28,387.2" stroke="#c8359f"/>
<polyline points="0,404.1 1,399.1 2,394.3 3,389.7 4,385.4 5,381.4 6,377.7 7,374.7 8,372.3 9,369.9 10,367.5 11,364.9 12,362.6 13,361.3 14,361.5 15,362.5 16,363.1 17,363.1 18,362.8 19,363.1 20,364.1 21,365.5 22,366.7 23,367.4 24,367.9 25,368.6 26,369.6 27,370.6 28,370.9" stroke="#2e2f7a"/>
<polyline points="0,347.0 1,352.0 2,356.9 3,361.6 4,366.2 5,370.7 6,374.9 7,378.3 8,380.9 9,384.0 10,387.2 11,389.4 12,390.3 13,391.0 14,392.4 15,393.1 16,392.3 17,390.7 18,390.2 19,392.0 20,395.1 21,397.4 22,397.1 23,394.5 24,391.9 25,391.5 26,393.4 27,396.0 28,396.9" stroke="#c8359f"/>
<polyline points="0,380.2 1,380.4 2,380.4 3,380.3 4,380.2 5,379.9 6,379.5 7,378.8 8,376.5 9,374.5 10,373.0 11,372.3 12,372.0 13,371.8 14,371.7 15,371.5 16,371.3 17,371.1 18,370.7 19,370.3 20,369.8 21,369.4 22,369.4 23,369.8 24,370.5 25,371.6 26,373.0 27,374.7 28,376.7" stroke="#2e2f7a"/>
<polyline points="0,346.3 1,354.1 2,361.0 3,367.5 4,373.8 5,380.0 6,385.7 7,390.6 8,392.4 9,393.3 10,394.4 11,395.7 12,395.6 13,393.7 14,391.9 15,392.1 16,394.1 17,395.6 18,395.6 19,394.2 20,392.9 21,393.1 22,395.2 23,397.4 24,398.2 25,397.2 26,395.8 27,395.8 28,397.5" stroke="#c8359f"/>
<polyline points="0,381.9 1,382.1 2,382.0 3,381.8 4,381.6 5,381.3 6,380.9 7,380.2 8,377.8 9,375.4 10,373.2 11,371.3 12,369.4 13,368.0 14,367.4 15,367.7 16,368.1 17,368.2 18,367.9 19,367.4 20,367.1 21,366.9 22,366.8 23,366.8 24,366.9 25,367.2 26,367.9 27,368.6 28,369.0" stroke="#2e2f7a"/>
<polyline points="0,404.2 1,400.3 2,396.2 3,392.4 4,388.7 5,385.3 6,382.2 7,379.7 8,377.0 9,374.0 10,371.4 11,369.7 12,369.0 13,369.0 14,369.5 15,370.3 16,370.9 17,371.0 18,370.7 19,370.2 20,369.5 21,368.5 22,367.2 23,365.5 24,363.6 25,362.1 26,361.3 27,361.6 28,362.6" stroke="#2e2f7a"/>
<polyline points="0,391.6 1,390.2 2,388.5 3,386.8 4,385.1 5,383.5 6,382.1 7,380.7 8,378.7 9,377.0 10,375.4 11,373.9 12,372.9 13,373.0 14,374.3 15,375.7 16,376.5 17,376.7 18,376.7 19,376.6 20,376.2 21,375.1 22,373.7 23,372.8 24,373.1 25,374.6 26,376.4 27,377.4 28,376.8" stroke="#2e2f7a"/>
<polyline points="0,370.9 1,371.8 2,372.7 3,373.7 4,374.7 5,376.1 6,377.6 7,379.2 8,381.5 9,383.4 10,385.7 11,388.3 12,390.4 13,391.8 14,392.9 15,394.1 16,394.8 17,394.8 18,393.8 19,392.2 20,390.7 21,389.7 22,389.2 23,388.9 24,388.5 25,388.0 26,387.6 27,387.5 28,387.7" stroke="#c8359f"/>
<polyline points="0,393.6 1,390.4 2,387.4 3,384.5 4,381.7 5,379.1 6,376.6 7,374.3 8,372.1 9,370.2 10,369.1 11,368.8 12,369.2 13,369.8 14,369.8 15,368.5 16,366.6 17,364.9 18,364.4 19,365.1 20,366.7 21,368.1 22,368.6 23,368.4 24,368.0 25,367.7 26,367.7 27,367.7 28,367.8" stroke="#2e2f7a"/>
<polyline points="0,358.7 1,361.4 2,364.0 3,366.7 4,369.4 5,372.2 6,374.9 7,377.2 8,379.1 9,379.8 10,380.4 11,382.0 12,384.2 13,385.0 14,383.9 15,382.3 16,382.1 17,383.6 18,385.5 19,385.8 20,383.9 21,380.9 22,379.0 23,379.0 24,380.4 25,381.0 26,379.8 27,377.5 28,375.9" stroke="#c8359f"/>
<polyline points="0,392.8 1,388.8 2,385.2 3,381.8 4,378.6 5,375.5 6,372.5 7,369.8 8,368.2 9,367.7 10,368.4 11,369.8 12,371.2 13,372.0 14,372.5 15,372.9 16,373.3 17,374.1 18,374.7 19,374.8 20,374.5 21,374.1 22,373.8 23,373.6 24,373.5 25,373.5 26,373.6 27,373.7 28,373.8" stroke="#2e2f7a"/>
<polyline points="0,404.9 1,399.8 2,394.9 3,390.2 4,385.8 5,381.7 6,377.9 7,374.8 8,372.1 9,368.8 10,365.2 11,361.8 12,358.7 13,356.5 14,355.6 15,356.1 16,357.2 17,358.0 18,358.6 19,359.3 20,360.0 21,360.5 22,360.4 23,359.6 24,358.3 25,356.9 26,355.7 27,354.9 28,354.1" stroke="#2e2f7a"/>
<polyline points="0,404.5 1,399.2 2,394.3 3,389.5 4,385.1 5,380.9 6,377.1 7,374.0 8,371.6 9,369.2 10,367.0 11,365.8 12,365.3 13,364.8 14,363.7 15,362.7 16,362.3 17,362.8 18,363.5 19,363.7 20,363.0 21,362.1 22,362.1 23,363.5 24,365.6 25,367.5 26,368.4 27,368.7 28,369.0" stroke="#2e2f7a"/>
<polyline points="0,367.5 1,368.8 2,370.0 3,371.3 4,372.7 5,374.4 6,376.1 7,377.8 8,379.9 9,381.3 10,382.4 11,383.8 12,384.7 13,384.6 14,384.0 15,383.7 16,384.3 17,385.8 18,387.4 19,388.5 20,388.7 21,388.2 22,387.6 23,387.2 24,386.8 25,386.0 26,384.4 27,382.5 28,380.8" stroke="#c8359f"/>
<polyline points="0,340.5 1,345.7 2,350.9 3,356.0 4,360.9 5,365.6 6,370.0 7,373.3 8,375.6 9,377.7 10,379.6 11,381.1 12,381.7 13,381.4 14,381.4 15,382.4 16,384.6 17,387.3 18,390.0 19,392.0 20,392.7 21,392.0 22,390.2 23,387.9 24,385.8 25,384.1 26,383.2 27,382.6 28,382.1" stroke="#c8359f"/>
<polyline points="0,342.9 1,347.5 2,352.1 3,356.6 4,361.0 5,365.3 6,369.3 7,372.3 8,374.9 9,377.9 10,381.6 11,385.9 12,390.2 13,393.7 14,396.2 15,397.3 16,397.1 17,396.5 18,395.6 19,394.7 20,393.9 21,393.3 22,392.8 23,392.5 24,392.3 25,392.1 26,391.7 27,391.2 28,390.7" stroke="#c8359f"/>
<polyline points="0,370.3 1,372.0 2,373.4 3,374.7 4,375.8 5,376.7 6,377.3 7,377.2 8,375.0 9,373.2 10,371.8 11,370.7 12,369.5 13,368.4 14,368.0 15,368.5 16,369.9 17,371.5 18,372.8 19,373.5 20,373.5 21,373.0 22,372.5 23,372.4 24,372.8 25,373.6 26,375.0 27,376.7 28,378.6" stroke="#2e2f7a"/>
<polyline points="0,401.8 1,397.2 2,392.8 3,388.5 4,384.6 5,380.8 6,377.4 7,374.5 8,372.2 9,369.8 10,367.5 11,365.5 12,364.6 13,365.1 14,366.2 15,366.9 16,366.6 17,366.1 18,366.4 19,367.4 20,368.2 21,367.9 22,366.4 23,364.4 24,363.1 25,363.3 26,364.2 27,364.9 28,364.7" stroke="#2e2f7a"/>
<polyline points="0,389.5 1,388.1 2,386.6 3,385.0 4,383.5 5,382.1 6,380.7 7,379.3 8,377.0 9,374.5 10,371.5 11,369.1 12,368.4 13,369.7 14,371.2 15,371.0 16,369.3 17,368.0 18,368.3 19,370.0 20,371.4 21,371.2 22,369.6 23,368.3 24,368.5 25,369.9 26,371.0 27,369.8 28,366.6" stroke="#2e2f7a"/>
<polyline points="0,358.4 1,360.6 2,362.9 3,365.2 4,367.6 5,370.1 6,372.5 7,374.5 8,376.3 9,377.2 10,378.2 11,379.4 12,379.0 13,377.0 14,375.2 15,375.7 16,378.0 17,379.8 18,379.8 19,378.4 20,376.9 21,376.7 22,377.9 23,379.0 24,378.6 25,376.8 26,374.9 27,374.5 28,375.9" stroke="#c8359f"/>
<polyline points="0,343.3 1,348.1 2,352.9 3,357.6 4,362.1 5,366.6 6,370.6 7,373.8 8,376.3 9,378.8 10,381.8 11,385.5 12,388.9 13,391.2 14,392.3 15,392.6 16,392.6 17,392.9 18,393.3 19,393.3 20,392.9 21,392.3 22,391.8 23,391.7 24,391.7 25,391.7 26,391.4 27,391.0 28,391.0" stroke="#c8359f"/>
<polyline points="0,345.2 1,350.6 2,355.7 3,360.7 4,365.6 5,370.4 6,374.8 7,378.3 8,380.6 9,382.7 10,384.6 11,386.2 12,386.9 13,386.7 14,386.1 15,385.5 16,385.1 17,385.1 18,385.6 19,386.3 20,386.8 21,386.6 22,385.9 23,385.3 24,385.4 25,386.2 26,387.2 27,387.6 28,387.1" stroke="#c8359f"/>
<polyline points="0,383.8 1,380.5 2,377.7 3,375.1 4,372.5 5,370.1 6,367.6 7,365.0 8,363.5 9,363.1 10,363.7 11,365.5 12,368.1 13,370.5 14,372.1 15,372.5 16,372.0 17,371.6 18,370.9 19,369.9 20,368.9 21,368.5 22,369.1 23,370.6 24,372.3 25,373.4 26,373.2 27,371.8 28,370.0" stroke="#2e2f7a"/>
<polyline points="0,404.2 1,400.5 2,396.6 3,392.9 4,389.4 5,386.2 6,383.2 7,380.9 8,379.1 9,378.4 10,378.7 11,379.6 12,380.7 13,381.8 14,383.1 15,384.1 16,384.5 17,384.5 18,384.1 19,383.8 20,383.6 21,383.8 22,384.3 23,384.6 24,384.9 25,385.5 26,386.7 27,388.3 28,390.0" stroke="#2e2f7a"/>
<polyline points="0,356.3 1,359.5 2,362.6 3,365.7 4,368.7 5,371.9 6,374.9 7,377.4 8,379.6 9,381.4 10,383.0 11,384.5 12,385.4 13,386.1 14,386.9 15,387.7 16,388.1 17,388.1 18,387.9 19,388.0 20,388.3 21,388.6 22,388.6 23,388.3 24,387.9 25,387.6 26,387.4 27,387.1 28,386.4" stroke="#c8359f"/>
<polyline points="0,415.4 1,407.1 2,399.4 3,392.1 4,385.3 5,379.0 6,373.3 7,368.7 8,366.8 9,365.9 10,366.1 11,366.6 12,366.7 13,366.3 14,366.3 15,366.8 16,367.4 17,368.0 18,368.5 19,369.1 20,370.0 21,370.8 22,371.1 23,370.4 24,369.3 25,368.8 26,369.8 27,372.1 28,375.0" stroke="#2e2f7a"/>
<polyline points="0,355.2 1,358.2 2,361.2 3,364.1 4,367.1 5,370.1 6,373.0 7,375.4 8,377.5 9,378.9 10,380.1 11,381.1 12,381.3 13,380.6 14,380.1 15,380.3 16,381.2 17,382.2 18,383.0 19,383.3 20,382.9 21,382.0 22,380.8 23,379.5 24,378.7 25,378.3 26,378.4 27,378.6 28,378.6" stroke="#c8359f"/>
<polyline points="0,387.0 1,384.5 2,382.2 3,380.0 4,377.9 5,375.8 6,373.8 7,371.7 8,369.9 9,369.0 10,369.5 11,371.5 12,373.6 13,374.3 14,373.2 15,370.9 16,369.3 17,369.3 18,370.5 19,372.2 20,373.7 21,374.8 22,375.4 23,375.6 24,375.3 25,374.3 26,372.9 27,371.8 28,371.9" stroke="#2e2f7a"/>
<polyline points="0,400.6 1,395.5 2,390.9 3,386.4 4,382.2 5,378.3 6,374.6 7,371.5 8,369.1 9,366.9 10,365.2 11,364.2 12,363.5 13,363.1 14,363.0 15,363.0 16,362.6 17,361.8 18,361.0 19,360.8 20,361.4 21,362.3 22,362.6 23,361.9 24,360.4 25,358.6 26,357.2 27,356.2 28,355.4" stroke="#2e2f7a"/>
<polyline points="0,401.1 1,396.3 2,391.9 3,387.6 4,383.6 5,379.8 6,376.3 7,373.3 8,371.4 9,369.9 10,369.0 11,369.2 12,370.1 13,371.0 14,371.5 15,371.7 16,372.1 17,373.4 18,374.8 19,375.6 20,375.2 21,374.2 22,373.6 23,373.9 24,374.9 25,376.1 26,376.7 27,377.0 28,377.5" stroke="#2e2f7a"/>
<polyline points="0,395.6 1,393.5 2,391.2 3,389.0 4,386.8 5,384.8 6,382.9 7,381.2 8,379.2 9,377.6 10,376.7 11,376.5 12,376.2 13,375.5 14,375.0 15,375.2 16,376.1 17,377.0 18,377.4 19,376.9 20,376.3 21,376.2 22,376.8 23,377.8 24,378.5 25,378.5 26,378.2 27,378.1 28,378.5" stroke="#2e2f7a"/>
<polyline points="0,368.6 1,368.9 2,369.4 3,370.0 4,370.8 5,371.9 6,373.1 7,374.3 8,376.2 9,377.3 10,378.2 11,379.1 12,379.7 13,379.9 14,380.5 15,381.5 16,382.3 17,382.4 18,381.9 19,381.4 20,381.0 21,381.0 22,381.1 23,380.9 24,380.4 25,379.9 26,379.7 27,379.9 28,380.3" stroke="#c8359f"/>
<polyline points="0,383.0 1,382.0 2,381.0 3,380.0 4,379.0 5,377.9 6,376.8 7,375.5 8,373.2 9,371.3 10,370.2 11,369.6 12,368.8 13,367.8 14,366.7 15,365.9 16,365.4 17,365.4 18,365.7 19,366.4 20,367.1 21,367.4 22,366.9 23,365.8 24,364.6 25,363.9 26,364.1 27,365.1 28,366.5" stroke="#2e2f7a"/>
<polyline points="0,347.2 1,351.2 2,355.3 3,359.3 4,363.2 5,367.1 6,370.6 7,373.4 8,375.7 9,377.9 10,380.4 11,382.9 12,384.4 13,385.0 14,385.9 15,387.9 16,389.7 17,390.2 18,389.1 19,387.2 20,385.7 21,385.5 22,386.4 23,387.1 24,387.1 25,386.4 26,386.1 27,386.7 28,387.9" stroke="#c8359f"/>
<polyline points="0,410.7 1,403.9 2,397.5 3,391.4 4,385.7 5,380.4 6,375.6 7,371.7 8,369.8 9,368.6 10,368.5 11,369.5 12,370.7 13,371.9 14,372.7 15,373.2 16,373.2 17,372.8 18,371.7 19,370.2 20,369.0 21,368.5 22,368.9 23,369.7 24,370.5 25,371.0 26,371.3 27,371.8 28,372.5" stroke="#2e2f7a"/>
<polyline points="0,398.0 1,394.4 2,390.9 3,387.6 4,384.4 5,381.4 6,378.7 7,376.3 8,373.9 9,371.4 10,369.3 11,367.9 12,367.0 13,366.6 14,367.2 15,368.7 16,370.3 17,371.4 18,371.7 19,371.4 20,370.9 21,370.4 22,369.8 23,368.7 24,367.0 25,365.2 26,364.0 27,363.6 28,364.0" stroke="#2e2f7a"/>
<polyline points="0,388.8 1,385.2 2,382.0 3,379.1 4,376.2 5,373.4 6,370.8 7,368.2 8,366.6 9,365.6 10,365.3 11,366.3 12,369.2 13,373.7 14,377.8 15,379.1 16,377.6 17,375.3 18,373.2 19,371.9 20,371.5 21,371.8 22,373.0 23,375.1 24,377.8 25,380.2 26,380.9 27,379.4 28,376.5" stroke="#2e2f7a"/>
<polyline points="0,358.7 1,358.5 2,358.9 3,359.5 4,360.3 5,361.4 6,362.3 7,363.1 8,365.7 9,368.8 10,373.0 11,377.9 12,382.2 13,384.7 14,386.3 15,387.1 16,387.5 17,387.4 18,386.9 19,386.3 20,386.5 21,387.6 22,388.9 23,389.3 24,388.2 25,386.0 26,383.9 27,383.1 28,383.5" stroke="#c8359f"/>
<polyline points="0,388.0 1,386.3 2,384.5 3,382.8 4,381.1 5,379.5 6,377.9 7,376.3 8,373.9 9,371.4 10,369.0 11,367.3 12,367.1 13,368.0 14,369.1 15,369.0 16,367.8 17,366.1 18,365.1 19,365.0 20,365.6 21,366.3 22,367.3 23,368.6 24,370.1 25,371.7 26,372.5 27,372.3 28,371.2" stroke="#2e2f7a"/>
<polyline points="0,423.3 1,415.7 2,408.3 3,401.2 4,394.5 5,388.4 6,383.0 7,378.9 8,377.1 9,375.8 10,375.0 11,374.9 12,375.4 13,376.3 14,376.8 15,376.3 16,375.0 17,374.0 18,373.5 19,373.1 20,372.6 21,372.1 22,372.0 23,373.0 24,375.2 25,377.8 26,379.7 27,380.2 28,379.5" stroke="#2e2f7a"/>
<polyline points="0,395.5 1,394.3 2,392.6 3,390.9 4,389.3 5,387.8 6,386.4 7,385.2 8,382.8 9,380.1 10,377.3 11,374.8 12,373.0 13,372.1 14,371.8 15,371.3 16,370.5 17,369.8 18,369.8 19,370.2 20,370.3 21,369.6 22,368.1 23,366.8 24,366.6 25,367.6 26,369.0 27,369.8 28,369.4" stroke="#2e2f7a"/>
<polyline points="0,410.5 1,405.2 2,400.0 3,395.0 4,390.4 5,386.0 6,382.1 7,379.1 8,376.6 9,374.1 10,371.8 11,370.0 12,368.2 13,366.6 14,365.7 15,365.8 16,366.3 17,366.7 18,366.8 19,367.0 20,367.4 21,368.1 22,368.5 23,368.3 24,367.4 25,366.4 26,365.5 27,365.2 28,365.2" stroke="#2e2f7a"/>
<polyline points="0,406.8 1,402.8 2,398.7 3,394.7 4,391.0 5,387.5 6,384.4 7,381.9 8,379.8 9,377.8 10,376.6 11,376.5 12,377.2 13,377.7 14,377.6 15,377.2 16,377.0 17,377.1 18,377.1 19,376.6 20,375.9 21,375.6 22,376.4 23,378.0 24,379.6 25,380.4 26,380.2 27,379.5 28,379.3" stroke="#2e2f7a"/>
<polyline points="0,389.4 1,388.5 2,387.2 3,386.0 4,384.8 5,383.6 6,382.4 7,381.3 8,378.2 9,374.3 10,370.3 11,366.6 12,363.0 13,359.5 14,356.4 15,354.3 16,353.2 17,352.5 18,352.1 19,351.8 20,351.4 21,350.9 22,350.0 23,349.2 24,348.8 25,348.9 26,349.2 27,349.7 28,350.1" stroke="#2e2f7a"/>
<polyline points="0,343.9 1,348.1 2,352.5 3,356.7 4,360.9 5,365.0 6,368.7 7,371.5 8,374.2 9,377.0 10,380.0 11,383.7 12,388.0 13,392.2 14,395.4 15,396.5 16,395.6 17,394.0 18,392.2 19,390.6 20,389.2 21,388.3 22,388.6 23,390.1 24,392.7 25,395.2 26,396.6 27,396.4 28,394.9" stroke="#c8359f"/>
<polyline points="0,422.9 1,416.3 2,409.5 3,403.0 4,397.0 5,391.4 6,386.5 7,383.0 8,380.9 9,379.2 10,378.1 11,377.4 12,376.7 13,376.0 14,375.8 15,376.2 16,376.9 17,377.7 18,378.3 19,378.6 20,378.5 21,378.1 22,377.3 23,376.6 24,376.0 25,375.9 26,376.1 27,376.6 28,376.8" stroke="#2e2f7a"/>
<polyline points="0,395.6 1,391.3 2,387.4 3,383.6 4,380.1 5,376.7 6,373.6 7,370.8 8,369.1 9,368.7 10,369.5 11,371.2 12,373.2 13,375.1 14,376.6 15,377.4 16,377.5 17,377.8 18,378.0 19,378.0 20,377.8 21,377.5 22,377.0 23,376.6 24,376.4 25,376.6 26,377.1 27,377.8 28,378.6" stroke="#2e2f7a"/>
<polyline points="0,381.4 1,379.8 2,378.4 3,377.1 4,375.7 5,374.4 6,373.0 7,371.3 8,369.2 9,367.5 10,366.2 11,365.4 12,364.8 13,364.6 14,364.9 15,365.5 16,366.3 17,366.8 18,367.0 19,366.8 20,366.4 21,366.1 22,366.0 23,366.2 24,366.7 25,367.4 26,368.1 27,368.7 28,369.0" stroke="#2e2f7a"/>
<polyline points="0,378.4 1,377.0 2,376.0 3,374.9 4,373.9 5,372.8 6,371.5 7,369.9 8,367.8 9,365.8 10,364.2 11,363.3 12,363.4 13,364.5 14,365.7 15,366.1 16,365.9 17,365.8 18,366.0 19,366.0 20,365.4 21,364.1 22,362.9 23,362.7 24,364.0 25,366.5 26,369.1 27,371.1 28,372.4" stroke="#2e2f7a"/>
<polyline points="0,397.3 1,393.0 2,388.9 3,385.1 4,381.4 5,378.0 6,374.8 7,371.9 8,369.3 9,365.8 10,362.1 11,358.6 12,355.9 13,354.3 14,354.0 15,354.6 16,355.1 17,355.0 18,354.1 19,352.8 20,351.6 21,351.0 22,350.7 23,351.0 24,351.4 25,351.3 26,350.3 27,348.3 28,345.4" stroke="#2e2f7a"/>
<polyline points="0,405.6 1,401.2 2,396.9 3,392.7 4,388.7 5,385.0 6,381.7 7,379.0 8,376.5 9,374.1 10,372.6 11,371.9 12,371.0 13,369.9 14,369.2 15,369.5 16,370.0 17,369.8 18,368.4 19,366.5 20,365.1 21,364.9 22,365.5 23,365.9 24,365.4 25,364.5 26,364.1 27,364.9 28,366.8" stroke="#2e2f7a"/>
<polyline points="0,408.4 1,405.2 2,401.5 3,398.0 4,394.6 5,391.5 6,388.8 7,386.8 8,384.0 9,380.6 10,377.2 11,374.4 12,372.4 13,370.8 14,369.6 15,368.6 16,367.9 17,367.3 18,366.8 19,366.6 20,366.8 21,367.4 22,368.5 23,369.8 24,371.0 25,371.8 26,372.0 27,372.0 28,372.0" stroke="#2e2f7a"/>
<polyline points="0,351.9 1,358.0 2,363.3 3,368.5 4,373.4 5,378.4 6,383.0 7,387.0 8,388.8 9,389.6 10,390.5 11,391.6 12,391.6 13,390.0 14,388.2 15,388.0 16,388.9 17,389.6 18,389.1 19,387.6 20,386.2 21,386.1 22,387.4 23,389.1 24,390.0 25,389.7 26,389.0 27,389.3 28,390.8" stroke="#c8359f"/>
<polyline points="0,364.1 1,364.9 2,365.9 3,367.1 4,368.4 5,369.9 6,371.4 7,372.8 8,375.2 9,377.5 10,380.2 11,383.5 12,387.1 13,390.1 14,391.6 15,391.4 16,390.3 17,389.8 18,390.3 19,391.4 20,392.4 21,392.7 22,392.4 23,392.0 24,391.8 25,391.8 26,391.4 27,390.7 28,390.0" stroke="#c8359f"/>
<polyline points="0,378.5 1,376.7 2,375.3 3,374.1 4,373.2 5,372.8 6,372.6 7,372.9 8,375.6 9,378.4 10,381.4 11,384.6 12,387.6 13,390.0 14,392.0 15,393.4 16,394.4 17,395.3 18,396.3 19,397.5 20,398.9 21,400.2 22,401.2 23,401.5 24,400.8 25,399.1 26,396.6 27,393.6 28,390.6" stroke="#c8359f"/>
<polyline points="0,391.1 1,387.8 2,384.8 3,381.9 4,379.2 5,376.5 6,374.0 7,371.6 8,369.2 9,366.7 10,365.0 11,364.7 12,365.7 13,367.0 14,367.4 15,366.1 16,363.6 17,361.1 18,359.2 19,358.3 20,358.5 21,359.5 22,360.9 23,362.3 24,363.4 25,363.8 26,363.4 27,362.6 28,362.0" stroke="#2e2f7a"/>
<polyline points="0,341.6 1,347.5 2,353.2 3,358.7 4,364.0 5,369.1 6,373.9 7,377.6 8,379.8 9,381.6 10,383.3 11,385.3 12,387.1 13,388.1 14,388.6 15,388.7 16,388.9 17,389.4 18,389.9 19,389.9 20,389.3 21,388.5 22,388.1 23,388.5 24,389.5 25,390.4 26,390.9 27,390.9 28,390.7" stroke="#c8359f"/>
<polyline points="0,375.8 1,377.1 2,378.1 3,379.0 4,379.7 5,380.2 6,380.6 7,380.4 8,378.3 9,376.4 10,374.8 11,373.8 12,373.2 13,373.0 14,373.0 15,372.7 16,372.2 17,371.6 18,371.3 19,371.2 20,371.4 21,372.0 22,373.1 23,374.7 24,376.6 25,378.2 26,379.3 27,379.8 28,379.7" stroke="#2e2f7a"/>
<polyline points="0,389.7 1,385.9 2,382.5 3,379.2 4,376.2 5,373.2 6,370.4 7,367.7 8,366.2 9,365.6 10,365.1 11,365.4 12,367.3 13,370.4 14,372.9 15,373.1 16,372.2 17,372.8 18,375.2 19,377.8 20,378.4 21,376.1 22,372.9 23,371.2 24,372.7 25,376.3 26,379.5 27,380.3 28,378.7" stroke="#2e2f7a"/>
<polyline points="0,344.2 1,350.4 2,356.2 3,361.8 4,367.2 5,372.5 6,377.4 7,381.3 8,382.9 9,382.8 10,381.9 11,380.6 12,378.6 13,376.1 14,374.3 15,373.8 16,374.5 17,375.3 18,376.1 19,376.6 20,376.7 21,376.5 22,375.8 23,375.0 24,374.1 25,373.2 26,372.2 27,371.1 28,369.9" stroke="#c8359f"/>
<polyline points="0,355.6 1,359.4 2,363.0 3,366.6 4,370.0 5,373.6 6,376.9 7,379.8 8,382.2 9,384.5 10,387.3 11,390.7 12,393.6 13,395.5 14,396.6 15,396.8 16,396.6 17,396.4 18,396.1 19,395.6 20,394.8 21,393.9 22,393.5 23,393.4 24,393.9 25,394.9 26,396.5 27,398.5 28,400.8" stroke="#c8359f"/>
<polyline points="0,392.3 1,391.1 2,389.6 3,388.1 4,386.6 5,385.2 6,383.8 7,382.6 8,380.1 9,377.0 10,374.2 11,372.1 12,370.9 13,370.5 14,370.7 15,371.2 16,371.5 17,371.2 18,370.1 19,368.8 20,367.7 21,367.4 22,368.1 23,369.3 24,370.5 25,371.2 26,371.3 27,371.1 28,371.0" stroke="#2e2f7a"/>
<polyline points="0,409.1 1,403.8 2,398.7 3,393.7 4,389.1 5,384.8 6,380.9 7,377.8 8,375.6 9,373.7 10,372.7 11,372.3 12,372.1 13,371.9 14,371.4 15,370.6 16,369.7 17,369.1 18,369.2 19,370.2 20,371.6 21,372.8 22,373.1 23,372.3 24,370.9 25,369.7 26,369.0 27,368.9 28,369.1" stroke="#2e2f7a"/>
<polyline points="0,356.8 1,361.0 2,364.9 3,368.6 4,372.3 5,376.1 6,379.6 7,382.8 8,384.2 9,383.9 10,382.5 11,380.9 12,379.2 13,377.7 14,376.9 15,377.0 16,377.9 17,378.9 18,380.1 19,381.0 20,381.2 21,380.6 22,379.2 23,377.7 24,376.4 25,375.1 26,373.6 27,371.5 28,369.3" stroke="#c8359f"/>
<polyline points="0,335.7 1,341.3 2,347.0 3,352.6 4,357.9 5,363.1 6,367.7 7,371.2 8,373.8 9,376.8 10,380.4 11,384.3 12,387.6 13,390.0 14,391.8 15,393.0 16,393.4 17,393.3 18,393.0 19,392.7 20,392.8 21,393.1 22,392.9 23,392.2 24,391.0 25,389.6 26,388.5 27,387.7 28,386.9" stroke="#c8359f"/>
<polyline points="0,385.0 1,383.1 2,381.3 3,379.5 4,377.8 5,376.1 6,374.4 7,372.6 8,370.3 9,368.5 10,368.0 11,368.3 12,368.3 13,367.3 14,366.3 15,365.9 16,365.8 17,365.4 18,364.3 19,362.8 20,361.9 21,362.1 22,363.1 23,363.9 24,363.9 25,363.8 26,364.6 27,366.9 28,370.6" stroke="#2e2f7a"/>
<polyline points="0,345.3 1,349.6 2,354.0 3,358.2 4,362.4 5,366.5 6,370.3 7,373.2 8,375.3 9,376.7 10,378.0 11,379.4 12,379.8 13,379.2 14,378.3 15,378.1 16,378.7 17,379.3 18,379.7 19,379.7 20,379.7 21,380.0 22,380.6 23,381.3 24,381.5 25,381.2 26,380.6 27,380.2 28,380.1" stroke="#c8359f"/>
<polyline points="0,354.7 1,358.7 2,362.5 3,366.1 4,369.7 5,373.4 6,376.8 7,379.8 8,382.1 9,384.3 10,386.5 11,388.5 12,389.4 13,389.2 14,388.7 15,388.8 16,390.0 17,391.6 18,393.0 19,393.4 20,392.3 21,390.2 22,388.1 23,386.9 24,387.0 25,388.4 26,390.6 27,393.0 28,395.2" stroke="#c8359f"/>
<polyline points="0,398.2 1,394.2 2,390.3 3,386.6 4,383.2 5,379.9 6,376.8 7,374.2 8,371.9 9,370.0 10,369.1 11,369.0 12,369.0 13,368.4 14,367.3 15,366.1 16,365.1 17,364.6 18,364.5 19,365.0 20,366.3 21,367.8 22,368.8 23,368.7 24,367.5 25,365.6 26,363.9 27,363.1 28,363.2" stroke="#2e2f7a"/>
<polyline points="0,408.9 1,402.9 2,397.1 3,391.6 4,386.5 5,381.7 6,377.3 7,373.8 8,371.6 9,369.8 10,368.5 11,367.7 12,367.3 13,367.1 14,366.6 15,365.1 16,362.9 17,360.6 18,359.3 19,359.1 20,359.7 21,360.3 22,360.6 23,361.0 24,362.0 25,363.8 26,366.0 27,367.8 28,368.4" stroke="#2e2f7a"/>
<polyline points="0,394.0 1,391.8 2,389.4 3,387.1 4,384.9 5,382.8 6,380.9 7,379.1 8,377.3 9,376.5 10,376.3 11,376.7 12,377.6 13,379.2 14,381.1 15,382.3 16,382.3 17,381.7 18,381.3 19,381.4 20,381.9 21,382.2 22,382.0 23,381.3 24,380.9 25,381.1 26,381.9 27,382.6 28,382.6" stroke="#2e2f7a"/>
<polyline points="0,354.7 1,357.8 2,360.9 3,364.0 4,367.1 5,370.2 6,373.2 7,375.6 8,378.0 9,380.3 10,383.1 11,386.5 12,389.5 13,391.4 14,392.0 15,391.6 16,391.1 17,391.0 18,391.1 19,391.0 20,390.4 21,389.6 22,388.9 23,388.5 24,388.4 25,388.3 26,388.1 27,387.8 28,387.7" stroke="#c8359f"/>
<polyline points="0,422.6 1,414.7 2,407.0 3,399.8 4,393.0 5,386.7 6,381.2 7,376.9 8,374.7 9,373.0 10,372.2 11,372.1 12,371.6 13,370.7 14,370.8 15,372.8 16,375.8 17,378.4 18,379.3 19,378.6 20,377.2 21,376.0 22,375.1 23,373.9 24,372.0 25,370.0 26,369.2 27,370.3 28,373.0" stroke="#2e2f7a"/>
<polyline points="0,405.9 1,399.7 2,393.9 3,388.4 4,383.3 5,378.5 6,374.1 7,370.5 8,368.7 9,368.0 10,368.2 11,368.1 12,367.3 13,366.7 14,367.7 15,369.8 16,371.6 17,372.3 18,371.9 19,371.6 20,371.9 21,372.7 22,372.9 23,372.0 24,370.6 25,370.0 26,371.1 27,373.3 28,375.3" stroke="#2e2f7a"/>
<polyline points="0,403.4 1,398.5 2,393.8 3,389.3 4,385.1 5,381.1 6,377.5 7,374.5 8,371.9 9,368.9 10,366.3 11,364.5 12,363.1 13,361.3 14,358.9 15,356.6 16,355.5 17,355.7 18,356.8 19,358.1 20,358.7 21,358.8 22,358.5 23,358.5 24,358.5 25,358.3 26,357.7 27,357.1 28,357.0" stroke="#2e2f7a"/>
<polyline points="0,360.3 1,360.3 2,360.9 3,361.7 4,362.7 5,363.8 6,364.9 7,365.9 8,368.4 9,371.1 10,374.4 11,378.3 12,381.8 13,384.2 14,385.1 15,384.6 16,383.3 17,382.2 18,381.6 19,381.8 20,382.7 21,383.7 22,384.4 23,384.5 24,384.1 25,383.1 26,381.7 27,380.1 28,378.5" stroke="#c8359f"/>
<polyline points="0,405.8 1,401.7 2,397.5 3,393.5 4,389.6 5,386.1 6,382.9 7,380.4 8,378.0 9,375.7 10,373.3 11,370.9 12,368.7 13,367.1 14,366.5 15,366.0 16,365.4 17,364.5 18,364.2 19,364.9 20,366.3 21,367.9 22,369.1 23,369.9 24,370.7 25,371.9 26,373.5 27,374.7 28,375.0" stroke="#2e2f7a"/>
<polyline points="0,359.4 1,362.6 2,365.5 3,368.3 4,370.8 5,372.9 6,374.4 7,374.9 8,372.0 9,368.2 10,364.1 11,360.5 12,358.2 13,357.1 14,356.9 15,356.6 16,355.7 17,354.5 18,353.7 19,353.7 20,354.1 21,354.5 22,354.6 23,354.5 24,354.6 25,355.0 26,355.3 27,355.3 28,355.0" stroke="#2e2f7a"/>
<polyline points="0,353.8 1,358.7 2,363.2 3,367.5 4,371.7 5,376.0 6,380.0 7,383.4 8,385.3 9,386.5 10,388.2 11,390.7 12,392.9 13,393.5 14,392.3 15,390.6 16,389.5 17,389.3 18,389.8 19,390.6 20,391.5 21,392.5 22,393.2 23,393.3 24,392.3 25,390.0 26,387.1 27,384.8 28,383.9" stroke="#c8359f"/>
<polyline points="0,419.4 1,412.9 2,406.4 3,400.2 4,394.4 5,389.1 6,384.3 7,380.8 8,378.5 9,376.2 10,374.6 11,374.3 12,374.6 13,374.8 14,374.2 15,373.1 16,372.2 17,371.9 18,371.8 19,371.5 20,370.7 21,370.0 22,369.6 23,369.9 24,370.5 25,370.8 26,370.5 27,369.9 28,369.8" stroke="#2e2f7a"/>
<polyline points="0,364.2 1,366.2 2,368.1 3,370.0 4,372.1 5,374.3 6,376.5 7,378.5 8,380.7 9,382.3 10,383.9 11,385.7 12,387.3 13,388.3 14,388.7 15,388.6 16,387.9 17,387.1 18,386.5 19,386.4 20,386.5 21,386.5 22,386.4 23,386.2 24,386.2 25,386.2 26,386.1 27,385.7 28,384.8" stroke="#c8359f"/>
<polyline points="0,407.6 1,404.1 2,400.4 3,396.7 4,393.2 5,390.1 6,387.2 7,385.1 8,382.6 9,379.6 10,376.5 11,373.6 12,370.9 13,368.6 14,367.0 15,366.5 16,366.8 17,367.3 18,368.0 19,368.8 20,369.5 21,370.2 22,370.7 23,370.9 24,371.0 25,370.9 26,370.5 27,370.0 28,369.3" stroke="#2e2f7a"/>
<polyline points="0,374.3 1,372.6 2,371.4 3,370.5 4,369.8 5,369.6 6,369.5 7,369.8 8,372.5 9,375.5 10,379.1 11,382.7 12,385.2 13,386.4 14,387.8 15,390.0 16,392.3 17,393.4 18,392.9 19,391.5 20,390.4 21,390.4 22,391.1 23,391.5 24,390.7 25,389.1 26,387.4 27,386.5 28,386.0" stroke="#c8359f"/>
<polyline points="0,380.6 1,378.2 2,376.1 3,374.2 4,372.3 5,370.5 6,368.5 7,366.4 8,364.7 9,364.0 10,364.1 11,365.2 12,366.8 13,368.1 14,368.6 15,368.7 16,369.3 17,371.0 18,372.7 19,373.1 20,371.6 21,369.2 22,367.5 23,367.6 24,369.3 25,371.6 26,373.3 27,374.0 28,374.3" stroke="#2e2f7a"/>
<polyline points="0,407.2 1,400.0 2,393.5 3,387.3 4,381.5 5,376.1 6,371.2 7,367.0 8,365.5 9,365.1 10,365.5 11,366.6 12,368.3 13,370.9 14,373.8 15,375.6 16,375.6 17,374.7 18,373.6 19,373.0 20,372.9 21,373.1 22,373.1 23,372.8 24,372.8 25,373.1 26,373.3 27,373.0 28,371.5" stroke="#2e2f7a"/>
<polyline points="0,367.4 1,370.7 2,373.5 3,375.9 4,378.2 5,380.1 6,381.7 7,382.4 8,380.2 9,378.5 10,377.8 11,377.8 12,377.7 13,377.5 14,377.7 15,378.2 16,378.5 17,378.2 18,377.7 19,377.4 20,377.8 21,378.6 22,379.3 23,379.1 24,378.2 25,377.2 26,377.1 27,378.1 28,379.8" stroke="#2e2f7a"/>
<polyline points="0,398.4 1,393.0 2,388.1 3,383.5 4,379.2 5,375.1 6,371.2 7,367.8 8,366.4 9,366.2 10,367.2 11,368.8 12,371.0 13,373.7 14,376.7 15,379.0 16,380.2 17,380.5 18,379.8 19,378.3 20,376.5 21,375.0 22,374.9 23,376.0 24,378.3 25,381.4 26,384.9 27,388.3 28,391.1" stroke="#2e2f7a"/>
<polyline points="0,380.6 1,379.2 2,378.0 3,376.9 4,375.7 5,374.5 6,373.2 7,371.7 8,369.8 9,368.7 10,368.4 11,368.9 12,369.6 13,369.7 14,368.9 15,367.9 16,367.8 17,368.6 18,369.4 19,369.1 20,367.5 21,365.8 22,365.6 23,367.3 24,370.4 25,373.6 26,375.9 27,377.2 28,378.1" stroke="#2e2f7a"/>
<polyline points="0,400.7 1,395.4 2,390.6 3,386.0 4,381.7 5,377.6 6,373.8 7,370.6 8,368.7 9,367.9 10,368.3 11,368.9 12,368.6 13,368.2 14,369.4 15,371.9 16,374.0 17,374.5 18,373.6 19,372.7 20,373.3 21,375.2 22,376.5 23,375.7 24,372.8 25,369.7 26,368.3 27,369.3 28,371.1" stroke="#2e2f7a"/>
<polyline points="0,398.7 1,395.2 2,391.6 3,388.2 4,385.0 5,382.0 6,379.2 7,376.8 8,374.4 9,371.7 10,369.2 11,367.5 12,366.6 13,366.6 14,367.1 15,367.8 16,368.5 17,369.2 18,369.9 19,370.3 20,370.2 21,369.4 22,367.6 23,365.4 24,363.3 25,361.4 26,359.4 27,357.5 28,355.5" stroke="#2e2f7a"/>
</g>
<path d="M535.6 358.54 L537.91 359.74 L540.22 360.94 L542.53 362.15 L544.85 363.35 L547.16 364.55 L549.47 365.75 L551.78 366.94 L554.09 368.14 L556.4 369.38 L558.72 370.65 L561.03 371.92 L563.34 373.16 L565.65 374.34 L567.96 375.44 L570.27 376.44 L572.59 377.56 L574.9 378.51 L577.21 379.36 L579.52 380.15 L581.83 380.93 L584.14 381.78 L586.46 382.74 L588.77 383.69 L591.08 384.58 L593.39 385.35 L595.7 385.97 L598.01 386.41 L600.33 386.72 L602.64 386.96 L604.95 387.15 L607.26 387.32 L609.57 387.43 L611.88 387.52 L614.2 387.61 L616.51 387.69 L618.82 387.76 L621.13 387.82 L623.44 387.86 L625.75 387.88 L628.07 387.88 L630.38 387.86 L632.69 387.82 L635 387.76 L637.31 387.68 L639.62 387.58 L641.94 387.47 L644.25 387.35 L646.56 387.21 L648.87 387.06 L651.18 386.9 L653.5 386.74 L655.81 386.54 L658.12 386.31 L660.43 386.07 L662.74 385.82 L665.05 385.55 L667.37 385.28 L669.68 385.01 L671.99 384.74 L674.3 384.48" fill="none" stroke="#c8359f" stroke-width="2.9" stroke-linecap="round"/>
<path d="M535.6 389.56 L537.91 388.63 L540.22 387.69 L542.53 386.75 L544.85 385.81 L547.16 384.88 L549.47 383.97 L551.78 383.07 L554.09 382.19 L556.4 381.32 L558.72 380.46 L561.03 379.61 L563.34 378.78 L565.65 377.97 L567.96 377.16 L570.27 376.37 L572.59 375.33 L574.9 374.27 L577.21 373.25 L579.52 372.29 L581.83 371.44 L584.14 370.71 L586.46 370.09 L588.77 369.6 L591.08 369.22 L593.39 368.9 L595.7 368.61 L598.01 368.37 L600.33 368.19 L602.64 368.06 L604.95 367.98 L607.26 367.94 L609.57 367.93 L611.88 367.94 L614.2 367.97 L616.51 368.01 L618.82 368.05 L621.13 368.11 L623.44 368.16 L625.75 368.22 L628.07 368.27 L630.38 368.32 L632.69 368.37 L635 368.42 L637.31 368.47 L639.62 368.51 L641.94 368.57 L644.25 368.62 L646.56 368.68 L648.87 368.74 L651.18 368.81 L653.5 368.88 L655.81 368.97 L658.12 369.06 L660.43 369.17 L662.74 369.27 L665.05 369.38 L667.37 369.49 L669.68 369.6 L671.99 369.71 L674.3 369.82" fill="none" stroke="#27296a" stroke-width="3" stroke-linecap="round"/>
<line x1="529.6" y1="376.4" x2="674.3" y2="376.4" stroke="#777" stroke-width="0.5" stroke-dasharray="1 1"/>
<line x1="570.2" y1="326.7" x2="570.2" y2="427.8" stroke="#333" stroke-width="0.6"/>
<line x1="529.6" y1="329.7" x2="529.6" y2="427.8" stroke="#333" stroke-width="0.7"/>
<line x1="529.6" y1="427.8" x2="674.3" y2="427.8" stroke="#333" stroke-width="0.7"/>
<line x1="527.6" y1="338.8" x2="529.6" y2="338.8" stroke="#333" stroke-width="0.6"/>
<text transform="translate(524.4 338.8) rotate(-90)" x="0" y="3.13" font-size="8.7" text-anchor="middle">2</text>
<line x1="527.6" y1="357.6" x2="529.6" y2="357.6" stroke="#333" stroke-width="0.6"/>
<text transform="translate(524.4 357.6) rotate(-90)" x="0" y="3.13" font-size="8.7" text-anchor="middle">1</text>
<line x1="527.6" y1="376.4" x2="529.6" y2="376.4" stroke="#333" stroke-width="0.6"/>
<text transform="translate(524.4 376.4) rotate(-90)" x="0" y="3.13" font-size="8.7" text-anchor="middle">0</text>
<line x1="527.6" y1="395.2" x2="529.6" y2="395.2" stroke="#333" stroke-width="0.6"/>
<text transform="translate(524.4 395.2) rotate(-90)" x="0" y="3.13" font-size="8.7" text-anchor="middle">-1</text>
<line x1="527.6" y1="414" x2="529.6" y2="414" stroke="#333" stroke-width="0.6"/>
<text transform="translate(524.4 414) rotate(-90)" x="0" y="3.13" font-size="8.7" text-anchor="middle">-2</text>
<line x1="535.6" y1="427.8" x2="535.6" y2="429.8" stroke="#333" stroke-width="0.6"/>
<line x1="570.2" y1="427.8" x2="570.2" y2="429.8" stroke="#333" stroke-width="0.6"/>
<line x1="605" y1="427.8" x2="605" y2="429.8" stroke="#333" stroke-width="0.6"/>
<line x1="639.6" y1="427.8" x2="639.6" y2="429.8" stroke="#333" stroke-width="0.6"/>
<line x1="674.3" y1="427.8" x2="674.3" y2="429.8" stroke="#333" stroke-width="0.6"/>
<text transform="translate(509.6 376) rotate(-90)" x="0" y="3.71" font-size="10.3" text-anchor="middle">PFC (BrainSpan)</text>
<g class="h" transform="translate(535.6 0) scale(4.9536 1)" fill="none" stroke-width="0.32" stroke-opacity="0.45">
<polyline points="0,448.0 1,454.1 2,460.4 3,465.7 4,470.6 5,474.8 6,478.6 7,481.2 8,483.7 9,487.0 10,490.4 11,492.8 12,493.7 13,494.1 14,495.3 15,497.2 16,498.7 17,499.4 18,499.5 19,499.9 20,501.0 21,502.1 22,502.5 23,501.8 24,500.7 25,500.5 26,502.1 27,504.8 28,507.3" stroke="#c8359f"/>
<polyline points="0,475.5 1,478.5 2,481.3 3,483.2 4,485.0 5,486.4 6,487.9 7,489.3 8,491.4 9,493.2 10,494.5 11,495.4 12,496.1 13,497.0 14,498.2 15,499.6 16,500.7 17,501.3 18,501.2 19,500.5 20,499.6 21,498.7 22,498.4 23,498.7 24,499.4 25,500.3 26,500.9 27,501.0 28,500.5" stroke="#c8359f"/>
<polyline points="0,498.2 1,498.5 2,498.5 3,498.4 4,498.1 5,497.6 6,497.1 7,496.5 8,495.2 9,494.5 10,493.9 11,493.2 12,492.8 13,492.8 14,493.1 15,493.4 16,493.7 17,493.6 18,493.0 19,492.2 20,491.5 21,491.3 22,491.4 23,491.8 24,492.0 25,491.7 26,490.7 27,489.0 28,486.7" stroke="#2e2f7a"/>
<polyline points="0,486.8 1,488.3 2,489.6 3,490.7 4,491.6 5,492.2 6,492.5 7,492.3 8,490.2 9,487.8 10,484.8 11,480.9 12,476.6 13,473.2 14,471.8 15,472.1 16,472.5 17,471.7 18,470.5 19,470.2 20,471.2 21,473.0 22,474.4 23,474.3 24,473.3 25,472.6 26,473.4 27,475.5 28,477.5" stroke="#2e2f7a"/>
<polyline points="0,512.8 1,509.1 2,505.6 3,502.2 4,498.9 5,495.7 6,492.7 7,490.3 8,489.2 9,489.6 10,491.2 11,493.4 12,495.6 13,497.1 14,497.3 15,496.2 16,494.6 17,493.3 18,492.4 19,491.8 20,491.1 21,490.4 22,489.9 23,489.6 24,490.0 25,491.1 26,493.2 27,496.1 28,499.3" stroke="#2e2f7a"/>
<polyline points="0,454.5 1,460.3 2,466.1 3,470.9 4,475.2 5,478.9 6,482.4 7,484.9 8,487.6 9,490.9 10,494.2 11,497.2 12,499.8 13,502.5 14,505.5 15,508.3 16,510.2 17,511.2 18,510.9 19,509.7 20,508.0 21,506.5 22,505.7 23,505.8 24,506.8 25,508.3 26,509.9 27,511.0 28,511.3" stroke="#c8359f"/>
<polyline points="0,478.0 1,480.2 2,482.3 3,483.7 4,484.9 5,485.8 6,486.9 7,487.9 8,489.9 9,492.1 10,494.2 11,495.4 12,495.0 13,494.1 14,493.6 15,493.8 16,493.8 17,493.3 18,492.9 19,493.5 20,495.0 21,496.3 22,496.4 23,494.9 24,493.0 25,492.2 26,493.2 27,495.5 28,497.5" stroke="#c8359f"/>
<polyline points="0,478.9 1,480.4 2,481.9 3,482.8 4,483.5 5,484.0 6,484.6 7,485.3 8,487.5 9,489.8 10,492.3 11,495.2 12,498.3 13,500.9 14,502.3 15,502.4 16,502.1 17,502.3 18,502.9 19,503.0 20,502.2 21,500.7 22,499.1 23,498.1 24,497.9 25,497.8 26,497.2 27,496.0 28,494.7" stroke="#c8359f"/>
<polyline points="0,479.6 1,484.9 2,489.2 3,492.5 4,495.5 5,498.2 6,501.0 7,503.7 8,505.5 9,506.6 10,507.3 11,507.9 12,508.6 13,509.3 14,509.8 15,509.9 16,509.5 17,508.9 18,508.4 19,508.2 20,508.2 21,508.5 22,509.3 23,510.5 24,511.8 25,512.9 26,513.6 27,513.9 28,514.0" stroke="#c8359f"/>
<polyline points="0,521.4 1,516.8 2,512.3 3,508.0 4,503.8 5,499.8 6,496.1 7,493.4 8,492.0 9,490.9 10,489.6 11,488.4 12,487.7 13,488.1 14,488.9 15,489.0 16,488.3 17,487.7 18,487.9 19,489.2 20,490.8 21,491.9 22,492.0 23,491.4 24,490.7 25,490.3 26,490.1 27,489.6 28,488.8" stroke="#2e2f7a"/>
<polyline points="0,516.5 1,513.7 2,510.8 3,507.9 4,505.0 5,502.3 6,499.7 7,497.9 8,496.4 9,495.1 10,493.5 11,491.8 12,490.4 13,489.2 14,487.6 15,485.4 16,483.3 17,481.7 18,481.3 19,481.9 20,483.2 21,484.5 22,485.7 23,487.1 24,488.5 25,489.6 26,489.8 27,488.6 28,486.5" stroke="#2e2f7a"/>
<polyline points="0,521.1 1,518.5 2,515.4 3,512.4 4,509.5 5,506.6 6,504.1 7,502.4 8,500.4 9,498.2 10,495.8 11,493.4 12,491.3 13,489.4 14,487.3 15,485.4 16,484.2 17,483.8 18,484.5 19,485.9 20,487.6 21,488.9 22,489.4 23,489.0 24,488.0 25,486.7 26,485.5 27,484.6 28,484.3" stroke="#2e2f7a"/>
<polyline points="0,518.1 1,511.7 2,505.9 3,500.4 4,495.2 5,490.2 6,485.6 7,481.8 8,480.8 9,481.3 10,482.3 11,483.4 12,484.7 13,486.3 14,487.7 15,488.3 16,488.3 17,488.3 18,488.5 19,488.5 20,488.0 21,486.9 22,485.8 23,485.3 24,486.1 25,488.1 26,491.0 27,493.9 28,496.3" stroke="#2e2f7a"/>
<polyline points="0,532.0 1,523.4 2,515.5 3,508.0 4,501.0 5,494.2 6,488.2 7,483.5 8,482.5 9,482.7 10,483.5 11,484.7 12,486.0 13,487.3 14,488.6 15,489.7 16,490.2 17,489.9 18,488.8 19,487.4 20,486.4 21,486.5 22,487.5 23,488.6 24,489.0 25,488.7 26,487.9 27,487.2 28,486.6" stroke="#2e2f7a"/>
<polyline points="0,516.8 1,514.8 2,512.4 3,509.9 4,507.5 5,505.2 6,503.1 7,501.7 8,499.9 9,498.4 10,496.8 11,495.0 12,492.6 13,490.1 14,488.5 15,488.3 16,489.1 17,489.7 18,489.6 19,489.3 20,489.0 21,489.1 22,489.1 23,488.7 24,487.8 25,486.7 26,486.3 27,486.8 28,487.8" stroke="#2e2f7a"/>
<polyline points="0,525.8 1,523.2 2,520.0 3,516.8 4,513.7 5,510.7 6,508.1 7,506.6 8,504.6 9,502.3 10,499.8 11,497.2 12,494.7 13,492.3 14,490.3 15,489.3 16,489.3 17,489.6 18,489.9 19,489.9 20,489.5 21,488.9 22,488.3 23,487.9 24,487.5 25,487.4 26,487.5 27,488.1 28,489.1" stroke="#2e2f7a"/>
<polyline points="0,471.3 1,476.8 2,481.7 3,485.6 4,489.1 5,492.1 6,495.2 7,497.9 8,500.1 9,501.9 10,503.1 11,504.4 12,506.2 13,507.9 14,508.8 15,508.9 16,509.4 17,510.6 18,511.9 19,512.1 20,511.1 21,509.7 22,509.5 23,511.2 24,514.0 25,516.0 26,515.7 27,513.2 28,510.0" stroke="#c8359f"/>
<polyline points="0,506.7 1,505.6 2,504.2 3,502.8 4,501.4 5,499.9 6,498.4 7,497.3 8,495.6 9,493.9 10,492.2 11,490.6 12,489.7 13,489.3 14,488.4 15,486.6 16,484.8 17,483.7 18,483.9 19,484.7 20,485.2 21,484.7 22,483.7 23,483.0 24,483.2 25,484.4 26,485.9 27,486.9 28,487.5" stroke="#2e2f7a"/>
<polyline points="0,509.8 1,508.7 2,507.3 3,505.8 4,504.2 5,502.6 6,501.2 7,500.1 8,498.7 9,497.8 10,496.9 11,496.1 12,495.6 13,495.3 14,495.1 15,494.8 16,494.6 17,494.4 18,494.4 19,494.5 20,494.6 21,494.7 22,495.2 23,495.9 24,496.7 25,497.7 26,498.6 27,499.5 28,500.5" stroke="#2e2f7a"/>
<polyline points="0,535.2 1,526.7 2,518.7 3,511.2 4,504.0 5,497.2 6,491.2 7,486.6 8,485.3 9,484.9 10,485.1 11,485.4 12,485.7 13,485.7 14,485.1 15,483.8 16,482.3 17,481.4 18,481.3 19,482.4 20,484.1 21,485.6 22,486.2 23,485.8 24,484.8 25,483.8 26,483.4 27,483.5 28,484.0" stroke="#2e2f7a"/>
<polyline points="0,517.8 1,513.3 2,508.9 3,504.7 4,500.7 5,496.8 6,493.2 7,490.4 8,488.6 9,486.7 10,484.4 11,482.0 12,479.8 13,478.2 14,477.1 15,476.5 16,476.3 17,476.2 18,476.3 19,476.3 20,476.3 21,476.3 22,476.1 23,476.1 24,476.2 25,476.2 26,475.7 27,474.8 28,473.5" stroke="#2e2f7a"/>
<polyline points="0,511.8 1,510.5 2,508.8 3,507.0 4,505.3 5,503.5 6,501.8 7,500.7 8,498.9 9,496.8 10,494.3 11,491.5 12,489.2 13,488.2 14,488.2 15,488.5 16,488.6 17,488.1 18,487.4 19,486.5 20,485.8 21,485.3 22,485.2 23,485.7 24,486.8 25,488.2 26,489.5 27,490.4 28,490.6" stroke="#2e2f7a"/>
<polyline points="0,509.8 1,510.3 2,509.9 3,509.4 4,508.8 5,508.1 6,507.5 7,507.3 8,505.2 9,502.5 10,499.3 11,496.3 12,493.7 13,491.6 14,489.8 15,488.6 16,488.1 17,487.8 18,487.6 19,487.6 20,487.6 21,487.9 22,488.5 23,489.3 24,489.7 25,489.4 26,488.4 27,487.2 28,486.2" stroke="#2e2f7a"/>
<polyline points="0,543.6 1,537.2 2,526.3 3,515.9 4,506.2 5,497.0 6,488.9 7,482.8 8,481.5 9,480.7 10,479.6 11,478.7 12,479.3 13,481.6 14,484.3 15,485.0 16,483.5 17,481.4 18,479.9 19,479.4 20,479.3 21,479.0 22,478.5 23,478.5 24,479.6 25,481.9 26,484.1 27,485.0 28,484.3" stroke="#2e2f7a"/>
<polyline points="0,503.0 1,501.7 2,500.3 3,498.9 4,497.5 5,495.9 6,494.4 7,493.1 8,491.5 9,490.1 10,488.2 11,485.7 12,483.0 13,480.5 14,478.7 15,477.6 16,477.4 17,477.9 18,479.0 19,480.6 20,482.2 21,483.5 22,484.2 23,484.7 24,485.0 25,485.3 26,485.2 27,484.6 28,483.5" stroke="#2e2f7a"/>
<polyline points="0,492.0 1,492.6 2,493.1 3,493.5 4,493.7 5,493.6 6,493.4 7,492.9 8,491.2 9,489.6 10,487.8 11,485.6 12,483.5 13,482.0 14,481.6 15,482.0 16,482.4 17,482.2 18,481.6 19,481.2 20,481.4 21,482.0 22,482.4 23,482.2 24,481.6 25,480.9 26,480.6 27,480.5 28,480.3" stroke="#2e2f7a"/>
<polyline points="0,489.2 1,488.9 2,488.7 3,488.5 4,488.2 5,487.6 6,486.8 7,485.7 8,484.3 9,483.3 10,482.7 11,482.8 12,483.6 13,484.4 14,484.4 15,484.0 16,484.3 17,485.6 18,487.2 19,488.1 20,487.9 21,486.9 22,485.6 23,484.6 24,483.6 25,482.2 26,480.2 27,478.1 28,476.9" stroke="#2e2f7a"/>
<polyline points="0,503.9 1,503.0 2,502.0 3,500.8 4,499.7 5,498.4 6,497.1 7,496.0 8,494.6 9,493.7 10,492.5 11,490.7 12,488.5 13,486.9 14,486.3 15,486.7 16,487.7 17,488.9 18,490.0 19,490.8 20,491.2 21,490.9 22,490.1 23,489.3 24,488.9 25,489.2 26,490.0 27,490.8 28,491.0" stroke="#2e2f7a"/>
<polyline points="0,516.8 1,511.9 2,507.4 3,503.0 4,498.9 5,494.8 6,491.1 7,488.1 8,486.7 9,485.6 10,484.3 11,483.0 12,482.3 13,482.2 14,482.5 15,482.7 16,483.3 17,483.9 18,484.2 19,483.3 20,481.4 21,479.1 22,477.4 23,477.1 24,478.1 25,479.5 26,480.2 27,479.7 28,478.4" stroke="#2e2f7a"/>
<polyline points="0,491.1 1,491.9 2,492.6 3,492.5 4,492.3 5,492.1 6,492.2 7,492.8 8,494.8 9,496.9 10,498.7 11,500.5 12,502.5 13,504.9 14,506.7 15,506.9 16,505.7 17,504.3 18,503.6 19,503.8 20,504.0 21,503.6 22,502.7 23,502.0 24,502.4 25,504.1 26,506.5 27,508.5 28,509.6" stroke="#c8359f"/>
<polyline points="0,503.3 1,505.0 2,505.9 3,506.5 4,507.0 5,507.2 6,507.5 7,507.8 8,505.9 9,503.9 10,501.3 11,498.2 12,495.1 13,492.2 14,489.8 15,488.1 16,487.3 17,486.6 18,486.3 19,486.1 20,486.0 21,486.0 22,486.4 23,487.2 24,488.6 25,490.3 26,491.9 27,493.1 28,493.5" stroke="#2e2f7a"/>
<polyline points="0,516.3 1,512.7 2,509.1 3,505.6 4,502.2 5,498.9 6,495.9 7,493.6 8,492.3 9,491.6 10,491.1 11,490.3 12,489.4 13,488.6 14,488.3 15,488.7 16,489.9 17,491.7 18,493.6 19,495.0 20,495.7 21,495.4 22,494.1 23,492.3 24,490.4 25,489.0 26,488.2 27,488.0 28,488.1" stroke="#2e2f7a"/>
<polyline points="0,498.5 1,496.3 2,494.4 3,492.6 4,490.8 5,488.8 6,486.8 7,484.9 8,483.3 9,481.9 10,480.9 11,480.6 12,480.9 13,481.4 14,482.0 15,482.4 16,482.2 17,481.1 18,479.0 19,476.8 20,475.5 21,475.8 22,477.4 23,479.2 24,480.1 25,479.6 26,478.4 27,477.5 28,477.4" stroke="#2e2f7a"/>
<polyline points="0,516.5 1,511.2 2,506.3 3,501.6 4,497.1 5,492.8 6,488.8 7,485.6 8,484.3 9,483.8 10,483.9 11,485.2 12,487.4 13,489.4 14,489.8 15,488.4 16,487.0 17,486.5 18,486.7 19,486.5 20,485.6 21,484.5 22,484.5 23,486.0 24,488.3 25,490.1 26,490.5 27,490.2 28,490.3" stroke="#2e2f7a"/>
<polyline points="0,521.0 1,518.3 2,515.2 3,512.1 4,509.1 5,506.2 6,503.7 7,502.0 8,500.7 9,500.3 10,500.2 11,500.2 12,499.9 13,499.1 14,498.3 15,497.8 16,498.0 17,498.5 18,498.7 19,498.2 20,497.3 21,496.4 22,496.1 23,496.4 24,497.1 25,498.0 26,499.1 27,500.3 28,501.5" stroke="#2e2f7a"/>
<polyline points="0,458.8 1,464.6 2,470.2 3,474.8 4,479.0 5,482.6 6,486.0 7,488.7 8,490.4 9,491.7 10,493.3 11,494.7 12,494.8 13,492.8 14,490.6 15,490.6 16,492.6 17,494.6 18,495.0 19,494.0 20,493.2 21,494.2 22,496.8 23,499.2 24,499.4 25,496.9 26,493.5 27,491.3 28,491.2" stroke="#c8359f"/>
<polyline points="0,480.1 1,482.0 2,483.8 3,484.9 4,485.8 5,486.5 6,487.4 7,488.3 8,490.3 9,492.4 10,494.6 11,496.7 12,498.5 13,499.5 14,500.0 15,500.5 16,501.1 17,501.5 18,501.7 19,501.6 20,501.6 21,502.1 22,503.3 23,504.5 24,505.2 25,505.5 26,505.6 27,506.3 28,507.8" stroke="#c8359f"/>
<polyline points="0,510.2 1,509.0 2,507.5 3,505.9 4,504.2 5,502.6 6,501.0 7,499.9 8,498.3 9,496.8 10,495.6 11,494.7 12,493.9 13,493.2 14,493.2 15,494.1 16,495.0 17,494.6 18,492.7 19,490.3 20,489.0 21,489.7 22,491.7 23,493.4 24,493.3 25,491.4 26,488.8 27,486.7 28,485.6" stroke="#2e2f7a"/>
<polyline points="0,474.7 1,478.6 2,482.1 3,484.7 4,487.0 5,489.0 6,491.1 7,493.0 8,494.8 9,496.4 10,497.9 11,498.8 12,498.9 13,498.3 14,497.7 15,497.4 16,497.3 17,497.4 18,498.0 19,499.0 20,500.3 21,501.0 22,500.3 23,498.4 24,496.1 25,494.3 26,493.7 27,494.0 28,494.5" stroke="#c8359f"/>
<polyline points="0,516.3 1,512.4 2,508.6 3,504.9 4,501.4 5,497.9 6,494.7 7,492.3 8,491.4 9,491.6 10,492.0 11,492.4 12,492.6 13,492.7 14,492.7 15,493.0 16,494.0 17,495.7 18,497.4 19,498.4 20,498.7 21,498.4 22,498.0 23,497.8 24,497.7 25,497.6 26,497.2 27,496.5 28,495.5" stroke="#2e2f7a"/>
<polyline points="0,525.6 1,523.0 2,519.9 3,516.7 4,513.6 5,510.6 6,508.1 7,506.6 8,504.8 9,503.0 10,501.1 11,499.1 12,497.6 13,497.2 14,497.7 15,498.8 16,500.0 17,500.8 18,501.3 19,501.6 20,501.7 21,501.2 22,499.9 23,497.8 24,495.4 25,493.1 26,491.3 27,490.0 28,489.0" stroke="#2e2f7a"/>
<polyline points="0,509.7 1,506.2 2,502.9 3,499.8 4,496.7 5,493.6 6,490.8 7,488.4 8,487.2 9,486.5 10,485.9 11,485.6 12,486.4 13,488.1 14,490.1 15,491.5 16,491.8 17,491.3 18,490.2 19,488.7 20,487.6 21,487.1 22,487.5 23,488.6 24,489.8 25,490.4 26,490.0 27,488.8 28,487.0" stroke="#2e2f7a"/>
<polyline points="0,505.6 1,505.8 2,505.5 3,505.0 4,504.5 5,503.8 6,503.1 7,502.7 8,500.9 9,499.1 10,496.8 11,494.5 12,492.8 13,491.8 14,490.8 15,489.3 16,487.9 17,487.3 18,488.0 19,489.3 20,490.2 21,490.1 22,489.2 23,488.4 24,488.5 25,489.2 26,489.9 27,489.8 28,489.0" stroke="#2e2f7a"/>
<polyline points="0,532.9 1,526.8 2,520.7 3,514.8 4,509.2 5,503.9 6,499.3 7,495.9 8,494.0 9,491.7 10,488.7 11,485.5 12,482.8 13,480.6 14,478.5 15,476.7 16,475.9 17,476.0 18,476.6 19,476.9 20,476.1 21,474.4 22,472.6 23,472.0 24,472.9 25,474.5 26,475.7 27,475.8 28,475.0" stroke="#2e2f7a"/>
<polyline points="0,461.4 1,467.3 2,472.7 3,477.2 4,481.2 5,484.7 6,488.1 7,490.7 8,492.9 9,495.3 10,497.9 11,500.3 12,502.4 13,504.3 14,505.5 15,505.3 16,503.9 17,502.4 18,501.6 19,502.0 20,503.0 21,503.7 22,503.4 23,502.5 24,501.7 25,502.0 26,503.3 27,505.0 28,506.3" stroke="#c8359f"/>
<polyline points="0,471.1 1,474.8 2,478.3 3,481.0 4,483.4 5,485.4 6,487.4 7,489.1 8,491.4 9,494.1 10,496.9 11,499.7 12,502.1 13,504.0 14,505.3 15,506.0 16,506.2 17,506.5 18,506.7 19,506.8 20,506.8 21,506.8 22,506.7 23,506.7 24,506.7 25,506.8 26,506.9 27,507.0 28,507.2" stroke="#c8359f"/>
<polyline points="0,492.8 1,491.5 2,490.6 3,489.6 4,488.6 5,487.3 6,486.0 7,484.5 8,483.4 9,483.6 10,484.6 11,486.4 12,488.3 13,489.6 14,490.3 15,490.4 16,490.6 17,491.1 18,491.5 19,491.8 20,492.3 21,493.3 22,494.8 23,496.0 24,496.2 25,495.1 26,493.7 27,492.8 28,493.2" stroke="#2e2f7a"/>
<polyline points="0,508.8 1,508.9 2,508.3 3,507.6 4,506.8 5,505.9 6,505.1 7,504.7 8,502.2 9,498.3 10,493.5 11,488.6 12,484.4 13,481.0 14,478.4 15,477.1 16,476.8 17,476.7 18,476.5 19,476.1 20,475.7 21,475.5 22,476.0 23,476.9 24,477.5 25,477.5 26,476.5 27,475.2 28,474.1" stroke="#2e2f7a"/>
<polyline points="0,516.6 1,510.3 2,504.6 3,499.3 4,494.2 5,489.2 6,484.6 7,480.9 8,480.1 9,481.1 10,482.9 11,484.8 12,486.1 13,487.2 14,488.5 15,489.7 16,490.7 17,491.3 18,491.5 19,491.5 20,491.6 21,492.0 22,492.7 23,493.0 24,493.2 25,493.7 26,495.1 27,497.5 28,500.1" stroke="#2e2f7a"/>
<polyline points="0,506.8 1,505.9 2,504.6 3,503.3 4,501.9 5,500.5 6,499.1 7,498.0 8,496.3 9,494.5 10,492.3 11,489.8 12,487.6 13,486.4 14,486.2 15,486.6 16,487.2 17,487.3 18,486.8 19,485.8 20,484.6 21,483.7 22,483.2 23,483.4 24,484.2 25,485.0 26,485.7 27,485.7 28,485.2" stroke="#2e2f7a"/>
<polyline points="0,454.4 1,461.6 2,468.2 3,473.8 4,478.9 5,483.4 6,487.5 7,490.8 8,493.1 9,496.0 10,499.9 11,504.8 12,509.2 13,511.8 14,512.5 15,512.3 16,512.6 17,513.9 18,515.2 19,515.8 20,515.9 21,515.6 22,515.2 23,514.2 24,512.2 25,509.1 26,505.9 27,504.0 28,504.1" stroke="#c8359f"/>
<polyline points="0,492.5 1,494.3 2,495.7 3,496.8 4,497.7 5,498.2 6,498.6 7,498.8 8,497.0 9,495.4 10,493.8 11,491.6 12,488.7 13,485.7 14,483.8 15,483.5 16,484.2 17,484.3 18,483.5 19,481.9 20,480.4 21,479.4 22,479.2 23,479.6 24,480.6 25,482.4 26,485.5 27,489.5 28,493.6" stroke="#2e2f7a"/>
<polyline points="0,474.0 1,478.3 2,482.0 3,484.9 4,487.5 5,489.6 6,491.9 7,493.9 8,495.5 9,495.9 10,495.2 11,493.9 12,492.5 13,491.1 14,490.0 15,490.5 16,492.9 17,496.2 18,499.1 19,499.8 20,497.8 21,494.4 22,491.5 23,490.4 24,491.1 25,492.2 26,492.5 27,491.7 28,490.5" stroke="#c8359f"/>
<polyline points="0,498.0 1,497.2 2,496.4 3,495.6 4,494.7 5,493.6 6,492.5 7,491.3 8,489.4 9,487.3 10,484.8 11,482.2 12,479.7 13,477.6 14,475.9 15,474.7 16,474.1 17,473.9 18,474.2 19,474.8 20,475.0 21,474.7 22,473.9 23,473.1 24,472.7 25,473.1 26,474.1 27,475.2 28,476.3" stroke="#2e2f7a"/>
<polyline points="0,516.6 1,514.2 2,511.6 3,508.9 4,506.3 5,503.8 6,501.5 7,499.9 8,498.5 9,497.3 10,495.5 11,494.1 12,494.3 13,495.9 14,497.0 15,496.2 16,494.8 17,494.8 18,496.7 19,499.3 20,500.7 21,500.0 22,498.1 23,496.9 24,497.4 25,498.9 26,499.8 27,499.1 28,497.2" stroke="#2e2f7a"/>
<polyline points="0,466.0 1,470.6 2,474.9 3,478.3 4,481.4 5,484.1 6,486.6 7,488.7 8,490.6 9,492.6 10,494.6 11,495.8 12,495.6 13,494.4 14,493.9 15,494.7 16,495.4 17,494.9 18,493.6 19,492.8 20,493.6 21,495.9 22,498.5 23,499.5 24,498.9 25,497.6 26,497.4 27,498.8 28,500.9" stroke="#c8359f"/>
<polyline points="0,516.2 1,511.3 2,506.8 3,502.5 4,498.3 5,494.2 6,490.5 7,487.5 8,486.0 9,485.3 10,485.2 11,485.7 12,486.3 13,486.7 14,486.7 15,486.4 16,485.8 17,484.9 18,483.8 19,483.0 20,483.2 21,484.5 22,486.3 23,487.5 24,487.5 25,486.3 26,485.2 27,485.0 28,486.0" stroke="#2e2f7a"/>
<polyline points="0,533.0 1,527.9 2,522.5 3,517.3 4,512.4 5,507.7 6,503.7 7,500.9 8,499.2 9,497.6 10,496.0 11,494.7 12,494.2 13,494.0 14,493.4 15,491.7 16,489.5 17,487.4 18,485.9 19,485.1 20,484.7 21,484.5 22,484.2 23,484.3 24,484.9 25,485.8 26,486.4 27,486.4 28,486.0" stroke="#2e2f7a"/>
<polyline points="0,468.4 1,471.1 2,473.9 3,476.0 4,477.8 5,479.3 6,480.8 7,481.9 8,484.5 9,488.1 10,492.3 11,496.6 12,500.4 13,503.2 14,504.9 15,505.5 16,505.6 17,505.8 18,506.1 19,506.1 20,506.0 21,505.6 22,505.4 23,505.5 24,505.9 25,506.6 26,507.7 27,509.1 28,510.4" stroke="#c8359f"/>
<polyline points="0,500.6 1,500.0 2,499.2 3,498.3 4,497.4 5,496.3 6,495.2 7,494.2 8,492.5 9,491.0 10,489.1 11,487.5 12,486.8 13,487.2 14,487.3 15,485.8 16,483.2 17,480.7 18,479.7 19,480.6 20,482.7 21,484.7 22,486.1 23,486.9 24,487.6 25,488.3 26,488.7 27,488.2 28,487.1" stroke="#2e2f7a"/>
<polyline points="0,505.9 1,502.0 2,498.6 3,495.4 4,492.2 5,489.0 6,486.0 7,483.3 8,482.3 9,482.4 10,482.9 11,483.7 12,484.9 13,486.4 14,487.7 15,488.3 16,488.3 17,488.2 18,487.7 19,487.0 20,486.1 21,485.4 22,485.2 23,485.6 24,486.4 25,487.1 26,487.2 27,486.6 28,485.5" stroke="#2e2f7a"/>
<polyline points="0,501.2 1,498.8 2,496.6 3,494.6 4,492.6 5,490.4 6,488.3 7,486.3 8,485.0 9,484.4 10,483.8 11,482.8 12,481.8 13,481.9 14,483.6 15,485.9 16,487.2 17,487.1 18,486.0 19,485.2 20,485.5 21,486.5 22,487.5 23,487.6 24,487.1 25,486.8 26,487.4 27,488.6 28,489.6" stroke="#2e2f7a"/>
<polyline points="0,512.5 1,507.5 2,502.9 3,498.7 4,494.5 5,490.5 6,486.7 7,483.6 8,482.0 9,480.5 10,478.7 11,477.0 12,476.2 13,476.1 14,475.5 15,474.2 16,473.3 17,473.9 18,476.0 19,478.0 20,478.6 21,477.3 22,474.9 23,473.2 24,473.0 25,473.7 26,474.2 27,473.6 28,472.4" stroke="#2e2f7a"/>
<polyline points="0,461.5 1,467.9 2,473.9 3,478.8 4,483.2 5,487.1 6,490.8 7,493.8 8,495.9 9,497.8 10,499.4 11,500.8 12,501.8 13,502.5 14,502.9 15,503.2 16,503.5 17,504.0 18,504.5 19,505.3 20,506.1 21,507.0 22,507.9 23,508.7 24,509.2 25,509.1 26,508.5 27,507.5 28,506.3" stroke="#c8359f"/>
<polyline points="0,480.0 1,482.9 2,485.5 3,487.3 4,488.8 5,490.1 6,491.5 7,493.0 8,494.5 9,495.5 10,496.3 11,496.9 12,497.1 13,497.2 14,497.4 15,497.7 16,497.9 17,498.1 18,498.6 19,499.6 20,500.4 21,500.3 22,498.7 23,495.8 24,492.6 25,490.3 26,489.4 27,489.9 28,491.1" stroke="#c8359f"/>
<polyline points="0,492.7 1,491.6 2,490.7 3,489.8 4,488.8 5,487.7 6,486.3 7,484.9 8,483.8 9,483.7 10,483.8 11,483.8 12,483.4 13,482.8 14,482.6 15,482.7 16,482.8 17,482.5 18,482.1 19,482.3 20,483.7 21,486.2 22,488.7 23,490.2 24,490.3 25,489.4 26,488.2 27,487.2 28,486.3" stroke="#2e2f7a"/>
<polyline points="0,518.4 1,513.6 2,509.1 3,504.7 4,500.6 5,496.5 6,492.8 7,490.0 8,488.7 9,487.9 10,486.8 11,484.6 12,481.7 13,479.0 14,477.5 15,477.7 16,479.3 17,481.1 18,482.6 19,483.2 20,482.8 21,481.9 22,480.8 23,480.2 24,480.5 25,481.5 26,482.9 27,483.8 28,483.7" stroke="#2e2f7a"/>
<polyline points="0,504.4 1,500.0 2,496.3 3,492.8 4,489.4 5,486.0 6,482.7 7,479.7 8,479.3 9,480.9 10,483.7 11,487.1 12,490.6 13,493.0 14,493.6 15,492.4 16,491.0 17,490.5 18,490.5 19,490.5 20,490.2 21,490.0 22,490.6 23,492.1 24,494.3 25,496.1 26,497.0 27,497.1 28,496.8" stroke="#2e2f7a"/>
<polyline points="0,520.4 1,514.8 2,509.6 3,504.6 4,499.9 5,495.3 6,491.2 7,487.9 8,486.9 9,487.4 10,488.6 11,490.1 12,491.1 13,491.2 14,490.4 15,489.1 16,488.5 17,488.7 18,489.1 19,489.3 20,489.0 21,488.6 22,488.5 23,488.8 24,489.5 25,490.3 26,491.2 27,492.1 28,493.2" stroke="#2e2f7a"/>
<polyline points="0,474.5 1,477.9 2,481.2 3,484.1 4,486.7 5,488.8 6,490.3 7,491.0 8,489.3 9,487.9 10,486.8 11,485.9 12,485.2 13,484.7 14,484.2 15,483.9 16,483.5 17,482.9 18,482.0 19,481.3 20,481.2 21,482.0 22,483.3 23,484.4 24,484.8 25,484.4 26,483.8 27,483.7 28,484.2" stroke="#2e2f7a"/>
<polyline points="0,522.1 1,518.0 2,513.8 3,509.7 4,505.8 5,502.0 6,498.7 7,496.2 8,494.0 9,491.3 10,488.4 11,485.4 12,482.0 13,478.6 14,475.9 15,474.8 16,475.2 17,475.7 18,475.8 19,475.2 20,474.3 21,473.7 22,473.6 23,473.9 24,474.3 25,474.7 26,475.8 27,477.9 28,480.9" stroke="#2e2f7a"/>
<polyline points="0,473.5 1,475.0 2,476.8 3,477.9 4,478.8 5,479.4 6,480.1 7,480.7 8,482.9 9,485.0 10,486.6 11,488.2 12,490.2 13,493.3 14,497.1 15,500.0 16,500.9 17,500.0 18,497.9 19,496.0 20,495.2 21,495.6 22,496.7 23,497.7 24,498.4 25,498.2 26,497.3 27,495.6 28,492.9" stroke="#c8359f"/>
<polyline points="0,516.4 1,514.2 2,511.6 3,509.1 4,506.5 5,504.0 6,501.8 7,500.3 8,498.5 9,496.6 10,494.1 11,491.0 12,488.2 13,486.9 14,487.1 15,487.7 16,487.5 17,486.1 18,484.7 19,484.3 20,484.8 21,485.5 22,485.8 23,485.6 24,485.6 25,486.7 26,488.7 27,490.8 28,492.0" stroke="#2e2f7a"/>
<polyline points="0,511.6 1,511.0 2,509.8 3,508.5 4,507.2 5,505.8 6,504.5 7,503.8 8,502.0 9,500.5 10,499.6 11,499.0 12,498.7 13,498.7 14,499.0 15,499.1 16,498.5 17,497.1 18,495.6 19,495.3 20,496.6 21,498.9 22,500.8 23,501.0 24,499.2 25,496.7 26,495.0 27,494.9 28,496.1" stroke="#2e2f7a"/>
<polyline points="0,506.8 1,505.5 2,504.0 3,502.4 4,500.8 5,499.1 6,497.5 7,496.3 8,494.2 9,491.6 10,488.2 11,484.5 12,481.0 13,478.3 14,476.7 15,476.2 16,476.5 17,476.5 18,476.3 19,475.7 20,475.0 21,474.4 22,473.9 23,473.7 24,473.7 25,473.7 26,473.5 27,472.8 28,471.6" stroke="#2e2f7a"/>
<polyline points="0,539.0 1,530.9 2,523.1 3,515.7 4,508.7 5,502.1 6,496.2 7,492.0 8,490.5 9,489.4 10,488.4 11,488.0 12,488.5 13,489.8 14,490.6 15,490.2 16,489.1 17,488.1 18,487.7 19,487.7 20,487.7 21,487.4 22,486.9 23,486.6 24,486.6 25,486.6 26,486.3 27,485.5 28,484.5" stroke="#2e2f7a"/>
<polyline points="0,492.4 1,493.2 2,493.9 3,494.4 4,494.7 5,494.7 6,494.6 7,494.2 8,492.3 9,490.3 10,488.3 11,486.7 12,485.2 13,483.8 14,482.7 15,482.1 16,482.0 17,481.6 18,480.8 19,480.0 20,479.8 21,480.7 22,482.7 23,484.7 24,485.9 25,486.3 26,486.5 27,487.4 28,489.4" stroke="#2e2f7a"/>
<polyline points="0,467.8 1,474.8 2,480.8 3,485.8 4,490.3 5,494.3 6,498.2 7,501.6 8,502.6 9,501.9 10,500.5 11,499.1 12,497.7 13,496.3 14,495.0 15,494.0 16,493.1 17,491.8 18,490.3 19,488.9 20,487.7 21,486.6 22,485.6 23,484.7 24,484.1 25,483.7 26,483.5 27,483.7 28,484.2" stroke="#c8359f"/>
<polyline points="0,522.7 1,517.5 2,512.4 3,507.5 4,502.8 5,498.3 6,494.3 7,491.2 8,489.4 9,487.8 10,486.7 11,486.3 12,486.5 13,486.5 14,485.6 15,484.1 16,482.9 17,481.9 18,480.8 19,479.3 20,477.2 21,475.3 22,474.7 23,475.5 24,477.3 25,479.6 26,482.1 27,485.0 28,488.6" stroke="#2e2f7a"/>
<polyline points="0,525.8 1,521.9 2,517.8 3,513.7 4,509.9 5,506.1 6,502.9 7,500.6 8,498.8 9,496.5 10,493.7 11,490.5 12,487.7 13,485.9 14,485.3 15,485.7 16,486.2 17,486.3 18,486.2 19,486.0 20,486.2 21,486.5 22,486.7 23,486.5 24,486.0 25,485.4 26,484.7 27,483.8 28,482.7" stroke="#2e2f7a"/>
<polyline points="0,468.2 1,472.6 2,476.8 3,480.0 4,482.9 5,485.4 6,487.9 7,489.9 8,492.1 9,494.2 10,496.6 11,499.5 12,502.4 13,504.2 14,504.4 15,503.6 16,503.4 17,503.9 18,504.6 19,504.4 20,503.2 21,501.8 22,501.3 23,502.0 24,503.2 25,503.8 26,503.2 27,502.0 28,501.4" stroke="#c8359f"/>
<polyline points="0,457.0 1,464.3 2,471.1 3,476.8 4,481.9 5,486.5 6,490.8 7,494.2 8,495.8 9,496.8 10,497.4 11,497.7 12,498.2 13,499.1 14,500.2 15,501.0 16,500.9 17,500.0 18,499.5 19,500.0 20,501.6 21,503.4 22,504.5 23,504.2 24,502.8 25,501.1 26,499.7 27,498.8 28,498.2" stroke="#c8359f"/>
<polyline points="0,469.0 1,475.1 2,480.4 3,484.7 4,488.6 5,492.0 6,495.4 7,498.3 8,499.8 9,500.2 10,500.0 11,499.4 12,498.6 13,497.6 14,496.5 15,495.8 16,495.7 17,495.7 18,495.8 19,496.1 20,496.7 21,497.7 22,498.8 23,499.7 24,500.2 25,499.8 26,499.0 27,498.0 28,497.2" stroke="#c8359f"/>
<polyline points="0,474.2 1,477.2 2,480.1 3,482.2 4,484.0 5,485.5 6,487.1 7,488.5 8,490.0 9,490.4 10,489.9 11,489.1 12,488.6 13,488.7 14,489.2 15,489.7 16,489.9 17,489.6 18,489.0 19,488.3 20,487.5 21,487.0 22,486.9 23,487.4 24,488.4 25,489.3 26,489.7 27,489.3 28,488.5" stroke="#c8359f"/>
<polyline points="0,501.5 1,501.4 2,501.0 3,500.5 4,499.8 5,499.0 6,498.2 7,497.5 8,495.9 9,494.8 10,493.7 11,492.0 12,489.6 13,487.4 14,486.8 15,487.9 16,489.3 17,489.5 18,488.5 19,487.8 20,488.3 21,490.3 22,492.8 23,494.1 24,493.9 25,493.3 26,493.5 27,495.3 28,497.8" stroke="#2e2f7a"/>
<polyline points="0,506.5 1,505.5 2,504.2 3,502.8 4,501.4 5,499.9 6,498.5 7,497.5 8,495.8 9,493.9 10,491.5 11,489.1 12,487.5 13,487.0 14,487.0 15,486.8 16,486.6 17,486.6 18,486.7 19,486.6 20,485.9 21,484.5 22,483.5 23,483.5 24,484.6 25,486.3 26,487.6 27,487.8 28,487.1" stroke="#2e2f7a"/>
<polyline points="0,471.4 1,475.2 2,478.7 3,481.3 4,483.7 5,485.7 6,487.7 7,489.4 8,491.4 9,493.4 10,495.7 11,497.9 12,499.3 13,500.0 14,500.4 15,500.7 16,500.7 17,500.5 18,500.1 19,500.0 20,500.6 21,501.8 22,503.1 23,503.6 24,503.2 25,502.3 26,502.1 27,502.9 28,504.5" stroke="#c8359f"/>
<polyline points="0,519.0 1,513.9 2,509.0 3,504.4 4,499.9 5,495.6 6,491.7 7,488.6 8,487.3 9,487.0 10,487.1 11,487.7 12,488.8 13,490.1 14,491.3 15,491.6 16,491.2 17,490.4 18,489.6 19,488.7 20,488.0 21,487.4 22,486.7 23,486.1 24,485.6 25,485.3 26,485.4 27,485.6 28,485.9" stroke="#2e2f7a"/>
<polyline points="0,520.0 1,516.4 2,512.8 3,509.2 4,505.7 5,502.3 6,499.3 7,497.1 8,496.0 9,495.8 10,495.9 11,496.2 12,496.6 13,497.3 14,497.8 15,497.4 16,496.2 17,494.8 18,493.6 19,493.1 20,493.7 21,495.0 22,496.5 23,497.9 24,498.9 25,499.7 26,500.3 27,500.5 28,500.3" stroke="#2e2f7a"/>
<polyline points="0,463.9 1,472.6 2,480.0 3,486.3 4,492.0 5,497.1 6,502.1 7,506.3 8,507.5 9,507.6 10,506.7 11,505.1 12,502.6 13,499.3 14,496.3 15,495.2 16,496.3 17,498.3 18,500.2 19,501.0 20,500.4 21,498.8 22,496.9 23,495.4 24,494.4 25,493.9 26,493.8 27,494.0 28,494.6" stroke="#c8359f"/>
<polyline points="0,524.9 1,519.7 2,514.7 3,509.8 4,505.1 5,500.7 6,496.7 7,493.7 8,491.9 9,490.3 10,489.0 11,487.6 12,485.6 13,483.1 14,481.1 15,480.7 16,481.3 17,481.5 18,480.6 19,478.9 20,477.3 21,476.5 22,476.6 23,476.7 24,476.6 25,476.5 26,477.3 27,479.5 28,482.7" stroke="#2e2f7a"/>
<polyline points="0,501.5 1,497.8 2,494.7 3,491.7 4,488.8 5,485.9 6,483.0 7,480.4 8,479.1 9,478.7 10,479.0 11,480.1 12,481.6 13,482.7 14,482.6 15,481.5 16,480.3 17,479.4 18,478.9 19,478.6 20,478.9 21,479.8 22,481.1 23,482.4 24,482.9 25,482.4 26,481.2 27,479.9 28,479.3" stroke="#2e2f7a"/>
<polyline points="0,473.8 1,479.6 2,484.6 3,488.6 4,492.2 5,495.3 6,498.5 7,501.5 8,503.1 9,504.1 10,504.3 11,503.6 12,501.9 13,499.4 14,497.6 15,497.5 16,498.7 17,500.0 18,500.5 19,500.2 20,499.8 21,499.7 22,500.5 23,501.7 24,503.0 25,503.9 26,504.5 27,505.0 28,505.4" stroke="#c8359f"/>
<polyline points="0,459.2 1,463.6 2,468.0 3,471.6 4,474.8 5,477.5 6,480.0 7,481.8 8,483.7 9,486.1 10,489.3 11,493.0 12,495.6 13,496.4 14,495.9 15,494.9 16,493.9 17,492.8 18,491.9 19,491.6 20,492.5 21,494.3 22,495.7 23,495.6 24,493.6 25,490.7 26,488.6 27,488.4 28,490.1" stroke="#c8359f"/>
<polyline points="0,453.5 1,459.0 2,464.5 3,469.1 4,473.3 5,476.8 6,480.1 7,482.4 8,484.9 9,487.8 10,491.2 11,495.0 12,498.8 13,502.2 14,505.0 15,506.8 16,507.8 17,508.4 18,508.5 19,508.1 20,507.7 21,507.3 22,507.0 23,506.6 24,505.7 25,504.3 26,502.8 27,501.6 28,500.9" stroke="#c8359f"/>
<polyline points="0,479.4 1,482.3 2,484.9 3,486.6 4,488.2 5,489.4 6,490.9 7,492.3 8,494.2 9,496.0 10,498.0 11,500.2 12,502.0 13,503.3 14,504.3 15,505.1 16,505.2 17,504.8 18,504.0 19,503.2 20,502.8 21,502.8 22,502.5 23,501.5 24,499.9 25,498.0 26,496.7 27,496.3 28,496.4" stroke="#c8359f"/>
<polyline points="0,481.2 1,486.1 2,490.1 3,493.8 4,497.0 5,499.7 6,502.0 7,503.6 8,501.9 9,500.6 10,499.5 11,498.0 12,495.3 13,492.3 14,490.6 15,491.0 16,492.2 17,492.8 18,492.4 19,492.0 20,492.3 21,493.4 22,494.4 23,494.2 24,492.6 25,491.2 26,491.4 27,493.8 28,497.3" stroke="#2e2f7a"/>
<polyline points="0,476.8 1,478.9 2,480.9 3,482.2 4,483.3 5,484.1 6,485.1 7,486.0 8,488.2 9,490.7 10,493.2 11,495.7 12,498.1 13,499.8 14,500.8 15,500.9 16,500.4 17,500.0 18,499.6 19,499.5 20,499.5 21,499.6 22,499.5 23,499.4 24,499.2 25,498.8 26,498.1 27,497.0 28,495.6" stroke="#c8359f"/>
<polyline points="0,536.1 1,531.1 2,525.7 3,520.4 4,515.5 5,510.7 6,506.7 7,504.0 8,501.6 9,498.1 10,494.1 11,490.2 12,486.6 13,483.3 14,480.6 15,479.0 16,478.7 17,478.6 18,478.1 19,477.3 20,476.4 21,475.8 22,475.5 23,475.4 24,474.9 25,473.7 26,472.2 27,471.0 28,470.4" stroke="#2e2f7a"/>
<polyline points="0,479.8 1,481.7 2,483.5 3,484.5 4,485.4 5,486.1 6,487.0 7,487.8 8,490.0 9,492.2 10,494.6 11,496.9 12,498.7 13,499.8 14,500.0 15,499.5 16,498.7 17,498.1 18,497.6 19,497.3 20,497.2 21,497.4 22,497.7 23,498.2 24,498.9 25,499.4 26,499.9 27,500.3 28,500.5" stroke="#c8359f"/>
<polyline points="0,467.2 1,472.3 2,476.9 3,480.6 4,484.0 5,486.9 6,489.7 7,492.1 8,494.0 9,495.2 10,495.8 11,496.5 12,497.3 13,497.1 14,495.2 15,492.6 16,491.6 17,492.8 18,495.4 19,497.5 20,497.9 21,497.0 22,496.3 23,497.0 24,498.7 25,499.7 26,498.6 27,495.7 28,492.5" stroke="#c8359f"/>
<polyline points="0,481.9 1,483.3 2,484.7 3,485.3 4,485.8 5,486.1 6,486.6 7,487.3 8,489.8 9,493.2 10,496.9 11,500.1 12,502.3 13,503.3 14,504.0 15,505.0 16,506.7 17,508.7 18,510.3 19,510.8 20,510.0 21,508.3 22,506.9 23,506.3 24,506.7 25,508.2 26,510.6 27,513.3 28,516.0" stroke="#c8359f"/>
<polyline points="0,543.6 1,534.8 2,525.1 3,515.8 4,507.2 5,499.0 6,491.8 7,486.4 8,484.8 9,483.5 10,482.0 11,480.6 12,479.5 13,478.7 14,478.1 15,478.3 16,479.3 17,480.3 18,480.4 19,479.2 20,477.4 21,475.9 22,476.1 23,477.6 24,479.8 25,481.5 26,482.6 27,483.2 28,484.0" stroke="#2e2f7a"/>
<polyline points="0,488.8 1,488.3 2,488.1 3,487.8 4,487.4 5,486.7 6,485.8 7,484.6 8,482.6 9,480.6 10,479.1 11,478.6 12,478.5 13,478.1 14,477.1 15,476.0 16,475.0 17,473.6 18,471.7 19,469.8 20,469.1 21,470.0 22,472.4 23,474.7 24,475.3 25,474.2 26,472.4 27,471.6 28,472.7" stroke="#2e2f7a"/>
<polyline points="0,520.6 1,516.4 2,512.1 3,508.0 4,504.0 5,500.2 6,496.7 7,494.2 8,492.8 9,492.4 10,492.7 11,493.9 12,495.7 13,497.4 14,498.4 15,498.2 16,497.5 17,496.9 18,496.3 19,495.4 20,494.1 21,492.8 22,491.6 23,490.9 24,490.7 25,490.8 26,491.2 27,492.2 28,493.7" stroke="#2e2f7a"/>
<polyline points="0,468.5 1,474.2 2,479.2 3,483.3 4,486.9 5,490.1 6,493.3 7,495.9 8,497.9 9,499.5 10,500.5 11,501.3 12,502.3 13,503.7 14,505.0 15,505.2 16,504.7 17,504.3 18,504.8 19,505.9 20,506.8 21,506.8 22,505.6 23,504.1 24,503.2 25,503.1 26,503.2 27,502.5 28,501.0" stroke="#c8359f"/>
<polyline points="0,498.6 1,497.7 2,496.9 3,496.0 4,495.0 5,493.8 6,492.6 7,491.5 8,489.9 9,488.7 10,487.6 11,486.8 12,486.0 13,484.9 14,483.7 15,482.7 16,482.4 17,482.5 18,482.5 19,482.2 20,481.8 21,482.1 22,483.3 23,485.1 24,486.6 25,487.4 26,487.7 27,487.8 28,488.5" stroke="#2e2f7a"/>
<polyline points="0,465.2 1,471.3 2,476.7 3,481.2 4,485.2 5,488.8 6,492.2 7,495.0 8,496.9 9,498.3 10,499.6 11,501.0 12,501.7 13,501.1 14,499.9 15,499.7 16,501.4 17,503.9 18,505.6 19,505.1 20,502.9 21,500.3 22,499.0 23,499.2 24,500.0 25,500.4 26,500.1 27,499.9 28,500.5" stroke="#c8359f"/>
<polyline points="0,466.2 1,472.6 2,478.2 3,482.9 4,487.1 5,490.8 6,494.3 7,497.4 8,499.5 9,501.7 10,504.1 11,506.8 12,509.2 13,510.5 14,510.7 15,510.7 16,511.5 17,513.0 18,514.2 19,514.5 20,513.7 21,512.4 22,511.3 23,510.6 24,510.0 25,508.9 26,507.3 27,505.7 28,504.9" stroke="#c8359f"/>
<polyline points="0,498.1 1,494.8 2,492.2 3,489.7 4,487.3 5,484.7 6,482.2 7,479.7 8,478.6 9,478.5 10,478.3 11,477.8 12,477.8 13,478.5 14,479.7 15,480.5 16,480.8 17,481.2 18,481.6 19,481.6 20,480.7 21,478.7 22,476.5 23,475.4 24,475.9 25,478.1 26,480.8 27,482.8 28,483.6" stroke="#2e2f7a"/>
<polyline points="0,516.4 1,514.7 2,512.6 3,510.4 4,508.3 5,506.1 6,504.2 7,503.0 8,500.7 9,497.7 10,493.8 11,488.9 12,483.4 13,478.7 14,476.4 15,476.8 16,478.1 17,478.5 18,478.2 19,478.1 20,478.7 21,479.8 22,480.5 23,480.0 24,478.5 25,476.9 26,476.3 27,476.7 28,477.3" stroke="#2e2f7a"/>
<polyline points="0,528.0 1,520.3 2,513.3 3,506.6 4,500.3 5,494.2 6,488.8 7,484.5 8,483.2 9,482.4 10,482.1 11,482.1 12,482.4 13,482.5 14,482.5 15,482.4 16,482.5 17,482.6 18,482.3 19,481.7 20,480.9 21,480.6 22,481.1 23,482.0 24,482.8 25,483.2 26,483.3 27,483.6 28,484.4" stroke="#2e2f7a"/>
<polyline points="0,523.6 1,521.9 2,519.4 3,516.8 4,514.3 5,511.9 6,509.8 7,508.7 8,506.6 9,503.7 10,500.1 11,496.4 12,493.4 13,490.9 14,488.2 15,485.8 16,484.8 17,485.2 18,486.8 19,488.3 20,488.6 21,487.7 22,486.8 23,487.0 24,488.4 25,490.3 26,491.6 27,492.0 28,492.2" stroke="#2e2f7a"/>
<polyline points="0,464.0 1,467.0 2,470.2 3,472.7 4,474.9 5,476.6 6,478.3 7,479.5 8,482.6 9,487.4 10,492.7 11,497.7 12,501.8 13,504.8 14,507.1 15,508.6 16,509.6 17,510.9 18,512.0 19,513.0 20,513.5 21,513.7 22,514.0 23,514.3 24,515.1 25,516.3 26,517.8 27,519.3 28,520.2" stroke="#c8359f"/>
<polyline points="0,453.6 1,460.4 2,466.8 3,472.3 4,477.2 5,481.5 6,485.5 7,488.5 8,490.8 9,493.4 10,495.8 11,497.9 12,499.2 13,499.8 14,500.2 15,500.7 16,501.3 17,502.1 18,502.5 19,502.3 20,501.4 21,500.4 22,500.0 23,500.6 24,502.1 25,504.1 26,506.3 27,508.2 28,509.7" stroke="#c8359f"/>
<polyline points="0,517.8 1,514.3 2,510.7 3,507.2 4,503.8 5,500.5 6,497.5 7,495.3 8,493.8 9,492.5 10,490.3 11,486.6 12,482.6 13,480.2 14,480.1 15,481.5 16,482.7 17,483.0 18,482.7 19,482.4 20,481.8 21,480.9 22,479.6 23,478.7 24,479.4 25,481.9 26,485.3 27,487.8 28,487.8" stroke="#2e2f7a"/>
<polyline points="0,539.1 1,528.5 2,518.7 3,509.6 4,500.9 5,492.8 6,485.5 7,479.8 8,478.8 9,479.0 10,480.4 11,483.3 12,487.6 13,492.2 14,495.4 15,496.0 16,495.0 17,493.7 18,492.6 19,492.0 20,492.1 21,492.8 22,494.0 23,495.1 24,495.4 25,494.6 26,493.0 27,491.6 28,491.4" stroke="#2e2f7a"/>
<polyline points="0,525.6 1,518.3 2,511.7 3,505.4 4,499.4 5,493.6 6,488.4 7,484.3 8,483.1 9,482.6 10,482.2 11,481.2 12,479.7 13,478.8 14,479.2 15,480.1 16,480.5 17,480.1 18,479.6 19,480.0 20,481.5 21,483.2 22,483.9 23,483.2 24,481.6 25,480.4 26,480.4 27,481.2 28,481.5" stroke="#2e2f7a"/>
<polyline points="0,489.1 1,493.6 2,497.0 3,500.0 4,502.6 5,504.9 6,506.8 7,508.3 8,506.0 9,503.0 10,499.1 11,494.7 12,490.7 13,487.5 14,485.5 15,484.6 16,484.2 17,483.8 18,483.5 19,483.5 20,483.8 21,484.0 22,484.1 23,484.1 24,484.2 25,484.7 26,485.4 27,486.2 28,486.7" stroke="#2e2f7a"/>
<polyline points="0,506.0 1,500.5 2,496.0 3,491.7 4,487.6 5,483.5 6,479.6 7,476.1 8,475.4 9,476.1 10,478.0 11,481.2 12,485.5 13,489.4 14,491.0 15,490.0 16,488.0 17,487.0 18,486.8 19,487.2 20,488.1 21,489.7 22,492.4 23,495.6 24,498.1 25,498.7 26,497.3 27,494.9 28,493.2" stroke="#2e2f7a"/>
<polyline points="0,513.1 1,508.3 2,504.0 3,499.8 4,495.8 5,491.9 6,488.2 7,485.2 8,484.7 9,486.0 10,488.0 11,490.3 12,492.5 13,494.7 14,496.3 15,496.6 16,496.0 17,495.7 18,495.9 19,496.6 20,497.7 21,498.6 22,498.7 23,498.3 24,497.7 25,497.0 26,496.0 27,494.6 28,492.4" stroke="#2e2f7a"/>
<polyline points="0,519.2 1,513.1 2,507.5 3,502.3 4,497.3 5,492.4 6,488.0 7,484.4 8,483.0 9,482.2 10,481.7 11,481.7 12,482.4 13,483.0 14,482.3 15,480.3 16,478.6 17,478.1 18,479.0 19,479.8 20,479.3 21,477.3 22,475.0 23,474.0 24,474.8 25,477.1 26,479.5 27,481.3 28,482.8" stroke="#2e2f7a"/>
<polyline points="0,521.6 1,513.4 2,506.2 3,499.4 4,492.9 5,486.7 6,481.1 7,476.4 8,475.8 9,477.3 10,479.7 11,482.2 12,484.3 13,486.0 14,487.0 15,487.3 16,487.1 17,487.4 18,488.3 19,489.7 20,491.4 21,492.7 22,493.2 23,493.0 24,492.2 25,491.8 26,492.0 27,492.8 28,493.7" stroke="#2e2f7a"/>
<polyline points="0,487.4 1,487.6 2,487.9 3,488.1 4,488.2 5,487.9 6,487.5 7,486.6 8,485.6 9,485.9 10,486.9 11,488.2 12,489.7 13,491.4 14,493.2 15,494.5 16,494.9 17,494.6 18,493.8 19,492.9 20,492.5 21,492.9 22,493.5 23,494.0 24,494.0 25,493.6 26,493.2 27,493.1 28,493.3" stroke="#2e2f7a"/>
<polyline points="0,499.1 1,498.0 2,496.9 3,495.8 4,494.6 5,493.2 6,491.9 7,490.6 8,489.0 9,487.5 10,485.8 11,484.4 12,483.4 13,483.2 14,483.3 15,483.2 16,482.6 17,481.5 18,480.2 19,479.0 20,478.3 21,478.3 22,479.0 23,480.0 24,481.1 25,481.8 26,481.9 27,481.5 28,480.7" stroke="#2e2f7a"/>
<polyline points="0,463.4 1,468.2 2,472.8 3,476.4 4,479.7 5,482.6 6,485.3 7,487.4 8,489.1 9,490.3 10,491.4 11,492.6 12,494.1 13,495.5 14,496.3 15,496.3 16,495.7 17,494.9 18,494.4 19,494.2 20,494.3 21,494.3 22,494.1 23,493.7 24,493.2 25,492.7 26,492.2 27,491.8 28,491.7" stroke="#c8359f"/>
<polyline points="0,477.1 1,479.1 2,481.1 3,482.4 4,483.4 5,484.2 6,485.2 7,486.1 8,488.3 9,490.9 10,493.5 11,494.7 12,494.2 13,492.9 14,492.3 15,492.6 16,493.0 17,492.7 18,492.3 19,492.8 20,494.4 21,496.5 22,497.6 23,497.4 24,496.4 25,495.8 26,496.5 27,498.1 28,499.1" stroke="#c8359f"/>
<polyline points="0,520.0 1,516.3 2,512.5 3,508.7 4,505.1 5,501.6 6,498.5 7,496.2 8,494.9 9,494.1 10,493.3 11,492.3 12,491.3 13,490.8 14,490.5 15,490.5 16,490.6 17,490.7 18,490.8 19,490.9 20,491.1 21,491.5 22,492.2 23,493.3 24,494.5 25,495.7 26,496.8 27,497.7 28,498.3" stroke="#2e2f7a"/>
<polyline points="0,475.2 1,478.7 2,481.9 3,484.2 4,486.3 5,488.0 6,489.9 7,491.5 8,493.5 9,495.3 10,496.9 11,498.6 12,500.0 13,500.2 14,499.6 15,499.4 16,500.8 17,503.6 18,506.7 19,508.6 20,508.8 21,507.7 22,506.3 23,505.1 24,504.1 25,502.6 26,500.7 27,498.9 28,498.0" stroke="#c8359f"/>
<polyline points="0,470.1 1,473.3 2,476.3 3,478.6 4,480.7 5,482.3 6,484.0 7,485.3 8,487.2 9,489.0 10,490.8 11,492.4 12,493.4 13,493.9 14,494.7 15,495.8 16,496.3 17,495.7 18,494.3 19,493.2 20,493.5 21,495.2 22,496.9 23,497.4 24,496.2 25,494.0 26,491.9 27,490.9 28,490.6" stroke="#c8359f"/>
<polyline points="0,529.3 1,523.4 2,517.6 3,512.1 4,506.8 5,501.7 6,497.2 7,494.0 8,492.1 9,490.3 10,488.6 11,487.2 12,486.2 13,485.4 14,484.5 15,483.2 16,481.7 17,480.1 18,478.9 19,478.5 20,479.0 21,480.1 22,481.3 23,482.1 24,482.2 25,481.9 26,481.5 27,481.5 28,482.0" stroke="#2e2f7a"/>
<polyline points="0,472.4 1,476.9 2,481.0 3,484.1 4,487.0 5,489.4 6,491.9 7,494.0 8,495.9 9,497.4 10,499.1 11,501.6 12,504.4 13,506.0 14,506.1 15,505.8 16,506.6 17,508.4 18,509.9 19,509.7 20,507.9 21,505.9 22,504.9 23,505.3 24,505.9 25,505.0 26,502.6 27,499.9 28,498.6" stroke="#c8359f"/>
<polyline points="0,477.5 1,480.3 2,482.9 3,484.7 4,486.3 5,487.5 6,489.0 7,490.3 8,492.5 9,494.7 10,497.0 11,499.3 12,501.7 13,503.5 14,504.3 15,504.1 16,503.6 17,503.5 18,503.8 19,504.3 20,504.5 21,504.6 22,504.9 23,505.5 24,506.3 25,507.1 26,507.5 27,507.7 28,507.9" stroke="#c8359f"/>
<polyline points="0,514.1 1,511.4 2,508.6 3,505.8 4,503.1 5,500.3 6,497.9 7,496.0 8,494.9 9,495.1 10,495.9 11,496.5 12,496.2 13,495.2 14,494.3 15,494.2 16,495.3 17,496.8 18,498.1 19,498.7 20,498.6 21,497.9 22,496.5 23,494.8 24,493.1 25,492.2 26,492.4 27,493.9 28,495.9" stroke="#2e2f7a"/>
<polyline points="0,467.4 1,473.0 2,478.0 3,482.1 4,485.7 5,488.9 6,492.0 7,494.7 8,496.3 9,497.2 10,497.7 11,498.3 12,499.2 13,499.6 14,498.7 15,497.0 16,495.9 17,496.0 18,497.3 19,498.6 20,499.2 21,498.9 22,498.0 23,497.4 24,497.0 25,496.2 26,494.5 27,492.1 28,489.8" stroke="#c8359f"/>
<polyline points="0,500.0 1,496.5 2,493.6 3,490.9 4,488.2 5,485.5 6,482.8 7,480.2 8,479.1 9,479.0 10,479.6 11,480.6 12,481.4 13,481.6 14,481.3 15,480.8 16,480.8 17,481.4 18,482.1 19,482.6 20,482.8 21,482.6 22,481.9 23,481.0 24,479.9 25,478.7 26,477.7 27,477.1 28,477.2" stroke="#2e2f7a"/>
<polyline points="0,512.4 1,509.0 2,505.8 3,502.6 4,499.5 5,496.5 6,493.6 7,491.4 8,489.9 9,488.8 10,487.7 11,486.5 12,485.2 13,483.9 14,482.7 15,481.4 16,480.3 17,479.2 18,478.6 19,478.7 20,479.6 21,480.9 22,482.0 23,482.8 24,483.0 25,482.9 26,482.5 27,481.8 28,480.8" stroke="#2e2f7a"/>
<polyline points="0,525.9 1,520.9 2,515.9 3,511.1 4,506.5 5,502.1 6,498.2 7,495.4 8,494.2 9,494.5 10,495.9 11,498.0 12,500.0 13,501.3 14,501.3 15,500.1 16,498.3 17,497.1 18,496.8 19,497.6 20,499.1 21,500.6 22,501.4 23,501.1 24,499.9 25,498.9 26,498.9 27,500.2 28,502.7" stroke="#2e2f7a"/>
<polyline points="0,496.9 1,498.0 2,498.6 3,498.4 4,498.2 5,497.9 6,498.0 7,498.8 8,500.8 9,502.5 10,504.4 11,506.7 12,508.4 13,508.5 14,506.7 15,504.8 16,504.3 17,505.4 18,506.7 19,506.9 20,505.7 21,503.9 22,502.7 23,502.8 24,503.5 25,503.6 26,502.7 27,501.4 28,500.6" stroke="#c8359f"/>
<polyline points="0,466.9 1,475.3 2,482.5 3,488.5 4,494.0 5,498.9 6,503.7 7,507.9 8,509.3 9,509.8 10,509.6 11,509.7 12,510.0 13,510.5 14,510.7 15,510.5 16,509.9 17,509.0 18,507.8 19,506.4 20,505.1 21,504.2 22,504.1 23,504.7 24,505.6 25,506.1 26,505.9 27,505.0 28,504.0" stroke="#c8359f"/>
<polyline points="0,467.5 1,470.6 2,473.7 3,476.0 4,478.1 5,479.7 6,481.4 7,482.6 8,484.9 9,487.6 10,490.4 11,492.8 12,495.3 13,498.1 14,500.7 15,501.8 16,501.1 17,500.1 18,500.1 19,501.4 20,503.0 21,503.5 22,502.2 23,499.9 24,497.9 25,497.6 26,498.6 27,500.0 28,500.7" stroke="#c8359f"/>
<polyline points="0,524.8 1,519.0 2,513.5 3,508.2 4,503.1 5,498.2 6,493.9 7,490.6 8,489.1 9,487.7 10,485.9 11,484.2 12,483.9 13,484.8 14,485.4 15,484.5 16,482.7 17,481.2 18,480.7 19,480.8 20,480.7 21,480.0 22,479.3 23,479.7 24,481.5 25,483.7 26,485.0 27,484.3 28,482.1" stroke="#2e2f7a"/>
<polyline points="0,505.2 1,503.4 2,501.6 3,499.8 4,497.9 5,496.0 6,494.2 7,492.6 8,490.6 9,488.3 10,485.7 11,483.2 12,481.1 13,479.3 14,477.6 15,476.2 16,475.5 17,475.3 18,475.5 19,475.4 20,474.4 21,472.9 22,471.7 23,471.4 24,472.2 25,473.7 26,475.4 27,476.9 28,478.4" stroke="#2e2f7a"/>
<polyline points="0,502.6 1,501.1 2,499.5 3,498.0 4,496.4 5,494.7 6,493.1 7,491.6 8,490.1 9,489.1 10,488.1 11,487.0 12,485.8 13,485.1 14,485.2 15,485.9 16,486.2 17,485.8 18,484.7 19,483.3 20,482.4 21,482.1 22,482.3 23,482.6 24,482.9 25,483.4 26,484.3 27,485.6 28,486.7" stroke="#2e2f7a"/>
<polyline points="0,474.5 1,480.3 2,485.2 3,489.0 4,492.6 5,495.7 6,498.8 7,501.7 8,503.2 9,503.8 10,503.5 11,502.9 12,503.0 13,504.1 14,505.3 15,505.4 16,504.3 17,502.9 18,502.4 19,502.8 20,503.2 21,502.9 22,502.0 23,501.3 24,501.6 25,503.0 26,504.7 27,505.6 28,505.6" stroke="#c8359f"/>
<polyline points="0,535.8 1,527.7 2,520.0 3,512.6 4,505.7 5,499.1 6,493.3 7,488.9 8,487.5 9,486.4 10,485.3 11,484.4 12,483.9 13,483.8 14,483.7 15,483.7 16,483.8 17,483.9 18,483.7 19,483.1 20,482.5 21,482.1 22,482.6 23,483.6 24,484.7 25,485.4 26,485.6 27,485.3 28,485.1" stroke="#2e2f7a"/>
<polyline points="0,468.7 1,474.3 2,479.2 3,483.2 4,486.7 5,489.9 6,492.9 7,495.6 8,497.2 9,498.1 10,498.2 11,498.3 12,498.9 13,499.7 14,499.7 15,498.5 16,496.9 17,496.0 18,496.2 19,496.7 20,496.6 21,495.6 22,494.5 23,494.4 24,495.8 25,497.9 26,499.2 27,499.1 28,497.9" stroke="#c8359f"/>
<polyline points="0,466.4 1,471.5 2,476.1 3,479.8 4,483.2 5,486.1 6,488.9 7,491.3 8,493.3 9,495.3 10,497.1 11,498.2 12,498.3 13,498.0 14,498.6 15,500.2 16,501.7 17,502.0 18,501.2 19,500.0 20,499.6 21,500.1 22,501.4 23,502.5 24,503.0 25,503.6 26,504.8 27,506.8 28,508.9" stroke="#c8359f"/>
<polyline points="0,462.7 1,469.7 2,476.0 3,481.2 4,485.9 5,490.1 6,494.1 7,497.4 8,498.9 9,499.2 10,498.7 11,497.5 12,496.1 13,495.2 14,495.0 15,495.6 16,496.2 17,496.3 18,496.0 19,495.8 20,495.7 21,495.5 22,495.4 23,495.4 24,495.7 25,496.7 26,498.2 27,499.9 28,501.3" stroke="#c8359f"/>
<polyline points="0,463.1 1,468.0 2,472.8 3,476.6 4,480.1 5,483.0 6,485.8 7,488.1 8,490.5 9,493.5 10,497.2 11,501.0 12,503.8 13,505.6 14,507.1 15,508.9 16,510.6 17,511.7 18,511.4 19,510.3 20,509.6 21,510.0 22,511.4 23,512.6 24,512.8 25,512.1 26,511.7 27,512.5 28,514.5" stroke="#c8359f"/>
<polyline points="0,508.8 1,508.2 2,507.1 3,505.9 4,504.7 5,503.4 6,502.2 7,501.3 8,499.7 9,498.2 10,496.2 11,493.8 12,490.9 13,488.0 14,485.9 15,485.2 16,485.8 17,486.7 18,487.7 19,488.7 20,489.9 21,491.4 22,493.2 23,494.7 24,495.4 25,495.3 26,494.8 27,494.1 28,493.6" stroke="#2e2f7a"/>
<polyline points="0,483.7 1,490.3 2,495.5 3,500.1 4,504.3 5,508.0 6,511.2 7,513.8 8,511.7 9,509.3 10,506.6 11,503.8 12,501.2 13,499.1 14,497.2 15,495.9 16,495.2 17,494.7 18,494.4 19,494.0 20,493.7 21,493.4 22,493.5 23,493.8 24,494.4 25,495.0 26,495.6 27,496.1 28,496.7" stroke="#2e2f7a"/>
<polyline points="0,495.6 1,497.5 2,498.7 3,499.7 4,500.5 5,501.1 6,501.4 7,501.7 8,499.4 9,496.5 10,493.0 11,489.1 12,485.4 13,482.1 14,479.6 15,478.2 16,477.8 17,477.5 18,477.5 19,477.6 20,477.8 21,477.9 22,477.7 23,477.3 24,476.8 25,476.3 26,476.0 27,475.8 28,475.7" stroke="#2e2f7a"/>
<polyline points="0,473.8 1,477.8 2,481.3 3,484.0 4,486.4 5,488.4 6,490.5 7,492.4 8,494.5 9,496.6 10,498.4 11,499.7 12,500.5 13,500.9 14,501.0 15,501.1 16,501.2 17,501.3 18,501.7 19,502.3 20,503.3 21,504.3 22,505.1 23,505.5 24,505.5 25,505.1 26,504.4 27,503.4 28,502.0" stroke="#c8359f"/>
<polyline points="0,508.0 1,504.9 2,501.9 3,499.1 4,496.3 5,493.5 6,490.9 7,488.6 8,486.7 9,484.8 10,482.8 11,480.3 12,477.4 13,475.5 14,475.3 15,476.3 16,476.9 17,475.8 18,473.8 19,472.3 20,472.1 21,473.0 22,474.0 23,473.9 24,473.0 25,472.5 26,473.6 27,476.1 28,478.8" stroke="#2e2f7a"/>
<polyline points="0,510.6 1,510.8 2,510.2 3,509.5 4,508.7 5,507.7 6,507.0 7,506.6 8,504.7 9,502.8 10,500.5 11,497.7 12,494.5 13,491.6 14,489.4 15,487.8 16,486.5 17,485.1 18,484.0 19,483.7 20,484.2 21,484.9 22,485.4 23,485.6 24,485.9 25,486.5 26,487.6 27,488.6 28,488.9" stroke="#2e2f7a"/>
<polyline points="0,516.0 1,513.2 2,510.1 3,507.2 4,504.3 5,501.4 6,498.9 7,497.0 8,495.3 9,493.9 10,492.3 11,490.2 12,488.1 13,487.0 14,487.2 15,487.9 16,488.1 17,487.5 18,486.5 19,485.9 20,485.9 21,485.9 22,485.6 23,484.7 24,484.0 25,484.3 26,485.8 27,487.9 28,489.4" stroke="#2e2f7a"/>
<polyline points="0,488.8 1,489.9 2,490.9 3,491.6 4,492.2 5,492.5 6,492.5 7,492.2 8,490.7 9,489.6 10,488.4 11,486.9 12,485.4 13,484.6 14,484.3 15,484.2 16,484.1 17,483.8 18,483.8 19,484.4 20,485.5 21,486.6 22,487.3 23,487.4 24,487.3 25,487.5 26,488.1 27,488.9 28,489.5" stroke="#2e2f7a"/>
<polyline points="0,465.5 1,470.6 2,475.4 3,479.2 4,482.6 5,485.6 6,488.4 7,490.8 8,492.8 9,494.9 10,496.8 11,497.7 12,497.4 13,496.4 14,496.0 15,496.5 16,497.7 17,499.2 18,500.8 19,502.6 20,504.0 21,504.7 22,504.2 23,502.7 24,501.0 25,500.3 26,500.9 27,502.5 28,504.3" stroke="#c8359f"/>
<polyline points="0,462.9 1,468.7 2,474.0 3,478.3 4,482.3 5,485.7 6,488.9 7,491.6 8,493.4 9,494.6 10,495.2 11,495.2 12,494.7 13,494.1 14,493.9 15,494.4 16,495.2 17,495.8 18,496.0 19,495.7 20,495.3 21,495.2 22,496.2 23,497.7 24,499.5 25,501.3 26,502.8 27,504.0 28,504.9" stroke="#c8359f"/>
<polyline points="0,482.6 1,484.5 2,486.3 3,487.9 4,489.2 5,490.2 6,490.7 7,490.8 8,489.7 9,489.7 10,490.2 11,491.2 12,491.9 13,492.1 14,491.9 15,492.1 16,493.1 17,494.5 18,495.4 19,494.9 20,493.5 21,492.2 22,491.7 23,492.2 24,492.9 25,493.4 26,493.5 27,493.9 28,494.9" stroke="#2e2f7a"/>
<polyline points="0,463.3 1,471.1 2,478.0 3,483.7 4,488.9 5,493.5 6,498.0 7,501.7 8,502.9 9,502.4 10,501.5 11,500.8 12,500.0 13,498.1 14,495.5 15,494.1 16,495.1 17,497.2 18,499.0 19,499.2 20,497.8 21,496.0 22,494.7 23,493.9 24,492.8 25,490.2 26,486.4 27,482.7 28,480.6" stroke="#c8359f"/>
<polyline points="0,525.8 1,521.2 2,516.5 3,512.0 4,507.6 5,503.4 6,499.7 7,497.1 8,495.0 9,492.4 10,489.2 11,485.3 12,481.5 13,479.0 14,478.3 15,478.4 16,478.2 17,476.9 18,475.5 19,475.1 20,476.0 21,477.2 22,477.7 23,477.2 24,476.1 25,475.7 26,476.2 27,477.3 28,478.0" stroke="#2e2f7a"/>
<polyline points="0,503.8 1,502.8 2,501.7 3,500.5 4,499.3 5,497.9 6,496.6 7,495.5 8,493.9 9,492.9 10,492.2 11,491.7 12,490.7 13,489.5 14,488.6 15,488.5 16,488.7 17,488.1 18,486.5 19,484.6 20,483.8 21,484.8 22,487.3 23,489.9 24,491.4 25,491.7 26,491.7 27,492.3 28,493.5" stroke="#2e2f7a"/>
<polyline points="0,537.5 1,528.4 2,519.9 3,511.8 4,504.2 5,497.1 6,490.6 7,485.8 8,484.6 9,484.3 10,484.1 11,483.6 12,483.1 13,483.1 14,483.8 15,484.7 16,485.6 17,486.2 18,486.3 19,486.0 20,485.6 21,485.3 22,485.2 23,485.3 24,485.7 25,486.5 26,487.4 27,488.2 28,488.6" stroke="#2e2f7a"/>
<polyline points="0,468.9 1,473.3 2,477.4 3,480.6 4,483.5 5,486.0 6,488.4 7,490.4 8,491.8 9,491.8 10,491.1 11,490.7 12,491.3 13,492.3 14,492.8 15,493.0 16,493.7 17,495.0 18,496.4 19,496.4 20,494.5 21,491.4 22,488.6 23,487.2 24,487.3 25,487.7 26,487.4 27,486.5 28,485.8" stroke="#c8359f"/>
<polyline points="0,508.6 1,505.4 2,502.5 3,499.6 4,496.8 5,494.0 6,491.4 7,489.2 8,487.7 9,486.8 10,486.1 11,485.6 12,484.8 13,483.0 14,480.8 15,479.9 16,481.2 17,483.5 18,484.8 19,484.2 20,482.1 21,480.4 22,480.9 23,483.2 24,485.9 25,487.9 26,488.9 27,490.0 28,492.2" stroke="#2e2f7a"/>
<polyline points="0,515.7 1,508.4 2,502.1 3,496.1 4,490.4 5,484.9 6,479.8 7,475.4 8,474.5 9,474.8 10,475.7 11,476.6 12,477.8 13,479.5 14,481.3 15,481.8 16,481.1 17,480.0 18,479.1 19,479.1 20,480.0 21,481.0 22,481.5 23,481.3 24,480.9 25,480.6 26,480.6 27,480.4 28,479.6" stroke="#2e2f7a"/>
<polyline points="0,503.5 1,504.3 2,504.5 3,504.4 4,504.3 5,503.9 6,503.6 7,503.4 8,501.2 9,498.3 10,494.7 11,490.9 12,487.1 13,483.9 14,481.4 15,479.9 16,479.3 17,478.7 18,478.2 19,477.9 20,477.7 21,477.8 22,478.1 23,478.6 24,479.2 25,480.0 26,480.9 27,481.7 28,482.4" stroke="#2e2f7a"/>
<polyline points="0,448.0 1,454.3 2,461.5 3,467.7 4,473.3 5,478.2 6,482.7 7,486.0 8,488.6 9,491.8 10,495.4 11,499.5 12,503.4 13,506.5 14,508.7 15,510.7 16,512.9 17,515.4 18,517.0 19,516.7 20,515.2 21,513.6 22,513.4 23,514.5 24,515.8 25,516.3 26,515.9 27,515.3 28,515.6" stroke="#c8359f"/>
<polyline points="0,498.6 1,499.4 2,499.8 3,499.9 4,500.0 5,499.8 6,499.6 7,499.3 8,497.5 9,495.4 10,493.3 11,491.2 12,489.5 13,487.9 14,486.6 15,486.1 16,486.2 17,486.2 18,485.8 19,484.9 20,484.2 21,484.2 22,485.0 23,486.2 24,486.8 25,486.5 26,485.3 27,484.0 28,483.1" stroke="#2e2f7a"/>
<polyline points="0,506.1 1,501.9 2,498.2 3,494.6 4,491.2 5,487.8 6,484.6 7,481.7 8,481.0 9,481.4 10,481.7 11,482.0 12,483.1 13,485.8 14,488.9 15,490.8 16,491.2 17,491.8 18,492.9 19,494.4 20,495.3 21,494.9 22,493.4 23,492.0 24,491.7 25,492.5 26,493.2 27,492.6 28,490.4" stroke="#2e2f7a"/>
<polyline points="0,498.8 1,500.6 2,501.7 3,502.6 4,503.2 5,503.7 6,504.0 7,504.3 8,502.3 9,500.0 10,497.1 11,493.8 12,490.1 13,486.7 14,484.3 15,484.0 16,485.4 17,487.3 18,488.8 19,489.7 20,490.2 21,490.6 22,490.8 23,490.4 24,489.3 25,487.4 26,485.5 27,483.9 28,483.1" stroke="#2e2f7a"/>
<polyline points="0,508.7 1,507.6 2,506.1 3,504.6 4,503.1 5,501.5 6,500.0 7,498.9 8,496.8 9,493.6 10,489.2 11,484.1 12,479.4 13,475.7 14,473.8 15,473.7 16,475.1 17,476.8 18,478.7 19,480.4 20,481.5 21,482.0 22,481.7 23,480.8 24,479.6 25,478.0 26,475.9 27,473.4 28,470.9" stroke="#2e2f7a"/>
<polyline points="0,515.4 1,513.4 2,510.9 3,508.5 4,506.1 5,503.8 6,501.7 7,500.2 8,498.7 9,497.6 10,496.0 11,493.6 12,490.5 13,487.6 14,485.4 15,484.5 16,484.7 17,485.6 18,487.2 19,489.4 20,491.8 21,493.9 22,495.1 23,495.2 24,494.5 25,493.4 26,492.2 27,490.7 28,488.8" stroke="#2e2f7a"/>
<polyline points="0,450.2 1,460.3 2,469.2 3,477.0 4,484.1 5,490.4 6,496.2 7,501.0 8,502.6 9,503.6 10,504.1 11,504.4 12,504.6 13,505.1 14,505.6 15,505.9 16,505.9 17,505.6 18,505.2 19,504.7 20,503.8 21,502.6 22,501.4 23,500.6 24,500.7 25,501.4 26,502.3 27,503.0 28,503.2" stroke="#c8359f"/>
<polyline points="0,469.4 1,473.1 2,476.7 3,479.4 4,481.8 5,483.8 6,485.8 7,487.5 8,489.5 9,491.4 10,493.1 11,494.9 12,496.9 13,498.3 14,498.7 15,498.3 16,498.2 17,498.8 18,499.8 19,500.3 20,499.8 21,498.7 22,497.7 23,497.5 24,498.0 25,498.4 26,498.0 27,497.0 28,495.9" stroke="#c8359f"/>
<polyline points="0,484.4 1,486.2 2,487.8 3,488.7 4,489.4 5,489.9 6,490.6 7,491.6 8,493.5 9,494.9 10,496.5 11,498.8 12,501.8 13,503.7 14,503.2 15,501.1 16,499.3 17,499.2 18,500.2 19,501.5 20,502.1 21,502.4 22,502.9 23,504.1 24,505.2 25,504.9 26,502.8 27,499.8 28,497.6" stroke="#c8359f"/>
<polyline points="0,472.5 1,477.0 2,481.0 3,484.1 4,486.8 5,489.2 6,491.6 7,493.8 8,496.0 9,498.4 10,501.0 11,503.5 12,505.7 13,507.2 14,508.0 15,508.3 16,508.8 17,509.7 18,510.8 19,511.4 20,511.3 21,510.4 22,509.1 23,507.9 24,507.2 25,506.7 26,506.4 27,506.2 28,506.0" stroke="#c8359f"/>
<polyline points="0,506.1 1,506.3 2,505.9 3,505.4 4,504.8 5,504.0 6,503.3 7,502.8 8,501.3 9,500.0 10,498.3 11,495.9 12,493.0 13,490.3 14,488.1 15,486.6 16,485.9 17,485.4 18,485.3 19,485.6 20,486.4 21,487.5 22,489.1 23,491.0 24,493.1 25,495.2 26,497.1 27,498.3 28,498.7" stroke="#2e2f7a"/>
<polyline points="0,504.6 1,503.1 2,501.4 3,499.8 4,498.1 5,496.3 6,494.6 7,493.2 8,492.0 9,491.8 10,492.3 11,493.4 12,494.5 13,494.6 14,493.3 15,491.1 16,489.9 17,490.2 18,491.5 19,492.6 20,493.1 21,492.9 22,492.9 23,493.4 24,494.1 25,494.5 26,494.3 27,493.9 28,494.0" stroke="#2e2f7a"/>
<polyline points="0,475.3 1,478.4 2,481.2 3,483.3 4,485.0 5,486.5 6,488.1 7,489.5 8,491.2 9,492.2 10,492.6 11,492.5 12,491.9 13,490.9 14,489.9 15,489.4 16,489.7 17,490.2 18,490.7 19,490.8 20,490.4 21,489.5 22,488.9 23,488.9 24,489.6 25,490.7 26,492.1 27,493.4 28,494.5" stroke="#c8359f"/>
<polyline points="0,461.5 1,469.3 2,476.3 3,482.1 4,487.4 5,492.1 6,496.6 7,500.3 8,502.1 9,503.5 10,504.3 11,505.0 12,505.6 13,506.0 14,506.1 15,505.9 16,505.7 17,505.7 18,505.9 19,506.3 20,506.8 21,507.4 22,508.5 23,509.8 24,511.1 25,511.8 26,511.9 27,511.5 28,511.1" stroke="#c8359f"/>
<polyline points="0,448.0 1,454.4 2,461.6 3,467.7 4,473.3 5,478.1 6,482.6 7,485.8 8,487.9 9,490.2 10,492.7 11,494.9 12,496.1 13,496.7 14,498.0 15,500.3 16,502.4 17,503.1 18,501.8 19,499.6 20,498.2 21,498.3 22,499.4 23,500.1 24,499.5 25,497.9 26,496.4 27,496.1 28,496.4" stroke="#c8359f"/>
<polyline points="0,464.3 1,469.3 2,474.0 3,477.9 4,481.3 5,484.2 6,487.1 7,489.4 8,491.4 9,493.4 10,495.3 11,496.3 12,496.3 13,496.1 14,497.0 15,498.5 16,499.3 17,498.7 18,497.6 19,497.1 20,498.1 21,500.1 22,501.8 23,502.3 24,501.7 25,501.2 26,501.9 27,503.7 28,505.4" stroke="#c8359f"/>
<polyline points="0,505.0 1,503.7 2,502.3 3,500.8 4,499.3 5,497.6 6,496.1 7,494.8 8,493.1 9,491.6 10,489.8 11,486.9 12,483.4 13,480.6 14,479.5 15,480.0 16,481.1 17,481.7 18,482.0 19,482.5 20,483.1 21,483.3 22,483.0 23,482.1 24,481.5 25,482.1 26,484.3 27,487.5 28,490.3" stroke="#2e2f7a"/>
<polyline points="0,498.0 1,496.6 2,495.4 3,494.2 4,492.9 5,491.4 6,489.9 7,488.5 8,487.1 9,486.6 10,487.1 11,488.4 12,489.1 13,488.6 14,487.5 15,487.4 16,488.3 17,488.9 18,488.0 19,486.0 20,484.4 21,484.6 22,486.7 23,488.9 24,489.5 25,488.0 26,485.9 27,485.3 28,486.7" stroke="#2e2f7a"/>
<polyline points="0,504.0 1,506.2 2,507.3 3,508.1 4,508.8 5,509.3 6,509.7 7,510.3 8,507.6 9,503.2 10,497.4 11,491.0 12,485.3 13,481.2 14,478.2 15,476.2 16,475.0 17,474.3 18,474.4 19,475.3 20,476.2 21,476.5 22,476.3 23,476.3 24,476.9 25,477.7 26,478.3 27,478.0 28,477.0" stroke="#2e2f7a"/>
<polyline points="0,499.1 1,498.4 2,497.6 3,496.7 4,495.8 5,494.7 6,493.5 7,492.4 8,491.4 9,491.2 10,491.3 11,491.3 12,491.5 13,491.9 14,492.1 15,492.2 16,492.5 17,493.1 18,493.8 19,493.8 20,493.2 21,492.0 22,491.2 23,491.2 24,492.1 25,493.4 26,494.4 27,494.8 28,494.6" stroke="#2e2f7a"/>
<polyline points="0,517.5 1,511.4 2,505.9 3,500.7 4,495.8 5,490.9 6,486.5 7,482.9 8,482.3 9,483.7 10,486.2 11,489.1 12,491.7 13,494.1 14,495.9 15,496.9 16,497.1 17,497.1 18,496.8 19,496.3 20,495.7 21,495.2 22,494.7 23,494.4 24,494.2 25,494.5 26,495.4 27,496.8 28,498.0" stroke="#2e2f7a"/>
<polyline points="0,461.8 1,468.7 2,474.9 3,480.0 4,484.7 5,488.9 6,492.8 7,496.1 8,497.9 9,499.3 10,500.4 11,501.1 12,501.4 13,501.2 14,501.1 15,501.9 16,503.3 17,504.6 18,504.7 19,503.5 20,501.7 21,500.3 22,500.0 23,500.8 24,501.8 25,502.4 26,502.5 27,502.5 28,502.5" stroke="#c8359f"/>
<polyline points="0,470.1 1,473.6 2,477.0 3,479.6 4,481.8 5,483.7 6,485.6 7,487.2 8,489.3 9,491.4 10,493.5 11,495.8 12,497.7 13,499.2 14,500.0 15,500.3 16,500.3 17,500.5 18,500.8 19,501.2 20,501.7 21,502.0 22,501.8 23,501.2 24,500.0 25,498.4 26,496.5 27,494.7 28,493.1" stroke="#c8359f"/>
<polyline points="0,523.8 1,519.9 2,515.7 3,511.7 4,507.8 5,504.1 6,500.7 7,498.4 8,496.2 9,493.7 10,490.6 11,486.8 12,482.2 13,477.4 14,473.2 15,470.9 16,471.0 17,472.2 18,474.0 19,475.4 20,475.8 21,475.0 22,473.2 23,471.4 24,470.3 25,470.3 26,471.4 27,473.3 28,475.4" stroke="#2e2f7a"/>
<polyline points="0,489.6 1,489.6 2,489.7 3,489.6 4,489.5 5,489.1 6,488.4 7,487.5 8,486.2 9,485.6 10,485.5 11,485.3 12,484.8 13,484.5 14,484.8 15,485.5 16,485.9 17,485.6 18,484.7 19,483.7 20,483.6 21,484.3 22,485.3 23,485.7 24,485.3 25,484.7 26,484.7 27,485.6 28,486.8" stroke="#2e2f7a"/>
<polyline points="0,516.0 1,512.9 2,509.8 3,506.7 4,503.6 5,500.7 6,498.0 7,496.0 8,493.6 9,490.1 10,485.5 11,480.3 12,475.1 13,470.9 14,468.4 15,468.4 16,470.1 17,471.2 18,470.9 19,469.3 20,467.4 21,466.6 22,467.3 23,469.0 24,470.7 25,471.5 26,471.2 27,470.4 28,469.5" stroke="#2e2f7a"/>
<polyline points="0,492.8 1,493.8 2,494.5 3,495.1 4,495.4 5,495.5 6,495.4 7,495.2 8,493.4 9,491.4 10,489.4 11,487.6 12,486.2 13,485.5 14,485.4 15,485.8 16,486.5 17,487.0 18,487.0 19,486.6 20,486.0 21,485.5 22,485.4 23,485.4 24,485.2 25,484.9 26,484.6 27,484.7 28,485.4" stroke="#2e2f7a"/>
<polyline points="0,485.1 1,486.3 2,487.5 3,488.6 4,489.4 5,489.9 6,490.1 7,489.8 8,488.2 9,486.7 10,484.9 11,483.7 12,483.8 13,484.1 14,483.6 15,482.7 16,482.8 17,484.5 18,486.8 19,488.2 20,487.5 21,485.6 22,484.0 23,483.7 24,484.5 25,484.7 26,483.3 27,480.5 28,477.9" stroke="#2e2f7a"/>
<polyline points="0,462.1 1,470.8 2,478.4 3,484.9 4,490.7 5,496.0 6,501.0 7,505.2 8,506.6 9,506.7 10,506.0 11,505.2 12,504.3 13,503.7 14,503.4 15,503.6 16,503.8 17,503.4 18,502.6 19,501.8 20,501.5 21,501.9 22,502.9 23,504.0 24,504.6 25,504.5 26,504.0 27,503.6 28,503.5" stroke="#c8359f"/>
<polyline points="0,486.7 1,490.4 2,493.2 3,495.2 4,496.9 5,498.4 6,500.2 7,502.2 8,503.2 9,502.3 10,499.9 11,496.5 12,493.0 13,490.4 14,488.9 15,488.3 16,487.8 17,487.2 18,487.1 19,488.0 20,489.0 21,489.3 22,488.3 23,486.8 24,485.5 25,485.0 26,485.0 27,484.6 28,483.3" stroke="#c8359f"/>
<polyline points="0,515.0 1,512.9 2,510.4 3,507.9 4,505.5 5,503.1 6,501.0 7,499.5 8,497.3 9,494.4 10,490.6 11,486.2 12,481.8 13,478.2 14,475.8 15,475.1 16,475.3 17,475.2 18,474.8 19,474.1 20,473.5 21,473.4 22,473.8 23,474.6 24,475.4 25,476.0 26,476.1 27,475.8 28,475.1" stroke="#2e2f7a"/>
<polyline points="0,520.0 1,514.3 2,509.0 3,504.0 4,499.1 5,494.5 6,490.2 7,486.8 8,485.8 9,486.0 10,487.1 11,489.2 12,491.7 13,493.9 14,495.2 15,495.3 16,494.7 17,494.0 18,492.9 19,491.3 20,489.6 21,488.1 22,487.1 23,486.8 24,486.8 25,487.0 26,487.1 27,487.5 28,488.2" stroke="#2e2f7a"/>
<polyline points="0,457.4 1,465.4 2,472.7 3,478.8 4,484.4 5,489.4 6,494.1 7,497.8 8,499.5 9,500.7 10,501.7 11,502.4 12,502.7 13,502.6 14,502.4 15,502.1 16,501.7 17,501.4 18,501.6 19,502.7 20,504.5 21,505.9 22,505.6 23,503.5 24,500.3 25,497.0 26,494.4 27,492.7 28,491.6" stroke="#c8359f"/>
<polyline points="0,480.4 1,484.8 2,488.5 3,491.3 4,493.8 5,495.9 6,498.2 7,500.5 8,502.6 9,504.4 10,505.8 11,507.2 12,509.1 13,511.2 14,512.6 15,512.5 16,511.3 17,510.3 18,510.3 19,511.3 20,512.6 21,513.2 22,513.1 23,512.6 24,512.4 25,512.3 26,511.7 27,510.3 28,508.1" stroke="#c8359f"/>
<polyline points="0,490.0 1,492.6 2,494.7 3,496.5 4,498.0 5,499.2 6,500.1 7,500.6 8,498.7 9,496.5 10,493.5 11,490.4 12,488.2 13,487.0 14,485.4 15,482.9 16,480.8 17,480.5 18,482.6 19,485.5 20,487.0 21,485.6 22,482.1 23,478.9 24,477.9 25,479.0 26,480.7 27,481.3 28,480.6" stroke="#2e2f7a"/>
<polyline points="0,511.0 1,507.0 2,503.2 3,499.6 4,496.2 5,492.7 6,489.5 7,486.9 8,485.8 9,486.1 10,487.0 11,487.6 12,488.5 13,490.5 14,493.5 15,495.5 16,495.2 17,493.3 18,491.2 19,490.6 20,491.8 21,493.6 22,494.5 23,493.7 24,492.4 25,491.9 26,493.1 27,495.3 28,496.9" stroke="#2e2f7a"/>
<polyline points="0,469.0 1,472.7 2,476.2 3,478.9 4,481.4 5,483.4 6,485.4 7,487.1 8,489.4 9,492.3 10,495.3 11,498.2 12,500.7 13,502.2 14,502.9 15,502.9 16,502.6 17,502.6 18,502.7 19,502.7 20,502.5 21,502.2 22,502.3 23,503.1 24,504.4 25,505.9 26,507.5 27,508.8 28,509.9" stroke="#c8359f"/>
<polyline points="0,466.2 1,469.8 2,473.4 3,476.2 4,478.7 5,480.8 6,482.8 7,484.4 8,486.6 9,488.8 10,490.9 11,493.3 12,495.8 13,497.3 14,496.9 15,495.6 16,495.2 17,496.7 18,499.4 19,501.8 20,502.8 21,502.4 22,501.6 23,501.4 24,501.7 25,501.4 26,499.9 27,497.4 28,495.2" stroke="#c8359f"/>
<polyline points="0,460.8 1,468.1 2,474.7 3,480.2 4,485.2 5,489.7 6,493.9 7,497.3 8,498.8 9,499.2 10,498.9 11,498.7 12,499.1 13,499.3 14,498.7 15,497.5 16,496.5 17,496.1 18,496.1 19,495.9 20,495.2 21,494.2 22,493.5 23,493.8 24,494.7 25,495.2 26,494.5 27,492.8 28,490.8" stroke="#c8359f"/>
<polyline points="0,519.0 1,516.4 2,513.5 3,510.6 4,507.7 5,504.9 6,502.5 7,500.8 8,498.7 9,496.1 10,493.0 11,490.5 12,489.6 13,490.4 14,492.0 15,493.3 16,493.9 17,493.9 18,493.5 19,492.7 20,491.2 21,489.0 22,487.2 23,486.0 24,485.8 25,486.3 26,487.0 27,487.8 28,488.8" stroke="#2e2f7a"/>
<polyline points="0,455.7 1,464.5 2,472.4 3,479.1 4,485.2 5,490.6 6,495.8 7,499.9 8,501.5 9,502.4 10,503.0 11,503.2 12,502.7 13,501.8 14,501.2 15,501.5 16,502.3 17,502.6 18,502.2 19,501.5 20,501.1 21,501.3 22,502.2 23,502.9 24,503.1 25,503.1 26,503.4 27,504.5 28,506.1" stroke="#c8359f"/>
<polyline points="0,452.9 1,464.3 2,474.2 3,482.7 4,490.5 5,497.6 6,504.2 7,509.7 8,510.5 9,509.3 10,506.5 11,503.3 12,500.1 13,497.1 14,494.4 15,492.8 16,492.6 17,493.2 18,494.1 19,494.5 20,493.9 21,492.6 22,491.3 23,490.7 24,490.8 25,490.9 26,490.2 27,488.6 28,486.9" stroke="#c8359f"/>
<polyline points="0,525.7 1,517.9 2,510.8 3,504.1 4,497.8 5,491.7 6,486.2 7,481.8 8,480.8 9,481.1 10,482.1 11,483.9 12,486.6 13,489.8 14,491.9 15,491.7 16,489.7 17,487.7 18,486.5 19,486.8 20,488.1 21,489.7 22,490.7 23,490.9 24,490.4 25,489.3 26,487.8 27,485.7 28,483.5" stroke="#2e2f7a"/>
<polyline points="0,457.7 1,464.7 2,471.1 3,476.5 4,481.4 5,485.7 6,489.7 7,492.9 8,495.0 9,497.1 10,499.0 11,501.1 12,503.8 13,506.6 14,508.2 15,507.7 16,506.1 17,505.2 18,505.8 19,507.4 20,508.7 21,508.6 22,507.0 23,505.0 24,503.8 25,503.3 26,502.9 27,501.7 28,499.8" stroke="#c8359f"/>
<polyline points="0,478.9 1,484.0 2,488.2 3,491.4 4,494.3 5,496.9 6,499.5 7,502.1 8,503.5 9,503.9 10,503.6 11,503.0 12,502.1 13,501.1 14,500.2 15,499.7 16,499.4 17,499.1 18,498.7 19,498.3 20,498.0 21,497.6 22,497.4 23,497.5 24,497.9 25,498.7 26,499.8 27,501.0 28,502.3" stroke="#c8359f"/>
<polyline points="0,496.0 1,495.8 2,495.4 3,495.0 4,494.5 5,493.8 6,492.9 7,492.0 8,490.6 9,489.7 10,488.9 11,487.7 12,486.4 13,485.4 14,485.1 15,485.0 16,484.8 17,484.6 18,484.7 19,485.6 20,486.7 21,487.3 22,487.1 23,486.1 24,485.1 25,485.2 26,486.7 27,489.0 28,491.1" stroke="#2e2f7a"/>
<polyline points="0,498.3 1,496.0 2,494.0 3,492.0 4,490.1 5,488.0 6,486.0 7,484.0 8,482.8 9,482.6 10,483.0 11,483.9 12,485.1 13,486.3 14,486.7 15,486.1 16,484.9 17,483.9 18,483.3 19,483.2 20,483.6 21,484.2 22,484.7 23,484.9 24,484.7 25,484.3 26,483.6 27,483.0 28,482.5" stroke="#2e2f7a"/>
<polyline points="0,495.1 1,494.0 2,493.0 3,492.0 4,491.0 5,489.7 6,488.4 7,487.0 8,485.5 9,484.5 10,483.3 11,482.4 12,482.2 13,482.8 14,482.9 15,482.1 16,480.7 17,479.8 18,479.8 19,480.3 20,480.6 21,480.3 22,479.4 23,478.8 24,478.9 25,479.5 26,479.7 27,479.2 28,477.9" stroke="#2e2f7a"/>
<polyline points="0,483.8 1,483.9 2,484.3 3,484.0 4,483.6 5,483.1 6,482.9 7,482.9 8,485.2 9,487.7 10,490.7 11,493.9 12,497.0 13,499.4 14,501.4 15,503.3 16,505.2 17,506.9 18,507.8 19,507.5 20,506.6 21,505.5 22,504.6 23,503.6 24,502.2 25,500.2 26,498.1 27,496.7 28,496.4" stroke="#c8359f"/>
<polyline points="0,543.6 1,543.6 2,535.9 3,527.2 4,519.0 5,511.4 6,504.8 7,500.4 8,498.8 9,497.3 10,496.0 11,495.8 12,496.4 13,496.6 14,495.6 15,494.1 16,493.5 17,493.9 18,494.2 19,493.2 20,491.2 21,489.5 22,489.7 23,491.8 24,494.4 25,495.9 26,495.6 27,494.4 28,494.1" stroke="#2e2f7a"/>
<polyline points="0,450.1 1,460.0 2,468.9 3,476.6 4,483.6 5,489.9 6,495.7 7,500.3 8,502.3 9,503.9 10,504.9 11,505.1 12,504.4 13,503.7 14,503.8 15,505.3 16,507.5 17,509.6 18,510.9 19,510.9 20,509.8 21,507.9 22,505.6 23,503.8 24,502.9 25,503.1 26,503.9 27,504.9 28,505.4" stroke="#c8359f"/>
<polyline points="0,468.0 1,468.7 2,470.1 3,470.8 4,471.5 5,471.7 6,472.1 7,472.1 8,474.5 9,477.7 10,481.6 11,486.3 12,491.2 13,495.4 14,497.7 15,497.8 16,496.9 17,496.3 18,496.1 19,496.0 20,495.9 21,495.6 22,495.1 23,494.6 24,493.9 25,492.7 26,491.1 27,489.3 28,487.9" stroke="#c8359f"/>
<polyline points="0,514.9 1,512.9 2,510.6 3,508.2 4,505.9 5,503.6 6,501.5 7,500.1 8,498.2 9,495.8 10,492.5 11,489.2 12,487.2 13,487.1 14,488.4 15,489.7 16,490.1 17,489.5 18,488.2 19,487.0 20,486.6 21,487.1 22,488.5 23,490.2 24,491.6 25,492.1 26,491.2 27,489.2 28,486.5" stroke="#2e2f7a"/>
<polyline points="0,525.9 1,520.3 2,514.9 3,509.6 4,504.7 5,499.9 6,495.7 7,492.5 8,491.2 9,490.7 10,490.7 11,490.7 12,490.8 13,491.2 14,492.1 15,492.7 16,492.9 17,492.5 18,491.9 19,491.5 20,491.5 21,491.9 22,492.3 23,492.2 24,491.8 25,491.6 26,491.9 27,492.9 28,493.9" stroke="#2e2f7a"/>
<polyline points="0,540.1 1,531.3 2,523.0 3,515.1 4,507.6 5,500.5 6,494.3 7,489.6 8,488.1 9,486.9 10,486.1 11,485.6 12,485.7 13,486.0 14,486.2 15,485.9 16,485.3 17,484.5 18,483.9 19,483.7 20,483.6 21,483.6 22,483.2 23,482.5 24,481.6 25,480.5 26,479.6 27,478.9 28,478.4" stroke="#2e2f7a"/>
<polyline points="0,478.7 1,486.2 2,492.2 3,497.1 4,501.5 5,505.6 6,509.6 7,513.5 8,514.2 9,512.6 10,509.6 11,506.0 12,502.5 13,499.4 14,497.2 15,495.8 16,494.7 17,493.0 18,491.4 19,490.9 20,491.6 21,493.0 22,494.1 23,494.3 24,493.7 25,492.5 26,491.1 27,489.8 28,488.5" stroke="#c8359f"/>
<polyline points="0,476.1 1,479.3 2,482.2 3,484.3 4,486.2 5,487.7 6,489.3 7,490.9 8,493.3 9,496.5 10,500.0 11,503.4 12,506.2 13,508.2 14,509.6 15,510.5 16,511.3 17,512.1 18,512.9 19,513.5 20,513.9 21,514.1 22,514.2 23,514.2 24,514.1 25,514.1 26,514.6 27,515.5 28,516.8" stroke="#c8359f"/>
<polyline points="0,514.8 1,510.2 2,505.9 3,501.8 4,497.9 5,494.0 6,490.5 7,487.6 8,486.4 9,485.7 10,485.1 11,484.9 12,485.3 13,485.5 14,485.0 15,484.3 16,484.4 17,485.8 18,487.6 19,488.8 20,489.0 21,488.5 22,488.2 23,488.7 24,489.4 25,489.5 26,488.4 27,486.5 28,484.8" stroke="#2e2f7a"/>
<polyline points="0,503.8 1,501.5 2,499.4 3,497.4 4,495.3 5,493.2 6,491.1 7,489.3 8,487.8 9,486.8 10,486.0 11,485.3 12,484.5 13,483.9 14,483.5 15,483.3 16,483.4 17,483.6 18,483.6 19,483.3 20,482.6 21,481.4 22,479.8 23,478.4 24,477.5 25,477.3 26,477.7 27,478.5 28,479.4" stroke="#2e2f7a"/>
<polyline points="0,516.9 1,510.6 2,505.0 3,499.7 4,494.6 5,489.7 6,485.2 7,481.4 8,480.3 9,480.2 10,480.6 11,481.3 12,482.3 13,483.1 14,483.2 15,482.3 16,481.0 17,480.1 18,479.6 19,479.4 20,479.3 21,479.3 22,479.8 23,480.8 24,482.4 25,484.4 26,486.3 27,487.8 28,489.1" stroke="#2e2f7a"/>
<polyline points="0,504.5 1,503.7 2,502.6 3,501.5 4,500.3 5,499.0 6,497.7 7,496.7 8,495.6 9,495.2 10,495.1 11,495.5 12,496.7 13,497.8 14,497.0 15,494.3 16,491.9 17,491.4 18,493.0 19,495.2 20,496.3 21,496.0 22,495.3 23,495.7 24,497.4 25,499.7 26,501.0 27,500.7 28,499.9" stroke="#2e2f7a"/>
<polyline points="0,454.6 1,462.0 2,468.8 3,474.6 4,479.9 5,484.5 6,488.8 7,492.1 8,494.7 9,498.1 10,502.1 11,506.0 12,509.6 13,512.5 14,514.7 15,516.3 16,517.5 17,518.9 18,520.1 19,521.0 20,521.0 21,520.2 22,518.4 23,516.3 24,514.2 25,512.6 26,511.5 27,511.0 28,510.8" stroke="#c8359f"/>
<polyline points="0,466.5 1,470.6 2,474.6 3,477.7 4,480.5 5,482.9 6,485.2 7,487.0 8,489.5 9,492.8 10,496.5 11,500.5 12,504.5 13,508.0 14,510.6 15,512.0 16,512.4 17,512.6 18,512.4 19,512.0 20,511.5 21,511.2 22,511.1 23,511.0 24,510.8 25,510.2 26,509.4 27,508.6 28,507.9" stroke="#c8359f"/>
<polyline points="0,516.2 1,511.0 2,506.2 3,501.6 4,497.2 5,493.0 6,489.0 7,485.9 8,484.7 9,484.5 10,484.1 11,482.9 12,481.4 13,480.6 14,481.1 15,482.1 16,482.6 17,482.5 18,482.0 19,481.8 20,482.2 21,482.9 22,483.7 23,484.6 24,485.8 25,487.7 26,490.2 27,492.5 28,493.7" stroke="#2e2f7a"/>
<polyline points="0,484.2 1,484.2 2,484.5 3,484.8 4,484.8 5,484.6 6,484.1 7,483.1 8,482.1 9,482.2 10,482.3 11,482.0 12,481.8 13,482.0 14,482.3 15,481.8 16,480.7 17,479.9 18,480.2 19,481.7 20,483.6 21,485.0 22,485.6 23,485.8 24,486.2 25,487.4 26,488.6 27,489.0 28,488.1" stroke="#2e2f7a"/>
<polyline points="0,482.0 1,485.2 2,487.8 3,489.6 4,491.2 5,492.6 6,494.1 7,495.7 8,497.3 9,497.9 10,498.0 11,497.5 12,496.3 13,494.1 14,491.9 15,491.2 16,492.2 17,493.7 18,494.8 19,494.7 20,494.0 21,493.3 22,493.3 23,494.0 24,494.6 25,494.6 26,494.0 27,493.3 28,493.1" stroke="#c8359f"/>
<polyline points="0,508.7 1,506.7 2,504.6 3,502.5 4,500.5 5,498.3 6,496.4 7,494.8 8,493.3 9,492.4 10,491.6 11,490.8 12,489.8 13,489.2 14,489.4 15,489.9 16,490.0 17,489.4 18,488.4 19,487.7 20,488.0 21,488.9 22,489.8 23,489.9 24,489.4 25,488.8 26,489.0 27,490.0 28,491.1" stroke="#2e2f7a"/>
<polyline points="0,468.0 1,473.5 2,478.4 3,482.3 4,485.8 5,488.9 6,492.0 7,494.5 8,496.6 9,498.2 10,499.4 11,500.4 12,501.4 13,502.3 14,502.5 15,502.1 16,502.0 17,502.9 18,505.0 19,507.3 20,508.6 21,508.3 22,506.9 23,505.4 24,504.6 25,504.2 26,503.6 27,502.2 28,500.4" stroke="#c8359f"/>
<polyline points="0,486.9 1,486.5 2,486.3 3,485.5 4,484.7 5,483.7 6,483.2 7,482.9 8,485.3 9,488.0 10,490.8 11,493.2 12,494.9 13,495.7 14,495.7 15,495.4 16,495.1 17,495.2 18,495.7 19,496.5 20,497.4 21,498.3 22,499.1 23,499.7 24,500.2 25,500.3 26,500.1 27,499.5 28,498.7" stroke="#c8359f"/>
<polyline points="0,508.2 1,504.5 2,501.1 3,497.9 4,494.7 5,491.6 6,488.6 7,486.1 8,484.7 9,484.3 10,484.2 11,484.6 12,485.2 13,485.8 14,485.8 15,485.2 16,484.2 17,483.5 18,483.1 19,483.1 20,483.1 21,483.1 22,483.2 23,483.5 24,484.1 25,485.0 26,486.3 27,487.7 28,489.4" stroke="#2e2f7a"/>
<polyline points="0,509.2 1,502.2 2,496.4 3,490.9 4,485.7 5,480.6 6,475.7 7,471.4 8,471.1 9,473.0 10,476.2 11,480.1 12,484.2 13,488.2 14,491.5 15,493.1 16,492.9 17,492.0 18,490.3 19,488.4 20,486.6 21,485.4 22,484.7 23,484.7 24,485.4 25,486.6 26,488.2 27,489.8 28,491.0" stroke="#2e2f7a"/>
<polyline points="0,512.0 1,508.2 2,504.5 3,501.0 4,497.6 5,494.3 6,491.2 7,488.6 8,486.8 9,484.9 10,483.1 11,481.8 12,481.5 13,481.8 14,482.2 15,482.0 16,481.2 17,480.1 18,478.8 19,477.9 20,477.6 21,478.0 22,478.8 23,479.5 24,479.7 25,479.2 26,478.1 27,477.1 28,476.5" stroke="#2e2f7a"/>
<polyline points="0,524.2 1,521.6 2,518.5 3,515.4 4,512.3 5,509.4 6,506.9 7,505.3 8,503.0 9,500.1 10,496.8 11,494.0 12,492.3 13,491.8 14,491.5 15,491.1 16,490.7 17,490.2 18,489.8 19,489.2 20,488.2 21,486.7 22,485.0 23,483.5 24,482.3 25,481.5 26,480.8 27,480.2 28,480.2" stroke="#2e2f7a"/>
<polyline points="0,459.0 1,466.4 2,473.1 3,478.7 4,483.8 5,488.3 6,492.6 7,496.0 8,497.9 9,499.0 10,498.6 11,496.6 12,494.4 13,493.0 14,492.7 15,493.0 16,493.7 17,494.9 18,496.6 19,497.7 20,497.1 21,494.6 22,491.7 23,490.5 24,492.4 25,496.7 26,501.2 27,503.7 28,503.4" stroke="#c8359f"/>
<polyline points="0,473.7 1,479.0 2,483.6 3,487.2 4,490.4 5,493.2 6,496.1 7,498.7 8,500.2 9,500.6 10,499.5 11,497.6 12,495.6 13,494.3 14,493.9 15,494.4 16,495.5 17,496.5 18,497.1 19,496.8 20,495.4 21,493.3 22,492.1 23,492.6 24,494.8 25,498.0 26,500.7 27,502.2 28,502.4" stroke="#c8359f"/>
<polyline points="0,518.7 1,517.8 2,516.0 3,514.2 4,512.4 5,510.6 6,509.1 7,508.3 8,506.1 9,503.5 10,500.3 11,496.7 12,493.3 13,490.6 14,488.9 15,488.4 16,488.4 17,488.0 18,487.3 19,486.6 20,486.2 21,486.1 22,486.4 23,486.9 24,487.5 25,488.3 26,489.5 27,490.8 28,492.2" stroke="#2e2f7a"/>
<polyline points="0,509.5 1,505.1 2,501.2 3,497.4 4,493.8 5,490.2 6,486.8 7,484.0 8,482.5 9,481.7 10,480.9 11,480.2 12,479.7 13,479.4 14,479.2 15,479.0 16,478.7 17,478.4 18,478.3 19,478.2 20,478.3 21,478.5 22,478.7 23,478.8 24,478.8 25,478.9 26,478.9 27,478.9 28,478.7" stroke="#2e2f7a"/>
<polyline points="0,485.5 1,488.7 2,491.2 3,493.5 4,495.4 5,497.0 6,498.2 7,498.9 8,497.1 9,495.1 10,492.3 11,489.1 12,486.4 13,485.1 14,485.3 15,486.4 16,487.2 17,487.1 18,486.2 19,484.9 20,483.6 21,482.7 22,482.5 23,483.1 24,484.3 25,485.8 26,487.1 27,487.7 28,487.3" stroke="#2e2f7a"/>
<polyline points="0,513.9 1,509.9 2,506.1 3,502.5 4,498.9 5,495.5 6,492.3 7,489.7 8,488.6 9,488.1 10,487.8 11,487.8 12,488.1 13,488.5 14,488.5 15,488.4 16,488.5 17,489.0 18,488.9 19,487.7 20,485.8 21,484.2 22,483.8 23,485.1 24,487.4 25,489.3 26,490.0 27,489.3 28,488.1" stroke="#2e2f7a"/>
<polyline points="0,516.7 1,512.6 2,508.5 3,504.6 4,500.9 5,497.2 6,493.9 7,491.3 8,489.8 9,488.8 10,487.6 11,485.8 12,484.0 13,483.0 14,483.6 15,485.3 16,487.0 17,488.1 18,488.3 19,488.3 20,488.6 21,489.2 22,489.7 23,489.7 24,489.2 25,488.5 26,488.3 27,488.4 28,488.4" stroke="#2e2f7a"/>
<polyline points="0,529.8 1,528.3 2,525.7 3,523.0 4,520.4 5,518.0 6,516.0 7,515.1 8,512.7 9,509.4 10,505.3 11,501.0 12,497.0 13,493.6 14,491.0 15,489.7 16,489.4 17,488.9 18,488.3 19,487.6 20,487.2 21,487.6 22,488.6 23,490.0 24,490.9 25,491.2 26,491.0 27,490.6 28,490.4" stroke="#2e2f7a"/>
<polyline points="0,521.8 1,521.3 2,519.8 3,518.2 4,516.6 5,515.0 6,513.7 7,513.2 8,510.7 9,507.0 10,502.4 11,497.3 12,492.4 13,488.3 14,485.4 15,484.2 16,484.2 17,484.1 18,483.9 19,483.6 20,483.4 21,483.4 22,483.7 23,484.1 24,484.4 25,484.6 26,484.8 27,485.3 28,486.0" stroke="#2e2f7a"/>
<polyline points="0,518.0 1,510.4 2,503.7 3,497.5 4,491.5 5,485.7 6,480.4 7,476.0 8,475.3 9,476.7 10,479.1 11,481.7 12,484.0 13,485.9 14,487.6 15,488.4 16,488.7 17,489.0 18,489.5 19,490.2 20,490.9 21,491.0 22,490.6 23,489.7 24,488.8 25,488.8 26,490.2 27,492.6 28,495.4" stroke="#2e2f7a"/>
<polyline points="0,518.4 1,509.6 2,502.1 3,495.1 4,488.4 5,482.0 6,476.0 7,471.0 8,469.8 9,469.9 10,470.5 11,471.2 12,471.8 13,472.2 14,472.5 15,472.8 16,473.1 17,473.6 18,473.9 19,473.9 20,473.8 21,473.5 22,473.2 23,472.8 24,472.3 25,472.0 26,472.2 27,472.8 28,473.7" stroke="#2e2f7a"/>
<polyline points="0,459.1 1,466.9 2,473.8 3,479.6 4,484.9 5,489.6 6,494.0 7,497.6 8,499.6 9,501.5 10,503.1 11,504.2 12,505.2 13,506.5 14,507.7 15,508.0 16,507.0 17,505.5 18,504.6 19,504.5 20,505.0 21,505.0 22,504.1 23,503.0 24,502.5 25,503.4 26,505.3 27,507.2 28,508.2" stroke="#c8359f"/>
<polyline points="0,478.3 1,479.5 2,480.8 3,481.5 4,482.0 5,482.3 6,482.8 7,483.2 8,486.1 9,490.2 10,494.5 11,498.3 12,501.7 13,505.5 14,509.6 15,512.9 16,514.3 17,514.6 18,514.0 19,512.9 20,511.6 21,510.3 22,509.1 23,508.6 24,509.2 25,511.0 26,513.5 27,515.5 28,516.0" stroke="#c8359f"/>
<polyline points="0,543.6 1,536.6 2,529.1 3,521.8 4,515.0 5,508.5 6,503.0 7,499.1 8,497.3 9,495.3 10,492.8 11,489.8 12,486.6 13,484.2 14,483.3 15,484.0 16,485.6 17,486.7 18,487.0 19,486.1 20,484.5 21,482.6 22,481.0 23,480.1 24,480.1 25,481.0 26,482.5 27,484.1 28,485.2" stroke="#2e2f7a"/>
<polyline points="0,514.9 1,510.1 2,505.6 3,501.3 4,497.2 5,493.2 6,489.5 7,486.5 8,484.9 9,483.6 10,482.4 11,481.4 12,480.7 13,480.3 14,479.9 15,479.3 16,478.6 17,477.7 18,477.0 19,476.4 20,476.1 21,476.0 22,476.2 23,476.8 24,477.6 25,478.8 26,480.2 27,481.9 28,483.6" stroke="#2e2f7a"/>
<polyline points="0,469.3 1,472.7 2,475.9 3,478.4 4,480.6 5,482.3 6,484.1 7,485.6 8,488.0 9,490.7 10,493.3 11,495.9 12,498.5 13,500.4 14,500.6 15,499.5 16,498.8 17,499.9 18,502.5 19,505.3 20,506.6 21,505.9 22,504.4 23,503.4 24,503.7 25,504.8 26,505.4 27,505.0 28,504.2" stroke="#c8359f"/>
<polyline points="0,470.1 1,473.6 2,476.9 3,479.5 4,481.8 5,483.7 6,485.6 7,487.1 8,489.3 9,491.8 10,494.4 11,496.9 12,499.2 13,500.7 14,501.5 15,501.5 16,501.1 17,500.8 18,500.7 19,500.9 20,501.3 21,501.8 22,502.2 23,502.4 24,502.6 25,502.7 26,503.0 27,503.5 28,504.1" stroke="#c8359f"/>
<polyline points="0,455.2 1,465.0 2,473.6 3,481.0 4,487.7 5,493.7 6,499.4 7,504.1 8,505.5 9,506.0 10,505.8 11,504.9 12,503.2 13,500.8 14,498.3 15,496.5 16,495.9 17,496.5 18,498.4 19,501.0 20,503.1 21,503.7 22,502.4 23,499.9 24,497.5 25,495.8 26,495.3 27,495.4 28,495.8" stroke="#c8359f"/>
<polyline points="0,516.2 1,514.4 2,512.2 3,509.9 4,507.7 5,505.4 6,503.5 7,502.1 8,500.1 9,497.5 10,494.6 11,491.7 12,489.0 13,486.2 14,483.2 15,481.1 16,480.6 17,481.3 18,482.6 19,483.6 20,483.6 21,482.8 22,482.1 23,482.0 24,482.4 25,482.9 26,483.0 27,483.1 28,483.7" stroke="#2e2f7a"/>
<polyline points="0,501.0 1,497.6 2,494.8 3,492.1 4,489.5 5,486.8 6,484.1 7,481.7 8,480.7 9,481.2 10,482.2 11,483.6 12,484.6 13,485.0 14,485.0 15,485.4 16,486.9 17,489.5 18,491.8 19,492.7 20,492.1 21,490.6 22,489.0 23,487.6 24,486.6 25,485.7 26,485.0 27,484.6 28,484.9" stroke="#2e2f7a"/>
<polyline points="0,468.4 1,471.6 2,474.8 3,477.2 4,479.3 5,481.1 6,482.8 7,484.2 8,486.4 9,489.0 10,492.0 11,494.6 12,496.3 13,497.3 14,498.3 15,499.6 16,500.8 17,501.3 18,500.8 19,499.8 20,499.0 21,498.9 22,499.3 23,499.6 24,499.4 25,499.0 26,499.2 27,500.1 28,501.4" stroke="#c8359f"/>
<polyline points="0,537.7 1,529.7 2,522.1 3,514.8 4,507.9 5,501.4 6,495.6 7,491.4 8,489.9 9,489.1 10,488.6 11,488.2 12,487.6 13,486.8 14,485.9 15,485.3 16,485.0 17,484.5 18,483.3 19,482.0 20,481.0 21,480.7 22,480.8 23,480.9 24,480.7 25,480.1 26,479.5 27,479.2 28,479.1" stroke="#2e2f7a"/>
<polyline points="0,473.6 1,479.4 2,484.4 3,488.4 4,492.0 5,495.1 6,498.3 7,501.2 8,502.5 9,502.7 10,502.2 11,501.5 12,500.5 13,498.7 14,496.4 15,494.1 16,492.6 17,491.9 18,492.4 19,494.0 20,496.1 21,497.8 22,498.8 23,498.8 24,498.1 25,497.1 26,496.0 27,495.3 28,495.3" stroke="#c8359f"/>
<polyline points="0,478.1 1,484.1 2,489.1 3,493.0 4,496.5 5,499.7 6,502.9 7,506.0 8,507.4 9,507.4 10,506.4 11,504.6 12,502.6 13,501.0 14,500.3 15,500.4 16,500.7 17,500.5 18,500.2 19,500.3 20,500.6 21,501.1 22,501.3 23,501.1 24,500.8 25,500.4 26,500.0 27,499.3 28,498.1" stroke="#c8359f"/>
<polyline points="0,524.6 1,521.9 2,518.7 3,515.5 4,512.5 5,509.5 6,506.9 7,505.3 8,503.1 9,500.4 10,497.0 11,493.3 12,489.7 13,486.5 14,483.9 15,482.3 16,481.4 17,480.6 18,480.0 19,479.6 20,479.6 21,480.1 22,480.8 23,481.6 24,482.4 25,482.9 26,483.2 27,483.1 28,482.9" stroke="#2e2f7a"/>
<polyline points="0,462.1 1,470.6 2,477.9 3,484.1 4,489.8 5,494.9 6,499.7 7,503.8 8,505.6 9,506.9 10,508.0 11,508.5 12,508.3 13,507.2 14,505.8 15,504.8 16,504.5 17,504.9 18,505.7 19,506.8 20,507.7 21,508.4 22,508.8 23,509.0 24,509.0 25,509.0 26,509.3 27,509.8 28,510.5" stroke="#c8359f"/>
<polyline points="0,517.7 1,514.0 2,510.3 3,506.7 4,503.2 5,499.8 6,496.8 7,494.5 8,492.8 9,491.4 10,489.5 11,486.6 12,483.9 13,483.0 14,483.9 15,484.6 16,483.5 17,481.1 18,479.5 19,480.1 20,482.3 21,484.2 22,484.1 23,482.1 24,480.1 25,480.1 26,482.2 27,484.8 28,485.8" stroke="#2e2f7a"/>
<polyline points="0,523.3 1,518.2 2,513.1 3,508.3 4,503.7 5,499.2 6,495.2 7,492.2 8,490.8 9,489.7 10,488.8 11,488.6 12,489.1 13,489.5 14,489.2 15,488.6 16,488.6 17,489.3 18,490.0 19,490.2 20,490.0 21,490.0 22,490.7 23,492.1 24,492.9 25,492.4 26,490.5 27,488.1 28,486.5" stroke="#2e2f7a"/>
<polyline points="0,513.5 1,512.3 2,510.5 3,508.7 4,506.9 5,505.0 6,503.4 7,502.3 8,500.5 9,499.0 10,497.7 11,496.2 12,494.2 13,492.0 14,490.6 15,490.5 16,491.0 17,490.9 18,489.9 19,488.6 20,488.0 21,488.7 22,490.2 23,491.2 24,491.2 25,490.4 26,490.0 27,490.5 28,491.9" stroke="#2e2f7a"/>
<polyline points="0,461.2 1,467.5 2,473.3 3,478.1 4,482.5 5,486.3 6,489.9 7,492.8 8,494.3 9,495.0 10,494.9 11,494.0 12,492.2 13,489.8 14,487.5 15,486.4 16,486.7 17,487.6 18,489.1 19,490.6 20,491.8 21,492.4 22,492.4 23,491.9 24,491.3 25,490.8 26,490.6 27,490.8 28,491.2" stroke="#c8359f"/>
<polyline points="0,521.6 1,519.1 2,516.2 3,513.3 4,510.4 5,507.7 6,505.3 7,503.7 8,502.3 9,501.3 10,500.3 11,498.9 12,496.8 13,494.2 14,491.5 15,489.9 16,489.8 17,491.0 18,492.9 19,494.9 20,496.5 21,497.6 22,498.3 23,498.8 24,499.2 25,499.6 26,500.1 27,500.9 28,502.0" stroke="#2e2f7a"/>
<polyline points="0,499.8 1,496.1 2,493.0 3,490.1 4,487.3 5,484.3 6,481.5 7,478.7 8,478.0 9,478.8 10,480.7 11,484.0 12,487.8 13,490.4 14,490.7 15,489.7 16,489.5 17,490.8 18,492.2 19,492.2 20,490.4 21,488.2 22,487.3 23,488.4 24,490.4 25,491.6 26,491.4 27,490.6 28,490.7" stroke="#2e2f7a"/>
<polyline points="0,496.9 1,493.7 2,491.2 3,488.8 4,486.4 5,483.8 6,481.3 7,478.8 8,478.0 9,478.8 10,480.3 11,481.5 12,481.9 13,481.8 14,482.4 15,484.0 16,486.2 17,488.1 18,488.8 19,488.2 20,487.0 21,486.1 22,486.0 23,486.4 24,487.0 25,488.0 26,489.9 27,492.7 28,495.8" stroke="#2e2f7a"/>
<polyline points="0,507.5 1,499.8 2,493.6 3,487.8 4,482.3 5,476.8 6,471.7 7,467.0 8,466.7 9,468.8 10,472.3 11,476.0 12,479.0 13,481.6 14,484.0 15,485.3 16,485.3 17,484.6 18,483.7 19,483.5 20,484.1 21,485.0 22,485.6 23,485.4 24,484.8 25,485.2 26,487.3 27,490.6 28,493.8" stroke="#2e2f7a"/>
<polyline points="0,520.7 1,517.5 2,514.1 3,510.8 4,507.6 5,504.4 6,501.6 7,499.7 8,498.1 9,497.1 10,496.6 11,495.9 12,494.8 13,493.1 14,491.0 15,489.4 16,489.0 17,489.6 18,491.0 19,492.7 20,494.0 21,494.4 22,493.8 23,492.3 24,490.7 25,489.6 26,489.6 27,491.0 28,493.2" stroke="#2e2f7a"/>
<polyline points="0,525.8 1,518.2 2,511.2 3,504.6 4,498.4 5,492.4 6,487.0 7,482.7 8,481.4 9,480.9 10,481.0 11,481.4 12,481.8 13,482.3 14,483.1 15,483.8 16,483.9 17,483.4 18,482.2 19,480.9 20,480.1 21,480.1 22,480.6 23,480.9 24,480.7 25,480.4 26,480.5 27,481.3 28,482.6" stroke="#2e2f7a"/>
<polyline points="0,513.7 1,508.3 2,503.5 3,498.9 4,494.6 5,490.3 6,486.3 7,483.0 8,481.6 9,480.9 10,480.7 11,480.9 12,481.3 13,481.9 14,482.7 15,483.1 16,482.5 17,480.5 18,477.5 19,474.5 20,472.9 21,473.4 22,475.4 23,477.7 24,479.2 25,479.9 26,480.2 27,480.7 28,481.2" stroke="#2e2f7a"/>
<polyline points="0,522.8 1,516.4 2,510.5 3,504.8 4,499.5 5,494.3 6,489.7 7,486.0 8,484.7 9,483.9 10,483.1 11,482.7 12,483.0 13,483.6 14,483.3 15,482.4 16,482.2 17,483.3 18,485.3 19,486.7 20,486.4 21,484.5 22,482.1 23,480.7 24,480.6 25,481.1 26,480.9 27,479.8 28,478.5" stroke="#2e2f7a"/>
<polyline points="0,500.6 1,495.7 2,491.8 3,488.2 4,484.6 5,481.0 6,477.5 7,474.3 8,473.5 9,474.8 10,477.7 11,481.3 12,484.4 13,486.5 14,487.4 15,486.9 16,485.8 17,485.2 18,485.2 19,486.3 20,488.2 21,490.0 22,490.7 23,489.5 24,487.0 25,484.3 26,482.7 27,482.8 28,484.2" stroke="#2e2f7a"/>
<polyline points="0,495.5 1,496.6 2,497.2 3,497.7 4,498.1 5,498.1 6,498.0 7,497.9 8,496.0 9,493.7 10,490.9 11,488.7 12,487.4 13,486.7 14,486.1 15,486.0 16,487.2 17,489.5 18,491.8 19,493.0 20,492.6 21,491.2 22,489.8 23,489.0 24,488.4 25,487.3 26,485.2 27,482.8 28,481.3" stroke="#2e2f7a"/>
<polyline points="0,474.8 1,479.5 2,483.7 3,487.4 4,490.8 5,493.6 6,495.8 7,497.2 8,495.9 9,495.5 10,495.4 11,495.0 12,494.5 13,494.6 14,495.3 15,496.3 16,496.6 17,496.1 18,495.2 19,494.6 20,494.8 21,495.5 22,495.9 23,495.7 24,494.8 25,493.9 26,493.6 27,493.5 28,493.3" stroke="#2e2f7a"/>
<polyline points="0,504.6 1,503.0 2,501.3 3,499.6 4,497.9 5,496.1 6,494.4 7,492.9 8,490.7 9,487.8 10,484.2 11,480.5 12,477.3 13,474.6 14,472.1 15,469.7 16,467.2 17,464.4 18,462.3 19,461.7 20,462.7 21,465.1 22,468.2 23,471.2 24,473.5 25,474.7 26,474.9 27,474.2 28,473.2" stroke="#2e2f7a"/>
<polyline points="0,472.4 1,479.1 2,484.8 3,489.4 4,493.6 5,497.3 6,501.0 7,504.4 8,506.0 9,507.1 10,507.5 11,507.0 12,505.6 13,503.8 14,502.4 15,501.8 16,501.6 17,501.4 18,501.5 19,502.3 20,503.5 21,504.5 22,504.6 23,503.8 24,502.6 25,501.7 26,501.5 27,501.5 28,501.1" stroke="#c8359f"/>
<polyline points="0,538.1 1,532.2 2,526.1 3,520.2 4,514.6 5,509.3 6,504.7 7,501.6 8,500.2 9,499.5 10,498.9 11,498.2 12,497.4 13,496.7 14,495.7 15,494.2 16,492.6 17,491.2 18,490.6 19,490.8 20,491.7 21,492.6 22,493.5 23,494.4 24,495.5 25,497.1 26,499.0 27,500.6 28,501.6" stroke="#2e2f7a"/>
<polyline points="0,472.6 1,479.4 2,485.1 3,489.7 4,493.9 5,497.7 6,501.4 7,504.8 8,506.0 9,506.0 10,504.7 11,502.7 12,500.8 13,499.2 14,497.8 15,496.6 16,496.0 17,496.4 18,497.9 19,499.6 20,500.3 21,499.2 22,497.0 23,495.2 24,495.0 25,496.3 26,498.1 27,499.3 28,499.7" stroke="#c8359f"/>
<polyline points="0,471.9 1,475.6 2,478.9 3,481.5 4,483.8 5,485.7 6,487.6 7,489.3 8,491.5 9,493.9 10,496.5 11,499.8 12,503.3 13,506.1 14,507.5 15,507.9 16,508.6 17,510.0 18,511.4 19,511.5 20,510.1 21,508.0 22,506.4 23,505.8 24,506.0 25,505.8 26,504.8 27,503.4 28,502.5" stroke="#c8359f"/>
<polyline points="0,513.8 1,509.6 2,505.6 3,501.7 4,498.1 5,494.4 6,491.1 7,488.4 8,487.1 9,486.5 10,486.3 11,485.7 12,484.7 13,484.1 14,484.7 15,486.2 16,487.2 17,487.1 18,486.1 19,485.5 20,486.4 21,488.6 22,490.8 23,491.5 24,490.4 25,488.5 26,487.3 27,487.1 28,487.5" stroke="#2e2f7a"/>
<polyline points="0,463.9 1,469.0 2,473.8 3,477.7 4,481.2 5,484.3 6,487.1 7,489.5 8,491.1 9,492.1 10,492.7 11,493.4 12,494.3 13,495.3 14,496.4 15,497.7 16,498.9 17,499.8 18,500.0 19,499.5 20,498.8 21,498.2 22,498.1 23,498.1 24,497.9 25,497.2 26,496.3 27,495.6 28,495.6" stroke="#c8359f"/>
<polyline points="0,499.7 1,498.7 2,497.6 3,496.6 4,495.4 5,494.1 6,492.8 7,491.6 8,490.1 9,489.0 10,487.9 11,486.9 12,486.1 13,485.5 14,485.0 15,484.3 16,483.8 17,483.4 18,483.2 19,483.3 20,483.3 21,483.3 22,483.4 23,483.8 24,484.4 25,485.3 26,486.3 27,487.2 28,488.0" stroke="#2e2f7a"/>
<polyline points="0,472.4 1,475.8 2,479.0 3,481.4 4,483.6 5,485.4 6,487.2 7,488.8 8,490.7 9,492.5 10,494.1 11,496.0 12,497.8 13,499.3 14,499.8 15,499.4 16,498.7 17,498.3 18,498.2 19,498.2 20,497.7 21,496.9 22,495.7 23,494.9 24,494.6 25,494.5 26,494.1 27,493.4 28,492.5" stroke="#c8359f"/>
<polyline points="0,497.2 1,499.8 2,501.6 3,503.0 4,504.3 5,505.2 6,506.0 7,506.7 8,504.8 9,502.5 10,499.8 11,496.6 12,493.7 13,491.5 14,490.4 15,490.0 16,489.9 17,489.4 18,488.9 19,488.7 20,488.8 21,489.1 22,489.2 23,489.3 24,489.4 25,489.9 26,490.9 27,491.9 28,492.6" stroke="#2e2f7a"/>
<polyline points="0,517.2 1,509.9 2,503.4 3,497.4 4,491.7 5,486.1 6,480.9 7,476.6 8,476.3 9,478.1 10,480.9 11,484.6 12,489.3 13,494.7 14,499.1 15,500.6 16,499.7 17,498.5 18,497.6 19,497.3 20,497.2 21,497.1 22,496.8 23,496.7 24,496.8 25,497.0 26,496.5 27,494.9 28,492.4" stroke="#2e2f7a"/>
<polyline points="0,499.8 1,499.0 2,498.2 3,497.3 4,496.3 5,495.1 6,494.0 7,492.9 8,490.8 9,488.2 10,485.0 11,481.9 12,479.5 13,478.2 14,477.7 15,477.7 16,477.6 17,477.1 18,476.2 19,475.2 20,474.4 21,474.0 22,474.3 23,475.0 24,475.8 25,476.3 26,476.2 27,475.9 28,475.5" stroke="#2e2f7a"/>
<polyline points="0,482.8 1,487.1 2,490.7 3,493.8 4,496.7 5,499.0 6,501.0 7,502.3 8,500.7 9,499.6 10,498.7 11,498.1 12,497.7 13,497.2 14,496.4 15,495.3 16,494.5 17,494.0 18,493.4 19,492.6 20,491.4 21,490.3 22,489.7 23,489.9 24,490.9 25,492.1 26,493.3 27,494.4 28,495.5" stroke="#2e2f7a"/>
<polyline points="0,480.1 1,484.7 2,488.6 3,491.5 4,494.1 5,496.3 6,498.8 7,501.1 8,502.9 9,504.1 10,505.1 11,506.3 12,508.0 13,508.7 14,507.3 15,504.6 16,502.7 17,502.9 18,504.5 19,505.9 20,505.5 21,503.8 22,502.3 23,502.5 24,504.4 25,506.7 26,508.0 27,508.0 28,507.9" stroke="#c8359f"/>
<polyline points="0,476.6 1,475.1 2,474.6 3,473.5 4,472.5 5,471.2 6,470.2 7,469.2 8,472.3 9,477.3 10,483.9 11,491.3 12,497.3 13,501.1 14,503.6 15,506.2 16,509.0 17,511.2 18,511.1 19,509.2 20,507.2 21,507.1 22,508.9 23,511.0 24,511.3 25,509.6 26,507.6 27,507.2 28,509.0" stroke="#c8359f"/>
<polyline points="0,512.6 1,507.0 2,502.1 3,497.4 4,492.9 5,488.5 6,484.4 7,480.9 8,480.0 9,480.6 10,481.9 11,483.2 12,484.4 13,485.7 14,487.4 15,488.9 16,489.6 17,489.5 18,488.7 19,488.0 20,487.7 21,487.9 22,488.1 23,487.9 24,487.3 25,487.1 26,487.5 27,488.6 28,489.5" stroke="#2e2f7a"/>
<polyline points="0,505.7 1,498.8 2,493.2 3,487.9 4,482.9 5,478.0 6,473.2 7,468.9 8,468.6 9,470.7 10,474.3 11,478.1 12,481.0 13,483.5 14,486.4 15,489.0 16,490.0 17,489.4 18,487.4 19,485.9 20,486.5 21,488.9 22,491.2 23,491.7 24,490.0 25,487.3 26,485.7 27,485.7 28,486.3" stroke="#2e2f7a"/>
<polyline points="0,509.1 1,507.0 2,504.9 3,502.7 4,500.6 5,498.5 6,496.4 7,494.9 8,493.5 9,492.6 10,491.9 11,492.2 12,493.8 13,495.4 14,495.5 15,494.1 16,492.8 17,492.6 18,493.0 19,493.0 20,492.2 21,491.3 22,491.5 23,493.3 24,495.7 25,497.1 26,496.3 27,494.1 28,492.0" stroke="#2e2f7a"/>
<polyline points="0,518.6 1,515.0 2,511.3 3,507.7 4,504.2 5,500.8 6,497.8 7,495.5 8,494.1 9,493.5 10,493.3 11,493.5 12,493.7 13,493.2 14,491.8 15,489.7 16,487.8 17,486.7 18,486.7 19,487.8 20,489.7 21,491.6 22,492.9 23,493.3 24,492.8 25,491.5 26,490.0 27,488.7 28,488.0" stroke="#2e2f7a"/>
<polyline points="0,471.2 1,474.6 2,477.9 3,480.4 4,482.6 5,484.4 6,486.2 7,487.8 8,490.3 9,493.7 10,497.3 11,500.2 12,502.0 13,503.3 14,505.1 15,507.0 16,508.3 17,508.8 18,508.9 19,509.4 20,510.6 21,511.8 22,512.0 23,510.8 24,508.6 25,506.8 26,506.1 27,506.4 28,506.5" stroke="#c8359f"/>
<polyline points="0,475.9 1,478.8 2,481.5 3,484.0 4,486.2 5,487.9 6,489.1 7,489.5 8,487.8 9,486.3 10,484.4 11,482.8 12,482.4 13,483.6 14,485.3 15,485.8 16,484.7 17,483.0 18,481.5 19,480.9 20,481.0 21,481.2 22,480.5 23,479.5 24,478.6 25,477.8 26,476.7 27,474.6 28,471.5" stroke="#2e2f7a"/>
<polyline points="0,477.2 1,481.3 2,484.9 3,488.2 4,491.1 5,493.5 6,495.4 7,496.5 8,494.8 9,493.3 10,491.8 11,490.2 12,488.5 13,487.0 14,486.2 15,486.8 16,488.2 17,489.0 18,488.5 19,486.8 20,485.0 21,484.3 22,485.1 23,486.7 24,488.2 25,489.0 26,489.3 27,489.7 28,490.6" stroke="#2e2f7a"/>
<polyline points="0,520.4 1,514.3 2,508.7 3,503.4 4,498.3 5,493.4 6,488.9 7,485.3 8,484.1 9,483.5 10,483.3 11,483.8 12,484.5 13,484.5 14,483.3 15,482.3 16,482.7 17,484.4 18,485.9 19,485.8 20,484.2 21,482.5 22,482.4 23,484.1 24,486.4 25,487.5 26,486.8 27,485.1 28,484.1" stroke="#2e2f7a"/>
<polyline points="0,521.4 1,516.7 2,512.1 3,507.7 4,503.4 5,499.3 6,495.6 7,492.8 8,490.8 9,488.8 10,487.3 11,486.2 12,484.2 13,480.9 14,477.1 15,474.5 16,474.1 17,474.9 18,476.3 19,477.8 20,479.5 21,481.3 22,482.1 23,481.3 24,478.6 25,474.8 26,471.8 27,471.2 28,473.1" stroke="#2e2f7a"/>
<polyline points="0,489.3 1,490.6 2,491.6 3,491.8 4,492.0 5,492.0 6,492.4 7,493.1 8,494.9 9,496.5 10,497.9 11,499.1 12,499.6 13,499.5 14,499.2 15,499.0 16,499.0 17,498.9 18,498.5 19,498.1 20,498.1 21,498.5 22,499.0 23,499.4 24,499.3 25,498.9 26,498.6 27,498.7 28,499.0" stroke="#c8359f"/>
<polyline points="0,524.8 1,517.3 2,510.4 3,503.9 4,497.7 5,491.8 6,486.5 7,482.2 8,481.1 9,481.0 10,481.5 11,482.7 12,484.9 13,488.0 14,491.0 15,492.7 16,492.8 17,492.1 18,490.9 19,489.4 20,488.0 21,487.0 22,486.0 23,485.1 24,484.0 25,482.6 26,480.7 27,478.3 28,475.5" stroke="#2e2f7a"/>
<polyline points="0,497.8 1,499.4 2,500.4 3,501.1 4,501.7 5,502.0 6,502.2 7,502.3 8,500.8 9,499.4 10,498.5 11,498.4 12,498.9 13,499.1 14,498.5 15,498.0 16,498.8 17,500.4 18,501.0 19,499.3 20,495.9 21,492.4 22,490.6 23,491.1 24,492.5 25,493.3 26,492.8 27,491.8 28,491.6" stroke="#2e2f7a"/>
<polyline points="0,512.6 1,506.7 2,501.5 3,496.7 4,492.0 5,487.5 6,483.2 7,479.6 8,479.0 9,480.0 10,481.7 11,483.8 12,486.2 13,488.6 14,490.8 15,492.3 16,493.3 17,494.6 18,496.2 19,497.8 20,499.2 21,500.1 22,500.5 23,500.1 24,499.1 25,497.7 26,496.3 27,495.0 28,494.2" stroke="#2e2f7a"/>
<polyline points="0,477.3 1,478.9 2,480.6 3,481.7 4,482.5 5,483.1 6,483.8 7,484.5 8,486.3 9,488.0 10,489.9 11,492.2 12,494.4 13,496.1 14,497.1 15,497.7 16,497.9 17,498.0 18,498.0 19,498.2 20,498.6 21,499.1 22,499.3 23,498.8 24,497.3 25,495.5 26,494.1 27,494.0 28,495.3" stroke="#c8359f"/>
<polyline points="0,524.8 1,517.7 2,511.1 3,504.8 4,498.9 5,493.2 6,488.1 7,484.0 8,482.4 9,480.9 10,478.9 11,476.5 12,474.9 13,474.4 14,474.3 15,473.8 16,473.3 17,473.6 18,475.2 19,477.2 20,478.5 21,478.1 22,475.9 23,473.4 24,471.8 25,471.1 26,470.4 27,468.7 28,465.9" stroke="#2e2f7a"/>
<polyline points="0,495.0 1,491.7 2,489.1 3,486.6 4,484.2 5,481.6 6,479.1 7,476.5 8,475.3 9,474.9 10,474.8 11,475.1 12,475.5 13,475.7 14,476.1 15,476.9 16,477.7 17,478.0 18,477.0 19,475.3 20,473.9 21,474.3 22,476.3 23,478.8 24,480.5 25,480.4 26,478.8 27,476.9 28,475.3" stroke="#2e2f7a"/>
<polyline points="0,469.5 1,472.4 2,475.3 3,477.4 4,479.3 5,480.8 6,482.3 7,483.5 8,485.8 9,488.4 10,491.4 11,494.4 12,496.8 13,498.5 14,499.7 15,500.4 16,501.0 17,501.6 18,501.8 19,501.4 20,500.3 21,498.6 22,496.9 23,495.7 24,495.4 25,496.0 26,497.6 27,499.9 28,502.4" stroke="#c8359f"/>
</g>
<path d="M535.6 475.18 L537.91 476.85 L540.22 478.57 L542.53 480.21 L544.85 481.67 L547.16 483 L549.47 484.06 L551.78 485.18 L554.09 486.24 L556.4 487.02 L558.72 487.86 L561.03 488.74 L563.34 489.64 L565.65 490.51 L567.96 491.35 L570.27 492.13 L572.59 493.07 L574.9 493.96 L577.21 494.81 L579.52 495.6 L581.83 496.34 L584.14 497.04 L586.46 497.72 L588.77 498.32 L591.08 498.85 L593.39 499.32 L595.7 499.74 L598.01 500.07 L600.33 500.33 L602.64 500.55 L604.95 500.76 L607.26 500.96 L609.57 501.09 L611.88 501.23 L614.2 501.37 L616.51 501.51 L618.82 501.64 L621.13 501.76 L623.44 501.87 L625.75 501.96 L628.07 502.03 L630.38 502.07 L632.69 502.08 L635 502.06 L637.31 502.03 L639.62 501.97 L641.94 501.91 L644.25 501.83 L646.56 501.75 L648.87 501.66 L651.18 501.58 L653.5 501.5 L655.81 501.41 L658.12 501.32 L660.43 501.21 L662.74 501.11 L665.05 501 L667.37 500.89 L669.68 500.78 L671.99 500.67 L674.3 500.56" fill="none" stroke="#c8359f" stroke-width="2.9" stroke-linecap="round"/>
<path d="M535.6 505.64 L537.91 504.71 L540.22 503.78 L542.53 502.85 L544.85 501.91 L547.16 500.99 L549.47 500.07 L551.78 499.16 L554.09 498.24 L556.4 497.3 L558.72 496.34 L561.03 495.39 L563.34 494.46 L565.65 493.59 L567.96 492.79 L570.27 492.07 L572.59 491.3 L574.9 490.66 L577.21 490.12 L579.52 489.64 L581.83 489.2 L584.14 488.74 L586.46 488.28 L588.77 487.87 L591.08 487.51 L593.39 487.21 L595.7 486.96 L598.01 486.8 L600.33 486.7 L602.64 486.63 L604.95 486.56 L607.26 486.44 L609.57 486.36 L611.88 486.26 L614.2 486.16 L616.51 486.05 L618.82 485.93 L621.13 485.83 L623.44 485.73 L625.75 485.64 L628.07 485.57 L630.38 485.51 L632.69 485.47 L635 485.45 L637.31 485.43 L639.62 485.42 L641.94 485.43 L644.25 485.44 L646.56 485.45 L648.87 485.47 L651.18 485.49 L653.5 485.52 L655.81 485.56 L658.12 485.61 L660.43 485.67 L662.74 485.73 L665.05 485.8 L667.37 485.88 L669.68 485.95 L671.99 486.02 L674.3 486.08" fill="none" stroke="#27296a" stroke-width="3" stroke-linecap="round"/>
<line x1="529.6" y1="492.1" x2="674.3" y2="492.1" stroke="#777" stroke-width="0.5" stroke-dasharray="1 1"/>
<line x1="570.2" y1="447" x2="570.2" y2="544.6" stroke="#333" stroke-width="0.6"/>
<line x1="529.6" y1="447" x2="529.6" y2="544.6" stroke="#333" stroke-width="0.7"/>
<line x1="529.6" y1="544.6" x2="674.3" y2="544.6" stroke="#333" stroke-width="0.7"/>
<line x1="527.6" y1="454.5" x2="529.6" y2="454.5" stroke="#333" stroke-width="0.6"/>
<text transform="translate(524.4 454.5) rotate(-90)" x="0" y="3.13" font-size="8.7" text-anchor="middle">2</text>
<line x1="527.6" y1="473.3" x2="529.6" y2="473.3" stroke="#333" stroke-width="0.6"/>
<text transform="translate(524.4 473.3) rotate(-90)" x="0" y="3.13" font-size="8.7" text-anchor="middle">1</text>
<line x1="527.6" y1="492.1" x2="529.6" y2="492.1" stroke="#333" stroke-width="0.6"/>
<text transform="translate(524.4 492.1) rotate(-90)" x="0" y="3.13" font-size="8.7" text-anchor="middle">0</text>
<line x1="527.6" y1="510.9" x2="529.6" y2="510.9" stroke="#333" stroke-width="0.6"/>
<text transform="translate(524.4 510.9) rotate(-90)" x="0" y="3.13" font-size="8.7" text-anchor="middle">-1</text>
<line x1="527.6" y1="529.7" x2="529.6" y2="529.7" stroke="#333" stroke-width="0.6"/>
<text transform="translate(524.4 529.7) rotate(-90)" x="0" y="3.13" font-size="8.7" text-anchor="middle">-2</text>
<line x1="535.6" y1="544.6" x2="535.6" y2="546.6" stroke="#333" stroke-width="0.6"/>
<line x1="570.2" y1="544.6" x2="570.2" y2="546.6" stroke="#333" stroke-width="0.6"/>
<line x1="605" y1="544.6" x2="605" y2="546.6" stroke="#333" stroke-width="0.6"/>
<line x1="639.6" y1="544.6" x2="639.6" y2="546.6" stroke="#333" stroke-width="0.6"/>
<line x1="674.3" y1="544.6" x2="674.3" y2="546.6" stroke="#333" stroke-width="0.6"/>
<text transform="translate(509.6 496.1) rotate(-90)" x="0" y="3.71" font-size="10.3" text-anchor="middle">Hippocampus (BrainSpan)</text>
<text transform="translate(490.6 444.7) rotate(-90)" x="0" y="3.71" font-size="10.3" text-anchor="middle">Z-scaled expression (log<tspan font-size="7" dy="2">2</tspan><tspan dy="-2">CPM)</tspan></text>
<text x="525.6" y="555.68" font-size="9.1">8<tspan font-size="6" dy="1.8">PCW</tspan></text>
<text x="561.1" y="555.68" font-size="9.1">Birth</text>
<text x="597.8" y="555.68" font-size="9.1">2<tspan font-size="6" dy="1.8">Y</tspan></text>
<text x="632.8" y="555.68" font-size="9.1">10<tspan font-size="6" dy="1.8">Y</tspan></text>
<text x="667" y="555.68" font-size="9.1">40<tspan font-size="6" dy="1.8">Y</tspan></text>
<text x="604.5" y="568.28" font-size="9.1" text-anchor="middle">Developmental age (log<tspan font-size="6.5" dy="2">2</tspan><tspan dy="-2">[Days])</tspan></text>
</svg></body></html>
